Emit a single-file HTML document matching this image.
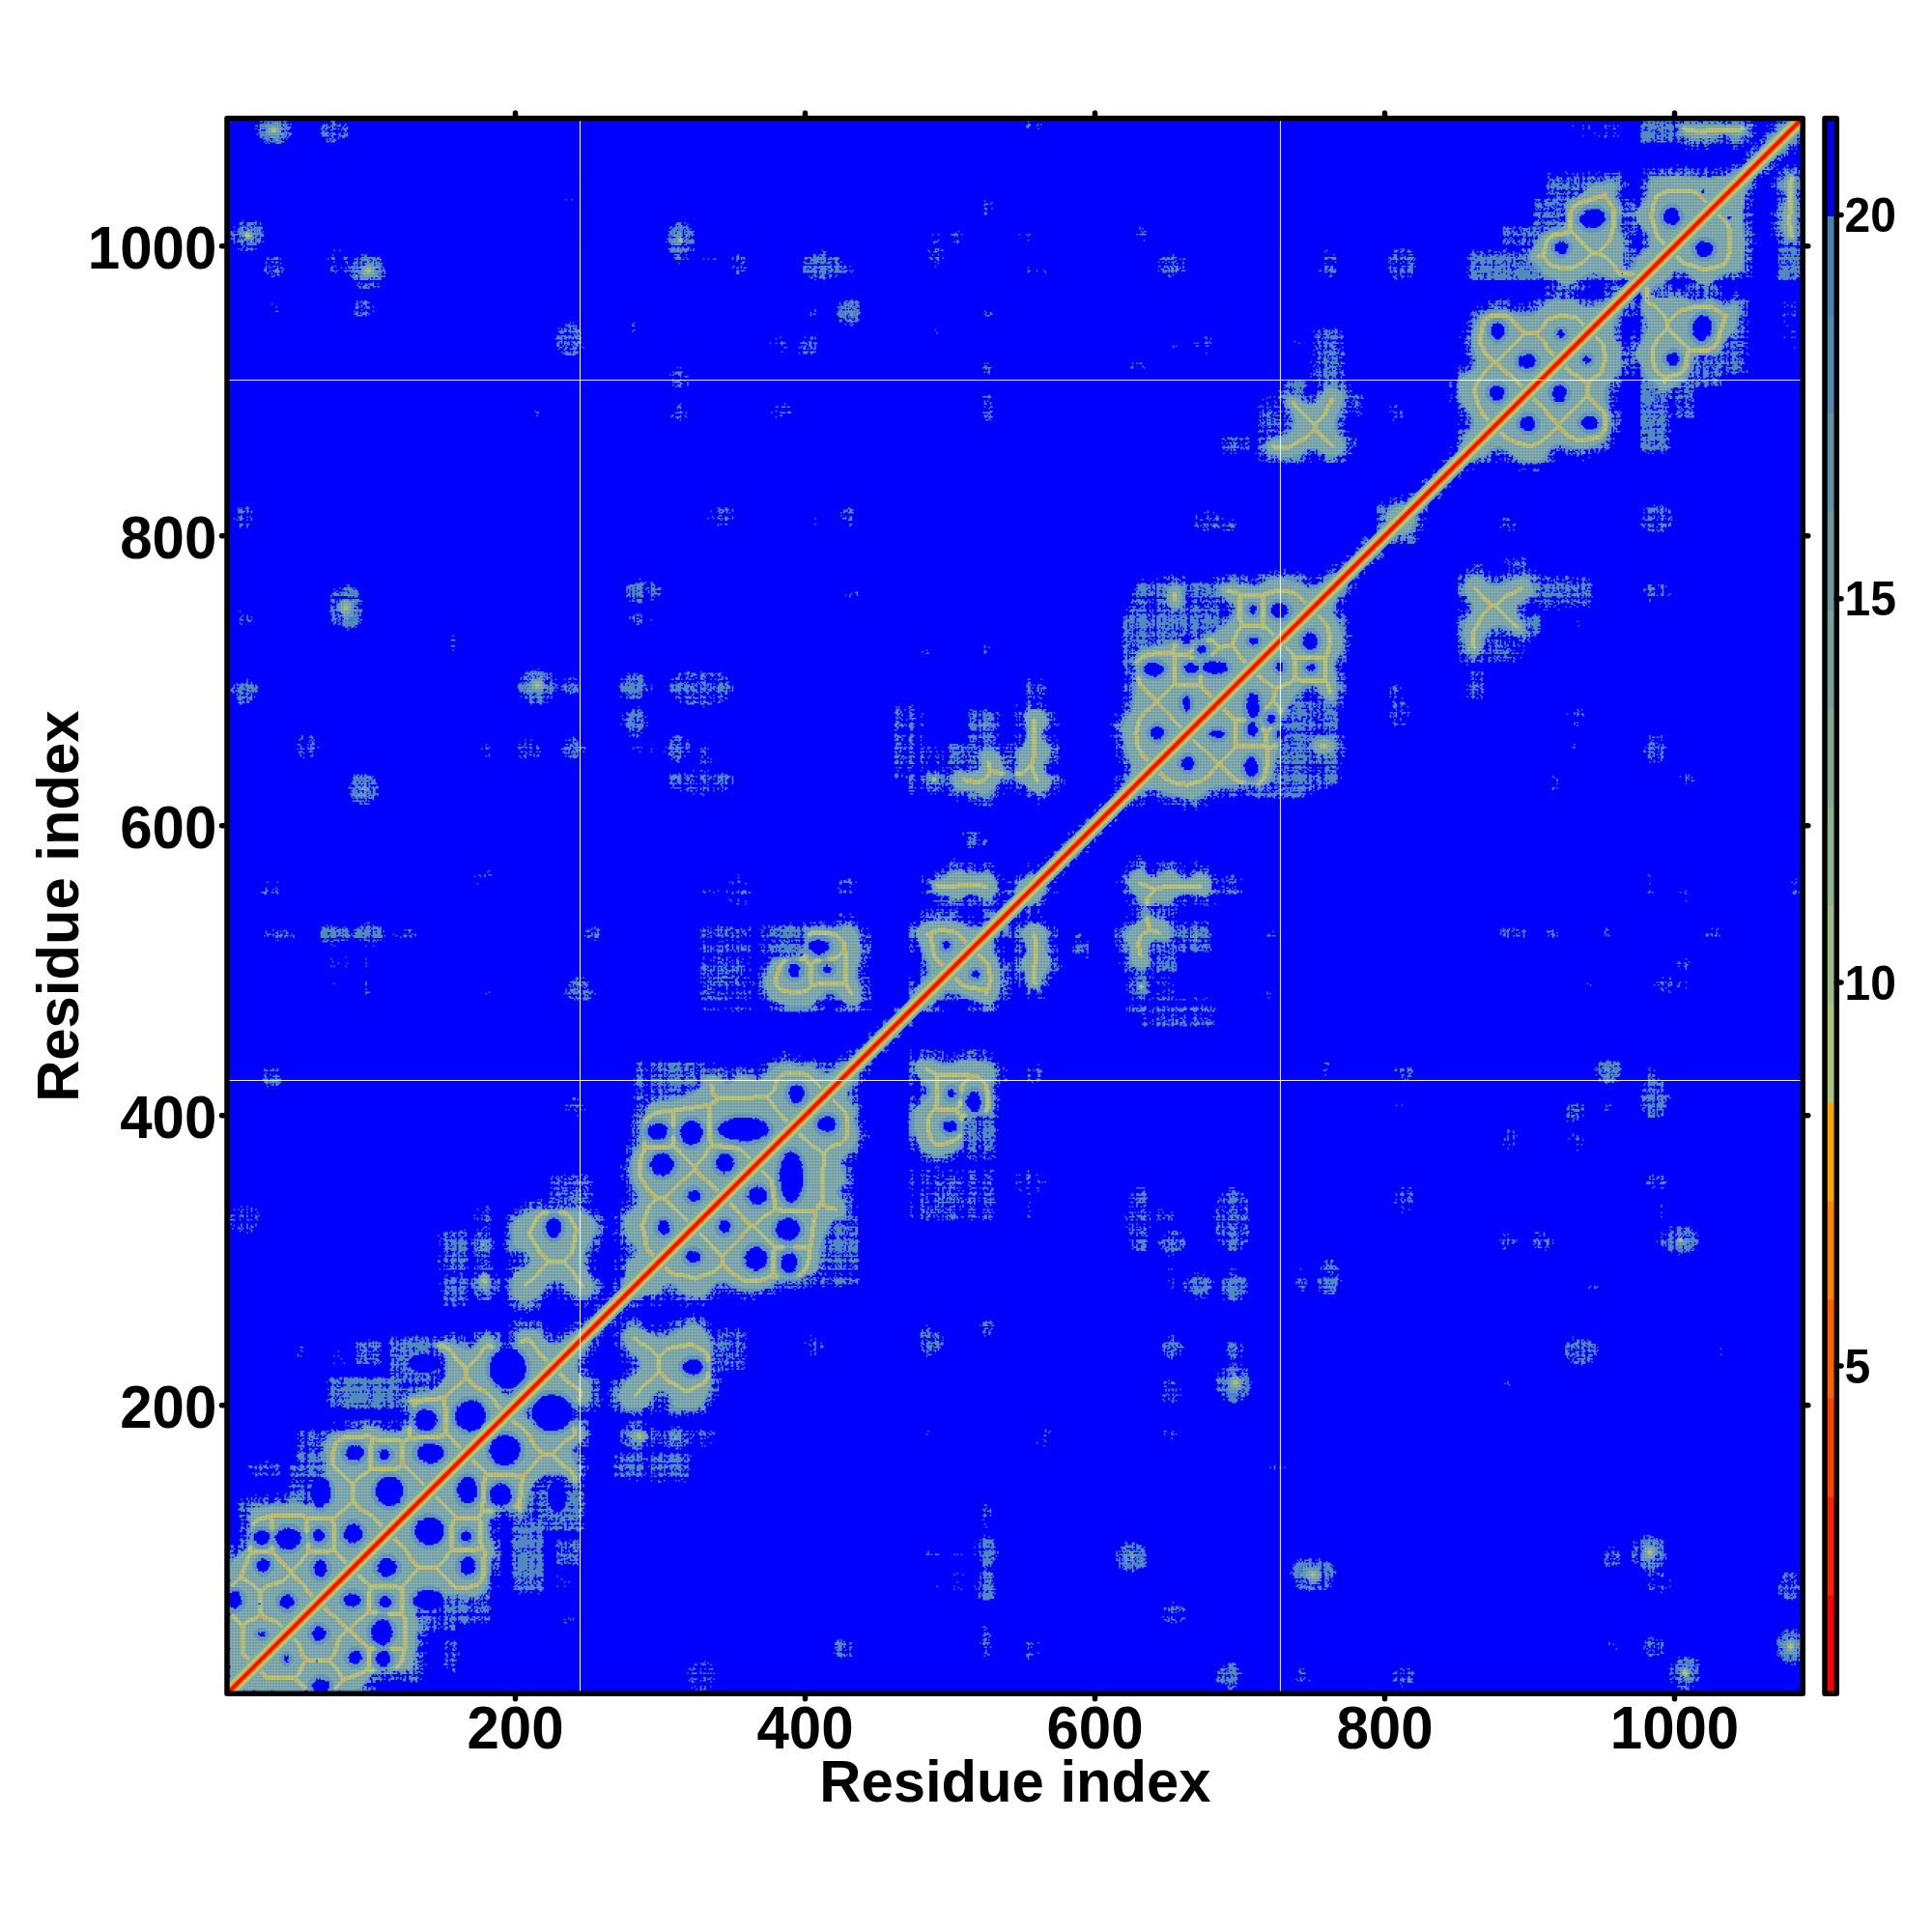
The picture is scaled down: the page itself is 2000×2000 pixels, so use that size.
<!DOCTYPE html>
<html><head><meta charset="utf-8"><title>Residue distance map</title>
<style>
html,body{margin:0;padding:0;background:#fff;}
body{width:2000px;height:2000px;overflow:hidden;}
svg{display:block;}
text{font-family:"Liberation Sans",sans-serif;font-weight:bold;fill:#000;}
</style></head><body>
<svg width="2000" height="2000" viewBox="0 0 2000 2000">
<defs>
<clipPath id="cp"><rect x="237" y="124.5" width="1627" height="1626.5"/></clipPath>
<pattern id="pd" patternUnits="userSpaceOnUse" x="0" y="0.5" width="2" height="2">
<rect width="2" height="2" fill="rgb(92,144,194)"/><rect x="0" y="0" width="1" height="1" fill="rgb(128,170,172)"/><rect x="1" y="1" width="1" height="1" fill="rgb(84,138,192)"/>
</pattern>
<pattern id="p1" patternUnits="userSpaceOnUse" x="0" y="0.5" width="2" height="2">
<rect width="2" height="2" fill="rgb(120,164,176)"/><rect x="0" y="0" width="1" height="1" fill="rgb(160,190,142)"/><rect x="1" y="1" width="1" height="1" fill="rgb(98,148,188)"/>
</pattern>
<pattern id="p2" patternUnits="userSpaceOnUse" x="0" y="0.5" width="2" height="2">
<rect width="2" height="2" fill="rgb(175,198,128)"/><rect x="0" y="0" width="1" height="1" fill="rgb(215,200,90)"/><rect x="1" y="1" width="1" height="1" fill="rgb(140,178,158)"/>
</pattern>
</defs>
<rect width="2000" height="2000" fill="#fff"/>
<rect x="235" y="122.5" width="1631.25" height="1630.75" fill="rgb(0,0,255)"/>
<g clip-path="url(#cp)" fill="none">
<g transform="translate(232.75 1754.75) scale(1.5 -1.5)" stroke-width="1.05">
<path stroke="rgb(84,137,190)" d="M49 0h1m1 0h1m22 0h1m8 0h1m5 0h1M97 1h1m1 0h1M97 3h3m228 0h1M99 4h2m1 0h2m221 0h1m2 0h1m1 0h2m361 0h2m310 0h1m2 0h3M100 5h1m1 0h2m218 0h1m5 0h1m2 0h1m360 0h4m309 0h1m1 0h3M101 6h1m222 0h1m3 0h1m2 0h1m3 0h1m356 0h1m2 0h3m114 0h1m189 0h7m1 0h1m2 0h1M693 7h1m314 0h1M688 8h1m1 0h2m1 0h1m1 0h1m1 0h2m112 0h1m191 0h1m4 0h1m1 0h1M102 9h2m24 0h1m3 0h1m189 0h2m11 0h1m349 0h1m1 0h3m2 0h4m1 0h1m115 0h1m2 0h4m178 0h1m4 0h3m3 0h1m1 0h2M103 10h1m3 0h1m5 0h1m9 0h2m3 0h2m1 0h2m187 0h1m1 0h1m5 0h1m1 0h2m352 0h14m42 0h1m1 0h2m4 0h1m57 0h3m2 0h3m2 0h3m185 0h1m2 0h1m3 0h1m1 0h1m1 0h2M106 11h3m1 0h1m2 0h4m1 0h1m2 0h1m1 0h2m2 0h6m2 0h1m185 0h1m1 0h3m5 0h1m1 0h2m2 0h1m346 0h2m1 0h3m1 0h8m40 0h1m2 0h1m1 0h1m62 0h2m2 0h4m1 0h4m177 0h2m2 0h1m13 0h2M104 12h1m1 0h1m8 0h2m1 0h2m1 0h1m2 0h1m2 0h7m188 0h1m7 0h2m3 0h1m349 0h2m1 0h2m1 0h2m1 0h5m43 0h1m2 0h1m62 0h1m3 0h1m3 0h2m181 0h1m1 0h2m11 0h1m1 0h2M106 13h1m3 0h1m13 0h1m2 0h2m3 0h1m552 0h1m2 0h2m4 0h2m1 0h1m119 0h1m182 0h1m12 0h1M110 14h1m3 0h1m6 0h1m7 0h1m559 0h1m1 0h1m2 0h1m1 0h3m120 0h1m177 0h1m14 0h2M132 15h1m2 0h2m182 0h1m2 0h4m2 0h1m1 0h2m1 0h1m1 0h1m1 0h1m347 0h17m40 0h4m60 0h3m2 0h1m1 0h1m2 0h5m176 0h3m1 0h1m12 0h1m1 0h1M131 16h1m1 0h2m23 0h1m169 0h1m356 0h2m1 0h1m2 0h1m1 0h5m43 0h2m65 0h1m8 0h1m1 0h1m178 0h1m2 0h2m11 0h3M157 17h2m163 0h1m364 0h3m2 0h2m1 0h3m43 0h1m71 0h1m184 0h1m2 0h2m11 0h3M135 18h2m20 0h2m161 0h2m1 0h2m3 0h1m2 0h1m2 0h3m350 0h5m1 0h7m42 0h1m1 0h1m66 0h2m3 0h2m179 0h3m1 0h1m14 0h1M153 19h1m169 0h1m368 0h6m300 0h1m2 0h3m8 0h1m2 0h2M134 20h2m21 0h1m531 0h1m3 0h3m305 0h2m7 0h3m1 0h1m1 0h1M136 21h1m1 0h1m12 0h3m2 0h3m165 0h2m3 0h3m3 0h1m356 0h6m300 0h1m2 0h1m8 0h2m3 0h3m63 0h1m1 0h1M152 22h1m175 0h1m1 0h1m2 0h1m359 0h1m1 0h2m306 0h3m1 0h1m1 0h1m1 0h3m63 0h1m5 0h1M135 23h1m17 0h1m3 0h1m173 0h1m670 0h4m3 0h5m64 0h1m1 0h1M136 24h1m15 0h2m1 0h5m843 0h11m1 0h2m58 0h3m1 0h2m2 0h2m1 0h2M152 25h1m3 0h2m396 0h1m452 0h3m2 0h2m61 0h5m2 0h3m1 0h1M134 26h2m17 0h1m4 0h1m266 0h1m128 0h1m448 0h1m3 0h2m1 0h1m63 0h1m1 0h4m2 0h3M134 27h3m16 0h1m3 0h2m264 0h3m1 0h2m2 0h2m91 0h1m28 0h2m428 0h2m87 0h1m1 0h1m2 0h1m1 0h1m1 0h1m3 0h3m1 0h1M136 28h1m15 0h2m3 0h3m1 0h1m260 0h6m1 0h1m1 0h1m94 0h2m25 0h5m424 0h5m1 0h2m81 0h1m1 0h1m1 0h1m12 0h1M135 29h2m1 0h1m13 0h1m3 0h2m3 0h1m258 0h1m1 0h4m5 0h1m92 0h2m29 0h1m5 0h1m419 0h1m9 0h2m79 0h1M423 30h1m101 0h1m456 0h1m3 0h1m4 0h1m79 0h1m1 0h3m9 0h2M157 31h2m263 0h4m2 0h1m2 0h1m93 0h1m457 0h1m1 0h1m86 0h2m13 0h3M152 32h1m4 0h1m1 0h1m261 0h1m1 0h3m5 0h1m122 0h1m405 0h1m18 0h1m1 0h1m7 0h1m1 0h1m80 0h1m12 0h1m4 0h1M152 33h2m4 0h1m262 0h5m1 0h1m3 0h2m91 0h2m2 0h1m25 0h1m1 0h1m422 0h1m3 0h1m2 0h1m2 0h1m1 0h1m80 0h1m14 0h1M135 34h1m21 0h2m264 0h3m1 0h1m552 0h1m1 0h2m2 0h1m4 0h2m80 0h1m12 0h2M135 35h2m15 0h1m2 0h2m1 0h2m261 0h8m2 0h1m91 0h2m1 0h1m27 0h2m1 0h1m397 0h1m2 0h1m23 0h3m3 0h2m1 0h2m78 0h2m14 0h2M136 36h1m2 0h1m12 0h2m2 0h4m261 0h5m1 0h1m3 0h2m88 0h1m1 0h5m25 0h2m1 0h1m4 0h1m393 0h1m24 0h7m2 0h1m1 0h2m78 0h1m16 0h4M153 37h2m3 0h1m263 0h2m1 0h1m1 0h1m96 0h1m455 0h1m1 0h2m87 0h2m1 0h1m10 0h2M135 38h1m287 0h1m1 0h1m97 0h3m1 0h1m457 0h1m2 0h1m2 0h1m79 0h3m1 0h1m9 0h2m1 0h1M524 39h2m456 0h2m1 0h1m86 0h1m2 0h2m7 0h1m2 0h1M527 40h1m456 0h1m87 0h1m1 0h3m9 0h2M136 41h3m384 0h2m3 0h1m546 0h3m1 0h2m1 0h5M139 42h1m384 0h4m546 0h1m1 0h4m2 0h1m1 0h1m1 0h1M136 43h1m387 0h1m1 0h1m548 0h1m2 0h1m1 0h3m1 0h1M137 44h1m6 0h1m931 0h3m2 0h2M137 45h4m3 0h1m7 0h1m3 0h3m365 0h1m552 0h2m3 0h1m1 0h1M138 46h3m3 0h2m1 0h1m3 0h3m2 0h3m366 0h1M137 47h5m1 0h3m3 0h1m2 0h2m1 0h4m364 0h2M138 48h2m4 0h2m5 0h1m3 0h4M0 49h1m136 0h2m1 0h1m3 0h1m2 0h2m2 0h3m3 0h1m7 0h1M137 50h5m2 0h2m1 0h1m3 0h3m2 0h2m4 0h1m1 0h3m1 0h1m3 0h1m4 0h1m2 0h1m53 0h2m417 0h1m2 0h1M0 51h1m136 0h3m1 0h1m2 0h2m6 0h1m2 0h2m1 0h1m4 0h5m4 0h1m477 0h2m4 0h1m2 0h1M138 52h5m1 0h1m3 0h1m2 0h3m1 0h5m1 0h7m1 0h4m2 0h2m2 0h4m51 0h1m3 0h1m1 0h1m407 0h2m1 0h1m1 0h3m4 0h1M136 53h6m1 0h3m1 0h1m4 0h2m1 0h5m1 0h8m1 0h1m1 0h3m2 0h1m1 0h4m54 0h1m2 0h1m410 0h1m1 0h1m6 0h3M137 54h6m1 0h1m3 0h1m2 0h3m2 0h3m2 0h7m3 0h2m1 0h2m1 0h1m1 0h1m2 0h1m464 0h1m2 0h1m2 0h1M136 55h1m2 0h1m12 0h1m1 0h1m1 0h1m6 0h1m3 0h1M152 56h1m4 0h2M134 57h1m1 0h5m2 0h3m5 0h2m1 0h2m1 0h3m1 0h2m1 0h3m6 0h3m1 0h1m1 0h1m1 0h1m471 0h2m1 0h1M135 58h6m2 0h3m2 0h1m2 0h17m1 0h2m1 0h3m1 0h6m469 0h1m1 0h1m4 0h1m2 0h1M135 59h1m8 0h2m2 0h1m3 0h7m2 0h7m2 0h1m2 0h2m1 0h1m1 0h5m465 0h1m2 0h6m2 0h1m1 0h2M148 60h1m2 0h9m1 0h9m2 0h1m1 0h6m1 0h1m1 0h1m464 0h2m1 0h1m1 0h2m1 0h3m1 0h2M151 61h4m1 0h14m2 0h3m2 0h6m470 0h2m1 0h2m1 0h1M151 62h4m2 0h2m2 0h6m3 0h1m6 0h1m2 0h1M152 63h1m3 0h3m2 0h2m1 0h1m5 0h1m1 0h2m1 0h1m1 0h2M151 64h3m1 0h4m2 0h7m4 0h1m1 0h1m2 0h1m1 0h2m473 0h1M155 65h5m1 0h3m11 0h1M154 66h1m1 0h1m20 0h1m2 0h2m341 0h5m550 0h1m2 0h1M180 67h3m337 0h1m2 0h8m545 0h8M180 68h3m337 0h2m1 0h8m545 0h4m2 0h3M520 69h1m1 0h8m546 0h3m1 0h2m1 0h1M182 70h1m20 0h1m12 0h1m303 0h2m1 0h7m1 0h1m540 0h3m1 0h4m1 0h4M182 71h1m21 0h1m2 0h1m3 0h1m309 0h1m1 0h2m2 0h4m460 0h1m80 0h1m3 0h1m1 0h1m3 0h1M204 72h1m3 0h1m8 0h2m305 0h2m1 0h2m219 0h1m324 0h2m2 0h1m4 0h1M183 73h1m15 0h7m1 0h7m2 0h4m283 0h1m4 0h1m9 0h1m1 0h1m2 0h9m210 0h1m3 0h1m1 0h5m2 0h2m1 0h2m223 0h3m6 0h1m79 0h1m1 0h1m1 0h1m1 0h1m1 0h1m2 0h1m2 0h1M0 74h1m199 0h1m1 0h18m286 0h1m13 0h1m2 0h7m211 0h11m2 0h3m3 0h1m222 0h1m1 0h2m4 0h2m1 0h1m77 0h2m1 0h4m1 0h7M188 75h1m10 0h6m1 0h8m1 0h4m10 0h1m4 0h1m256 0h1m11 0h1m13 0h1m3 0h1m1 0h8m208 0h2m1 0h6m1 0h1m4 0h3m2 0h3m1 0h1m219 0h1m5 0h1m1 0h2m4 0h1m74 0h3m2 0h2m2 0h1m1 0h4M201 76h1m3 0h1m2 0h1m2 0h2m2 0h3m303 0h1m1 0h5m1 0h1m210 0h4m1 0h1m13 0h3m220 0h1m3 0h1m86 0h1m3 0h1m3 0h1m2 0h1M200 77h1m1 0h2m2 0h3m1 0h2m1 0h2m1 0h3m302 0h1m2 0h1m2 0h2m1 0h1m212 0h1m2 0h1m1 0h1m4 0h3m3 0h2m1 0h1m220 0h1m99 0h1M200 78h2m1 0h2m2 0h5m1 0h1m1 0h3m16 0h1m2 0h1m267 0h1m14 0h2m2 0h5m210 0h1m1 0h2m1 0h3m12 0h2m313 0h2m1 0h1m3 0h1m1 0h1M201 79h6m1 0h1m1 0h2m1 0h1m1 0h2m1 0h2m304 0h6m209 0h2m1 0h3m16 0h1m2 0h1m232 0h1m78 0h3m4 0h2M200 80h1m1 0h3m1 0h1m1 0h1m1 0h3m5 0h2m12 0h1m288 0h1m2 0h1m1 0h1m1 0h1m230 0h3m223 0h1m90 0h1m3 0h1M199 81h1m1 0h3m2 0h2m1 0h4m2 0h1m305 0h1m1 0h7m208 0h4m17 0h3m1 0h1m311 0h2m4 0h2M199 82h3m1 0h6m1 0h4m1 0h5m9 0h1m291 0h1m2 0h2m1 0h2m1 0h1m207 0h3m20 0h1m1 0h2m218 0h1m7 0h2m82 0h4m1 0h2m1 0h1M0 83h1m185 0h1m1 0h2m9 0h6m1 0h8m1 0h5m283 0h1m5 0h1m13 0h7m207 0h5m19 0h4m217 0h2m1 0h1m3 0h1m1 0h2m83 0h2m1 0h3m2 0h1M198 84h22m285 0h1m15 0h1m1 0h7m205 0h1m1 0h4m20 0h1m1 0h2m1 0h1m216 0h1m4 0h2m2 0h1m83 0h3m2 0h2M186 85h1m2 0h1m8 0h7m1 0h3m1 0h9m304 0h3m1 0h1m98 0h1m109 0h1m1 0h5m17 0h1m1 0h5m216 0h1m1 0h2M200 86h1m1 0h5m1 0h12m304 0h1m97 0h1m3 0h2m110 0h4m1 0h1m17 0h4m215 0h1m2 0h1m1 0h1M187 87h2m10 0h14m1 0h6m305 0h1m94 0h3m1 0h1m1 0h1m2 0h1m107 0h6m13 0h1m3 0h5m214 0h1m2 0h2m1 0h2M186 88h1m1 0h1m10 0h10m1 0h4m1 0h4m305 0h1m92 0h1m1 0h1m1 0h6m2 0h3m1 0h1m103 0h5m1 0h1m16 0h4m214 0h3m1 0h5m1 0h1M0 89h1m187 0h2m9 0h2m1 0h18m303 0h2m1 0h1m1 0h1m88 0h1m2 0h6m2 0h8m102 0h6m1 0h1m7 0h1m2 0h1m1 0h5m1 0h1m188 0h1m1 0h1m21 0h5m2 0h2m1 0h3m1 0h1M187 90h2m9 0h3m1 0h7m1 0h4m1 0h5m12 0h1m7 0h1m2 0h1m279 0h4m1 0h1m88 0h1m1 0h2m1 0h2m1 0h1m1 0h8m102 0h1m1 0h5m3 0h1m6 0h1m1 0h1m1 0h6m189 0h2m2 0h2m1 0h1m16 0h2m6 0h2m1 0h2m1 0h1M187 91h1m1 0h1m8 0h16m1 0h5m9 0h4m1 0h2m1 0h2m1 0h4m279 0h7m87 0h4m2 0h1m4 0h1m3 0h4m103 0h9m2 0h1m2 0h4m1 0h5m189 0h4m1 0h6m10 0h1m3 0h2m8 0h6M200 92h1m1 0h7m1 0h3m3 0h3m10 0h2m3 0h1m1 0h1m5 0h1m280 0h7m87 0h1m2 0h1m4 0h1m3 0h5m1 0h1m105 0h1m1 0h1m1 0h1m2 0h2m5 0h2m3 0h1m191 0h1m5 0h1m13 0h1m1 0h2m3 0h1M188 93h1m9 0h3m1 0h12m1 0h5m9 0h4m1 0h1m3 0h6m277 0h1m1 0h6m1 0h1m84 0h3m1 0h2m8 0h3m1 0h2m105 0h1m1 0h1m2 0h5m3 0h1m1 0h1m196 0h1m1 0h1m6 0h1m9 0h2m16 0h1m1 0h1M199 94h2m1 0h12m1 0h4m11 0h1m1 0h5m1 0h1m2 0h3m279 0h9m83 0h1m1 0h1m13 0h5m106 0h1m5 0h2m5 0h1m196 0h2m2 0h1m1 0h2m2 0h1m11 0h1m13 0h5m1 0h1M189 95h1m9 0h2m1 0h7m2 0h8m10 0h1m4 0h1m1 0h3m1 0h3m280 0h1m1 0h2m2 0h2m86 0h1m13 0h1m1 0h1m319 0h2m5 0h2m9 0h2m17 0h3m1 0h1M198 96h22m9 0h1m1 0h5m1 0h7m277 0h8m3 0h1m82 0h2m2 0h1m10 0h1m1 0h1m1 0h2m317 0h2m2 0h1m2 0h3m8 0h3m19 0h1M1 97h1m1 0h1m186 0h1m7 0h3m1 0h7m1 0h10m9 0h12m1 0h2m240 0h2m1 0h1m2 0h3m10 0h1m1 0h1m2 0h1m8 0h1m3 0h1m1 0h8m84 0h1m1 0h3m12 0h4m316 0h4m2 0h5m8 0h4m17 0h3M3 98h1m195 0h2m3 0h8m1 0h1m2 0h2m11 0h2m1 0h1m5 0h1m246 0h1m35 0h1m2 0h8m1 0h1m81 0h1m4 0h1m1 0h1m10 0h2m319 0h1m2 0h2m2 0h1m9 0h1m1 0h1m18 0h1M1 99h1m1 0h2m185 0h1m7 0h2m1 0h4m1 0h1m1 0h6m1 0h4m10 0h1m2 0h1m2 0h1m1 0h1m2 0h4m1 0h1m239 0h1m34 0h2m1 0h9m1 0h1m81 0h1m1 0h1m1 0h2m1 0h1m5 0h1m1 0h5m318 0h1m3 0h2m2 0h1m9 0h2m1 0h1m16 0h2M4 100h2m194 0h1m1 0h3m1 0h3m1 0h1m2 0h5m14 0h2m3 0h1m3 0h3m281 0h1m1 0h2m1 0h1m88 0h1m1 0h4m2 0h1m1 0h1m2 0h3m338 0h2m15 0h1m1 0h1M6 101h1m192 0h4m1 0h1m2 0h1m3 0h1m3 0h3m14 0h1m2 0h1m4 0h2m1 0h1m280 0h1m4 0h1m89 0h3m4 0h1m2 0h5m339 0h2m2 0h1m13 0h2M4 102h2m3 0h1m189 0h20m11 0h1m1 0h4m1 0h2m1 0h5m272 0h1m2 0h2m1 0h9m86 0h10m1 0h3m2 0h1m320 0h1m2 0h1m13 0h4m1 0h1m13 0h2M4 103h2m3 0h2m178 0h1m8 0h11m1 0h4m1 0h5m8 0h3m1 0h1m2 0h1m2 0h4m1 0h1m277 0h1m1 0h5m1 0h2m90 0h6m2 0h4m339 0h1m4 0h1m10 0h1m1 0h3M12 104h1m176 0h1m9 0h15m1 0h4m10 0h1m1 0h2m1 0h2m2 0h7m275 0h1m2 0h3m1 0h1m1 0h2m91 0h1m3 0h2m1 0h1m347 0h1m10 0h1m1 0h2M198 105h16m1 0h5m10 0h3m1 0h2m1 0h1m2 0h2m1 0h1m277 0h1m1 0h8m90 0h2m3 0h2m344 0h1m1 0h1m2 0h1m10 0h2m1 0h2M11 106h3m174 0h2m7 0h23m9 0h1m1 0h1m3 0h1m4 0h4m279 0h7m442 0h1m4 0h2m1 0h2m2 0h1m2 0h1m1 0h1m1 0h2M10 107h2m176 0h2m8 0h3m1 0h18m10 0h1m7 0h1m2 0h1m1 0h1m277 0h1m1 0h8m446 0h3m1 0h1m2 0h5m1 0h2M11 108h1m187 0h2m2 0h6m1 0h2m1 0h1m2 0h3m304 0h2m454 0h1m2 0h2m2 0h1m1 0h1M186 109h1m13 0h13m2 0h5m307 0h1m451 0h1m3 0h3M11 110h1m1 0h2m184 0h6m1 0h3m1 0h4m1 0h4m305 0h1m454 0h1m1 0h3M204 111h1m1 0h1m1 0h1m1 0h2m4 0h1m1 0h1M185 112h1m12 0h1m1 0h1m1 0h10m3 0h4M10 113h2m173 0h1m2 0h1m10 0h2m1 0h12m1 0h4m24 0h1M11 114h1m2 0h1m171 0h1m11 0h22m2 0h1m1 0h2m2 0h2m4 0h5m3 0h4M11 115h2m175 0h2m8 0h23m1 0h1m1 0h9m1 0h2m1 0h11M11 116h2m186 0h4m1 0h2m1 0h2m2 0h10m1 0h1m1 0h1m1 0h7m1 0h2m1 0h4m1 0h2m2 0h1m278 0h1M204 117h1m2 0h1m3 0h3m2 0h2m1 0h1m8 0h1m5 0h2m3 0h2M11 118h2m176 0h1m9 0h5m1 0h9m1 0h4m1 0h3m1 0h7m1 0h4m1 0h9m1 0h1m276 0h1M12 119h1m186 0h2m1 0h2m1 0h1m1 0h1m1 0h6m1 0h7m1 0h1m1 0h7m1 0h2m2 0h2m1 0h4M201 120h4m2 0h2m2 0h1m4 0h3m9 0h1m2 0h4m3 0h1m3 0h1M11 121h2m1 0h1m173 0h1m7 0h1m2 0h1m1 0h1m5 0h1m2 0h3m2 0h4m1 0h1m1 0h2m1 0h2m1 0h2m1 0h13m1 0h1m277 0h1M206 122h1m4 0h1m1 0h1m4 0h1m4 0h3m2 0h2m1 0h4m2 0h4m1 0h2m1 0h1M10 123h2m184 0h2m10 0h2m1 0h1m4 0h5m1 0h1m1 0h7m1 0h14m278 0h1M10 124h4m180 0h1m16 0h1m4 0h17m1 0h14m275 0h3m2 0h1M194 125h1m1 0h1m14 0h1m7 0h4m2 0h2m1 0h2m1 0h2m1 0h2m1 0h2m1 0h1m1 0h2m1 0h1m278 0h1M218 126h1m3 0h4m3 0h1m1 0h2m1 0h1m3 0h1m1 0h5m2 0h1m280 0h1M11 127h3m198 0h1m3 0h4m1 0h2m1 0h3m5 0h15m277 0h1m1 0h3M9 128h5m198 0h2m1 0h11m7 0h14m276 0h2m3 0h1M10 129h3m1 0h1m197 0h1m4 0h1m4 0h3m9 0h5m1 0h4m1 0h3m277 0h1M11 130h2m205 0h1m3 0h1m1 0h1m10 0h2m4 0h3M10 131h3m3 0h1m195 0h1m3 0h7m12 0h9m1 0h3m276 0h2M9 132h5m1 0h1m197 0h1m1 0h5m1 0h3m11 0h4m1 0h9M12 133h1m3 0h1m195 0h1m2 0h1m1 0h4m1 0h1m12 0h9m1 0h1m1 0h1M16 134h1m3 0h1m5 0h2m29 0h1m159 0h1m2 0h3m15 0h8M11 135h1m3 0h1m2 0h1m1 0h1m2 0h1m2 0h2m1 0h1m4 0h2m2 0h1m19 0h2m158 0h2m2 0h1m13 0h9m1 0h1M15 136h1m2 0h1m2 0h1m2 0h1m2 0h3m5 0h2m4 0h1m1 0h1m9 0h1m1 0h1m1 0h2m154 0h1m2 0h7m13 0h12M41 137h1m2 0h2m1 0h1m1 0h3m1 0h2m2 0h2m153 0h1m1 0h1m2 0h2m3 0h1m13 0h1m1 0h4m1 0h3M21 138h1m7 0h1m11 0h1m3 0h10m2 0h2m154 0h1m3 0h2m2 0h2m14 0h7m2 0h2M36 139h1m5 0h1m2 0h4m1 0h6m1 0h2m154 0h1m1 0h8m13 0h12M45 140h3m1 0h2m1 0h3m2 0h2m156 0h2m1 0h5m12 0h4m1 0h3m1 0h3M47 141h1m2 0h5m162 0h4m16 0h1m2 0h4M52 142h1m1 0h1m167 0h1m19 0h1M47 143h1m5 0h1m3 0h2m164 0h1m17 0h1m3 0h1M44 144h11m2 0h3m157 0h4m1 0h2m10 0h5M46 145h3m1 0h2m1 0h1m3 0h3m159 0h1m3 0h2m10 0h1m1 0h1M46 147h1m2 0h2m2 0h1m164 0h1m3 0h4m8 0h1m64 0h2m16 0h1M49 148h1m2 0h1m1 0h1m3 0h3m159 0h1m3 0h1m7 0h1m51 0h1m9 0h1m4 0h1m3 0h1m7 0h1m1 0h1M47 149h1m181 0h2m3 0h1m12 0h1m31 0h1m35 0h1M21 151h1m24 0h1m1 0h3m1 0h1m1 0h1m2 0h2m1 0h3m1 0h1m204 0h1m3 0h3m1 0h1m1 0h1m4 0h2m1 0h1m6 0h1m1 0h2m2 0h2m4 0h1m1 0h1m2 0h1m2 0h2m1 0h3M21 152h2m1 0h2m2 0h2m2 0h2m1 0h2m8 0h3m1 0h16m183 0h1m20 0h3m1 0h3m1 0h11m1 0h1m9 0h6m2 0h13M19 153h1m1 0h1m1 0h2m1 0h3m4 0h1m2 0h2m8 0h2m1 0h2m1 0h3m3 0h5m1 0h1m183 0h1m20 0h2m1 0h3m1 0h4m1 0h2m1 0h4m2 0h1m3 0h1m1 0h1m2 0h3m1 0h1m1 0h10m1 0h1m1 0h2M37 154h1m17 0h1m1 0h6m3 0h1m210 0h2m1 0h3m3 0h1m7 0h1m8 0h1m4 0h2m1 0h1m2 0h1M24 155h1m10 0h1m11 0h2m2 0h3m3 0h4m3 0h2m182 0h1m24 0h2m4 0h1m1 0h1m2 0h3m7 0h1m1 0h1m3 0h1m2 0h1m4 0h1m1 0h1m2 0h2m1 0h1m2 0h1M21 156h1m2 0h2m3 0h1m5 0h2m8 0h4m1 0h6m2 0h4m1 0h4m183 0h1m21 0h3m1 0h1m2 0h4m1 0h5m5 0h3m1 0h4m1 0h1m3 0h2m1 0h6m1 0h1m2 0h1m403 0h1m3 0h1M17 157h2m1 0h2m1 0h3m1 0h3m1 0h2m1 0h1m1 0h1m8 0h6m1 0h3m1 0h10m182 0h1m1 0h1m18 0h6m1 0h7m1 0h5m5 0h12m1 0h3m1 0h4m2 0h3m401 0h1m2 0h1m3 0h1m2 0h1M16 158h3m2 0h1m2 0h1m1 0h3m2 0h1m1 0h5m7 0h4m2 0h4m1 0h10m182 0h1m1 0h1m17 0h3m1 0h4m1 0h6m1 0h5m3 0h1m1 0h1m2 0h1m1 0h3m1 0h12m1 0h4m404 0h1m3 0h1M24 159h1m3 0h1m3 0h1m2 0h2m15 0h2m3 0h2m1 0h2m3 0h1m203 0h1m2 0h2m1 0h8m2 0h3m6 0h3m2 0h3m1 0h2m2 0h9m3 0h1M58 160h1m2 0h1m226 0h1m16 0h1m6 0h1M28 161h2m22 0h3m2 0h9m179 0h3m22 0h1m2 0h2m2 0h1m1 0h3m3 0h1m8 0h1m1 0h2m1 0h16m2 0h3M50 162h1m1 0h3m2 0h9m207 0h15m3 0h1m2 0h3m1 0h4m1 0h1m2 0h10m1 0h1m1 0h2M51 163h5m2 0h5m1 0h2m180 0h3m24 0h3m1 0h3m1 0h2m1 0h2m1 0h5m2 0h8m1 0h1m2 0h11m2 0h2M50 164h5m2 0h8m204 0h2m1 0h3m2 0h6m1 0h4m6 0h1m1 0h2m1 0h3m3 0h1m1 0h3m1 0h4m1 0h1m2 0h1M49 165h6m2 0h6m1 0h1m179 0h4m21 0h2m3 0h1m2 0h1m2 0h3m1 0h4m6 0h2m3 0h3m1 0h11m3 0h1m1 0h1m1 0h1M50 166h5m2 0h6m1 0h1m208 0h1m1 0h1m2 0h1m2 0h1m2 0h2m1 0h1m12 0h2m1 0h1m3 0h3m1 0h4m2 0h3M51 167h5m2 0h4m2 0h1m208 0h1m5 0h1m2 0h1m1 0h1m1 0h2m7 0h1m4 0h2m6 0h1m3 0h1M50 168h1m2 0h1m6 0h2M52 169h1m5 0h1m1 0h2m181 0h1m40 0h1M52 170h2m4 0h2m2 0h2m180 0h1m36 0h7m23 0h2m1 0h1M52 171h1m1 0h1m226 0h1m1 0h2m2 0h1m18 0h1m5 0h1M50 172h5m3 0h1m1 0h2m1 0h2m184 0h2m26 0h4m1 0h2m2 0h1m1 0h1m2 0h1m2 0h2m7 0h1m1 0h1m1 0h1m2 0h1m3 0h2m1 0h1m11 0h1m1 0h1m233 0h1M53 173h1m3 0h3m1 0h1m1 0h1m184 0h1m27 0h4m11 0h1m12 0h1m1 0h2m2 0h1m1 0h1m1 0h1m2 0h1M53 174h2m2 0h5m2 0h1m185 0h1m23 0h3m2 0h1m14 0h1m1 0h1m2 0h3m1 0h2m2 0h1m7 0h1m2 0h2m1 0h1m6 0h2m5 0h1m224 0h1M52 175h1m1 0h1m2 0h1m2 0h1m2 0h1m1 0h1m183 0h2m22 0h1m2 0h1m2 0h1m15 0h1m7 0h1m1 0h2m9 0h4m246 0h1M52 176h1m5 0h3m212 0h1m2 0h2m16 0h1m1 0h1m3 0h1m16 0h3m245 0h1M50 177h1m2 0h2m2 0h2m1 0h5m1 0h1m207 0h1m3 0h1m16 0h2m1 0h1m2 0h1m1 0h2m1 0h1m8 0h2m2 0h1m1 0h1m6 0h2m1 0h1m321 0h1M58 178h4m1 0h1m209 0h2m21 0h1m6 0h1m18 0h1m10 0h1M52 179h3m2 0h5m2 0h1m208 0h2m22 0h1m1 0h2m1 0h3m1 0h1m8 0h1m1 0h1m5 0h1m4 0h1m2 0h1m233 0h2M50 180h1m1 0h2m4 0h2m1 0h2m1 0h1m1 0h3m204 0h2m1 0h1m18 0h1m1 0h2m1 0h1m2 0h1m12 0h4m1 0h1m1 0h1m3 0h5m2 0h2m1 0h1m146 0h1m163 0h1m4 0h2m1 0h1M52 181h2m3 0h5m4 0h3m204 0h5m21 0h1m3 0h1m2 0h1m20 0h2m1 0h2m1 0h1m2 0h2m230 0h1m84 0h1M52 182h3m4 0h1m1 0h1m5 0h2m1 0h2m201 0h2m1 0h3m16 0h3m1 0h1m3 0h1m1 0h3m1 0h1m5 0h1m2 0h2m2 0h1m2 0h1m2 0h3m4 0h1m149 0h1m80 0h1m2 0h1m78 0h2m4 0h1M60 183h1m12 0h1m200 0h2m1 0h2m15 0h1m13 0h1m1 0h1m2 0h1m1 0h1m12 0h1m237 0h1M277 184h1m3 0h1m12 0h2m14 0h1M112 185h2m163 0h1m4 0h1m1 0h1m2 0h1m20 0h1m3 0h2M83 186h1m1 0h1m2 0h1m20 0h1m4 0h1m135 0h1m26 0h1m1 0h4m2 0h2M87 187h1m2 0h2m157 0h2m30 0h1m1 0h1m1 0h1m4 0h1M75 188h1m7 0h1m3 0h4m2 0h1m12 0h2m5 0h1m1 0h1m5 0h1m157 0h4m1 0h4M83 189h1m1 0h1m3 0h1m1 0h1m3 0h1m7 0h2m1 0h2m7 0h1m2 0h1m131 0h1m28 0h1m2 0h1m1 0h4M97 190h1m1 0h1m148 0h1M242 191h2M311 192h1M211 193h1m30 0h2m38 0h1m4 0h1m20 0h1m5 0h1m4 0h1M124 194h2m114 0h1m40 0h2m4 0h1m6 0h1m11 0h1m1 0h1m2 0h4m14 0h1M211 195h1m30 0h1m30 0h1m11 0h1m21 0h1m1 0h1m8 0h1m6 0h2m4 0h1M121 196h1m1 0h1m1 0h1m83 0h1m34 0h1m2 0h1m1 0h2m4 0h1m13 0h1m27 0h1m2 0h1m30 0h1M106 197h1m16 0h1m121 0h1m5 0h1m17 0h2m23 0h1m9 0h2m25 0h1M84 198h2m4 0h2m1 0h1m2 0h2m1 0h1m3 0h1m1 0h3m4 0h1m1 0h2m125 0h1m61 0h1M73 199h1m1 0h1m5 0h5m1 0h5m1 0h7m1 0h8m1 0h1m2 0h4m1 0h2m1 0h1m131 0h1m4 0h1m8 0h2m30 0h2M73 200h3m1 0h2m1 0h1m1 0h17m1 0h11m1 0h5m1 0h2m136 0h3m6 0h1m3 0h2m29 0h1m3 0h1m30 0h1M73 201h1m1 0h2m1 0h2m1 0h5m1 0h2m2 0h1m4 0h1m2 0h1m1 0h6m2 0h2m3 0h3m1 0h1m1 0h2m131 0h1m1 0h2M73 202h3m1 0h1m1 0h3m1 0h15m1 0h9m1 0h2m1 0h5m1 0h3m136 0h1m8 0h1m2 0h1m33 0h1m31 0h1m318 0h1m40 0h3M70 203h1m2 0h3m1 0h21m1 0h2m1 0h9m1 0h4m2 0h3m135 0h3m7 0h1m32 0h3m32 0h1m313 0h1m4 0h2m1 0h1m36 0h6M71 204h5m2 0h3m1 0h36m2 0h1m135 0h1m3 0h1m5 0h1m30 0h1m1 0h1m3 0h1m30 0h2m1 0h1m309 0h1m3 0h1m2 0h1m34 0h1m2 0h7m2 0h2M73 205h2m1 0h1m2 0h1m2 0h1m1 0h1m1 0h13m3 0h8m2 0h5m1 0h2m136 0h2m77 0h1m315 0h1m2 0h1m38 0h5m1 0h1M74 206h2m1 0h1m1 0h22m1 0h14m2 0h1m3 0h1m134 0h1m8 0h1m34 0h1m346 0h1m6 0h1m35 0h6m1 0h1m2 0h3M71 207h1m1 0h3m1 0h2m2 0h5m1 0h12m1 0h11m1 0h10m144 0h1m71 0h1m1 0h1m306 0h3m1 0h1m2 0h1m1 0h2m1 0h1m28 0h2m2 0h1m1 0h3m1 0h2m1 0h3m1 0h1M72 208h9m1 0h19m1 0h15m1 0h1m1 0h1m2 0h1m133 0h1m6 0h1m385 0h1m3 0h1m33 0h2m1 0h2m3 0h1m2 0h1m2 0h2m1 0h2M73 209h3m2 0h1m2 0h1m1 0h2m1 0h2m1 0h1m1 0h1m1 0h2m1 0h1m1 0h2m2 0h1m1 0h4m1 0h1m2 0h4m2 0h2m3 0h1m72 0h1m494 0h2m8 0h1m1 0h3M73 210h3m1 0h18m1 0h5m1 0h14m2 0h2m1 0h1m134 0h1m8 0h2m72 0h2m308 0h1m1 0h1m2 0h1m1 0h1m28 0h7m10 0h1m1 0h3M71 211h1m1 0h27m1 0h25m67 0h1m1 0h1m62 0h1m7 0h1m71 0h3m308 0h1m1 0h1m1 0h2m1 0h1m2 0h1m24 0h7m12 0h1m2 0h1M73 212h4m3 0h18m1 0h1m2 0h6m1 0h2m2 0h7m1 0h1m5 0h3m1 0h1m1 0h1m3 0h1m119 0h1m8 0h1m73 0h1m344 0h2m1 0h1m2 0h1m14 0h2M73 213h3m1 0h3m2 0h5m1 0h4m1 0h8m1 0h7m1 0h1m2 0h7m2 0h1m5 0h1m3 0h1m3 0h1m1 0h2m118 0h1m81 0h1m307 0h2m35 0h1m2 0h1m17 0h1M74 214h1m2 0h1m6 0h4m1 0h1m5 0h3m2 0h1m1 0h1m3 0h2m6 0h3m2 0h1m17 0h1m130 0h1m420 0h2m13 0h1m1 0h2m178 0h1M74 215h3m1 0h2m1 0h11m1 0h5m1 0h9m1 0h2m1 0h5m1 0h1m2 0h1m6 0h1m3 0h2m5 0h2m114 0h1m1 0h1m10 0h3m69 0h1m307 0h1m2 0h1m1 0h3m29 0h2m3 0h1m14 0h2m176 0h1m1 0h1M70 216h1m2 0h7m2 0h40m1 0h2m2 0h2m2 0h2m3 0h1m2 0h2m116 0h2m7 0h2m2 0h1m68 0h2m1 0h1m305 0h2m3 0h2m30 0h4m1 0h1m17 0h1m176 0h1M72 217h7m3 0h29m1 0h10m1 0h2m2 0h3m1 0h4m1 0h4m1 0h1m2 0h1m110 0h1m1 0h1m10 0h3m68 0h2m310 0h1m32 0h5m15 0h1m1 0h1M72 218h4m1 0h1m1 0h2m1 0h16m1 0h1m2 0h15m1 0h7m1 0h3m1 0h4m1 0h7m2 0h1m2 0h1m106 0h4m80 0h2m1 0h2m341 0h4m16 0h1m1 0h1M73 219h2m4 0h2m1 0h3m1 0h2m1 0h3m1 0h1m2 0h2m5 0h1m1 0h3m1 0h1m4 0h4m1 0h1m3 0h3m1 0h2m2 0h3m1 0h2m2 0h3m2 0h2m106 0h1m433 0h1m1 0h2m1 0h1m10 0h1m1 0h3M115 220h2m1 0h2m1 0h1m1 0h3m2 0h1m2 0h1m1 0h2m1 0h1m2 0h3m2 0h1m3 0h1m125 0h1m410 0h1m3 0h1m2 0h1m10 0h3M118 221h2m4 0h2m1 0h2m2 0h2m1 0h1m1 0h1m1 0h3m561 0h1m2 0h1M114 222h3m1 0h2m1 0h1m1 0h18m1 0h1m1 0h1m2 0h1m105 0h1m21 0h1m409 0h1m2 0h2m2 0h2m9 0h3M121 223h2m1 0h1m1 0h1m1 0h2m2 0h1m10 0h3m1 0h1m100 0h1m91 0h1m348 0h1m2 0h1m1 0h2m6 0h1M114 224h3m1 0h2m2 0h3m1 0h5m14 0h1m1 0h2m100 0h2m26 0h1m63 0h1m1 0h1m2 0h1m344 0h2m3 0h1m2 0h1m2 0h1m1 0h2M114 225h2m2 0h1m2 0h8m18 0h1m100 0h2m29 0h2m59 0h2m1 0h1m1 0h3m2 0h1m2 0h2m1 0h2m330 0h2m1 0h4m3 0h4m1 0h1m1 0h1M115 226h2m1 0h2m1 0h1m1 0h3m1 0h1m153 0h1m58 0h1m1 0h2m10 0h1m3 0h1m334 0h4m1 0h1M115 227h2m1 0h2m3 0h2m215 0h1m2 0h1m5 0h2m2 0h2m340 0h1m2 0h1M103 228h1m10 0h12m155 0h1m60 0h1m2 0h2m3 0h1m2 0h1m3 0h1m335 0h1m2 0h2m3 0h1m234 0h1M75 229h1m6 0h1m8 0h3m1 0h5m3 0h2m1 0h1m7 0h3m1 0h2m1 0h6m22 0h1m98 0h1m31 0h1m61 0h1m2 0h3m1 0h2m2 0h2m1 0h1m1 0h1m336 0h1m1 0h1m233 0h3m2 0h3M91 230h4m2 0h2m3 0h2m1 0h1m1 0h1m7 0h2m1 0h2m3 0h2m24 0h1m100 0h1m23 0h1m2 0h1m1 0h1m1 0h1m57 0h1m1 0h2m1 0h4m1 0h2m1 0h6m571 0h1m1 0h4m1 0h3m2 0h1m1 0h1M91 231h1m1 0h1m2 0h2m6 0h3m8 0h2m2 0h4m1 0h3m120 0h1m93 0h1m1 0h1m1 0h2m8 0h1m574 0h1m3 0h1m1 0h2m2 0h2M80 232h1m9 0h2m1 0h2m1 0h10m9 0h2m1 0h10m20 0h1m130 0h1m61 0h1m1 0h1m2 0h2m2 0h2m2 0h1m2 0h2m294 0h1m40 0h1m1 0h1m230 0h1m2 0h1m2 0h6m1 0h4M94 233h1m1 0h2m2 0h1m1 0h1m15 0h1m1 0h4m3 0h2m148 0h1m68 0h1m1 0h3m300 0h1m1 0h1m40 0h1m1 0h2m228 0h1m4 0h1m6 0h1m1 0h2M50 234h1m1 0h1m22 0h1m2 0h1m12 0h7m4 0h1m1 0h2m8 0h16m14 0h1m2 0h1m1 0h1m124 0h1m64 0h5m2 0h3m1 0h1m1 0h3m1 0h1m2 0h1m124 0h1m165 0h2m1 0h2m39 0h4m3 0h1m224 0h1m1 0h2m2 0h3m1 0h3m2 0h3M50 235h1m40 0h1m2 0h1m1 0h2m1 0h1m1 0h6m7 0h6m1 0h1m1 0h3m1 0h7m6 0h1m3 0h2m104 0h1m2 0h1m19 0h2m64 0h5m1 0h2m1 0h3m1 0h3m1 0h1m47 0h1m2 0h1m77 0h3m160 0h1m1 0h1m1 0h3m1 0h1m2 0h1m32 0h7m226 0h3m1 0h3m1 0h2m1 0h3m2 0h3m1 0h2m85 0h1M92 236h1m1 0h2m1 0h1m16 0h1m6 0h1m1 0h2m2 0h7m1 0h3m1 0h2m3 0h1m198 0h1m2 0h1m1 0h1m1 0h1m2 0h1m53 0h1m76 0h1m165 0h1m2 0h2m1 0h1m36 0h1m2 0h1m228 0h3m2 0h1m1 0h2m3 0h1m7 0h1M53 237h1m24 0h1m12 0h1m3 0h3m1 0h2m1 0h1m2 0h1m8 0h3m1 0h1m2 0h5m1 0h3m1 0h3m1 0h2m1 0h4m2 0h2m192 0h2m1 0h2m1 0h1m8 0h2m1 0h2m46 0h1m77 0h1m1 0h2m4 0h1m157 0h1m1 0h5m4 0h1m33 0h3m1 0h1m1 0h1m1 0h1m223 0h2m5 0h3m1 0h3m2 0h2m1 0h3M52 238h1m38 0h1m1 0h6m3 0h3m2 0h1m6 0h3m1 0h12m1 0h10m3 0h1m108 0h1m1 0h1m83 0h1m2 0h3m1 0h2m2 0h1m2 0h2m1 0h1m49 0h2m73 0h2m1 0h1m1 0h2m1 0h2m1 0h1m154 0h2m4 0h4m2 0h1m31 0h3m1 0h3m3 0h2m222 0h3m1 0h1m7 0h2m1 0h6m1 0h1M93 239h1m2 0h2m5 0h2m10 0h5m1 0h4m2 0h2m2 0h1m1 0h7m133 0h1m66 0h5m1 0h2m5 0h1m2 0h1m1 0h1m48 0h1m73 0h1m3 0h3m4 0h1m155 0h1m1 0h2m3 0h2m35 0h1m1 0h1m1 0h3m226 0h1m3 0h1m2 0h1m1 0h1m1 0h2m3 0h1m3 0h1m86 0h1M52 240h2m36 0h2m1 0h1m1 0h3m1 0h1m1 0h6m8 0h4m2 0h9m1 0h11m52 0h1m58 0h1m1 0h1m17 0h1m66 0h2m1 0h4m1 0h1m1 0h1m2 0h2m2 0h3m47 0h1m3 0h2m68 0h1m2 0h4m1 0h5m153 0h3m1 0h2m1 0h2m1 0h5m30 0h4m1 0h2m3 0h1m222 0h3m1 0h3m1 0h2m1 0h2m2 0h2m1 0h3m1 0h1M91 241h1m1 0h4m2 0h9m7 0h1m2 0h2m1 0h1m1 0h2m1 0h16m1 0h1m54 0h1m58 0h1m12 0h1m68 0h5m1 0h1m2 0h1m3 0h3m3 0h1m45 0h1m2 0h1m3 0h2m67 0h1m3 0h5m2 0h2m154 0h5m1 0h2m1 0h2m1 0h2m31 0h6m3 0h1m223 0h6m1 0h3m2 0h3m1 0h3m1 0h1M91 242h7m1 0h2m1 0h1m1 0h1m1 0h1m7 0h3m1 0h19m1 0h5m48 0h1m1 0h1m1 0h1m57 0h1m3 0h1m11 0h1m69 0h12m2 0h3m1 0h2m44 0h1m2 0h2m73 0h2m1 0h2m1 0h1m2 0h6m151 0h2m2 0h7m1 0h1m33 0h5m3 0h1m224 0h2m1 0h5m2 0h3m1 0h6M90 243h2m1 0h2m1 0h2m1 0h9m5 0h4m1 0h2m1 0h19m1 0h1m27 0h1m21 0h1m1 0h1m62 0h2m11 0h2m70 0h8m1 0h1m1 0h5m1 0h1m41 0h1m5 0h2m3 0h1m68 0h2m2 0h9m1 0h2m152 0h11m33 0h4m1 0h1m228 0h2m3 0h4m1 0h7M102 244h1m1 0h1m9 0h2m2 0h2m3 0h2m1 0h3m3 0h1m1 0h4m1 0h2m24 0h1m4 0h1m25 0h1m60 0h1m82 0h1m1 0h2m1 0h1m2 0h2m3 0h2m52 0h1m73 0h1m3 0h2m3 0h3m159 0h1m1 0h1m278 0h2m1 0h1m1 0h1m2 0h2M99 245h1m14 0h2m2 0h1m2 0h5m1 0h3m1 0h4m1 0h2m1 0h2m2 0h1m17 0h1m3 0h1m31 0h1m58 0h2m79 0h1m2 0h1m1 0h1m2 0h2m1 0h1m5 0h1m49 0h1m76 0h1m2 0h1m5 0h1m4 0h1m157 0h2m275 0h1m2 0h2m1 0h2m2 0h1M115 246h2m7 0h1m2 0h3m1 0h2m2 0h2m1 0h3m20 0h1m1 0h1m1 0h1m90 0h1m83 0h2m1 0h1m8 0h3m4 0h1m47 0h1m82 0h1m1 0h1m161 0h1M115 247h1m2 0h1m5 0h1m1 0h1m2 0h1m1 0h3m2 0h1m1 0h2m9 0h1m11 0h1m1 0h1m1 0h1m30 0h1m34 0h1m24 0h1m84 0h3m2 0h1m2 0h1m3 0h2m1 0h1m123 0h2m2 0h3m2 0h1m1 0h2m2 0h1m155 0h1m2 0h1m275 0h1M132 248h1m19 0h2m1 0h1m1 0h2m4 0h1m9 0h1m16 0h1m32 0h1m1 0h1m3 0h1m26 0h1m1 0h1m1 0h1m7 0h1m1 0h1m69 0h2m1 0h1m1 0h4m2 0h1m1 0h6m45 0h1m75 0h7m1 0h1m1 0h3m31 0h1m128 0h2M172 249h1m2 0h1m11 0h1m8 0h1m27 0h2m31 0h2m10 0h1m70 0h1m2 0h4m3 0h2m1 0h2m2 0h1m1 0h1m120 0h2m1 0h1m1 0h2m2 0h3m35 0h1M156 250h3m13 0h1m1 0h2m10 0h2m1 0h1m6 0h1m27 0h1m5 0h1m4 0h1m24 0h1m9 0h2m69 0h1m1 0h1m2 0h1m1 0h3m2 0h3m2 0h1m121 0h4m1 0h3m2 0h1m1 0h1m30 0h2m2 0h2M197 251h1m142 0h1m5 0h1m7 0h1m126 0h1m2 0h2m37 0h2m2 0h1M219 252h1m40 0h2m37 0h1m3 0h1m1 0h1m1 0h1m33 0h1m4 0h1m5 0h1m1 0h1m126 0h1m2 0h2m38 0h1m3 0h1M199 253h1m1 0h1m20 0h1m12 0h1m2 0h1m1 0h1m1 0h1m64 0h1m37 0h2m7 0h1m130 0h2m37 0h3m2 0h1M218 254h1m55 0h1M196 255h1m4 0h1m13 0h1m1 0h2m19 0h1m1 0h1m20 0h1m4 0h1m2 0h1m4 0h1m19 0h2m4 0h1m6 0h1m4 0h1m20 0h1m150 0h1m36 0h1m1 0h4m2 0h2M200 256h2m1 0h3m4 0h1m7 0h1m24 0h1m1 0h4m20 0h1m4 0h1m32 0h2m2 0h1m23 0h1m187 0h3m2 0h1M200 257h1m1 0h2m1 0h2m1 0h1m3 0h1m2 0h4m22 0h5m3 0h1m15 0h3m1 0h1m3 0h1m32 0h1m1 0h1m2 0h4m15 0h1m2 0h1m189 0h7M199 258h2m2 0h1m7 0h1m1 0h1m2 0h1m31 0h2m18 0h2m8 0h1m1 0h1m1 0h1m2 0h2m22 0h1m1 0h5m13 0h1m1 0h1m193 0h1m2 0h1M266 259h1m14 0h2m1 0h1m36 0h1m2 0h1m5 0h1M204 260h1m43 0h1m1 0h1m1 0h1m15 0h2m3 0h1m3 0h1m3 0h1m2 0h1m29 0h1m3 0h1m1 0h1m3 0h1m4 0h2M252 261h1m2 0h1m12 0h1m4 0h1m8 0h1m45 0h1M273 263h1m49 0h1M208 264h1m65 0h1M200 265h1m9 0h1m46 0h1m15 0h2M202 266h3m1 0h2m2 0h3m3 0h1m38 0h1m1 0h1m1 0h1m17 0h1M199 267h1m16 0h1m40 0h1M158 268h1m40 0h1m14 0h2m1 0h1m30 0h1m9 0h1m1 0h2m14 0h1m2 0h1m1 0h2m1 0h1m33 0h1M151 269h3m3 0h3m4 0h2m30 0h2m2 0h1m1 0h1m12 0h1m1 0h1m24 0h2m5 0h1m5 0h4m1 0h1m19 0h2m2 0h2m1 0h1m6 0h1m1 0h1m2 0h2m13 0h1m4 0h1m9 0h2M152 270h2m3 0h2m2 0h1m2 0h2m31 0h1m2 0h1m14 0h3m23 0h1m1 0h1m4 0h1m1 0h1m28 0h1m4 0h1m9 0h1m24 0h1m1 0h1m4 0h1m3 0h1M152 271h1m4 0h1m92 0h1m30 0h1M153 272h1m2 0h4m4 0h1m153 0h1m377 0h1M151 273h3m1 0h5m1 0h4m1 0h2m7 0h2m1 0h5m12 0h1m39 0h1m3 0h2m16 0h1m2 0h2m1 0h1m1 0h1m30 0h1m4 0h1m1 0h1m4 0h1m2 0h4m2 0h1m14 0h2m1 0h1m22 0h1m5 0h2m304 0h1m18 0h1m3 0h6m2 0h1M151 274h3m1 0h4m2 0h5m8 0h1m2 0h7m36 0h1m9 0h1m3 0h2m18 0h3m7 0h2m34 0h1m7 0h1m6 0h1m20 0h1m3 0h1m15 0h1m1 0h2m314 0h1m1 0h1m15 0h7m2 0h1M151 275h2m5 0h2m2 0h2m2 0h1m7 0h1m6 0h1m1 0h1m38 0h1m86 0h1m53 0h1m309 0h1m19 0h4m2 0h1M153 276h1m2 0h2m1 0h1m2 0h1m10 0h4m3 0h3m85 0h1m35 0h1m3 0h1m28 0h1m25 0h1m1 0h1m304 0h1m2 0h1m18 0h7m2 0h1M151 277h4m2 0h3m1 0h5m6 0h2m2 0h1m4 0h6m37 0h1m5 0h1m2 0h1m26 0h1m5 0h1m40 0h3m30 0h1m6 0h1m3 0h1m1 0h1m1 0h1m5 0h1m12 0h4m1 0h1m288 0h4m1 0h2m2 0h2m9 0h2m1 0h1m1 0h9m1 0h1m54 0h2m1 0h5M152 278h3m2 0h3m2 0h3m1 0h1m5 0h2m3 0h1m4 0h2m74 0h1m47 0h1m1 0h1m29 0h1m2 0h1m6 0h1m29 0h1m289 0h7m1 0h2m12 0h1m1 0h5m1 0h2m1 0h3m1 0h1m53 0h2m3 0h2M149 279h1m1 0h3m1 0h5m1 0h4m2 0h1m4 0h4m10 0h1m1 0h2m35 0h1m4 0h1m1 0h1m35 0h1m1 0h1m39 0h1m30 0h1m1 0h1m1 0h2m1 0h2m1 0h1m25 0h1m1 0h1m3 0h1m278 0h1m2 0h13m10 0h2m1 0h14m38 0h2m10 0h1m2 0h9M152 280h1m1 0h1m1 0h4m1 0h2m1 0h2m6 0h1m13 0h1m1 0h1m36 0h1m3 0h1m28 0h1m10 0h1m36 0h1m70 0h1m15 0h1m273 0h1m1 0h10m9 0h2m1 0h8m1 0h2m61 0h1m1 0h2M152 281h8m1 0h6m3 0h2m12 0h1m1 0h3m5 0h1m31 0h1m1 0h1m1 0h1m28 0h2m7 0h2m1 0h1m69 0h1m2 0h1m35 0h2m4 0h1m1 0h4m3 0h2m2 0h1m253 0h1m8 0h2m2 0h6m1 0h8m7 0h3m1 0h8m1 0h3m39 0h2m10 0h2m1 0h9m174 0h1m3 0h2M152 282h3m1 0h4m2 0h4m1 0h1m2 0h1m1 0h1m12 0h2m1 0h2m3 0h2m63 0h2m1 0h1m6 0h1m111 0h1m1 0h1m3 0h2m1 0h1m2 0h3m1 0h2m2 0h2m2 0h1m7 0h2m7 0h1m2 0h2m228 0h1m7 0h2m2 0h1m1 0h6m1 0h6m7 0h11m1 0h6m35 0h5m9 0h1m1 0h10m175 0h1m2 0h1m1 0h1M152 283h1m9 0h1m7 0h3m14 0h1m197 0h1m9 0h1m4 0h1m21 0h1m245 0h1m1 0h1m5 0h2m11 0h1m2 0h3m2 0h1m1 0h1m1 0h1m2 0h1m55 0h1m1 0h1m1 0h1m1 0h2M148 284h1m2 0h3m1 0h4m3 0h6m1 0h3m13 0h1m2 0h2m69 0h2m7 0h3m123 0h1m5 0h3m1 0h1m1 0h2m3 0h3m2 0h1m1 0h1m2 0h5m1 0h2m1 0h3m3 0h1m217 0h1m6 0h3m1 0h1m2 0h3m1 0h6m1 0h1m8 0h3m1 0h7m2 0h3m1 0h1m33 0h1m1 0h1m1 0h1m1 0h2m8 0h2m1 0h10M151 285h3m1 0h5m1 0h6m3 0h1m15 0h4m5 0h1m62 0h1m10 0h1m129 0h1m1 0h1m2 0h1m1 0h1m4 0h3m1 0h1m5 0h8m2 0h1m1 0h1m1 0h2m217 0h1m7 0h1m2 0h6m1 0h9m1 0h1m5 0h2m1 0h13m35 0h3m1 0h1m1 0h1m8 0h3m2 0h3m1 0h5M152 286h8m2 0h1m1 0h2m1 0h1m2 0h1m1 0h1m13 0h1m1 0h2m68 0h1m145 0h1m2 0h2m2 0h3m5 0h9m3 0h6m214 0h1m14 0h5m2 0h1m1 0h4m1 0h1m7 0h2m1 0h1m1 0h12m36 0h2m3 0h1m7 0h3m1 0h10m2 0h1M151 287h3m2 0h4m2 0h6m2 0h2m13 0h1m2 0h2m3 0h2m74 0h1m134 0h3m5 0h5m1 0h1m1 0h13m2 0h3m216 0h1m9 0h1m2 0h7m1 0h5m9 0h16m35 0h3m1 0h2m8 0h3m1 0h11M156 288h3m1 0h1m2 0h1m8 0h1m234 0h1m1 0h1m2 0h2m3 0h1m2 0h1m1 0h1m1 0h2m2 0h1m2 0h1m236 0h3m1 0h3m1 0h1m1 0h1m15 0h1m1 0h2m1 0h3m1 0h1m54 0h2m1 0h1m2 0h1m1 0h2M152 289h1m10 0h1m257 0h1m249 0h1m25 0h2m68 0h1M153 290h1m9 0h1m23 0h1m226 0h1m10 0h1m6 0h1m242 0h1m18 0h2m1 0h1m65 0h1m4 0h1M162 291h2m8 0h2m240 0h1m6 0h1m2 0h1m6 0h1m237 0h1m1 0h1m21 0h2m69 0h1M158 292h1m602 0h2m1 0h1M148 294h1m2 0h1m1 0h7m1 0h5m6 0h1m1 0h1m1 0h1m6 0h2m9 0h1m2 0h1m57 0h1m13 0h2m143 0h1m1 0h13m1 0h3m1 0h3m214 0h1m1 0h1m40 0h2m1 0h1m44 0h1m13 0h1m1 0h11M156 295h2m1 0h1m2 0h2m1 0h1m1 0h1m4 0h1m2 0h1m1 0h1m2 0h1m1 0h1m1 0h1m70 0h1m158 0h1m1 0h2m3 0h2m1 0h2m1 0h1m5 0h1m1 0h2m319 0h1m2 0h2m1 0h3m1 0h2M151 296h1m1 0h1m1 0h3m1 0h1m1 0h4m9 0h1m1 0h3m3 0h1m86 0h1m3 0h1m142 0h1m1 0h1m2 0h1m1 0h3m1 0h2m2 0h1m2 0h3m321 0h1m1 0h7M151 297h1m5 0h2m2 0h1m1 0h2m14 0h2m1 0h1m13 0h1m7 0h1m208 0h1m7 0h1m1 0h1m1 0h1m2 0h1m3 0h1m2 0h1m324 0h2m1 0h1M156 298h2m4 0h2m13 0h1m2 0h1m238 0h1m2 0h1m1 0h2m7 0h1m326 0h1m2 0h1M147 299h2m3 0h2m2 0h4m1 0h5m8 0h1m4 0h1m1 0h2m16 0h1m3 0h2m47 0h1m16 0h1m146 0h3m1 0h6m1 0h2m2 0h6m322 0h2m2 0h2M147 300h1m3 0h3m1 0h5m1 0h7m6 0h1m1 0h1m2 0h2m15 0h1m2 0h2m2 0h1m51 0h1m13 0h1m4 0h1m140 0h14m1 0h8m322 0h1m2 0h2M151 301h3m2 0h4m1 0h7m6 0h1m2 0h1m25 0h1m2 0h1m66 0h1m140 0h5m2 0h5m1 0h2m2 0h2m1 0h3M152 302h1m4 0h1m3 0h1m17 0h1m233 0h1m7 0h1m1 0h1m8 0h1M148 303h1m3 0h8m1 0h3m1 0h2m5 0h1m1 0h2m1 0h6m15 0h1m3 0h1m1 0h1m47 0h1m20 0h1m142 0h1m1 0h8m1 0h10m214 0h1M152 304h1m4 0h3m1 0h1m3 0h1m7 0h2m2 0h1m1 0h1m17 0h1m2 0h1m75 0h1m139 0h2m3 0h1m2 0h1m2 0h1m1 0h1m1 0h2m3 0h1m217 0h1m348 0h1M153 305h1m3 0h2m1 0h2m2 0h2m6 0h1m2 0h1m6 0h1m14 0h1m54 0h1m163 0h1m1 0h1m3 0h2m1 0h1m2 0h1m2 0h1m3 0h1m569 0h1M151 306h1m1 0h1m4 0h1m2 0h3m1 0h1m5 0h1m1 0h1m1 0h1m1 0h1m1 0h1m1 0h2m11 0h1m62 0h1m20 0h1m1 0h1m133 0h1m2 0h2m1 0h2m1 0h5m1 0h3m1 0h4m212 0h2m2 0h2m343 0h1m4 0h3m1 0h2m1 0h1M152 307h2m2 0h4m1 0h6m5 0h3m7 0h1m12 0h1m56 0h2m1 0h2m20 0h1m136 0h1m2 0h3m1 0h5m1 0h2m1 0h7m192 0h2m1 0h4m13 0h3m1 0h5m1 0h1m33 0h2m1 0h2m213 0h1m84 0h3m3 0h5m1 0h3m1 0h2M151 308h9m1 0h7m15 0h1m1 0h1m7 0h2m61 0h2m15 0h2m1 0h3m137 0h13m1 0h7m189 0h1m2 0h6m11 0h1m1 0h2m1 0h9m32 0h7m2 0h1m180 0h2m112 0h4m1 0h2m2 0h1m1 0h5m1 0h1M152 309h3m2 0h3m1 0h6m15 0h1m12 0h1m62 0h1m16 0h1m1 0h1m139 0h2m2 0h5m1 0h2m1 0h7m190 0h3m2 0h4m11 0h1m1 0h3m1 0h2m1 0h1m1 0h1m2 0h1m31 0h5m3 0h1m181 0h1m20 0h1m1 0h3m2 0h1m1 0h1m82 0h4m1 0h2m6 0h4M152 310h2m1 0h2m1 0h2m1 0h3m1 0h1m6 0h2m9 0h2m94 0h1m135 0h1m1 0h12m1 0h3m1 0h3m189 0h1m2 0h1m2 0h4m11 0h2m2 0h1m1 0h1m2 0h1m2 0h1m1 0h1m31 0h2m2 0h1m208 0h1m5 0h1m79 0h1m1 0h1m1 0h4m9 0h5M148 311h1m2 0h4m1 0h4m1 0h6m3 0h1m21 0h1m1 0h1m61 0h3m14 0h1m144 0h9m1 0h2m1 0h3m1 0h2m189 0h1m2 0h1m3 0h3m9 0h1m2 0h1m2 0h5m3 0h4m25 0h2m2 0h6m1 0h1m1 0h2m179 0h1m2 0h1m17 0h1m2 0h2m4 0h2m77 0h2m1 0h1m1 0h3m12 0h5M152 312h2m2 0h12m2 0h2m1 0h1m11 0h1m8 0h1m60 0h1m1 0h2m14 0h1m142 0h3m1 0h17m189 0h1m3 0h5m9 0h5m2 0h6m2 0h1m1 0h2m26 0h1m3 0h6m2 0h2m178 0h2m2 0h1m2 0h2m14 0h1m1 0h2m4 0h2m2 0h1m74 0h4m1 0h1m15 0h2m1 0h2M148 313h1m3 0h2m1 0h5m1 0h6m16 0h1m1 0h1m8 0h1m62 0h2m14 0h1m142 0h13m2 0h7m188 0h1m2 0h8m7 0h1m1 0h3m1 0h2m1 0h2m1 0h1m1 0h5m25 0h2m1 0h8m2 0h5m176 0h1m2 0h1m3 0h2m12 0h2m1 0h2m3 0h3m74 0h1m2 0h4m1 0h1m16 0h4M151 314h9m1 0h4m1 0h1m3 0h1m1 0h2m19 0h2m62 0h2m1 0h1m8 0h1m3 0h1m143 0h2m1 0h6m1 0h7m1 0h2m187 0h1m1 0h1m2 0h7m11 0h8m1 0h2m1 0h3m23 0h2m1 0h1m2 0h1m1 0h7m4 0h2m174 0h1m1 0h2m1 0h2m1 0h2m1 0h1m11 0h4m1 0h1m1 0h4m2 0h1m74 0h2m2 0h4m12 0h6M149 315h1m1 0h2m3 0h1m2 0h1m2 0h2m8 0h1m1 0h1m2 0h1m1 0h1m2 0h2m74 0h1m15 0h1m147 0h3m2 0h2m1 0h2m1 0h1m217 0h1m2 0h1m6 0h1m33 0h1m1 0h2m2 0h1m183 0h1m19 0h1m7 0h1m82 0h2m1 0h1m10 0h5M152 316h2m1 0h1m2 0h1m4 0h2m10 0h1m1 0h1m2 0h1m241 0h2m3 0h1m7 0h1m215 0h1m2 0h1m39 0h2m2 0h1m292 0h1m5 0h3m12 0h2M147 317h1m3 0h2m3 0h3m2 0h2m2 0h2m5 0h2m1 0h2m2 0h2m92 0h1m147 0h3m1 0h1m2 0h1m2 0h3m1 0h1m193 0h1m3 0h1m1 0h2m11 0h1m40 0h1m3 0h5m1 0h1m5 0h1m177 0h1m23 0h1m2 0h1m85 0h3m9 0h4m1 0h1m2 0h1M151 318h3m3 0h2m2 0h1m4 0h1m7 0h3m3 0h1m1 0h1m12 0h1m64 0h1m7 0h1m3 0h1m145 0h1m2 0h7m1 0h1m1 0h6m188 0h1m3 0h1m2 0h1m1 0h1m18 0h5m27 0h2m1 0h2m2 0h7m2 0h2m2 0h1m176 0h1m2 0h1m24 0h1m81 0h1m1 0h1m1 0h3m2 0h1m1 0h1m2 0h1m5 0h3M15 319h1m135 0h3m1 0h1m1 0h3m1 0h6m7 0h4m2 0h1m1 0h1m10 0h1m75 0h2m146 0h2m1 0h8m1 0h1m1 0h6m187 0h3m2 0h1m1 0h5m15 0h1m1 0h2m1 0h2m1 0h1m24 0h3m1 0h2m1 0h7m1 0h1m2 0h5m197 0h3m3 0h1m80 0h1m5 0h3m4 0h2m3 0h5m1 0h1M10 320h1m7 0h1m137 0h1m5 0h2m96 0h1m159 0h1m1 0h4m1 0h1m1 0h1m5 0h2m189 0h1m5 0h2m17 0h1m2 0h3m27 0h1m3 0h2m3 0h1m2 0h2m3 0h1m3 0h2m291 0h2m2 0h3m1 0h6M11 321h1m6 0h1m146 0h1m8 0h1m2 0h1m2 0h1m78 0h1m10 0h1m148 0h1m1 0h5m1 0h2m1 0h3m2 0h2m187 0h1m1 0h2m1 0h3m2 0h2m48 0h2m2 0h2m4 0h3m4 0h1m1 0h1m293 0h1m4 0h3m3 0h3m1 0h1M5 322h1m3 0h2m1 0h1m2 0h1m1 0h1m160 0h1m3 0h1m237 0h6m1 0h4m1 0h1m2 0h2m187 0h1m1 0h1m5 0h1m1 0h2m48 0h2m4 0h1m2 0h6m4 0h3m296 0h4m1 0h4M9 323h1m1 0h1m3 0h1m2 0h2m159 0h2m82 0h1m158 0h15m185 0h1m3 0h1m2 0h1m1 0h1m2 0h1m3 0h1m45 0h3m1 0h2m1 0h6m1 0h1m2 0h1m2 0h2m291 0h2m3 0h3m3 0h1m1 0h1M6 324h1m4 0h1m3 0h1m2 0h1m2 0h1m237 0h2m160 0h3m1 0h3m198 0h1m58 0h2m1 0h1m4 0h2m2 0h1m6 0h2M4 325h1m6 0h1m3 0h1m5 0h1m160 0h1m12 0h1m227 0h1m1 0h1m3 0h1m3 0h1m2 0h1m187 0h1m1 0h1m2 0h1m4 0h1m50 0h1m2 0h1m3 0h3m1 0h3m3 0h1m1 0h1M195 326h1m74 0h1m153 0h1m6 0h1m3 0h1m249 0h1m2 0h1m3 0h1m6 0h1M180 327h2m253 0h1m262 0h1M3 328h4m3 0h1m4 0h2m1 0h1m3 0h1m151 0h1m2 0h1m1 0h5m77 0h1m167 0h2m2 0h4m47 0h2m6 0h1m2 0h1m2 0h1m1 0h1m1 0h1m12 0h1m7 0h1m4 0h1m93 0h1m2 0h2m2 0h1m2 0h4m2 0h1m4 0h1m1 0h1m5 0h1m1 0h1m30 0h3m1 0h3m1 0h6m1 0h1m1 0h4m1 0h1M21 329h1m150 0h1m1 0h1m2 0h1m2 0h1m1 0h1m11 0h1m63 0h1m1 0h1m8 0h1m160 0h3m2 0h1m44 0h2m2 0h1m13 0h1m2 0h3m1 0h1m18 0h2m1 0h1m94 0h1m9 0h3m3 0h1m5 0h1m2 0h2m2 0h1m1 0h1m30 0h1m4 0h1m2 0h1m1 0h2m2 0h2m1 0h5M4 330h1m5 0h1m1 0h1m2 0h1m5 0h2m157 0h3m74 0h1m1 0h2m8 0h2m161 0h2m1 0h2m37 0h1m6 0h1m2 0h3m2 0h1m2 0h1m2 0h1m1 0h2m1 0h6m2 0h2m3 0h1m1 0h4m1 0h1m2 0h3m1 0h3m24 0h2m65 0h1m2 0h4m2 0h6m8 0h1m6 0h2m29 0h1m1 0h3m1 0h2m3 0h3m1 0h3m1 0h1m1 0h3m285 0h1M4 331h3m3 0h3m2 0h1m2 0h1m2 0h1m1 0h1m148 0h1m4 0h1m1 0h3m13 0h3m60 0h1m171 0h1m1 0h1m40 0h2m5 0h2m3 0h2m2 0h1m1 0h1m3 0h1m2 0h7m8 0h5m6 0h2m1 0h2m25 0h1m71 0h1m2 0h4m1 0h2m1 0h1m5 0h3m3 0h3m1 0h2m30 0h2m1 0h2m3 0h8m1 0h2m1 0h1M273 332h1m157 0h1m48 0h1m3 0h1m1 0h1m14 0h1m1 0h1m122 0h1m58 0h1m6 0h1m2 0h1m1 0h1m6 0h1M11 333h1m3 0h1m6 0h1m155 0h1m2 0h1m73 0h1m1 0h1m15 0h1m157 0h1m41 0h1m7 0h2m1 0h2m1 0h4m1 0h2m2 0h3m1 0h1m1 0h2m9 0h2m1 0h2m5 0h1m1 0h1m1 0h2m1 0h1m93 0h3m1 0h1m1 0h1m1 0h1m1 0h2m2 0h1m5 0h1m2 0h1m5 0h1m30 0h2m5 0h2m1 0h1m1 0h3m6 0h1m106 0h1m178 0h1M11 334h1m6 0h1m161 0h1m22 0h2m227 0h1m48 0h2m1 0h1m2 0h1m4 0h1m1 0h2m4 0h1m25 0h1m28 0h1m76 0h2m50 0h1m4 0h1m3 0h2m3 0h1m6 0h1M6 335h1m2 0h1m2 0h1m2 0h1m2 0h1m2 0h1m152 0h1m5 0h1m1 0h1m17 0h1m1 0h1m1 0h2m50 0h1m16 0h1m199 0h1m6 0h3m2 0h1m1 0h2m1 0h4m1 0h1m2 0h4m1 0h1m3 0h1m5 0h5m5 0h2m1 0h2m1 0h1m103 0h2m9 0h1m1 0h1m37 0h2m2 0h1m4 0h6m2 0h1m2 0h2m111 0h1M18 336h1m162 0h1m92 0h1m205 0h1m4 0h1m4 0h1m6 0h1m2 0h1m14 0h1m179 0h1m7 0h3m107 0h1M11 337h1m3 0h1m164 0h2m22 0h1m40 0h1m30 0h1m155 0h1m3 0h1m36 0h2m6 0h2m2 0h1m1 0h1m2 0h3m1 0h2m4 0h4m3 0h1m1 0h1m4 0h1m1 0h1m9 0h1m27 0h1m69 0h1m1 0h1m2 0h1m2 0h1m1 0h1m51 0h1m1 0h1m1 0h1m3 0h3m1 0h1m5 0h1m107 0h1m178 0h1M207 338h1m3 0h1m6 0h1m18 0h1m40 0h1m152 0h2m47 0h2m8 0h1m1 0h1m2 0h1m7 0h1m5 0h1m15 0h1m2 0h1m100 0h1m4 0h2m60 0h1m4 0h1m3 0h1m285 0h1M210 339h2m4 0h3m11 0h1m3 0h2m1 0h2m2 0h2m188 0h1m49 0h1m10 0h1m2 0h1m18 0h1m2 0h1m6 0h1m3 0h1m100 0h1m63 0h1m1 0h1M207 340h1m2 0h4m1 0h3m5 0h1m1 0h3m6 0h2m3 0h4m1 0h3m1 0h2m1 0h1m22 0h1m2 0h1m195 0h1m6 0h2m1 0h3m4 0h1m1 0h12m1 0h2m1 0h2m2 0h4m1 0h1m6 0h8m23 0h1m69 0h2m2 0h7m49 0h1m3 0h1m2 0h6m2 0h2m2 0h2m101 0h2m3 0h2m3 0h1m1 0h1M218 341h1m5 0h2m4 0h3m1 0h2m1 0h1m1 0h5m2 0h3m1 0h1m1 0h1m25 0h2m1 0h1m150 0h1m47 0h2m3 0h1m3 0h4m2 0h1m2 0h1m1 0h1m2 0h1m2 0h1m1 0h2m3 0h2m1 0h2m2 0h1m3 0h2m2 0h1m101 0h2m1 0h2m50 0h2m1 0h2m2 0h7m2 0h1m1 0h3m106 0h1m1 0h1m1 0h4M216 342h1m1 0h1m7 0h1m1 0h3m3 0h2m1 0h3m1 0h5m1 0h1m184 0h2m46 0h2m2 0h1m5 0h1m1 0h4m2 0h1m1 0h4m1 0h2m4 0h1m1 0h2m2 0h1m6 0h1m1 0h5m97 0h2m1 0h5m51 0h1m1 0h3m1 0h7m1 0h1m3 0h1m102 0h1m2 0h1m2 0h1m1 0h1m1 0h1M224 343h4m3 0h2m1 0h3m1 0h7m1 0h5m28 0h1m148 0h1m2 0h2m48 0h1m2 0h1m5 0h1m1 0h2m1 0h2m1 0h4m1 0h1m1 0h1m1 0h2m4 0h5m2 0h1m2 0h3m2 0h1m1 0h1m93 0h1m1 0h2m1 0h8m49 0h1m2 0h1m3 0h6m2 0h3m108 0h1m3 0h3M230 344h1m6 0h4m1 0h2m5 0h1m31 0h1m147 0h1m1 0h1m52 0h1m7 0h1m2 0h2m3 0h1m1 0h1m1 0h1m129 0h1m58 0h1m1 0h2m120 0h1M225 345h1m2 0h4m3 0h1m4 0h6m2 0h2m3 0h1m25 0h1m150 0h1m2 0h1m40 0h1m5 0h3m7 0h3m2 0h2m1 0h2m1 0h3m1 0h1m10 0h2m6 0h5m96 0h2m2 0h7m52 0h1m2 0h3m1 0h1m1 0h2m3 0h1m105 0h1m2 0h3m4 0h2M224 346h2m2 0h9m1 0h3m1 0h2m1 0h1m1 0h7m25 0h1m147 0h1m1 0h3m48 0h2m2 0h2m1 0h6m2 0h2m1 0h4m1 0h3m1 0h3m3 0h6m2 0h1m2 0h7m23 0h2m70 0h1m2 0h2m1 0h4m52 0h1m2 0h9m1 0h2m105 0h1m2 0h3m2 0h4M225 347h1m3 0h2m1 0h1m1 0h1m3 0h2m2 0h2m4 0h1m28 0h1m212 0h1m4 0h1m2 0h1m1 0h1m13 0h2m1 0h2m5 0h1m3 0h1m104 0h2m60 0h3m1 0h1m112 0h1m5 0h1M233 348h4m3 0h6m2 0h1m1 0h1m27 0h2m150 0h1m50 0h1m10 0h1m2 0h1m3 0h2m5 0h1m2 0h1m18 0h2m19 0h1m11 0h1m72 0h1m58 0h1m1 0h2m119 0h1M227 349h1m1 0h2m2 0h1m1 0h1m6 0h1m1 0h1m2 0h1m2 0h1m28 0h1m194 0h1m6 0h1m10 0h1m2 0h1m4 0h1m2 0h1m10 0h1m8 0h1m2 0h1m2 0h2m17 0h1M225 350h1m1 0h4m1 0h5m1 0h1m1 0h1m1 0h2m5 0h2m180 0h2m39 0h1m11 0h2m4 0h1m1 0h1m2 0h3m1 0h5m1 0h1m1 0h1m7 0h4m2 0h1m1 0h4m2 0h1m23 0h2m5 0h2m67 0h6m58 0h4m115 0h2m3 0h2m166 0h1m5 0h2M232 351h1m15 0h2m27 0h1m1 0h1m216 0h1m3 0h2m1 0h1m10 0h1m9 0h1m461 0h1M230 352h1m3 0h2m5 0h1m1 0h1m2 0h1m5 0h1m178 0h1m42 0h1m16 0h4m5 0h1m1 0h1m10 0h1m14 0h1M225 353h1m1 0h4m3 0h11m1 0h5m26 0h1m153 0h1m1 0h1m39 0h2m6 0h1m2 0h2m1 0h1m2 0h6m2 0h6m1 0h4m6 0h3m5 0h2m1 0h3m17 0h1m7 0h1m426 0h3m1 0h1m4 0h4M225 354h3m1 0h2m1 0h1m1 0h2m1 0h2m1 0h14m178 0h1m39 0h1m1 0h2m5 0h2m2 0h1m4 0h3m2 0h2m3 0h8m1 0h1m3 0h5m2 0h1m2 0h2m1 0h3m17 0h1m1 0h2m4 0h2m5 0h2m1 0h1m1 0h1m414 0h3m1 0h1m5 0h4M230 355h2m10 0h2m4 0h1m1 0h1m26 0h1m153 0h1m1 0h1m50 0h1m5 0h1m12 0h1m57 0h1M225 356h1m3 0h2m3 0h2m1 0h3m3 0h1m3 0h2m25 0h1m157 0h2m39 0h2m6 0h1m2 0h2m11 0h7m2 0h1m7 0h5m5 0h1m3 0h2m23 0h2m428 0h1m1 0h2m1 0h1m2 0h2M225 357h1m2 0h1m1 0h1m1 0h1m4 0h1m2 0h1m1 0h1m5 0h2m224 0h1m16 0h2m10 0h1m4 0h1m5 0h3m9 0h2m25 0h3m427 0h1m4 0h2m2 0h1M226 358h1m2 0h1m2 0h1m6 0h5m4 0h1m1 0h1m22 0h2m206 0h1m2 0h3m2 0h2m4 0h1m4 0h2m1 0h1m10 0h2m1 0h1m7 0h1m1 0h2m25 0h2m427 0h1m1 0h1m3 0h1m1 0h2M234 359h1m5 0h1m5 0h1m2 0h1m24 0h1m158 0h1m40 0h1m5 0h1m1 0h1m1 0h1m7 0h1m2 0h1m18 0h4m6 0h3m19 0h1m1 0h1m4 0h3m4 0h1m424 0h1M277 361h1m152 0h1m54 0h1m9 0h1m9 0h1m7 0h5m10 0h1m25 0h1M430 362h1m42 0h2m6 0h1m2 0h3m5 0h1m7 0h2m7 0h1m4 0h1m2 0h1m6 0h1m3 0h3m23 0h1M275 363h2m153 0h3M273 364h1m156 0h1m1 0h1m57 0h1m1 0h1M273 365h1m2 0h1m151 0h1m62 0h1M428 368h1m2 0h1m52 0h1m1 0h1m2 0h1m1 0h1m3 0h1m1 0h2M432 369h1m48 0h1m5 0h1m13 0h1m16 0h1M435 370h1m48 0h1m17 0h2m10 0h1m1 0h1m7 0h1m1 0h1m1 0h1M432 371h1m47 0h1m3 0h1m28 0h2m3 0h1m4 0h2m2 0h1m3 0h1M432 372h1m2 0h1m45 0h1m23 0h1m6 0h1m1 0h1m1 0h2m3 0h1m2 0h1m4 0h2M277 374h1m157 0h2m76 0h1m9 0h3M277 375h1m231 0h1m4 0h1m1 0h3m5 0h1m5 0h2M277 376h1m197 0h1m38 0h5m5 0h5m404 0h1M277 377h1m1 0h2m192 0h2m37 0h6m3 0h1m2 0h3m1 0h3m354 0h1M278 378h1m160 0h1m73 0h5m2 0h1m3 0h5m1 0h1M277 379h1m1 0h1m194 0h1m38 0h1m2 0h2m2 0h2m2 0h6m1 0h1M281 380h2m156 0h1m33 0h2m38 0h6m4 0h2m1 0h1m1 0h2m352 0h1m3 0h1m2 0h1m43 0h1m2 0h1M281 381h1m232 0h1m1 0h3m5 0h2m1 0h3m359 0h1M282 382h1m190 0h1m39 0h5m3 0h1m2 0h2m2 0h3M279 383h1m192 0h1m39 0h1m2 0h4m1 0h2m1 0h9m351 0h1m1 0h1m47 0h1m3 0h1M513 384h2m1 0h5m2 0h2m2 0h2m1 0h1m352 0h1m1 0h1m3 0h1m37 0h1m4 0h3M283 385h1m160 0h1m68 0h2m1 0h4m1 0h1m1 0h6m2 0h1m353 0h1m3 0h1m43 0h1M281 386h2m156 0h1m1 0h2m1 0h1m69 0h5m1 0h2m1 0h9m353 0h1m3 0h1m1 0h1m38 0h1m2 0h1M282 387h1m158 0h1m30 0h1m42 0h4m1 0h1m2 0h8m399 0h1M281 388h1m233 0h3m1 0h2m1 0h4m1 0h4m354 0h1m3 0h1M281 389h2m156 0h1m2 0h1m29 0h1m42 0h4m1 0h2m1 0h9m353 0h2m2 0h1M281 390h1m190 0h1m40 0h6m4 0h9m1 0h1m351 0h1M281 391h1m232 0h5m1 0h2m1 0h9M282 392h1m156 0h1m73 0h2m1 0h3m5 0h2m1 0h4M280 393h1m1 0h1m189 0h1m42 0h4m2 0h1m1 0h8M282 394h1m1 0h1m154 0h1m75 0h2m1 0h1m1 0h2m1 0h2m2 0h2M281 395h1m1 0h1m229 0h1m2 0h3m2 0h1m1 0h8M281 396h2m158 0h1m29 0h1m43 0h2m1 0h1m1 0h2m1 0h8m395 0h1m3 0h1M282 397h1m232 0h1m1 0h1m7 0h1m1 0h1m402 0h1m2 0h1M523 398h1m5 0h1m401 0h1m1 0h1M281 399h1m3 0h1m245 0h1m1 0h1m392 0h2m1 0h2m2 0h2m47 0h5m2 0h1M243 400h1m38 0h3m247 0h1m393 0h2m1 0h3m1 0h1m3 0h1m44 0h5m1 0h2m1 0h2M282 401h1m1 0h2m640 0h2m4 0h2m48 0h2m1 0h2m1 0h1m2 0h2M284 402h1m642 0h1m1 0h1m52 0h3m1 0h1m1 0h1m3 0h1M242 403h1m688 0h4m44 0h1m2 0h2m1 0h2m1 0h1m3 0h1M235 404h1m1 0h1m3 0h1m3 0h1m2 0h1m33 0h1m1 0h4m638 0h2m1 0h6m1 0h2m14 0h3m23 0h1m3 0h2m1 0h2m1 0h5M287 405h1m184 0h1m453 0h2m2 0h1m5 0h2m40 0h2m2 0h3m3 0h1m1 0h2M238 406h1m3 0h2m40 0h2m1 0h1m151 0h1m93 0h1m393 0h1m1 0h1m3 0h1m19 0h1m26 0h1m1 0h5m1 0h7M235 407h2m1 0h7m1 0h1m37 0h1m1 0h1m1 0h1m148 0h2m369 0h1m3 0h1m114 0h1m1 0h5m2 0h2m15 0h1m1 0h2m20 0h1m1 0h8m1 0h7M286 408h1m187 0h1m458 0h1m45 0h1m2 0h2m1 0h2m1 0h5M288 409h1m184 0h1m511 0h1m3 0h5M436 410h1m96 0h1m444 0h2m1 0h3m1 0h2m2 0h1m1 0h2m1 0h1M240 411h2m1 0h1m40 0h3m186 0h2m1 0h1m56 0h2m443 0h3m1 0h5m1 0h5m1 0h1M240 412h2m40 0h1m1 0h5m147 0h1m36 0h2m503 0h9m1 0h2m1 0h4m2 0h1M282 413h1m1 0h5m8 0h1m4 0h1m131 0h3m37 0h2m57 0h1m443 0h10m1 0h9M287 414h1m2 0h2m2 0h2m5 0h1m4 0h2m127 0h2m541 0h1m2 0h6m2 0h4m1 0h1m1 0h1M285 415h1m1 0h1m12 0h2m8 0h1m121 0h1m48 0h1m502 0h1m1 0h1m1 0h1M284 416h1m2 0h1m6 0h3m2 0h3m1 0h3m2 0h1m3 0h2m121 0h1m545 0h1m1 0h1m1 0h2m1 0h2m1 0h1M288 417h1m5 0h2m3 0h3m2 0h1m1 0h5m1 0h3m4 0h1m115 0h2m43 0h1m1 0h1m495 0h3m1 0h2m1 0h2m1 0h2m1 0h2M284 418h1m2 0h1m6 0h1m1 0h1m2 0h3m1 0h1m1 0h10m3 0h2m114 0h3m43 0h1m50 0h1m447 0h2m1 0h6m1 0h1m1 0h2M286 419h1m7 0h1m3 0h1m1 0h1m2 0h1m3 0h2m1 0h2m1 0h1m7 0h1m159 0h1m501 0h2m6 0h1M29 420h1m256 0h3m5 0h1m4 0h2m2 0h1m2 0h1m1 0h1m1 0h5m4 0h2m1 0h1m210 0h1m448 0h1m3 0h1m4 0h2M32 421h2m1 0h2m245 0h1m1 0h4m1 0h1m1 0h1m2 0h4m1 0h6m1 0h9m2 0h3m1 0h2m1 0h1m148 0h1m505 0h1m2 0h5m1 0h5M28 422h2m1 0h1m1 0h1m1 0h3m245 0h6m5 0h2m2 0h4m1 0h1m1 0h1m1 0h18m112 0h1m34 0h3m57 0h1m1 0h1m418 0h1m26 0h1m1 0h11M27 423h12m245 0h4m6 0h1m1 0h2m1 0h5m1 0h21m113 0h1m94 0h1m22 0h1m394 0h4m1 0h2m23 0h7m2 0h2M27 424h3m1 0h6m245 0h1m1 0h5m2 0h1m2 0h3m1 0h4m1 0h2m1 0h10m2 0h6m2 0h1m110 0h1m1 0h1m32 0h1m61 0h1m3 0h2m14 0h1m1 0h1m3 0h2m386 0h2m1 0h6m1 0h1m1 0h2m20 0h2m2 0h1M26 425h4m1 0h8m243 0h1m1 0h5m1 0h1m3 0h8m1 0h1m1 0h10m2 0h9m113 0h1m1 0h1m30 0h1m61 0h1m3 0h2m14 0h2m4 0h3m251 0h1m1 0h1m131 0h2m1 0h2m2 0h5m22 0h2m1 0h2m2 0h1M28 426h1m6 0h1m249 0h3m6 0h1m5 0h1m5 0h1m1 0h1m1 0h4m4 0h2m3 0h2m148 0h1m338 0h1m138 0h5m1 0h2m23 0h1m1 0h1M27 427h2m4 0h5m246 0h4m6 0h3m2 0h3m1 0h2m1 0h5m1 0h5m1 0h7m21 0h1m125 0h1m64 0h1m16 0h2m5 0h2m249 0h1m3 0h3m131 0h2m5 0h1m1 0h3m20 0h2m1 0h2M27 428h1m3 0h1m3 0h1m248 0h2m1 0h2m5 0h1m1 0h2m1 0h3m1 0h1m1 0h1m1 0h9m1 0h1m3 0h3m19 0h1m21 0h1m2 0h1m185 0h2m5 0h2m196 0h1m52 0h2m3 0h1m128 0h1m2 0h4m3 0h3m1 0h3m19 0h2m1 0h2M28 429h1m258 0h1m15 0h2m1 0h1m4 0h2m1 0h1m3 0h3m1 0h2m1 0h1m2 0h1m15 0h1m1 0h1m97 0h1m116 0h1m255 0h2m129 0h2m3 0h2m4 0h2m1 0h1m20 0h1M284 430h1m2 0h1m6 0h1m5 0h1m2 0h1m2 0h5m1 0h1m1 0h2m5 0h3m4 0h2m1 0h1m13 0h2m1 0h1m12 0h4m196 0h3m247 0h1m4 0h1m2 0h1m128 0h2m1 0h1m5 0h5M27 431h3m1 0h3m1 0h2m247 0h5m2 0h1m2 0h1m1 0h1m2 0h3m1 0h13m1 0h3m1 0h1m1 0h1m2 0h1m2 0h1m2 0h2m4 0h2m3 0h2m1 0h1m3 0h1m1 0h2m1 0h1m7 0h1m4 0h1m72 0h2m1 0h2m26 0h1m66 0h1m14 0h2m2 0h1m1 0h4m194 0h2m47 0h2m2 0h3m2 0h4m126 0h1m1 0h1m1 0h1m8 0h1m1 0h2m20 0h1m2 0h1M27 432h1m5 0h1m2 0h1m247 0h1m1 0h2m2 0h1m3 0h1m2 0h1m1 0h6m2 0h8m2 0h3m1 0h3m5 0h3m2 0h1m2 0h2m2 0h3m6 0h1m3 0h1m1 0h1m6 0h2m4 0h1m1 0h2m42 0h1m28 0h1m92 0h1m16 0h1m5 0h2m198 0h1m47 0h1m2 0h3m2 0h3m126 0h1m1 0h2m11 0h4m18 0h1M285 433h2m8 0h1m2 0h3m2 0h1m2 0h4m1 0h5m1 0h3m3 0h1m1 0h1m2 0h1m1 0h1m11 0h1m2 0h1m7 0h1m1 0h2m2 0h1m173 0h1m3 0h1m278 0h1m1 0h1m127 0h1m1 0h1m1 0h2m5 0h6m20 0h1M286 434h1m7 0h1m1 0h1m2 0h3m1 0h1m2 0h5m1 0h2m4 0h2m3 0h1m4 0h1m84 0h1m4 0h1m114 0h1m414 0h1m2 0h1m1 0h2m1 0h3m2 0h1M285 435h3m6 0h4m1 0h3m1 0h1m1 0h10m1 0h8m2 0h5m39 0h1m1 0h1m1 0h1m38 0h2m1 0h3m24 0h1m28 0h1m88 0h1m199 0h1m186 0h4m2 0h4m1 0h4M284 436h4m6 0h3m2 0h3m1 0h2m1 0h9m3 0h6m1 0h1m2 0h1m1 0h1m6 0h1m36 0h1m35 0h1m1 0h3m2 0h2m27 0h1m86 0h1m225 0h3m186 0h5m3 0h1m1 0h5M287 437h1m12 0h1m12 0h1m93 0h1m14 0h1m1 0h1m524 0h1m3 0h4m1 0h2m1 0h1M407 438h1m92 0h1m453 0h1M378 439h1m1 0h1m5 0h1m2 0h1m2 0h1m1 0h1m11 0h1m16 0h3m19 0h1m27 0h1m21 0h1m2 0h1m2 0h2m24 0h1M449 440h1m23 0h1m19 0h1m1 0h1m28 0h1m4 0h1M386 441h2m8 0h1m28 0h1m5 0h1m17 0h1m23 0h1m21 0h1m2 0h1m6 0h1m14 0h2M386 442h1m2 0h1m41 0h1m57 0h2m4 0h1m10 0h1m2 0h2m2 0h1m4 0h1m4 0h1M435 443h1m37 0h1m6 0h1m8 0h1m5 0h1m7 0h1m5 0h1m2 0h2m1 0h4m4 0h2m4 0h1M385 444h2m42 0h1m1 0h2m21 0h1m1 0h1m24 0h1m2 0h5m3 0h2m1 0h1m16 0h5m6 0h1m1 0h1M431 445h1m7 0h1m11 0h2m2 0h1m1 0h1m15 0h1m6 0h3m1 0h2m4 0h1m18 0h1m4 0h1m1 0h3m1 0h1m2 0h2M436 446h1M455 448h1m1 0h1M440 449h2m15 0h1M461 450h1M445 451h1m13 0h1M445 452h1M444 454h1m18 0h3M445 455h1m2 0h1m16 0h1M444 456h1m18 0h1m2 0h1M445 457h1m2 0h2M466 458h1M451 459h1m13 0h1M450 461h1m17 0h1M472 462h3m159 0h2m7 0h2m2 0h2m2 0h1m1 0h2m4 0h1m1 0h3m2 0h1m2 0h2m7 0h1M454 463h1m1 0h1m15 0h2m159 0h4m3 0h1m2 0h3m1 0h5m1 0h5m1 0h2m1 0h2m2 0h1m1 0h5m1 0h2m1 0h4m1 0h1M454 464h1m17 0h1m1 0h1m159 0h2m2 0h1m4 0h3m1 0h2m4 0h2m1 0h2m1 0h4m4 0h2m1 0h3m1 0h1m1 0h6M454 465h2m3 0h1m180 0h1m7 0h2m1 0h1m2 0h1m1 0h2m3 0h2m6 0h1m1 0h1m3 0h1m1 0h1m2 0h1m1 0h1M456 466h1m1 0h1m14 0h1m166 0h1m2 0h2m1 0h1m4 0h4m1 0h2m3 0h1m7 0h2m3 0h1m3 0h2M634 467h2m7 0h2m2 0h2m5 0h1m4 0h2m1 0h1m5 0h3m2 0h1m2 0h2M461 468h1m184 0h1m1 0h1m4 0h1m8 0h1m6 0h1M647 469h1m5 0h2m1 0h1m5 0h1m7 0h1m9 0h1M633 470h2m9 0h1m2 0h1m6 0h1m14 0h1m3 0h1M396 471h1m243 0h1M350 472h1m3 0h1m28 0h1m3 0h1m1 0h2m2 0h1m11 0h1m16 0h1m1 0h2m1 0h1m3 0h1m3 0h1m26 0h3m21 0h2m2 0h1m1 0h1m2 0h1m20 0h1m6 0h1m1 0h2m3 0h1m93 0h1m1 0h2m1 0h6m3 0h1m1 0h1m2 0h3m1 0h2m2 0h1m1 0h2m1 0h1m1 0h4m6 0h3m3 0h1m1 0h1m1 0h2m1 0h2M331 473h1m1 0h1m1 0h1m1 0h1m2 0h1m12 0h1m2 0h1m5 0h1m14 0h1m2 0h1m1 0h1m26 0h1m1 0h2m8 0h2m3 0h1m12 0h3m1 0h1m1 0h1m16 0h2m2 0h1m23 0h1m1 0h1m20 0h2m2 0h2m13 0h1m89 0h1m1 0h1m1 0h2m1 0h1m1 0h5m4 0h1m2 0h6m1 0h2m1 0h3m1 0h7m2 0h6m2 0h5m1 0h1m1 0h1M330 474h2m5 0h1m7 0h1m3 0h1m2 0h3m1 0h2m1 0h1m2 0h1m14 0h1m1 0h2m27 0h1m2 0h3m8 0h1m39 0h1m1 0h1m48 0h1m2 0h2m2 0h2m8 0h2m90 0h1m1 0h1m1 0h5m1 0h4m5 0h1m1 0h2m3 0h1m2 0h1m1 0h2m1 0h2m1 0h1m1 0h3m2 0h6m1 0h2m1 0h2m2 0h1m2 0h1M354 475h1m21 0h1m36 0h1m78 0h1m21 0h1m18 0h1m90 0h1m7 0h1m1 0h2m7 0h1m3 0h2m1 0h1m5 0h1m5 0h1m5 0h1m1 0h1m3 0h1m2 0h1m2 0h1M411 476h1m121 0h1m92 0h1m4 0h1m42 0h1M517 477h1M241 480h1m1 0h1m3 0h4m78 0h1m1 0h2m2 0h2m1 0h1m1 0h3m2 0h2m12 0h1m11 0h1m45 0h2m24 0h1m1 0h1m52 0h1m1 0h1m1 0h1m34 0h1m1 0h1m86 0h1m5 0h1m1 0h1m3 0h1m5 0h5m1 0h2m1 0h1m2 0h1m2 0h1m1 0h2m7 0h1m4 0h1M238 481h3m1 0h4m1 0h6m76 0h3m1 0h3m1 0h7m1 0h2m1 0h2m3 0h2m1 0h1m1 0h1m3 0h1m6 0h1m2 0h1m42 0h1m3 0h1m24 0h2m94 0h2m12 0h1m6 0h3m1 0h1m60 0h1m2 0h1m1 0h4m5 0h1m2 0h2m2 0h3m1 0h1m1 0h1m15 0h2m6 0h1m42 0h1M237 482h2m3 0h1m5 0h1m1 0h1m82 0h3m1 0h1m7 0h1m8 0h1m4 0h1m57 0h1m27 0h1m57 0h1m34 0h1m91 0h3m1 0h1m12 0h1m3 0h1m2 0h1M248 483h3m89 0h1m159 0h1m36 0h1m94 0h1m1 0h1M97 484h1m82 0h1m53 0h1m1 0h3m1 0h4m1 0h1m1 0h2m2 0h2m2 0h1m72 0h3m1 0h3m5 0h1m1 0h3m1 0h1m3 0h1m2 0h1m1 0h2m1 0h2m2 0h1m5 0h1m1 0h2m72 0h2m92 0h3m1 0h1m10 0h1m1 0h1m6 0h1m63 0h3m2 0h1m4 0h1m6 0h2m6 0h1m67 0h1m1 0h1M97 485h3m82 0h1m52 0h1m1 0h1m1 0h6m2 0h7m74 0h1m1 0h2m1 0h1m1 0h3m2 0h2m4 0h1m3 0h1m2 0h2m1 0h1m1 0h1m2 0h2m81 0h2m92 0h2m84 0h2m2 0h1m8 0h2m8 0h1m5 0h2m64 0h1m277 0h1M235 486h1m2 0h4m1 0h2m2 0h4m2 0h1m76 0h3m25 0h1m3 0h1m5 0h1m75 0h1m27 0h1m151 0h1m1 0h1m10 0h1m10 0h1m2 0h1m2 0h1m337 0h1m3 0h1M97 487h1m137 0h1m2 0h6m6 0h1m82 0h3m1 0h1m8 0h1m6 0h1m15 0h1m74 0h1m27 0h1m65 0h1m3 0h1m79 0h1m3 0h2m8 0h1m14 0h1m339 0h2M241 488h1m1 0h1m4 0h1m84 0h1m1 0h1m10 0h1m97 0h1m93 0h1m2 0h1m82 0h1m1 0h1m364 0h1m2 0h1m13 0h1M238 489h1m1 0h1m2 0h1m3 0h1m1 0h1m80 0h2m1 0h1m7 0h1m4 0h1m11 0h1m9 0h1m73 0h2m104 0h1m75 0h2m370 0h1m5 0h2M97 490h1m139 0h2m1 0h1m1 0h5m1 0h3m82 0h1m1 0h4m1 0h4m1 0h3m2 0h1m2 0h3m2 0h1m5 0h1m77 0h1m2 0h1m26 0h2m65 0h1m8 0h1m19 0h1m53 0h1m1 0h5m9 0h1m9 0h1m5 0h1m287 0h1m43 0h1m2 0h1m2 0h1m3 0h3m4 0h1M75 491h1m21 0h1m142 0h5m2 0h3m81 0h1m3 0h1m1 0h1m3 0h1m3 0h2m5 0h3m2 0h1m7 0h1m2 0h1m173 0h1m5 0h1m18 0h1m57 0h2m9 0h1m7 0h1m2 0h1m3 0h1m288 0h1m50 0h2m3 0h1m1 0h1m4 0h1M97 492h1m140 0h7m1 0h3m1 0h1m77 0h1m1 0h1m2 0h3m1 0h10m1 0h3m1 0h3m2 0h1m1 0h1m2 0h1m1 0h1m79 0h1m27 0h2m1 0h1m64 0h1m1 0h1m2 0h1m2 0h1m18 0h1m56 0h1m1 0h2m15 0h2m2 0h1m1 0h1m338 0h1m1 0h3m1 0h1m2 0h2m5 0h1m3 0h1M240 493h1m1 0h1m90 0h1m1 0h1m4 0h1m1 0h2m8 0h2m86 0h1m3 0h1m94 0h2m85 0h1m1 0h1m6 0h1M242 494h2m90 0h1m2 0h1m2 0h1m1 0h1m9 0h2m186 0h1m1 0h1m3 0h1m1 0h1m19 0h1m56 0h1m3 0h2m1 0h1m1 0h2m361 0h1M242 495h2m1 0h1m1 0h1m80 0h1m1 0h2m2 0h2m1 0h14m2 0h2m3 0h2m1 0h1m6 0h1m70 0h6m27 0h1m66 0h1m1 0h2m2 0h2m22 0h2m53 0h1m2 0h2m1 0h1m7 0h1m1 0h1m5 0h1m1 0h1m2 0h1m340 0h1m4 0h1M333 496h1m6 0h1m2 0h4m3 0h2m2 0h1m191 0h1m1 0h1m19 0h1m61 0h1m1 0h2m1 0h1m2 0h1M330 497h1m2 0h1m2 0h1m3 0h1m9 0h1m5 0h1m11 0h1m171 0h1m4 0h1m2 0h1m79 0h2M328 498h4m1 0h1m1 0h1m4 0h4m1 0h3m5 0h1m2 0h1m11 0h1m70 0h1m1 0h1m38 0h1m64 0h1m26 0h1m67 0h1M331 499h1m3 0h1m4 0h1m2 0h1m1 0h2m1 0h1m1 0h1m2 0h1m2 0h1m264 0h1m21 0h2m9 0h1M328 500h1m1 0h2m1 0h5m2 0h5m1 0h9m1 0h1m1 0h1m3 0h1m75 0h1m41 0h1m2 0h1m55 0h4m2 0h1m25 0h4m46 0h2m2 0h1m14 0h1m2 0h3m1 0h2m2 0h6M329 501h4m2 0h1m1 0h1m2 0h1m1 0h2m1 0h2m3 0h2m1 0h2m1 0h1m1 0h1m3 0h1m6 0h1m69 0h1m99 0h2m1 0h1m2 0h1m27 0h3m45 0h2m1 0h1m14 0h1m3 0h7m1 0h1m1 0h4m351 0h1M328 502h4m1 0h1m3 0h1m2 0h1m1 0h1m1 0h2m4 0h1m1 0h3m1 0h1m13 0h1m68 0h1m40 0h1m57 0h3m31 0h1m1 0h1m48 0h2m18 0h2m2 0h8m1 0h1m351 0h1M73 503h1m1 0h1m7 0h1m13 0h1m231 0h5m1 0h1m1 0h2m1 0h4m1 0h2m2 0h3m1 0h6m11 0h1m72 0h1m38 0h1m57 0h1m1 0h1m2 0h1m27 0h1m1 0h1m1 0h1m43 0h2m17 0h1m2 0h9m1 0h4m346 0h1m3 0h2M330 504h2m12 0h1m1 0h1m7 0h1m185 0h2m30 0h2m67 0h1m3 0h1m1 0h1m1 0h3m1 0h2m1 0h1m351 0h2M78 505h1m5 0h1m12 0h1m231 0h2m9 0h1m1 0h2m1 0h2m3 0h1m2 0h2m6 0h1m10 0h1m68 0h1m96 0h1m1 0h2m1 0h1m30 0h1m42 0h1m2 0h2m19 0h1m1 0h9m1 0h4m345 0h3m2 0h2M74 506h1m265 0h3m5 0h1m4 0h2m1 0h1m85 0h1m200 0h2m1 0h2m1 0h3m1 0h3m347 0h1m6 0h1M335 507h1m1 0h1m5 0h1m2 0h1m3 0h1m2 0h2m182 0h1m36 0h1m69 0h2m1 0h1m2 0h2m3 0h1M73 508h1m23 0h1m232 0h1m9 0h2m1 0h1m2 0h1m6 0h1m3 0h1m179 0h1m34 0h2m69 0h3m2 0h1m2 0h5m352 0h1M83 509h1m246 0h1m6 0h2m1 0h2m4 0h1m1 0h1m5 0h1m7 0h1m12 0h1m66 0h2m1 0h1m100 0h1m47 0h2m47 0h3m1 0h8m1 0h1M442 510h1m201 0h1m4 0h1m1 0h1m2 0h1M342 511h1m302 0h1m1 0h2m4 0h2M340 512h1m31 0h1m4 0h1m5 0h1m59 0h2m126 0h1m15 0h1m1 0h1m5 0h1m45 0h1m3 0h1m5 0h2m1 0h2M330 513h2m1 0h1m1 0h1m4 0h4m2 0h1m5 0h1m1 0h1m6 0h1m9 0h1m2 0h1m2 0h4m1 0h1m1 0h2m4 0h1m1 0h1m2 0h1m46 0h3m28 0h2m62 0h1m7 0h2m2 0h1m21 0h1m2 0h1m10 0h1m1 0h3m1 0h2m2 0h1m21 0h1m1 0h2m19 0h1m2 0h3m2 0h4m1 0h2m1 0h1m4 0h2m6 0h2m5 0h1m1 0h1M331 514h1m1 0h1m1 0h1m1 0h1m1 0h5m2 0h2m1 0h1m1 0h1m2 0h1m1 0h4m1 0h2m7 0h3m2 0h4m1 0h3m1 0h3m3 0h3m51 0h2m27 0h1m1 0h1m58 0h1m10 0h3m1 0h1m20 0h1m1 0h1m1 0h1m10 0h8m2 0h1m22 0h2m24 0h5m2 0h1m2 0h1m1 0h1m1 0h5m4 0h9m1 0h1m2 0h1M328 515h1m1 0h2m3 0h2m3 0h1m2 0h1m2 0h2m2 0h1m2 0h2m1 0h4m1 0h1m14 0h3m1 0h1m1 0h2m2 0h6m1 0h2m1 0h2m45 0h2m100 0h1m2 0h1m22 0h1m2 0h1m13 0h2m1 0h1m2 0h2m21 0h1m22 0h2m2 0h2m2 0h1m3 0h3m1 0h1m1 0h1m2 0h2m3 0h6m2 0h1m2 0h1m2 0h1M330 516h2m1 0h1m1 0h1m1 0h1m3 0h1m1 0h1m1 0h2m3 0h1m2 0h2m1 0h2m1 0h1m1 0h1m8 0h1m1 0h1m2 0h22m46 0h3m26 0h1m1 0h1m58 0h1m3 0h1m8 0h1m2 0h1m35 0h1m1 0h5m1 0h1m1 0h1m24 0h1m22 0h1m1 0h1m5 0h1m2 0h3m1 0h6m2 0h7m1 0h6M75 517h1m21 0h1m4 0h1m227 0h2m1 0h1m1 0h1m3 0h5m1 0h3m2 0h1m2 0h2m1 0h1m1 0h2m1 0h2m9 0h1m2 0h19m1 0h1m1 0h1m45 0h1m1 0h1m27 0h2m2 0h1m68 0h2m2 0h1m19 0h1m1 0h2m13 0h9m19 0h1m1 0h1m28 0h1m7 0h3m1 0h1m1 0h3m3 0h5m1 0h6m1 0h1M73 518h1m256 0h1m15 0h2m2 0h1m5 0h1m12 0h1m1 0h1m3 0h2m3 0h2m1 0h5m1 0h8m45 0h2m1 0h1m27 0h1m72 0h1m1 0h1m39 0h1m1 0h1m1 0h1m1 0h2m19 0h1m38 0h1m4 0h4m3 0h4m3 0h1m1 0h5M384 519h2m2 0h1m265 0h1m14 0h1M67 520h4m2 0h2m3 0h1m20 0h1m2 0h1m1 0h1m225 0h1m10 0h1m1 0h1m10 0h1m23 0h2m3 0h2m1 0h4m1 0h1m2 0h1m1 0h1m44 0h1m3 0h1m28 0h1m58 0h1m11 0h1m41 0h1m2 0h1m4 0h1m18 0h1m2 0h1m37 0h1m2 0h1m2 0h2m3 0h1m1 0h1m2 0h3m2 0h2M36 521h1m31 0h1m1 0h2m3 0h4m1 0h3m1 0h1m8 0h1m2 0h4m2 0h2m1 0h1m1 0h1m147 0h1m90 0h1m3 0h1m21 0h1m4 0h1m1 0h1m2 0h2m1 0h2m2 0h1m1 0h1m1 0h4m44 0h1m32 0h1m140 0h1m1 0h1m37 0h1m5 0h3m1 0h1m1 0h1m3 0h3m2 0h2m1 0h1M69 522h1m26 0h1m291 0h1m272 0h1M35 523h2m1 0h1m2 0h1m5 0h1m18 0h6m1 0h4m4 0h1m1 0h3m3 0h9m1 0h1m2 0h7m12 0h1m2 0h1m3 0h1m121 0h2m3 0h3m70 0h1m1 0h1m2 0h1m1 0h1m7 0h1m5 0h2m2 0h2m16 0h1m2 0h1m5 0h1m2 0h9m1 0h4m1 0h1m43 0h4m26 0h1m68 0h2m30 0h1m13 0h3m24 0h2m42 0h1m1 0h5m8 0h7m205 0h1m10 0h1m19 0h1M27 524h1m1 0h1m3 0h1m1 0h5m1 0h3m1 0h1m1 0h1m18 0h21m1 0h7m1 0h4m1 0h8m1 0h1m7 0h1m4 0h3m1 0h2m2 0h1m116 0h1m1 0h4m1 0h3m71 0h3m3 0h1m3 0h5m1 0h3m2 0h2m1 0h2m1 0h1m2 0h1m2 0h1m7 0h3m1 0h23m43 0h1m2 0h1m1 0h1m92 0h5m29 0h3m12 0h4m23 0h2m41 0h6m1 0h1m11 0h3m1 0h1m38 0h3m1 0h2m157 0h2m1 0h1m3 0h1m1 0h3m2 0h1m16 0h1m2 0h2m1 0h1m33 0h1m1 0h1m66 0h2m2 0h1m1 0h2m1 0h1M29 525h3m1 0h1m2 0h1m1 0h2m2 0h1m3 0h1m19 0h5m1 0h5m1 0h2m1 0h5m1 0h1m2 0h11m1 0h6m8 0h1m7 0h1m4 0h1m1 0h1m121 0h1m1 0h4m70 0h3m1 0h1m4 0h1m1 0h2m1 0h1m1 0h2m3 0h1m7 0h2m14 0h1m1 0h4m1 0h3m1 0h9m1 0h3m46 0h1m27 0h1m65 0h3m1 0h1m29 0h1m1 0h1m14 0h2m23 0h3m38 0h1m2 0h2m1 0h2m9 0h6m1 0h2m39 0h1m159 0h1m1 0h2m1 0h1m5 0h1m4 0h1m18 0h3m34 0h1m1 0h1m67 0h2m1 0h2m2 0h1M28 526h1m6 0h2m5 0h2m22 0h5m2 0h4m1 0h4m1 0h2m4 0h11m2 0h2m1 0h3m19 0h1m125 0h1m1 0h1m1 0h1m76 0h2m1 0h1m2 0h1m1 0h1m2 0h2m2 0h2m2 0h2m2 0h1m1 0h1m10 0h1m5 0h5m2 0h1m1 0h3m1 0h3m1 0h1m1 0h2m75 0h1m65 0h5m74 0h1m39 0h8m7 0h3m1 0h3m201 0h1m2 0h1m1 0h1m7 0h1m2 0h1m16 0h1m2 0h1m2 0h1m32 0h1m76 0h1M28 527h1m7 0h1m1 0h1m1 0h1m1 0h1m23 0h14m1 0h5m5 0h4m1 0h5m1 0h6m1 0h1m17 0h1m121 0h3m5 0h1m71 0h3m1 0h1m1 0h1m4 0h1m1 0h1m2 0h2m6 0h2m2 0h2m12 0h1m4 0h1m1 0h2m1 0h1m1 0h15m41 0h1m102 0h1m29 0h1m1 0h1m39 0h2m43 0h5m3 0h1m5 0h6m44 0h1m157 0h2m1 0h2m2 0h1m6 0h3m14 0h5m35 0h1M33 528h1m7 0h1m25 0h9m1 0h8m4 0h6m1 0h5m1 0h1m2 0h3m16 0h1m1 0h3m121 0h1m1 0h1m3 0h3m69 0h1m1 0h2m1 0h1m4 0h6m1 0h4m3 0h3m1 0h1m1 0h1m2 0h2m7 0h1m5 0h21m144 0h1m32 0h1m39 0h1m2 0h1m1 0h1m37 0h3m1 0h4m1 0h1m1 0h2m2 0h7m201 0h1m1 0h2m1 0h2m2 0h1m1 0h2m3 0h1m19 0h1m36 0h2m74 0h1M67 529h5m1 0h4m2 0h1m1 0h1m1 0h2m6 0h2m1 0h2m1 0h3m1 0h7m145 0h1m1 0h1m1 0h1m72 0h1m4 0h1m4 0h1m1 0h1m3 0h1m1 0h3m5 0h1m5 0h1m9 0h1m4 0h1m1 0h5m2 0h8m1 0h2m1 0h1m41 0h1m2 0h1m98 0h1m2 0h1m26 0h1m42 0h1m2 0h2m38 0h1m2 0h2m1 0h1m1 0h1m6 0h5m204 0h1m3 0h1m2 0h1m63 0h1m72 0h1m3 0h1M67 530h2m2 0h1m1 0h1m1 0h1m1 0h1m4 0h1m10 0h3m1 0h4m1 0h4m1 0h1m147 0h1m77 0h1m6 0h1m1 0h2m2 0h1m2 0h1m12 0h1m9 0h1m2 0h1m1 0h2m3 0h3m1 0h8m1 0h2m75 0h1m1 0h1m72 0h1m24 0h1m83 0h2m1 0h1m1 0h2m3 0h3m1 0h2m1 0h3m1 0h1M70 531h1m2 0h1m20 0h1m3 0h2m2 0h1m237 0h1m30 0h1m3 0h1m3 0h1m3 0h1m1 0h2m2 0h3m7 0h1m18 0h1m55 0h1m67 0h1m4 0h1m73 0h2m34 0h1m1 0h3m6 0h3M96 532h1m303 0h1m21 0h1m50 0h1m74 0h1m71 0h1m46 0h1m2 0h1m7 0h1M98 533h2m290 0h1m8 0h1m6 0h1m3 0h2m1 0h1m6 0h1m12 0h2m1 0h1m38 0h2m39 0h1m3 0h1m25 0h1m2 0h1m71 0h1m40 0h2m5 0h3m2 0h1m2 0h2M411 534h1m10 0h4m88 0h1m26 0h1m10 0h1m13 0h1m86 0h2m1 0h1m12 0h1m6 0h1M427 537h1m4 0h2m46 0h1m2 0h1m23 0h2m4 0h1m2 0h1m28 0h1m2 0h1m14 0h1m58 0h1m31 0h1M424 538h2m56 0h1m1 0h2m1 0h2m13 0h1m2 0h1m18 0h3m21 0h1m6 0h1m74 0h1m20 0h1M424 539h2m5 0h1m48 0h1m3 0h2m4 0h1m2 0h1m1 0h1m4 0h3m21 0h3m21 0h1m6 0h1m70 0h1m3 0h1m12 0h1m9 0h2M481 540h1m2 0h1m7 0h3m2 0h1m2 0h6m18 0h3m26 0h1m7 0h1m89 0h1m2 0h1m1 0h1M481 541h1m6 0h1m6 0h1m4 0h1m3 0h2m17 0h2m1 0h1m1 0h1m5 0h1m14 0h1m3 0h1m7 0h1m85 0h2m2 0h1M484 542h1m2 0h1m3 0h2m1 0h2m4 0h2m1 0h1m19 0h5m1 0h1m1 0h1m94 0h1m2 0h3m12 0h1m4 0h1m1 0h1m1 0h2m1 0h1M505 543h1m123 0h1m15 0h1m1 0h1m3 0h1m4 0h1M492 545h1m2 0h1m1 0h2m1 0h2m1 0h1m9 0h3m4 0h1m8 0h1m7 0h1m86 0h1m31 0h2m4 0h1m13 0h1m1 0h1M353 546h2m4 0h1m134 0h3m12 0h1m3 0h2m1 0h3m14 0h1m92 0h3m26 0h1m5 0h1m7 0h2m2 0h1m1 0h1m1 0h1m5 0h1M514 547h1m2 0h1m12 0h2m94 0h2M349 548h1m4 0h1m4 0h1m129 0h4m1 0h1m1 0h2m17 0h1m2 0h1m13 0h1m4 0h3m25 0h1m56 0h1m3 0h1m30 0h1m3 0h3m9 0h1m334 0h1M348 549h1m5 0h1m158 0h2m1 0h1m16 0h1m7 0h1m24 0h1m59 0h1m51 0h1M517 550h1M534 552h1M27 553h2m7 0h1m313 0h1m5 0h2m1 0h1m124 0h1m55 0h2m79 0h1m62 0h1m6 0h1m1 0h1m2 0h2m310 0h1m73 0h2M25 554h4m3 0h2m1 0h2m293 0h2m5 0h1m8 0h1m3 0h1m2 0h2m1 0h4m1 0h2m61 0h2m1 0h2m2 0h2m48 0h1m90 0h1m1 0h1m45 0h2m63 0h2m1 0h2m2 0h8m1 0h1m280 0h2m1 0h1m18 0h1m2 0h1m74 0h3m1 0h1M28 555h2m5 0h1m294 0h1m3 0h1m5 0h1m5 0h1m7 0h1m2 0h3m65 0h1m1 0h2m2 0h1m52 0h1m53 0h2m144 0h3m2 0h1m1 0h6m1 0h2m1 0h1m281 0h1m24 0h1m74 0h2M28 556h1m4 0h1m2 0h1m387 0h1m196 0h1m67 0h1m3 0h1m3 0h1M28 557h1m6 0h1m387 0h1m267 0h2m2 0h1M431 558h1m256 0h2m7 0h1M174 560h1m175 0h1m8 0h1m64 0h2m5 0h2m251 0h1m8 0h1m1 0h1m287 0h1m99 0h1M29 561h1m6 0h1m311 0h1m1 0h1m3 0h2m68 0h2m1 0h6m2 0h1m45 0h1m58 0h2m30 0h2m41 0h1m2 0h1m70 0h1m3 0h5m383 0h1m2 0h1M354 562h1m70 0h1m1 0h2m1 0h2m49 0h1m2 0h1m134 0h1m65 0h1m2 0h1m2 0h2m4 0h1M430 563h2m49 0h1m55 0h1m146 0h1m3 0h1m4 0h3m1 0h1m3 0h1m382 0h1M354 564h1m219 0h1m45 0h1m70 0h1m3 0h1M172 565h1m3 0h1m2 0h1m301 0h1m66 0h1m142 0h1m2 0h3m286 0h1M175 566h1m3 0h1m2 0h2m170 0h1m179 0h1m14 0h1m28 0h1m41 0h1m62 0h1m11 0h1m286 0h1M491 567h2m82 0h1m84 0h1m1 0h1M181 568h1m308 0h1m3 0h1m1 0h1m82 0h1M182 569h1m312 0h1m80 0h2m44 0h1m17 0h1m3 0h1m16 0h1M495 570h1m18 0h1m2 0h1m127 0h1m31 0h2M500 571h1m11 0h2m1 0h1m62 0h1m78 0h1M498 572h1m1 0h1m1 0h1m1 0h1m3 0h1m5 0h1m2 0h1m6 0h2m1 0h1m1 0h2m23 0h1m6 0h1m17 0h1m1 0h2m39 0h1m2 0h2m8 0h1m9 0h1m2 0h1m6 0h1m6 0h1m7 0h1m2 0h2m3 0h1M500 573h2m1 0h2m3 0h1m8 0h1m5 0h2m36 0h1m20 0h1m44 0h1m17 0h1m1 0h2m3 0h1m17 0h1M500 574h3m2 0h1m1 0h1m5 0h3m8 0h2m1 0h2m25 0h1m9 0h1m61 0h1m2 0h1m1 0h1m11 0h2m1 0h1m3 0h3m2 0h2m2 0h1m9 0h1M501 575h1m1 0h1m63 0h1m56 0h1m2 0h1m6 0h1m12 0h1m5 0h2m15 0h1M569 576h1M503 577h1m65 0h1m17 0h1m42 0h3M566 578h1m4 0h1m13 0h3M568 579h1m3 0h1m13 0h1m1 0h1m40 0h1m1 0h1M589 580h1M572 581h1M572 582h2m17 0h1m2 0h2M591 584h1M513 585h2m1 0h1m61 0h1m13 0h1m2 0h2M514 586h1m63 0h2M512 587h3m1 0h2m2 0h1m2 0h2m52 0h2m16 0h1M513 588h6m4 0h2m54 0h1M512 589h6m5 0h3m54 0h1m19 0h1M514 590h1m1 0h3m1 0h1m3 0h2m74 0h1M513 591h5m64 0h1m1 0h1m15 0h1M513 592h2m2 0h2m66 0h1M516 593h2m84 0h1M509 594h1m5 0h1m1 0h2m63 0h1m20 0h2M509 595h1m2 0h7m1 0h1m61 0h1m2 0h1m1 0h1m15 0h1m1 0h1M585 596h1m17 0h2M589 600h3m18 0h2M593 602h1M594 603h3m17 0h1M594 604h1m1 0h1m13 0h1m3 0h2M595 605h1m16 0h1M615 607h1M615 609h2M600 610h1m3 0h1M600 611h1m16 0h1m3 0h1m40 0h1m7 0h1M605 612h1M622 613h1m39 0h1m6 0h2M520 614h1m2 0h3m1 0h2m74 0h2m19 0h1m1 0h1m2 0h1m2 0h1m28 0h1m15 0h1M93 615h2m1 0h4m417 0h2m2 0h1m1 0h3m1 0h1m1 0h1m31 0h1m42 0h1m2 0h1m1 0h1m21 0h1m1 0h2m13 0h2m1 0h1m1 0h3m1 0h2m3 0h2m4 0h1m7 0h1M93 616h1m2 0h1m428 0h1m83 0h1m14 0h1m31 0h1m14 0h1M88 617h8m1 0h1m1 0h1m405 0h1m7 0h1m1 0h1m1 0h1m2 0h2m4 0h1m1 0h1m82 0h1m20 0h1m1 0h1m9 0h1m2 0h1m6 0h2m3 0h1m13 0h1M91 618h1m5 0h1m4 0h1m411 0h1m14 0h1m31 0h1m89 0h1m24 0h1M88 619h1m1 0h2m1 0h1m2 0h2m1 0h4m410 0h2m13 0h2m32 0h1m83 0h1m2 0h1m26 0h2m4 0h1m30 0h1m10 0h1m2 0h1m2 0h1m6 0h1M87 620h1m1 0h5m4 0h2m1 0h2m402 0h1m7 0h1m2 0h1m15 0h1m21 0h1m9 0h1m1 0h1m66 0h1m13 0h1m32 0h1m4 0h1m2 0h1m4 0h1m2 0h1m14 0h4m2 0h1m1 0h3m1 0h2m3 0h1m2 0h3m2 0h6m1 0h2M87 621h3m10 0h4m1 0h1m224 0h1m168 0h3m1 0h1m1 0h1m25 0h1m1 0h1m19 0h2m1 0h1m54 0h1m26 0h2m1 0h1m38 0h1m1 0h3m4 0h1m3 0h6m2 0h1m3 0h2m2 0h9m1 0h7m2 0h2m1 0h12m1 0h1M86 622h5m7 0h3m1 0h4m217 0h1m4 0h2m143 0h2m12 0h1m2 0h1m9 0h2m1 0h1m27 0h1m5 0h1m10 0h1m20 0h1m2 0h1m40 0h1m69 0h1m9 0h5m6 0h42m3 0h1M88 623h4m8 0h1m1 0h2m398 0h1m180 0h2m21 0h1m1 0h1m4 0h2m6 0h1m2 0h2m1 0h1m3 0h1m1 0h3m5 0h2M87 624h3m10 0h1m1 0h2m210 0h1m4 0h1m1 0h2m2 0h1m4 0h1m2 0h1m3 0h1m5 0h1m128 0h4m9 0h2m1 0h3m1 0h1m2 0h1m5 0h2m42 0h1m29 0h1m38 0h1m1 0h1m74 0h1m3 0h1m1 0h1m1 0h1m1 0h1m4 0h2m1 0h1m2 0h1m6 0h2m2 0h1m1 0h3m1 0h1m2 0h2m1 0h11m2 0h1m2 0h1M88 625h3m1 0h1m9 0h2m214 0h2m8 0h1m1 0h1m2 0h1m6 0h1m4 0h1m139 0h1m3 0h3m2 0h1m5 0h1m71 0h1m130 0h1m17 0h1m5 0h5m1 0h1m1 0h1m1 0h2m1 0h6m2 0h2m4 0h1m161 0h1M85 626h4m12 0h5m202 0h1m1 0h5m4 0h7m2 0h1m1 0h4m3 0h1m2 0h1m2 0h1m1 0h2m125 0h3m1 0h1m3 0h2m2 0h1m1 0h3m1 0h4m45 0h1m2 0h1m3 0h4m22 0h1m1 0h1m39 0h1m107 0h1m1 0h3m1 0h1m1 0h20m1 0h1m2 0h3m2 0h2m155 0h2m1 0h1M86 627h1m3 0h1m9 0h1m1 0h1m1 0h2m203 0h1m11 0h1m8 0h1m12 0h1m128 0h3m9 0h1m2 0h1m2 0h1m1 0h1m2 0h1m50 0h2m25 0h1m1 0h1m148 0h2m1 0h2m3 0h1m3 0h1m1 0h1m1 0h6m2 0h4m3 0h1m4 0h1M89 628h3m7 0h1m209 0h1m23 0h1m8 0h1m131 0h1m9 0h2m4 0h1m2 0h1m1 0h1m1 0h1m48 0h1m179 0h1m1 0h1m2 0h1m5 0h1m1 0h1m4 0h1m4 0h1m1 0h1m2 0h2m4 0h1m2 0h1M87 629h4m1 0h2m6 0h5m202 0h5m1 0h2m2 0h3m1 0h1m1 0h1m1 0h1m2 0h1m2 0h1m5 0h4m1 0h2m1 0h2m3 0h1m121 0h3m6 0h1m12 0h1m2 0h1m44 0h2m30 0h1m4 0h1m34 0h1m109 0h2m1 0h8m1 0h8m1 0h5m3 0h1m1 0h2m1 0h5m1 0h1m1 0h1m152 0h1m88 0h1M88 630h3m1 0h2m2 0h1m2 0h1m1 0h3m203 0h2m3 0h3m6 0h1m8 0h2m1 0h1m6 0h2m1 0h1m1 0h2m3 0h1m121 0h1m1 0h1m7 0h1m11 0h3m41 0h2m2 0h1m34 0h1m145 0h9m1 0h1m3 0h1m1 0h1m1 0h3m1 0h2m1 0h2m4 0h3m1 0h1m1 0h8M88 631h3m1 0h4m3 0h1m1 0h3m204 0h1m3 0h3m4 0h1m1 0h1m1 0h1m6 0h2m8 0h4m1 0h1m4 0h1m121 0h2m2 0h1m4 0h2m1 0h1m57 0h1m31 0h1m2 0h1m1 0h1m35 0h1m110 0h3m2 0h5m1 0h10m1 0h3m2 0h4m2 0h2m1 0h5m152 0h1m88 0h1m3 0h2M89 632h4m1 0h1m1 0h2m1 0h3m1 0h1m203 0h4m1 0h3m3 0h3m1 0h1m5 0h4m1 0h2m2 0h1m2 0h1m1 0h2m1 0h2m3 0h1m121 0h4m4 0h4m10 0h1m1 0h1m80 0h1m36 0h1m2 0h1m107 0h1m1 0h2m2 0h15m2 0h2m1 0h1m1 0h3m2 0h10m151 0h1m88 0h1m1 0h1M88 633h8m1 0h5m205 0h8m2 0h1m1 0h2m7 0h3m3 0h2m4 0h4m1 0h3m2 0h1m112 0h1m6 0h1m1 0h3m6 0h1m14 0h1m118 0h1m4 0h1m104 0h1m1 0h8m1 0h11m1 0h2m1 0h1m2 0h3m2 0h9m2 0h1m146 0h1m90 0h2m2 0h1M89 634h3m1 0h2m1 0h5m1 0h1m204 0h8m3 0h2m1 0h3m1 0h1m2 0h4m1 0h1m1 0h1m1 0h2m1 0h9m1 0h1m111 0h3m2 0h1m2 0h1m1 0h4m4 0h4m10 0h1m80 0h1m39 0h1m1 0h1m108 0h21m1 0h8m3 0h9m148 0h1m87 0h1m3 0h1m1 0h1M89 635h1m1 0h2m1 0h1m1 0h2m209 0h1m1 0h3m1 0h2m2 0h1m1 0h1m1 0h2m5 0h1m1 0h2m1 0h1m4 0h1m1 0h1m1 0h2m1 0h2m115 0h3m2 0h1m5 0h3m17 0h2m1 0h1m75 0h1m153 0h3m1 0h4m1 0h12m1 0h2m3 0h2m3 0h10m240 0h1m1 0h1M313 636h1m3 0h1m25 0h1m119 0h1m20 0h1m2 0h1m3 0h1m235 0h2m2 0h1m1 0h1m3 0h2m1 0h3m1 0h1m9 0h2m4 0h1m2 0h2m1 0h1M331 637h1m153 0h2m239 0h1m3 0h3m5 0h4m3 0h2m9 0h1m2 0h2m1 0h1m1 0h3M323 638h1m4 0h2m3 0h1m130 0h1m7 0h1m7 0h1m4 0h1m4 0h1m4 0h2m124 0h1m104 0h1m2 0h1m1 0h1m1 0h8m2 0h1m1 0h1m2 0h2m1 0h1m2 0h2m3 0h8M501 639h1m119 0h1m104 0h1m2 0h1m1 0h1m1 0h1m3 0h1m1 0h1m1 0h2m4 0h1m11 0h3m5 0h1M463 640h1m1 0h2m4 0h3m7 0h1m13 0h1m2 0h1m1 0h1m2 0h1m9 0h1m1 0h1m53 0h1m158 0h1m2 0h4m1 0h11m1 0h2m4 0h1m1 0h1m2 0h4m1 0h3m1 0h1M474 641h1m29 0h2m6 0h1m2 0h1m105 0h1m104 0h2m1 0h1m1 0h3m4 0h5m1 0h2m14 0h2m1 0h4M328 643h1m2 0h1m130 0h3m1 0h2m4 0h4m5 0h1m2 0h1m7 0h1m6 0h5m1 0h2m1 0h2m3 0h1m2 0h1m22 0h1m34 0h1m156 0h4m1 0h10m2 0h2m1 0h1m1 0h1m1 0h2m1 0h10m2 0h1M312 644h2m15 0h3m1 0h1m1 0h1m126 0h3m1 0h2m2 0h1m1 0h3m5 0h2m2 0h1m6 0h2m6 0h5m1 0h6m2 0h3m26 0h1m26 0h1m4 0h1m42 0h1m111 0h17m2 0h9m1 0h10m215 0h1m2 0h1m2 0h1M311 645h2m15 0h1m2 0h1m131 0h2m7 0h2m6 0h1m19 0h2m1 0h3m1 0h3m1 0h6m26 0h1m26 0h1m1 0h2m156 0h2m1 0h3m1 0h10m1 0h3m2 0h4m4 0h1m1 0h5m218 0h1m4 0h1M308 646h1m3 0h2m21 0h1m130 0h1m1 0h1m4 0h1m6 0h1m14 0h1m5 0h1m1 0h1m1 0h2m7 0h1m2 0h1m56 0h1m44 0h1m109 0h1m1 0h3m2 0h2m1 0h2m3 0h3m1 0h1m5 0h1m1 0h1m2 0h2m4 0h2m217 0h1m6 0h1M54 647h1m149 0h1m2 0h1m30 0h1m1 0h3m66 0h2m1 0h3m14 0h1m3 0h1m128 0h3m2 0h1m1 0h2m1 0h2m1 0h1m4 0h3m2 0h1m5 0h2m7 0h8m1 0h1m1 0h1m2 0h1m26 0h1m1 0h1m29 0h1m1 0h1m41 0h1m2 0h1m108 0h18m1 0h2m1 0h1m4 0h1m8 0h1m1 0h1m214 0h3m4 0h1m1 0h2M52 648h1m6 0h2m119 0h1m1 0h1m20 0h1m2 0h2m5 0h1m1 0h2m18 0h1m1 0h7m64 0h1m1 0h5m2 0h1m11 0h1m132 0h4m1 0h2m3 0h4m4 0h2m4 0h1m3 0h1m4 0h1m4 0h4m1 0h1m2 0h2m1 0h1m1 0h3m25 0h1m30 0h2m41 0h1m113 0h6m1 0h13m2 0h2m10 0h1m7 0h2m209 0h2m1 0h2m4 0h2M52 649h1m7 0h1m121 0h1m24 0h1m2 0h2m1 0h1m2 0h1m23 0h2m1 0h1m62 0h4m4 0h1m16 0h1m131 0h1m1 0h1m15 0h1m10 0h1m8 0h6m2 0h2m2 0h1m28 0h1m72 0h1m3 0h1m111 0h1m1 0h4m2 0h7m2 0h2m21 0h1m210 0h2m2 0h1m1 0h1m1 0h2M51 650h1m2 0h1m153 0h1m25 0h4m1 0h1m1 0h1m1 0h1m62 0h2m1 0h1m3 0h2m16 0h1m131 0h1m9 0h1m1 0h1m4 0h1m21 0h6m1 0h1m3 0h1m60 0h1m155 0h2m1 0h1m1 0h3m1 0h2m1 0h1m1 0h1m21 0h1m3 0h1m212 0h1m1 0h2m4 0h2M51 651h3m4 0h3m143 0h2m1 0h1m2 0h2m3 0h1m1 0h1m15 0h2m2 0h1m1 0h5m3 0h1m38 0h1m7 0h1m8 0h1m3 0h10m2 0h2m7 0h4m130 0h2m1 0h2m5 0h3m5 0h3m1 0h1m1 0h2m3 0h1m3 0h1m4 0h11m1 0h3m1 0h1m21 0h1m1 0h4m30 0h1m40 0h1m2 0h1m111 0h1m1 0h2m1 0h13m22 0h3m206 0h2m1 0h4m3 0h1m1 0h2M59 652h1m175 0h1m1 0h1m2 0h1m1 0h3m63 0h1m2 0h2m1 0h1m15 0h1m135 0h1m33 0h1m1 0h1m5 0h2m2 0h1m2 0h1m57 0h2m156 0h2m3 0h1m1 0h2m1 0h3m1 0h1m233 0h1m3 0h1m2 0h1m4 0h1M50 653h1m1 0h3m2 0h5m115 0h1m2 0h2m21 0h1m7 0h1m3 0h2m15 0h7m2 0h3m1 0h1m2 0h1m32 0h1m12 0h1m11 0h9m3 0h2m8 0h2m1 0h1m1 0h1m128 0h3m1 0h1m1 0h2m2 0h3m5 0h2m3 0h1m14 0h7m1 0h2m1 0h1m1 0h1m1 0h1m18 0h1m4 0h1m2 0h1m32 0h1m39 0h1m114 0h2m1 0h2m1 0h10m25 0h1m1 0h1m208 0h5m2 0h1m1 0h2M52 654h1m4 0h1m1 0h3m2 0h1m115 0h1m1 0h1m19 0h4m1 0h2m1 0h2m3 0h2m17 0h5m1 0h9m33 0h1m1 0h2m1 0h1m16 0h1m1 0h4m1 0h6m1 0h3m10 0h1m130 0h6m1 0h2m1 0h3m7 0h1m2 0h2m3 0h1m8 0h8m1 0h12m14 0h1m2 0h1m1 0h2m1 0h1m32 0h1m39 0h1m1 0h1m112 0h1m1 0h14m23 0h1m1 0h2m157 0h2m48 0h1m1 0h4m1 0h3m1 0h4M52 655h1m6 0h1m146 0h1m8 0h1m22 0h3m1 0h2m63 0h2m2 0h2m5 0h1m1 0h1m142 0h1m9 0h1m26 0h2m1 0h1m1 0h4m3 0h1m3 0h2m2 0h2m3 0h1m20 0h1m25 0h1m1 0h1m40 0h1m1 0h1m114 0h3m5 0h3m1 0h3m23 0h1m212 0h1m2 0h1m2 0h1m2 0h1M50 656h2m5 0h1m1 0h3m118 0h1m22 0h1m3 0h1m2 0h2m23 0h2m1 0h2m1 0h3m63 0h4m1 0h3m3 0h3m142 0h4m2 0h1m2 0h1m1 0h2m4 0h1m19 0h6m3 0h1m3 0h5m12 0h1m3 0h1m5 0h1m1 0h2m1 0h1m28 0h1m41 0h1m115 0h2m1 0h10m25 0h1m160 0h1m50 0h5m3 0h1m1 0h1M60 657h2m145 0h1m32 0h4m63 0h2m5 0h1m3 0h2m143 0h4m6 0h2m49 0h1m1 0h1m1 0h1m1 0h2m13 0h1m2 0h1m22 0h1m43 0h1m116 0h2m2 0h8m1 0h1m2 0h1m21 0h1m212 0h4m1 0h1M58 658h1m1 0h1m179 0h1m2 0h1m64 0h2m3 0h1m158 0h2m40 0h4m2 0h1m2 0h4m1 0h2m85 0h1m120 0h1m3 0h1m1 0h2m1 0h1m1 0h1m22 0h1m213 0h1M51 659h1m7 0h1m1 0h1m145 0h1m3 0h1m23 0h1m1 0h2m1 0h3m64 0h2m1 0h5m4 0h1m142 0h3m2 0h1m4 0h3m5 0h1m33 0h1m1 0h1m1 0h1m5 0h5m1 0h2m42 0h1m42 0h1m117 0h1m1 0h12m20 0h1m215 0h1m5 0h1M52 660h2m6 0h1m179 0h2m69 0h1m1 0h2m148 0h2m2 0h1m4 0h2m40 0h1m1 0h3m4 0h2m1 0h2m3 0h1m35 0h1m163 0h1m4 0h1m1 0h8m1 0h2m18 0h1m215 0h1M53 661h1m4 0h3m179 0h1m43 0h1m24 0h7m146 0h1m1 0h3m5 0h3m5 0h1m32 0h6m1 0h12m14 0h1m1 0h1m20 0h1m44 0h1m118 0h3m1 0h6m1 0h3m1 0h1m19 0h1m2 0h2m210 0h1m1 0h2m1 0h2m1 0h1M53 662h1m5 0h1m219 0h1m1 0h2m1 0h2m25 0h3m148 0h4m1 0h3m3 0h3m4 0h1m32 0h6m1 0h2m1 0h8m2 0h1m11 0h1m2 0h1m18 0h1m4 0h1m38 0h1m1 0h1m1 0h1m117 0h20m15 0h1m2 0h1m211 0h1m7 0h1M281 663h2m1 0h1m177 0h2m9 0h2m41 0h1m4 0h1m1 0h1m2 0h3m4 0h1m14 0h1m66 0h1m117 0h1m1 0h11m3 0h1m5 0h1m7 0h2m1 0h1M287 664h1m235 0h2m1 0h1m1 0h2m205 0h1m3 0h1m3 0h1m2 0h1m2 0h2m9 0h1m1 0h1m3 0h1M279 665h1m4 0h2m235 0h1m210 0h1m5 0h1m19 0h1m3 0h1M279 666h1m1 0h2m2 0h2m175 0h2m9 0h2m40 0h4m1 0h1m7 0h3m202 0h2m1 0h2m1 0h7m1 0h3m1 0h1m7 0h1m2 0h5M279 667h3m3 0h3m176 0h1m8 0h2m39 0h5m2 0h1m5 0h1m2 0h1m1 0h1m197 0h2m1 0h2m1 0h3m1 0h6m2 0h2m1 0h2m2 0h1m2 0h3m1 0h1m1 0h1m1 0h2M277 668h3m1 0h8m174 0h2m2 0h1m4 0h4m38 0h5m1 0h1m7 0h1m1 0h2m83 0h1m116 0h13m3 0h3m3 0h2m2 0h1m1 0h1m1 0h2m1 0h3M277 669h6m1 0h5m2 0h1m170 0h2m1 0h4m1 0h1m1 0h3m6 0h1m31 0h7m8 0h1m2 0h1m1 0h2m11 0h1m27 0h1m38 0h1m118 0h11m1 0h9m1 0h3m1 0h10m39 0h1m125 0h1M273 670h1m2 0h13m173 0h3m1 0h2m1 0h1m2 0h4m4 0h2m31 0h5m12 0h4m12 0h1m25 0h2m1 0h1m35 0h1m1 0h1m119 0h14m1 0h5m1 0h3m1 0h10m39 0h3m2 0h3m116 0h1M277 671h6m4 0h1m1 0h1m1 0h1m171 0h3m7 0h2m39 0h3m3 0h2m8 0h1m2 0h1m82 0h1m116 0h1m2 0h10m2 0h4m6 0h10m38 0h2m123 0h1m1 0h1M278 672h3m1 0h1m1 0h2m1 0h2m174 0h2m49 0h1m1 0h2m2 0h2m3 0h2m1 0h1m208 0h1m1 0h1m4 0h2m1 0h3m1 0h1m6 0h1m4 0h2m1 0h2M275 673h8m1 0h5m178 0h1m2 0h1m3 0h1m39 0h1m2 0h2m1 0h2m1 0h1m1 0h6m15 0h1m1 0h1m23 0h1m44 0h1m116 0h1m1 0h2m3 0h2m1 0h2m2 0h2m5 0h4m1 0h2m1 0h1m1 0h4m38 0h1m3 0h1M274 674h1m2 0h5m2 0h2m2 0h1m174 0h2m1 0h1m5 0h5m37 0h4m5 0h1m1 0h6m2 0h1m38 0h1m159 0h1m3 0h3m1 0h3m1 0h3m2 0h2m3 0h1m3 0h10m43 0h1M279 675h4m1 0h4m2 0h1m172 0h1m1 0h1m7 0h1m6 0h1m33 0h1m1 0h3m4 0h1m1 0h1m1 0h4m15 0h1m188 0h8m3 0h1m2 0h1m4 0h2m3 0h2m1 0h2m1 0h2m37 0h1m1 0h1m1 0h1M274 676h1m3 0h11m175 0h1m2 0h1m4 0h3m38 0h1m2 0h3m1 0h2m1 0h7m4 0h1m10 0h1m69 0h1m2 0h2m114 0h1m1 0h2m2 0h7m1 0h2m1 0h2m2 0h1m2 0h3m1 0h1m1 0h4m36 0h1m2 0h2m7 0h1m116 0h1m3 0h1M277 677h11m175 0h3m1 0h1m5 0h3m5 0h1m32 0h5m1 0h2m1 0h8m2 0h1m12 0h1m23 0h1m43 0h1m4 0h1m116 0h14m1 0h1m3 0h2m1 0h10m38 0h1m1 0h1m3 0h1m113 0h1m4 0h1m1 0h2m1 0h2M277 678h1m2 0h3m2 0h4m173 0h3m1 0h1m5 0h2m39 0h1m2 0h1m1 0h1m4 0h2m1 0h3m3 0h2m11 0h1m3 0h1m20 0h1m1 0h1m163 0h11m2 0h1m1 0h3m1 0h1m3 0h9m36 0h2m1 0h2m3 0h3m1 0h2m113 0h1m1 0h1M281 679h2m1 0h2m1 0h1m175 0h2m1 0h1m5 0h1m43 0h3m2 0h1m1 0h1m1 0h1m211 0h1m1 0h7m3 0h1m1 0h1m2 0h2m2 0h1m1 0h7m44 0h1m122 0h1M281 680h2m2 0h2m176 0h3m3 0h1m3 0h3m38 0h2m8 0h2m94 0h2m115 0h10m1 0h3m2 0h2m2 0h8m1 0h1m41 0h1m3 0h1m120 0h1m2 0h1M464 681h1m7 0h1m264 0h2m1 0h3m5 0h3m4 0h1m2 0h2m1 0h1m1 0h1m3 0h1m39 0h1M285 682h1m44 0h1m132 0h1m1 0h1m6 0h2m145 0h1m1 0h1m116 0h8m1 0h3m1 0h2m1 0h2m2 0h5m2 0h2m4 0h1m34 0h3m2 0h1m4 0h1M474 683h1m71 0h1m19 0h1m54 0h3m114 0h8m2 0h2m1 0h1m1 0h1m1 0h1m3 0h2m1 0h1m5 0h1m37 0h3m3 0h1M10 684h2m199 0h1m5 0h2m100 0h5m4 0h3m2 0h3m217 0h1m1 0h1m4 0h1m2 0h1m57 0h1m1 0h1m115 0h6m1 0h7m1 0h1m1 0h1m14 0h1m35 0h2m2 0h4M9 685h5m1 0h2m193 0h4m1 0h4m1 0h1m1 0h1m91 0h1m3 0h2m1 0h6m1 0h1m1 0h4m1 0h1m4 0h2m212 0h2m6 0h1m57 0h1m121 0h8m1 0h1m4 0h1m11 0h4m34 0h2m3 0h3M10 686h1m1 0h1m2 0h2m193 0h3m2 0h5m94 0h1m3 0h2m3 0h2m3 0h1m1 0h2m5 0h1m3 0h1m1 0h1m210 0h2m184 0h1m2 0h1m5 0h1m5 0h1m14 0h1m35 0h1M9 687h3m3 0h1m1 0h2m191 0h2m4 0h3m123 0h1m399 0h1M8 688h6m1 0h4m188 0h2m1 0h4m2 0h2m1 0h1m2 0h1m2 0h1m51 0h1m1 0h4m1 0h3m24 0h1m1 0h2m3 0h4m1 0h4m1 0h1m1 0h2m3 0h1m1 0h1m3 0h1m3 0h2m207 0h1m3 0h1m3 0h2m56 0h1m121 0h2m10 0h1m14 0h2m36 0h1m4 0h1m48 0h1m2 0h1m2 0h1M9 689h7m1 0h2m1 0h1m183 0h1m2 0h2m1 0h2m2 0h1m4 0h2m1 0h2m1 0h1m47 0h1m3 0h1m1 0h9m23 0h3m3 0h5m1 0h1m4 0h4m2 0h1m5 0h4m210 0h3m1 0h1m2 0h1m59 0h1m121 0h2m4 0h1m54 0h1m2 0h2m48 0h1m2 0h3m4 0h1M8 690h1m1 0h1m4 0h1m2 0h1m191 0h2m2 0h3m61 0h1m2 0h2m1 0h1m2 0h1m34 0h1m5 0h1m8 0h1m4 0h1m518 0h1m4 0h1M8 691h1m1 0h3m1 0h3m1 0h1m187 0h1m1 0h3m1 0h1m6 0h1m4 0h2m12 0h1m38 0h1m1 0h2m1 0h1m2 0h3m25 0h2m4 0h1m3 0h1m9 0h1m8 0h1m2 0h2m206 0h1m1 0h1m1 0h1m4 0h1m1 0h2m58 0h1m119 0h1m7 0h1m20 0h1m30 0h1m2 0h1m51 0h1m1 0h1m2 0h1M5 692h2m2 0h4m2 0h1m1 0h1m1 0h1m1 0h1m182 0h1m1 0h4m10 0h1m1 0h4m9 0h1m2 0h4m1 0h1m30 0h1m1 0h1m1 0h8m1 0h1m20 0h1m2 0h1m1 0h1m4 0h2m3 0h1m1 0h2m1 0h2m2 0h2m6 0h2m3 0h2m207 0h2m1 0h1m4 0h1m208 0h1m32 0h1m2 0h1m52 0h3m4 0h2M4 693h2m1 0h5m3 0h8m180 0h4m15 0h1m2 0h2m1 0h1m6 0h4m1 0h4m29 0h15m3 0h1m15 0h8m2 0h4m1 0h4m2 0h1m1 0h2m2 0h2m3 0h8m1 0h1m1 0h1m202 0h4m3 0h2m1 0h1m56 0h3m149 0h2m30 0h1m2 0h3m51 0h1m2 0h1m2 0h1M4 694h2m3 0h8m1 0h4m181 0h5m15 0h1m1 0h2m5 0h4m1 0h1m1 0h5m29 0h16m1 0h2m2 0h1m12 0h8m1 0h4m1 0h5m2 0h4m1 0h3m1 0h1m2 0h4m2 0h1m3 0h1m203 0h2m5 0h1m1 0h1m1 0h1m55 0h2m149 0h1m33 0h3m48 0h1m1 0h6m2 0h2M5 695h2m1 0h6m1 0h8m179 0h6m15 0h1m2 0h2m1 0h1m4 0h2m1 0h2m1 0h4m29 0h10m1 0h4m2 0h1m3 0h1m13 0h2m1 0h9m1 0h3m4 0h5m2 0h3m1 0h10m1 0h1m203 0h2m1 0h1m2 0h2m1 0h4m54 0h2m1 0h1m148 0h1m30 0h1m1 0h3m2 0h1m49 0h2m3 0h2M6 696h1m3 0h3m1 0h6m1 0h2m179 0h7m15 0h1m1 0h1m1 0h1m3 0h5m1 0h2m1 0h2m29 0h11m1 0h5m18 0h3m1 0h4m2 0h7m1 0h1m2 0h1m2 0h1m1 0h1m1 0h1m1 0h2m1 0h5m1 0h3m1 0h1m202 0h3m5 0h1m3 0h1m54 0h3m148 0h3m32 0h2m51 0h7m1 0h1M6 697h1m1 0h12m1 0h1m180 0h4m22 0h2m3 0h3m1 0h7m29 0h2m1 0h2m1 0h12m3 0h1m12 0h9m1 0h4m1 0h1m1 0h2m2 0h1m1 0h4m1 0h1m4 0h4m1 0h3m205 0h2m1 0h1m1 0h1m2 0h3m57 0h2m1 0h1m147 0h2m34 0h1m48 0h1m1 0h1m1 0h4m1 0h2M8 698h1m2 0h2m1 0h2m2 0h1m184 0h2m1 0h2m17 0h3m7 0h1m3 0h2m32 0h2m1 0h7m1 0h4m1 0h1m18 0h1m3 0h5m1 0h1m3 0h2m1 0h1m1 0h1m1 0h3m1 0h3m1 0h1m3 0h3m1 0h2m207 0h2m65 0h1m149 0h1m89 0h1m2 0h1m2 0h2M15 699h1m2 0h1m186 0h1m1 0h2m15 0h2m11 0h1m37 0h1m1 0h3m1 0h1m1 0h1m1 0h4m22 0h1m2 0h1m2 0h1m1 0h1m6 0h1m1 0h4m10 0h1m3 0h2m206 0h2m68 0h1m146 0h1m89 0h2M15 700h1m209 0h1m51 0h1m1 0h2m1 0h1m2 0h4m42 0h1m8 0h1m526 0h1M15 701h1m188 0h1m1 0h2m1 0h1m15 0h1m2 0h1m5 0h1m2 0h2m2 0h2m30 0h2m1 0h13m19 0h2m1 0h3m1 0h1m2 0h1m1 0h2m1 0h1m4 0h3m4 0h1m2 0h1m1 0h4m2 0h1m207 0h2m7 0h1m57 0h1m2 0h1m235 0h2m1 0h1m2 0h2M204 702h1m1 0h3m1 0h1m8 0h1m1 0h1m1 0h2m13 0h1m1 0h1m37 0h2m1 0h2m1 0h4m23 0h3m4 0h2m5 0h1m2 0h2m1 0h1m11 0h1m1 0h2m423 0h2m1 0h1m87 0h1m5 0h1M206 703h4m1 0h1m8 0h1m1 0h1m2 0h1m51 0h3m1 0h2m1 0h5m24 0h1m5 0h1m1 0h2m5 0h4m4 0h1m4 0h1m1 0h1m281 0h1m144 0h1m1 0h1m87 0h1M209 704h2m3 0h1m2 0h4m1 0h1m1 0h1m54 0h1m2 0h2m2 0h2m25 0h2m4 0h1m2 0h4m2 0h3m1 0h1m2 0h3m2 0h2m280 0h1m238 0h1m1 0h2m2 0h1M207 705h4m4 0h1m3 0h4m1 0h2m52 0h1m3 0h1m1 0h1m28 0h2m2 0h4m1 0h3m4 0h3m1 0h4m1 0h1m1 0h3m278 0h2m149 0h1m87 0h2m2 0h1m2 0h2M208 706h1m1 0h6m1 0h3m99 0h2m7 0h1m292 0h4m235 0h3m2 0h1m1 0h1M212 707h1m1 0h1m407 0h1m1 0h1M216 708h1m405 0h2m145 0h1M621 709h2m1 0h1m145 0h1M621 710h2M620 711h3m147 0h1m86 0h1M620 712h3m1 0h1m145 0h1M619 713h5m146 0h1m2 0h1m79 0h1m3 0h1m4 0h1m3 0h2m4 0h1m3 0h1m12 0h1M620 714h4m148 0h2m78 0h1m2 0h3m7 0h2m5 0h2m3 0h1m1 0h2m1 0h2m1 0h1m3 0h1M621 715h2m148 0h1m1 0h1m83 0h1m9 0h2m3 0h1m3 0h1m1 0h1m11 0h1M621 716h2m229 0h1m19 0h2m1 0h1m1 0h2m1 0h1m1 0h6m1 0h1m4 0h1M620 717h3m253 0h1m1 0h2m3 0h2M622 718h1m229 0h1m30 0h1M484 719h2m38 0h1m95 0h3m1 0h1m148 0h1m78 0h1m17 0h4m2 0h10m2 0h2m1 0h2m2 0h1M481 720h1m42 0h2m94 0h3m1 0h1m226 0h1m17 0h1m3 0h1m1 0h1m1 0h2m1 0h1m1 0h5M157 721h1m326 0h1m39 0h1m95 0h4m1 0h1m225 0h1m20 0h2m1 0h8m1 0h2m1 0h1m1 0h1m6 0h1M621 722h2m3 0h1m245 0h2m3 0h1m7 0h2M524 723h1m2 0h1m92 0h3m1 0h1m5 0h1m220 0h1m21 0h1m3 0h1m1 0h1m1 0h1m1 0h1M156 724h3m365 0h1m94 0h5m2 0h2m1 0h2m143 0h2m75 0h1m20 0h2m2 0h6m2 0h2m3 0h2m2 0h1m2 0h1M621 725h4m1 0h2m1 0h2m1 0h2m142 0h1m95 0h1m4 0h2m1 0h1m2 0h1m1 0h1m3 0h1m2 0h1M622 726h1m1 0h1m1 0h1m1 0h1m1 0h2m2 0h2m1 0h3m1 0h1m210 0h1m20 0h1m2 0h2m2 0h1m2 0h1m5 0h1M619 727h1m2 0h4m1 0h1m1 0h8m4 0h1m133 0h1m75 0h1m19 0h1m3 0h1m1 0h2m1 0h1m2 0h1m2 0h1m2 0h1m5 0h1m4 0h1M156 728h3m461 0h3m2 0h12m3 0h1m233 0h1m1 0h3m1 0h1m12 0h2m4 0h1M621 729h2m1 0h2m3 0h2m2 0h2m3 0h2m1 0h1m2 0h1m1 0h3m237 0h1m12 0h1M619 730h1m2 0h1m2 0h2m2 0h2m2 0h3m1 0h1m6 0h2m1 0h2m1 0h2m1 0h2m12 0h1m183 0h1m48 0h1M157 731h1m462 0h4m1 0h2m1 0h14m1 0h8m1 0h2m6 0h1m6 0h1m107 0h3m98 0h2m2 0h1m1 0h2m18 0h1m1 0h1M620 732h3m1 0h1m1 0h2m1 0h1m1 0h5m1 0h1m2 0h2m1 0h2m1 0h3m2 0h2m1 0h4m7 0h1m2 0h2m4 0h1m175 0h2m25 0h2m6 0h1m17 0h2M620 733h7m2 0h8m1 0h4m1 0h9m1 0h5m3 0h3m2 0h6m205 0h4m20 0h1m1 0h4M621 734h3m2 0h1m2 0h1m1 0h4m3 0h1m1 0h1m2 0h3m1 0h3m3 0h3m5 0h2m3 0h5m2 0h1m2 0h1m96 0h1m77 0h1m24 0h3m21 0h1m1 0h6M84 735h1m536 0h6m4 0h2m1 0h2m2 0h1m5 0h2m1 0h1m1 0h3m2 0h1m1 0h1m2 0h1m1 0h4m3 0h3m4 0h1m228 0h2M85 736h1m534 0h3m1 0h1m1 0h2m1 0h1m2 0h4m2 0h1m1 0h1m2 0h2m1 0h9m1 0h3m1 0h1m1 0h2m2 0h6m1 0h6m172 0h1m50 0h6M83 737h2m2 0h2m1 0h1m528 0h4m1 0h3m1 0h9m1 0h3m2 0h6m1 0h2m1 0h2m1 0h2m1 0h1m1 0h3m2 0h16m219 0h1m1 0h3M81 738h9m530 0h3m1 0h4m1 0h1m1 0h8m1 0h2m1 0h3m1 0h2m2 0h4m1 0h2m1 0h5m1 0h1m1 0h5m2 0h2m1 0h2m1 0h4m89 0h1m125 0h1m2 0h6m26 0h1M11 739h1m63 0h1m2 0h2m1 0h11m192 0h2m334 0h3m1 0h1m1 0h1m1 0h8m1 0h5m1 0h12m1 0h2m1 0h6m1 0h1m1 0h5m2 0h1m1 0h4m1 0h3m216 0h7M10 740h1m64 0h2m2 0h1m1 0h11m1 0h1m191 0h1m1 0h1m332 0h3m1 0h4m1 0h1m1 0h8m1 0h2m1 0h9m1 0h11m2 0h6m2 0h11m1 0h1m88 0h1m74 0h1m50 0h6M16 741h2m56 0h1m1 0h1m1 0h1m2 0h1m1 0h1m1 0h8m189 0h1m1 0h4m332 0h8m1 0h9m1 0h3m1 0h3m1 0h3m1 0h7m1 0h5m2 0h6m1 0h12m87 0h2m124 0h10m25 0h1M10 742h3m2 0h2m1 0h1m54 0h4m1 0h2m5 0h1m1 0h1m1 0h3m1 0h2m187 0h1m3 0h2m6 0h1m326 0h7m1 0h8m2 0h3m1 0h3m1 0h17m2 0h6m1 0h13m1 0h2m84 0h2m76 0h1m49 0h1m1 0h5M10 743h1m4 0h1m58 0h4m1 0h1m6 0h1m1 0h5m186 0h1m1 0h2m1 0h2m334 0h1m1 0h1m1 0h4m1 0h7m2 0h1m1 0h1m2 0h3m1 0h3m1 0h4m1 0h5m1 0h3m1 0h3m1 0h2m4 0h5m1 0h5m1 0h2m82 0h1m79 0h1m45 0h9M11 744h1m3 0h1m2 0h1m55 0h2m2 0h2m11 0h1m187 0h1m1 0h2m4 0h1m332 0h3m1 0h5m2 0h6m3 0h2m1 0h9m1 0h4m2 0h5m2 0h9m1 0h5m1 0h4m3 0h1m1 0h1m79 0h3m77 0h2m1 0h1m42 0h1m1 0h1m2 0h6M12 745h1m2 0h1m58 0h3m1 0h1m10 0h1m1 0h3m188 0h1m1 0h2m1 0h1m334 0h1m1 0h4m1 0h7m1 0h2m1 0h2m1 0h7m1 0h5m1 0h7m2 0h2m1 0h6m1 0h5m1 0h2m1 0h1m84 0h3m80 0h1m42 0h1m6 0h2m1 0h1M73 746h3m1 0h2m12 0h1m1 0h1m190 0h1m1 0h1m339 0h1m2 0h3m1 0h3m1 0h1m2 0h1m4 0h4m2 0h1m3 0h1m3 0h1m1 0h2m1 0h1m4 0h2m3 0h5m1 0h1m3 0h2m84 0h2m132 0h1M74 747h2m14 0h2m1 0h1m532 0h1m2 0h1m9 0h1m8 0h1m2 0h1m6 0h3m1 0h1m3 0h1m2 0h1m2 0h1m4 0h1m4 0h1m1 0h2M10 748h1m61 0h3m2 0h1m14 0h3m529 0h4m1 0h7m2 0h1m1 0h1m2 0h7m7 0h1m1 0h4m3 0h8m2 0h2m2 0h6m84 0h1m82 0h1m2 0h1M73 749h3m16 0h3m527 0h1m2 0h11m2 0h1m1 0h1m2 0h3m1 0h1m1 0h1m12 0h3m1 0h21m2 0h1m81 0h1m79 0h1m42 0h1m2 0h1m12 0h1m1 0h1m7 0h1M73 750h2m16 0h1m535 0h1m3 0h1m2 0h1m9 0h2m16 0h1m1 0h1m3 0h4m2 0h1m5 0h2m2 0h1m211 0h1M73 751h2m549 0h1m1 0h3m3 0h3m3 0h1m4 0h2m2 0h2m13 0h1m3 0h2m1 0h4m3 0h4m2 0h4m211 0h1m9 0h1m3 0h2m1 0h1m2 0h1m7 0h1m2 0h1m4 0h1m7 0h1M73 752h1m560 0h1m9 0h1m3 0h1m13 0h1m4 0h1m1 0h2m5 0h1m1 0h1m3 0h1m1 0h1m6 0h1m220 0h1m5 0h1m12 0h1m5 0h2M77 753h1m11 0h1m1 0h1m1 0h1m535 0h1m1 0h2m1 0h2m7 0h3m32 0h1m1 0h1m2 0h1m87 0h1m135 0h1m3 0h1m1 0h3m4 0h1m8 0h2m6 0h1m1 0h1M74 754h2m1 0h1m12 0h2m193 0h3m337 0h2m1 0h1m1 0h7m1 0h1m1 0h1m3 0h3m21 0h3m3 0h2m3 0h2m1 0h1m1 0h1m3 0h1m219 0h1m1 0h2m1 0h1m3 0h1m2 0h1m1 0h2m2 0h2m1 0h1m3 0h7m1 0h1M73 755h3m1 0h1m13 0h4m184 0h1m1 0h2m1 0h4m338 0h9m1 0h1m1 0h1m4 0h3m17 0h1m3 0h4m2 0h1m1 0h5m1 0h3m2 0h1m86 0h1m81 0h1m48 0h6m1 0h6m2 0h2m1 0h6m2 0h5m2 0h2m1 0h3m40 0h1M73 756h3m11 0h1m1 0h4m188 0h1m2 0h4m6 0h2m330 0h1m2 0h3m1 0h1m3 0h1m2 0h1m2 0h5m21 0h2m2 0h1m3 0h1m6 0h2m218 0h1m5 0h2m1 0h1m9 0h1m2 0h1m2 0h1m1 0h1m2 0h1m4 0h1m43 0h1M282 757h1m390 0h1m6 0h1m239 0h1m4 0h1m10 0h1M73 758h1m15 0h3m185 0h1m1 0h1m1 0h2m1 0h1m1 0h3m5 0h1m1 0h1m134 0h1m197 0h2m1 0h1m2 0h1m7 0h2m20 0h1m1 0h8m1 0h2m1 0h4m89 0h1m79 0h1m54 0h1m2 0h6m3 0h5m2 0h3m2 0h1m1 0h2m2 0h1m1 0h1m1 0h1m1 0h1M73 759h1m1 0h4m1 0h2m7 0h3m185 0h3m1 0h2m1 0h5m5 0h2m3 0h1m128 0h1m2 0h1m4 0h1m189 0h1m2 0h1m1 0h5m1 0h4m2 0h2m1 0h1m19 0h2m1 0h3m2 0h5m1 0h4m168 0h1m54 0h1m1 0h19m1 0h6m1 0h2m1 0h4m39 0h5m1 0h1m2 0h2m3 0h1M74 760h5m1 0h2m3 0h1m1 0h6m185 0h2m1 0h7m6 0h7m131 0h1m3 0h1m189 0h16m1 0h2m1 0h1m17 0h1m2 0h5m1 0h8m1 0h2m92 0h1m132 0h14m3 0h3m1 0h6m1 0h6m39 0h1m1 0h3m4 0h2m4 0h1M75 761h2m2 0h6m1 0h6m185 0h1m1 0h1m1 0h2m1 0h5m3 0h1m1 0h1m1 0h2m137 0h2m192 0h2m1 0h4m2 0h4m1 0h3m23 0h3m1 0h2m2 0h6m92 0h1m132 0h4m1 0h1m1 0h2m3 0h2m1 0h3m1 0h1m5 0h1m2 0h4m1 0h1m41 0h1m2 0h1m5 0h1M77 762h1m5 0h1m1 0h7m185 0h1m1 0h1m1 0h4m1 0h2m4 0h1m1 0h3m332 0h7m1 0h2m1 0h1m2 0h2m19 0h8m2 0h7m1 0h2m92 0h1m130 0h1m3 0h4m1 0h3m1 0h1m1 0h1m2 0h4m2 0h3m3 0h1m1 0h4m36 0h1m3 0h2m7 0h1M75 763h1m5 0h8m1 0h1m186 0h1m1 0h4m1 0h4m2 0h1m3 0h7m327 0h1m1 0h7m1 0h1m2 0h1m1 0h3m2 0h1m14 0h1m2 0h1m1 0h8m1 0h5m93 0h1m132 0h1m2 0h3m2 0h2m1 0h2m2 0h1m1 0h4m1 0h4m2 0h3m1 0h1m38 0h2m1 0h5m5 0h1M79 764h1m2 0h6m1 0h1m187 0h3m1 0h8m2 0h2m1 0h3m2 0h2m328 0h10m1 0h2m1 0h3m17 0h1m2 0h2m1 0h4m1 0h1m1 0h5m94 0h1m1 0h1m2 0h1m127 0h20m1 0h6m1 0h3m1 0h3m39 0h5m4 0h2M85 765h1m191 0h6m1 0h4m6 0h1m1 0h1m333 0h6m1 0h2m1 0h2m1 0h5m18 0h1m1 0h4m1 0h7m2 0h1m93 0h1m133 0h5m1 0h2m1 0h2m1 0h2m1 0h7m1 0h2m1 0h3m2 0h1m40 0h2m7 0h2m1 0h1M84 766h2m193 0h10m5 0h3m332 0h10m1 0h2m1 0h4m3 0h1m12 0h2m1 0h15m1 0h1m94 0h1m2 0h1m126 0h1m1 0h9m1 0h5m1 0h3m1 0h1m1 0h1m1 0h2m1 0h8m38 0h3m4 0h1m1 0h2M283 767h7m4 0h2m334 0h1m1 0h4m3 0h1m3 0h3m1 0h1m12 0h1m6 0h8m1 0h3m2 0h1m98 0h1m71 0h1m54 0h2m3 0h2m1 0h1m1 0h1m1 0h6m1 0h1m2 0h1m3 0h1m2 0h3m1 0h3M287 768h1m2 0h1m3 0h1m345 0h1m20 0h2m10 0h1m9 0h1m1 0h1m220 0h2m10 0h2m6 0h3m4 0h1m3 0h1M654 769h1m4 0h1m25 0h1m2 0h1m19 0h1m204 0h1m1 0h1m1 0h1m5 0h1m5 0h1m7 0h1m1 0h1M286 770h1m346 0h1m9 0h1m6 0h2m3 0h4m26 0h2m1 0h1m13 0h2m5 0h1m1 0h3m31 0h2m1 0h1m30 0h1m71 0h1m25 0h2m28 0h1m1 0h2m1 0h2m3 0h1m1 0h2m2 0h1m1 0h2m6 0h1m2 0h3m2 0h1M648 771h2m1 0h1m1 0h2m6 0h2m19 0h1m1 0h2m6 0h1m3 0h1m1 0h2m2 0h1m12 0h1m28 0h3m2 0h1m3 0h1m27 0h2m68 0h2m27 0h1m26 0h1m3 0h4m4 0h1m5 0h3m2 0h1m2 0h1m3 0h2M648 772h1m2 0h1m2 0h1m6 0h1m31 0h2m1 0h2m5 0h1m1 0h1m8 0h1m26 0h1m1 0h3m12 0h1m21 0h2m70 0h2m19 0h1m3 0h1m2 0h4m22 0h1m4 0h1m7 0h1m5 0h2M653 773h1m37 0h1m1 0h1m1 0h3m4 0h1m10 0h3m3 0h1m14 0h1m3 0h1m2 0h2m1 0h1m10 0h1m25 0h2m69 0h1m19 0h1m9 0h1m2 0h3m14 0h1m1 0h1m2 0h1M724 774h1m17 0h1m43 0h1m71 0h1m9 0h1m16 0h2M724 775h1m2 0h1m3 0h1m8 0h1m20 0h1m1 0h2m17 0h1m3 0h1m72 0h1m8 0h1m3 0h1m20 0h1m1 0h1M725 776h1m5 0h1m28 0h1m1 0h1m2 0h1m95 0h1m24 0h1m2 0h1m6 0h1m3 0h1m3 0h1M731 777h1m32 0h1m1 0h1m19 0h1m70 0h1m3 0h1m2 0h1m2 0h1m21 0h1m2 0h1m3 0h1m3 0h1M862 778h1m23 0h1m4 0h1m1 0h1m2 0h1M770 779h1m92 0h3m23 0h1m4 0h3M764 780h1m1 0h2m4 0h1m16 0h1m72 0h1m1 0h1m1 0h2m18 0h1m2 0h5m2 0h2M771 781h3m15 0h1m1 0h2m92 0h1m2 0h1m1 0h4m1 0h3M771 782h1m1 0h1m1 0h1m15 0h1m91 0h1m2 0h1m3 0h1m1 0h1m2 0h2M791 783h1m93 0h1m5 0h1M791 784h1m3 0h2m87 0h1m4 0h1m5 0h3M794 785h3m1 0h1m96 0h1M774 786h2m1 0h1m18 0h2m1 0h1M797 787h3M798 788h1M780 789h2m14 0h2M781 791h4M781 792h1M785 794h1M784 795h2m17 0h1m1 0h3m3 0h2m3 0h5M784 796h3m2 0h1m16 0h1m2 0h1m6 0h6M786 797h2m1 0h1m23 0h1m3 0h3m1 0h1M785 798h1m1 0h2m31 0h2m1 0h1M786 799h2M819 800h1m1 0h1M795 803h1m189 0h1m3 0h1m2 0h1M675 804h2m1 0h1m10 0h1m1 0h3m1 0h1m128 0h1m1 0h1m59 0h1m2 0h1m92 0h5m1 0h1m1 0h3M678 805h1m116 0h1m186 0h1m8 0h1M10 806h1m4 0h1m655 0h1m3 0h1m1 0h1m4 0h2m1 0h2m7 0h3m98 0h2m28 0h1m54 0h1m5 0h1m92 0h1m3 0h1m1 0h1m2 0h1m2 0h2m1 0h1M10 807h2m3 0h1m324 0h1m90 0h1m237 0h3m1 0h1m2 0h1m1 0h1m2 0h5m2 0h2m1 0h6m98 0h1m30 0h1m55 0h1m2 0h1m3 0h1m88 0h2m2 0h4m5 0h4m1 0h2M10 808h3m2 0h2m323 0h1m1 0h1m2 0h2m60 0h1m23 0h2m237 0h1m4 0h4m1 0h1m1 0h3m4 0h1m3 0h3m1 0h1m126 0h1m1 0h1m55 0h2m1 0h1m3 0h2m86 0h2m1 0h1m1 0h2m1 0h1m3 0h6m1 0h2M670 809h1m22 0h1m102 0h1m194 0h1m5 0h1M8 811h1m1 0h2m3 0h1m2 0h1m323 0h1m2 0h2m83 0h3m240 0h2m4 0h1m2 0h1m1 0h2m9 0h1m99 0h1m30 0h1m55 0h1m1 0h3m93 0h5m3 0h1m2 0h2m3 0h1m1 0h1M6 812h1m3 0h3m5 0h1m314 0h1m3 0h1m2 0h2m1 0h1m1 0h3m2 0h1m56 0h1m18 0h3m2 0h2m237 0h1m6 0h2m1 0h1m2 0h3m2 0h1m106 0h1m32 0h1m53 0h2m1 0h1m92 0h2m2 0h5m4 0h2m1 0h1m1 0h2M9 813h3m3 0h1m1 0h1m318 0h1m3 0h1m4 0h2m3 0h1m77 0h1m2 0h2m237 0h1m7 0h1m5 0h2m111 0h1m181 0h1m2 0h3m1 0h1m2 0h1m2 0h1m4 0h2M11 814h1m329 0h2m82 0h1m244 0h1m7 0h1m5 0h1m297 0h1m3 0h1m4 0h3M991 815h1M9 816h4m2 0h1m2 0h1m322 0h3m2 0h1m1 0h1m76 0h1m1 0h1m2 0h4m242 0h1m1 0h1m3 0h1m112 0h2m27 0h2m153 0h1m2 0h3m1 0h1m1 0h1m1 0h3m3 0h2M9 817h5m1 0h2m1 0h1m316 0h1m4 0h2m1 0h2m1 0h1m3 0h1m76 0h3m1 0h2m245 0h1m116 0h3m31 0h1m152 0h5m1 0h2m1 0h2m1 0h1m1 0h2M9 818h3m3 0h1m325 0h3m1 0h3m2 0h1m76 0h1m1 0h1m1 0h3m361 0h3m30 0h2m149 0h1m2 0h7m1 0h3m1 0h1m1 0h1M9 819h1m1 0h1m2 0h3m323 0h2m3 0h2m83 0h2m363 0h3m2 0h1m27 0h2m151 0h8m2 0h2m1 0h1M15 820h1m779 0h2m1 0h1m30 0h1m158 0h1m1 0h1m1 0h1M796 821h3m1 0h1m28 0h1m156 0h1m4 0h1M830 822h1M798 823h1M804 824h1m3 0h1m7 0h1M806 825h1m9 0h1M804 826h1m2 0h2m2 0h1m21 0h1m3 0h2M838 827h1M812 828h1m5 0h2m19 0h1M817 829h5m16 0h2M822 830h1M826 833h1m15 0h1M842 834h2m1 0h1M826 837h1M826 838h2m1 0h1m14 0h1m1 0h1M828 839h2M852 840h1M851 841h1M833 842h2m17 0h1M834 843h1m17 0h1M838 844h1m13 0h1M834 845h1m17 0h3m2 0h1m35 0h1m9 0h4M838 846h1m15 0h1m6 0h1m33 0h1m1 0h1m5 0h1m2 0h1M732 850h1m7 0h1M720 851h2m1 0h2m2 0h1m2 0h1m1 0h1m1 0h1m1 0h1m5 0h1m1 0h1m4 0h1m20 0h2m69 0h1m30 0h1m4 0h1m7 0h1m2 0h2m23 0h1m2 0h1M714 852h1m1 0h1m1 0h2m6 0h1m16 0h2m13 0h2m7 0h1m3 0h3m66 0h1m1 0h4m26 0h1m10 0h1m30 0h2m1 0h1m19 0h1M713 853h1m31 0h1m2 0h1m23 0h1m72 0h1m34 0h1m2 0h1m1 0h2M744 854h1m100 0h2m36 0h1m32 0h1m24 0h1M714 855h1m40 0h1m177 0h1M714 856h1m33 0h1m129 0h2m3 0h1m42 0h1m2 0h1m6 0h1M689 857h1m4 0h1m2 0h1m13 0h1m1 0h3m61 0h1m67 0h1m31 0h2m2 0h1m43 0h2m3 0h1m11 0h1m4 0h1m34 0h1m2 0h1m6 0h1M774 858h1m142 0h1m30 0h1m31 0h1m10 0h1M691 859h1m2 0h1m1 0h2m77 0h1m143 0h2m2 0h1m21 0h1m6 0h1m25 0h2m3 0h2m1 0h1m4 0h2m1 0h1M689 860h1m2 0h1m1 0h1m1 0h1m4 0h1m1 0h1m1 0h2m212 0h1m29 0h1m3 0h2m23 0h15m1 0h2M688 861h12m1 0h2m1 0h3m69 0h2m68 0h1m107 0h2m21 0h13m1 0h7M689 862h1m2 0h1m1 0h4m1 0h1m6 0h1m6 0h1m64 0h1m1 0h1m170 0h3m23 0h7m1 0h11M694 863h1m1 0h2m3 0h1m2 0h1m74 0h1m174 0h2m21 0h7m2 0h1m1 0h4m1 0h2M688 864h1m2 0h1m1 0h2m1 0h3m5 0h2m71 0h1m1 0h2m177 0h1m18 0h4m1 0h5m2 0h5m2 0h1M696 865h1m9 0h1m7 0h1m64 0h1m199 0h2m1 0h2m2 0h1m3 0h4M690 866h1m4 0h1m1 0h1m3 0h1m11 0h2m65 0h1m196 0h10m1 0h7m1 0h1M688 867h2m2 0h7m1 0h3m1 0h3m6 0h1m1 0h1m61 0h1m2 0h1m196 0h4m1 0h15M692 868h1m1 0h1m3 0h1m6 0h1m9 0h1m58 0h2m202 0h15m2 0h1M720 869h1m256 0h1m4 0h5m1 0h7M719 870h1m257 0h1m1 0h1m2 0h5m2 0h1m1 0h2M719 871h1m7 0h1m249 0h17M713 872h4m2 0h1m1 0h2m1 0h2m47 0h1m1 0h1m75 0h2m107 0h3m14 0h10m1 0h5m1 0h1m1 0h2M714 873h1m1 0h1m2 0h6m1 0h1m45 0h1m185 0h1m1 0h1m16 0h10m1 0h7m2 0h1M728 874h1m230 0h2m17 0h2m1 0h1m1 0h11M716 875h1m3 0h2m5 0h1m231 0h1m18 0h4m1 0h2m6 0h3M713 876h1m1 0h1m1 0h1m1 0h1m1 0h1m2 0h1m1 0h1m1 0h1m2 0h1m2 0h1m242 0h10m1 0h2m1 0h4m1 0h1M714 877h1m1 0h1m2 0h10m2 0h4m35 0h1m1 0h1m78 0h1m5 0h1m101 0h4m14 0h18m1 0h1M715 878h3m1 0h3m2 0h2m1 0h2m3 0h3m35 0h1m85 0h2m103 0h2m14 0h10m1 0h5m1 0h1M714 879h1m2 0h1m1 0h1m1 0h1m1 0h2m8 0h1m122 0h1m103 0h1m1 0h1m14 0h4m1 0h5m1 0h6m2 0h1M314 880h1m210 0h2m1 0h1m185 0h1m1 0h1m2 0h3m2 0h5m2 0h1m1 0h1m37 0h2m33 0h1m46 0h1m107 0h3m13 0h19M312 881h1m214 0h1m191 0h1m1 0h1m1 0h2m47 0h1m84 0h1m119 0h5m1 0h1m1 0h3m1 0h5M308 882h1m2 0h4m3 0h1m61 0h1m143 0h2m1 0h3m184 0h1m1 0h1m2 0h3m9 0h1m40 0h2m33 0h2m2 0h2m148 0h2m14 0h12m1 0h5m1 0h2m4 0h3m3 0h6M215 883h1m92 0h2m4 0h1m2 0h1m65 0h2m139 0h3m1 0h1m185 0h1m1 0h5m2 0h1m1 0h3m3 0h1m40 0h1m9 0h1m25 0h1m3 0h1m39 0h3m1 0h1m103 0h1m1 0h1m14 0h13m1 0h4m1 0h2m5 0h3m1 0h4m1 0h2M527 884h1m188 0h2m1 0h3m2 0h1m59 0h1m26 0h1m149 0h2m15 0h3m1 0h2m2 0h1m3 0h3m1 0h1m3 0h1m2 0h2m2 0h1m2 0h1m1 0h3M215 885h2m94 0h5m2 0h1m58 0h1m5 0h4m1 0h3m132 0h6m185 0h1m1 0h1m2 0h4m1 0h2m6 0h1m40 0h2m6 0h1m1 0h1m23 0h2m2 0h2m38 0h1m1 0h1m107 0h1m1 0h1m13 0h17m1 0h1m6 0h3m2 0h7M214 886h1m99 0h1m65 0h1m8 0h1m138 0h2m186 0h1m3 0h1m1 0h1m4 0h1m1 0h1m43 0h2m1 0h1m1 0h1m1 0h1m1 0h1m21 0h1m1 0h1m4 0h1m41 0h1m105 0h2m1 0h1m14 0h19m6 0h2m1 0h1m2 0h3m1 0h1M716 887h1m4 0h1m51 0h1m203 0h3m1 0h4m4 0h4m1 0h1m9 0h1m1 0h1m2 0h1m2 0h1M312 888h1m1 0h1m212 0h1m191 0h1m61 0h1m69 0h1m126 0h1m2 0h2m3 0h2m4 0h1m1 0h1m8 0h1m1 0h1m4 0h2M312 889h3m65 0h2m2 0h3m1 0h2m134 0h1m3 0h2m183 0h2m1 0h1m2 0h1m1 0h1m2 0h4m48 0h2m1 0h2m3 0h1m19 0h1m2 0h2m42 0h1m125 0h4m1 0h2m2 0h11m5 0h3m2 0h4m1 0h2M313 890h1m401 0h1m8 0h1m55 0h3m25 0h1m148 0h2m18 0h7m1 0h8m9 0h1m5 0h2m3 0h1M314 891h1m71 0h1m137 0h2m2 0h1m190 0h1m58 0h1m1 0h2m1 0h1m193 0h1m2 0h5m1 0h1m1 0h1m2 0h1m1 0h1m1 0h1m5 0h1m6 0h3M524 892h1m3 0h1m190 0h1m5 0h1m51 0h1m2 0h3m195 0h7m1 0h3m2 0h2m10 0h1m3 0h2M524 893h1m1 0h1m197 0h1m3 0h1m46 0h1m2 0h1m1 0h2m63 0h1m111 0h2m1 0h1m16 0h10m1 0h2m1 0h5m5 0h1m1 0h2m3 0h1m3 0h2M716 894h1m11 0h1m20 0h1m29 0h1m197 0h11m1 0h1m1 0h4m7 0h1m5 0h1m1 0h2m1 0h1M527 895h1m191 0h1m7 0h1m47 0h1m3 0h1m1 0h2m1 0h2m60 0h1m109 0h1m3 0h1m16 0h10m1 0h2m3 0h1m3 0h2m2 0h5m2 0h2m2 0h1M523 896h6m192 0h1m2 0h1m20 0h1m4 0h1m25 0h7m1 0h1m172 0h2m18 0h9m1 0h2m1 0h1m2 0h1m3 0h2m2 0h12M527 897h1m216 0h1m4 0h1m1 0h1m28 0h2m2 0h1m61 0h1m130 0h7m1 0h1m2 0h1m1 0h1m2 0h1m2 0h1m6 0h3m1 0h3m1 0h2M741 898h1m1 0h1m234 0h10m1 0h2m19 0h3M728 899h2m8 0h1m2 0h1m1 0h2m213 0h1m18 0h7m1 0h2m14 0h3m3 0h4m1 0h1M727 900h1m2 0h1m3 0h1m6 0h1m1 0h1m32 0h2m180 0h4m15 0h9m1 0h1m16 0h2m1 0h7M733 901h1m3 0h1m1 0h5m213 0h2m19 0h3m2 0h3m21 0h3M731 902h1m2 0h1m1 0h1m1 0h4m1 0h2m28 0h1m183 0h1m19 0h9m18 0h1m3 0h3m1 0h2M311 903h1m1 0h2m417 0h3m1 0h10m99 0h2m112 0h1m1 0h2m14 0h5m24 0h8m1 0h2m4 0h2M309 904h1m2 0h3m4 0h1m411 0h16m8 0h2m16 0h1m2 0h1m68 0h1m115 0h2m14 0h5m2 0h1m22 0h1m2 0h4m1 0h3m3 0h3m2 0h1m1 0h3m1 0h1M314 905h2m3 0h1m413 0h12m10 0h1m89 0h1m132 0h1m1 0h2m28 0h1m1 0h1m1 0h4m3 0h3m1 0h1m1 0h3m2 0h1M309 906h6m4 0h1m413 0h2m1 0h1m1 0h8m9 0h1m12 0h1m3 0h1m72 0h2m115 0h2m13 0h1m34 0h2m1 0h4m1 0h4m2 0h4m1 0h2M309 907h1m1 0h3m3 0h1m416 0h1m1 0h1m1 0h2m1 0h2m1 0h1m6 0h1m1 0h1m1 0h1m2 0h2m2 0h1m3 0h3m1 0h2m1 0h1m189 0h1m47 0h1m1 0h1m1 0h2m2 0h5m1 0h1m1 0h4m1 0h1M309 908h1m4 0h1m439 0h2m5 0h1m1 0h2m2 0h1m194 0h1m50 0h1m3 0h1m5 0h1m2 0h4M755 909h1m3 0h3m2 0h1m1 0h1m3 0h1m243 0h1m1 0h1m1 0h1m1 0h2m5 0h1M314 910h1m2 0h3m429 0h1m4 0h1m1 0h1m1 0h4m2 0h3m3 0h1m245 0h2m2 0h4m1 0h2m2 0h1m1 0h1M307 911h1m1 0h1m3 0h2m436 0h1m1 0h4m1 0h9m4 0h2m198 0h1m43 0h2m3 0h4m2 0h1m1 0h5M310 912h5m212 0h1m221 0h1m1 0h2m2 0h1m2 0h3m1 0h6m2 0h2m195 0h2m3 0h1m43 0h2m2 0h5m1 0h1m1 0h5m3 0h1m3 0h3M309 913h1m1 0h5m208 0h1m1 0h2m225 0h4m1 0h10m1 0h3m79 0h1m115 0h2m2 0h2m41 0h4m2 0h4m1 0h6m1 0h2m3 0h1m1 0h6m2 0h2m1 0h1M527 914h1m223 0h1m1 0h1m1 0h1m2 0h3m1 0h1m1 0h3m4 0h1m80 0h1m114 0h1m47 0h3m2 0h4m4 0h3m1 0h1m3 0h2m3 0h1m3 0h2m3 0h1M525 915h1m1 0h1m225 0h1m1 0h1m2 0h4m2 0h1m1 0h2m1 0h1m82 0h1m162 0h3m2 0h2m1 0h1m3 0h4m5 0h1m1 0h1m1 0h4m2 0h1M312 916h1m1 0h1m208 0h6m96 0h2m7 0h1m120 0h1m3 0h8m84 0h1m2 0h1m115 0h4m41 0h2m1 0h1m1 0h4m2 0h2m1 0h4m3 0h11M524 917h2m100 0h1m6 0h1m117 0h1m2 0h1m4 0h2m1 0h6m1 0h2m81 0h1m5 0h1m110 0h1m45 0h4m1 0h1m1 0h3m1 0h1m1 0h6m2 0h1m3 0h6M752 918h1m6 0h2m1 0h1m1 0h1m3 0h1m198 0h2m48 0h1m2 0h2m3 0h1m1 0h1m2 0h3m4 0h1m3 0h3m2 0h1M524 919h1m1 0h1m99 0h1m2 0h1m1 0h2m122 0h1m2 0h3m2 0h6m1 0h3m86 0h2m109 0h2m43 0h1m4 0h7m1 0h10m1 0h5m1 0h4M749 920h1m3 0h3m1 0h11m2 0h1m88 0h1m157 0h1m1 0h2m1 0h2m1 0h2m2 0h2m1 0h3m1 0h2m1 0h9M758 921h4m2 0h1m1 0h2m199 0h2m49 0h1m2 0h2m1 0h1m1 0h1m1 0h2m2 0h3m1 0h1m3 0h2m1 0h1m1 0h1m1 0h1M754 922h2m2 0h3m1 0h1m1 0h4m203 0h1m54 0h1m1 0h2m1 0h2m3 0h1m2 0h3m1 0h2m1 0h2M754 923h3m1 0h2m1 0h1m1 0h5m1 0h2m88 0h1m172 0h3m1 0h1m3 0h4m1 0h1M755 924h1m3 0h1m1 0h1m2 0h1m2 0h1m199 0h1m69 0h1m2 0h3M235 925h7m509 0h1m3 0h1m1 0h1m1 0h1m1 0h6m3 0h3m84 0h1m178 0h1m2 0h5m1 0h1m5 0h1M233 926h6m1 0h4m152 0h1m2 0h3m2 0h2m271 0h1m76 0h3m1 0h3m1 0h7m1 0h3m83 0h2m109 0h1m66 0h2m1 0h1m1 0h6m1 0h2m2 0h1M232 927h1m2 0h2m1 0h1m1 0h4m140 0h1m14 0h4m1 0h4m346 0h2m2 0h9m1 0h1m2 0h1m262 0h1m1 0h3m1 0h8M234 928h1m6 0h1m509 0h1m6 0h1m1 0h1m1 0h2m1 0h1m2 0h1m200 0h1m67 0h1m2 0h1m6 0h1M230 929h1m3 0h2m2 0h5m156 0h2m1 0h1m1 0h1m1 0h2m345 0h2m1 0h1m2 0h1m4 0h4m1 0h1m86 0h1m182 0h1m1 0h1m1 0h1m1 0h2M231 930h2m2 0h2m3 0h3m2 0h1m1 0h1m138 0h2m8 0h2m1 0h2m3 0h2m1 0h1m246 0h1m98 0h1m1 0h1m3 0h2m2 0h3m5 0h1m85 0h1m178 0h1m2 0h4m7 0h1m32 0h1M229 931h2m2 0h1m1 0h1m4 0h1m1 0h2m154 0h1m1 0h1m2 0h2m2 0h1m246 0h1m1 0h1m13 0h2m5 0h2m73 0h1m2 0h2m1 0h3m1 0h5m270 0h1m1 0h3m1 0h6M229 932h2m3 0h1m1 0h2m1 0h1m1 0h3m140 0h1m16 0h1m1 0h2m2 0h1m347 0h1m3 0h2m1 0h3m274 0h2m2 0h5M229 933h2m1 0h1m1 0h4m2 0h6m130 0h1m3 0h1m2 0h4m10 0h5m1 0h2m1 0h3m260 0h1m1 0h1m4 0h3m1 0h1m60 0h1m9 0h1m2 0h2m2 0h11m1 0h2m83 0h1m110 0h1m5 0h1m66 0h5m3 0h4M230 934h3m1 0h2m1 0h1m1 0h3m1 0h3m138 0h1m14 0h1m3 0h2m272 0h1m1 0h1m58 0h1m15 0h3m1 0h3m3 0h3m204 0h1m67 0h9M232 935h1m521 0h1m5 0h1M228 936h5m1 0h2m1 0h1m1 0h2m1 0h4m134 0h1m23 0h2m1 0h1m269 0h1m2 0h1m73 0h1m2 0h1m1 0h1m1 0h1m1 0h5m2 0h1m85 0h1m113 0h2m70 0h2M229 937h4m1 0h10m1 0h1m137 0h1m16 0h1m3 0h2m1 0h1m268 0h2m74 0h4m2 0h14m80 0h1m117 0h3m70 0h6m1 0h1m25 0h1m4 0h1m1 0h1M229 938h2m1 0h4m1 0h2m2 0h4m507 0h1m1 0h2m4 0h2m1 0h5m2 0h2m191 0h1m8 0h1m70 0h2m1 0h2M241 939h1m1 0h1m509 0h2m1 0h1m1 0h5m3 0h1m2 0h1m191 0h1M231 940h3m4 0h1m1 0h1m1 0h2m1 0h1m245 0h1m263 0h1m3 0h2m1 0h3m1 0h2m276 0h1m1 0h2M230 941h6m1 0h8m36 0h1m469 0h1m2 0h2m2 0h5m1 0h4m2 0h1m83 0h1m108 0h1m8 0h1m4 0h1m68 0h3m1 0h2m29 0h3M232 942h1m1 0h2m1 0h2m2 0h4m37 0h1m207 0h1m264 0h1m3 0h2m1 0h1m1 0h1m1 0h2m89 0h1m104 0h1m83 0h2M230 943h1m1 0h1m1 0h2m2 0h1m1 0h3m515 0h1m7 0h1m211 0h1m68 0h2M237 944h2m1 0h1m1 0h1m719 0h1m14 0h1m68 0h3M235 945h8m38 0h2m149 0h1m426 0h1m186 0h2m30 0h1M235 946h1m1 0h1m43 0h1m146 0h1m2 0h1m1 0h1m616 0h1M238 947h1m1 0h1m41 0h1m149 0h1m424 0h1m188 0h2M424 948h2m3 0h8m421 0h1m118 0h1m69 0h1m3 0h1m24 0h1M424 949h2m2 0h3m4 0h3m422 0h1m102 0h1m84 0h1M427 950h2m2 0h1m1 0h1m1 0h2M424 951h5m1 0h1m2 0h4m425 0h1m183 0h1M91 952h4m2 0h1m306 0h1m18 0h4m1 0h1m7 0h1m88 0h3m331 0h1m2 0h1m103 0h1m1 0h2m1 0h1m75 0h4m24 0h2m5 0h2M89 953h3m2 0h4m1 0h1m304 0h1m1 0h2m14 0h3m1 0h1m2 0h1m4 0h1m2 0h1m86 0h1m3 0h2m330 0h1m1 0h1m104 0h2m2 0h1m1 0h2m72 0h2m1 0h1m25 0h1m1 0h1m2 0h1m1 0h1M90 954h2m1 0h1m1 0h4m305 0h1m18 0h2m1 0h1m2 0h1m4 0h2m1 0h2m86 0h1m2 0h1m331 0h2m1 0h1m102 0h2m4 0h1m74 0h2m1 0h1M35 955h2m52 0h1m1 0h1m5 0h1m4 0h1m304 0h1m15 0h4m8 0h1m1 0h1m86 0h1m336 0h1m1 0h1m110 0h1m75 0h1m32 0h1M94 956h1m312 0h1m16 0h2m2 0h1m5 0h4m457 0h1m75 0h1M90 957h2m4 0h1m1 0h2m323 0h1m1 0h4m1 0h1m2 0h3m454 0h1m2 0h1m2 0h1m4 0h2m67 0h2m75 0h1m2 0h1M35 958h1m54 0h3m1 0h1m2 0h3m2 0h1m320 0h4m1 0h1m1 0h1m2 0h2m1 0h2m426 0h1m8 0h1m16 0h1m2 0h1m2 0h1m2 0h3m145 0h2m1 0h1m25 0h1m4 0h1m1 0h1M91 959h1m2 0h1m2 0h1m327 0h1m1 0h1m1 0h3m1 0h1m1 0h3m436 0h2m1 0h1m8 0h1m13 0h1m2 0h1m67 0h1m2 0h1m72 0h1m2 0h1m27 0h1m2 0h1M32 960h1m57 0h2m3 0h3m326 0h1m2 0h4m1 0h2m1 0h2m435 0h3m2 0h1m1 0h1m3 0h1m2 0h1m6 0h1m1 0h1m4 0h1m72 0h1m74 0h1m1 0h1M91 961h1m1 0h1m1 0h5m324 0h1m2 0h2m1 0h8m434 0h1m4 0h2m1 0h1m1 0h1m1 0h2m14 0h1m2 0h2m34 0h1m105 0h1m2 0h1m1 0h1m25 0h1m6 0h1M91 962h1m2 0h1m1 0h2m330 0h2m1 0h3m1 0h2m435 0h1m4 0h4m1 0h3m1 0h1m16 0h2m1 0h1m1 0h1m33 0h1m1 0h1m27 0h1m61 0h1m13 0h4M432 963h1m447 0h1m4 0h1m20 0h2m30 0h1m2 0h1m7 0h1m85 0h1m3 0h1m5 0h1m1 0h2M1032 964h1m8 0h2M1015 965h1m27 0h1M933 966h1m18 0h1m1 0h1m60 0h1m12 0h2m2 0h1m8 0h4M912 967h3m3 0h1m2 0h1m2 0h1m1 0h1m26 0h2m58 0h1m2 0h1m13 0h1m1 0h1M912 968h2m4 0h1m2 0h1m30 0h2m35 0h1m5 0h1m3 0h1m6 0h2m1 0h1m1 0h2m2 0h1m1 0h1m2 0h1m5 0h1m1 0h3m1 0h1m9 0h2M917 969h1m10 0h1m23 0h1m36 0h1m1 0h2m1 0h1m15 0h1m5 0h1m10 0h1m1 0h1M916 970h1m2 0h1m16 0h2m19 0h1m36 0h1m1 0h2m4 0h1m1 0h1m3 0h1m1 0h1m1 0h1m2 0h2m8 0h1m2 0h3M93 971h1m1 0h5m811 0h1m1 0h1m2 0h1m2 0h1m2 0h1m11 0h1m1 0h2m14 0h2m2 0h2m1 0h1m37 0h2m10 0h2m16 0h2M92 972h2m1 0h3m1 0h1m2 0h2m1 0h2m805 0h2m2 0h1m16 0h1m3 0h2m2 0h1m12 0h1m7 0h1m34 0h1m10 0h1m1 0h2m2 0h1m13 0h1m3 0h1M91 973h1m4 0h3m1 0h3m813 0h1m36 0h1m6 0h1m35 0h1m1 0h1m9 0h1m1 0h1M92 974h1m1 0h1m2 0h1m1 0h4m2 0h1m847 0h1m1 0h1m3 0h1m51 0h1M92 975h1m9 0h1M89 977h3m9 0h7m299 0h1m5 0h1m394 0h1m52 0h4m1 0h2m1 0h5m2 0h8m1 0h3m1 0h3m1 0h5m1 0h2m1 0h3m1 0h1m34 0h1m2 0h1m3 0h1m91 0h2m30 0h2m1 0h4m1 0h1m1 0h2M88 978h4m14 0h2m296 0h2m4 0h5m2 0h1m389 0h2m3 0h1m46 0h6m1 0h3m2 0h20m1 0h14m37 0h1m58 0h1m37 0h2m4 0h1m25 0h13M32 979h2m53 0h3m2 0h1m14 0h4m292 0h1m1 0h1m1 0h2m1 0h4m3 0h2m2 0h1m229 0h2m109 0h2m42 0h2m4 0h2m2 0h1m1 0h1m40 0h10m1 0h18m1 0h2m1 0h13m99 0h1m40 0h1m4 0h2m1 0h1m17 0h9m1 0h6M34 980h1m1 0h2m48 0h1m1 0h2m16 0h1m299 0h2m3 0h3m3 0h2m3 0h1m228 0h1m2 0h1m108 0h1m44 0h1m2 0h1m46 0h1m1 0h9m2 0h3m1 0h12m2 0h17m167 0h7m3 0h3M29 981h1m2 0h1m3 0h1m52 0h1m16 0h2m2 0h1m242 0h2m52 0h1m2 0h1m1 0h3m1 0h1m394 0h1m7 0h1m40 0h4m2 0h1m1 0h1m2 0h8m1 0h4m1 0h4m1 0h11m1 0h4m144 0h1m21 0h8m1 0h1m1 0h2m1 0h2M28 982h1m1 0h1m3 0h4m1 0h1m36 0h1m6 0h1m3 0h2m19 0h1m1 0h1m242 0h2m44 0h10m1 0h5m2 0h2m1 0h9m3 0h1m121 0h1m11 0h1m80 0h3m1 0h1m1 0h2m1 0h1m102 0h2m2 0h4m37 0h2m1 0h2m2 0h4m1 0h4m37 0h1m2 0h14m2 0h5m1 0h19m1 0h1m145 0h2m3 0h1m18 0h16M27 983h2m2 0h1m1 0h5m1 0h1m33 0h3m1 0h1m4 0h7m19 0h3m242 0h2m1 0h3m40 0h10m1 0h5m1 0h4m1 0h5m1 0h3m1 0h1m1 0h1m120 0h2m4 0h1m4 0h1m78 0h1m2 0h11m2 0h3m92 0h2m2 0h1m1 0h6m37 0h1m1 0h3m2 0h3m2 0h4m39 0h29m1 0h14m169 0h15m1 0h1M27 984h2m6 0h2m3 0h1m32 0h1m14 0h2m16 0h2m1 0h1m289 0h2m1 0h1m2 0h3m3 0h5m2 0h2m1 0h3m2 0h1m219 0h2m3 0h1m1 0h2m1 0h3m100 0h2m1 0h3m1 0h1m37 0h1m2 0h1m3 0h3m2 0h4m39 0h3m2 0h1m1 0h15m1 0h2m1 0h3m3 0h6m1 0h1m1 0h3m1 0h1m168 0h1m1 0h4m1 0h5m1 0h1M28 985h1m2 0h1m4 0h1m1 0h2m33 0h2m5 0h1m2 0h1m1 0h6m16 0h1m1 0h1m240 0h1m2 0h2m1 0h1m1 0h2m39 0h3m1 0h2m1 0h9m1 0h3m2 0h3m1 0h1m1 0h2m125 0h1m93 0h1m1 0h2m1 0h2m1 0h2m1 0h1m1 0h1m97 0h2m2 0h2m38 0h2m1 0h3m3 0h1m4 0h3m37 0h1m2 0h3m1 0h1m1 0h9m1 0h8m1 0h2m3 0h1m2 0h10m150 0h1m20 0h6m1 0h6M28 986h1m1 0h1m2 0h2m1 0h1m37 0h1m1 0h1m8 0h1m1 0h2m1 0h1m16 0h2m242 0h1m4 0h1m42 0h6m1 0h3m1 0h9m1 0h6m1 0h2m2 0h1m58 0h1m153 0h2m2 0h3m1 0h2m1 0h3m3 0h1m97 0h3m1 0h2m39 0h1m7 0h3m1 0h4m1 0h1m37 0h16m1 0h11m1 0h8m2 0h2m153 0h1m18 0h17M89 987h1m1 0h1m14 0h2m310 0h1m3 0h2m230 0h1m163 0h2m40 0h3m4 0h2m2 0h1m2 0h1m2 0h1m2 0h4m1 0h2m1 0h3m1 0h1m1 0h1m1 0h1m1 0h1m1 0h1m172 0h1m4 0h1m2 0h3m1 0h1M28 988h1m6 0h1m2 0h1m45 0h1m3 0h4m2 0h1m8 0h3m1 0h2m204 0h1m42 0h2m42 0h9m2 0h3m1 0h3m3 0h3m68 0h1m156 0h1m4 0h1m2 0h1m3 0h1m97 0h1m44 0h1m1 0h1m4 0h1m4 0h5m39 0h4m2 0h4m1 0h4m1 0h5m1 0h2m1 0h2m2 0h5m1 0h3m174 0h1m1 0h4m2 0h1m1 0h5M28 989h1m3 0h2m1 0h2m38 0h1m7 0h2m4 0h3m1 0h2m10 0h2m250 0h2m40 0h2m3 0h1m1 0h9m1 0h3m2 0h2m2 0h1m64 0h1m153 0h1m2 0h1m3 0h1m1 0h3m5 0h1m104 0h1m36 0h1m4 0h1m4 0h1m3 0h1m42 0h5m1 0h9m1 0h6m1 0h1m1 0h3m1 0h2m2 0h3m2 0h1m69 0h2m83 0h1m18 0h1m1 0h3m1 0h1m1 0h4m1 0h2M91 990h1m2 0h2m4 0h1m2 0h2m2 0h1m245 0h1m50 0h6m1 0h1m1 0h2m6 0h2m69 0h1m156 0h1m6 0h1m147 0h1m3 0h1m7 0h1m1 0h1m1 0h1m39 0h1m1 0h8m1 0h4m2 0h6m1 0h4m1 0h2m5 0h3m153 0h1m19 0h1m1 0h1m1 0h1m2 0h3m1 0h3M29 991h2m1 0h5m1 0h1m32 0h1m2 0h2m6 0h2m5 0h3m1 0h3m3 0h1m1 0h7m203 0h4m1 0h1m2 0h1m10 0h1m2 0h1m3 0h2m11 0h1m2 0h2m1 0h1m1 0h1m41 0h2m2 0h11m1 0h8m63 0h2m2 0h2m152 0h10m4 0h1m1 0h2m96 0h2m3 0h3m37 0h6m1 0h2m1 0h6m1 0h1m36 0h30m1 0h6m74 0h1m83 0h1m18 0h17M29 992h1m4 0h3m36 0h3m6 0h3m6 0h1m2 0h2m1 0h7m1 0h2m203 0h5m3 0h1m31 0h1m2 0h2m1 0h3m41 0h5m1 0h9m2 0h2m1 0h4m62 0h2m2 0h3m2 0h1m151 0h2m1 0h2m1 0h4m102 0h8m36 0h2m1 0h3m2 0h4m1 0h5m36 0h1m1 0h4m1 0h27m1 0h3m74 0h1m83 0h1m18 0h16M96 993h2m214 0h2m39 0h2m51 0h2m1 0h1m2 0h2m240 0h1m152 0h2m5 0h1m46 0h7m1 0h1m1 0h1m1 0h5m1 0h5m1 0h2m2 0h1m1 0h1m1 0h5m174 0h1m3 0h2m1 0h1m1 0h2m2 0h1M74 994h1m19 0h2m1 0h1m212 0h4m4 0h1m35 0h1m51 0h2m2 0h5m73 0h1m3 0h1m161 0h1m110 0h1m40 0h3m3 0h1m4 0h3m39 0h5m2 0h2m1 0h1m2 0h2m2 0h3m1 0h1m1 0h3m1 0h4m3 0h2m74 0h2m82 0h1m18 0h1m1 0h13M314 995h1m98 0h1m446 0h3m4 0h2m11 0h1m4 0h2m2 0h1m1 0h1m1 0h1m74 0h1m106 0h1m2 0h1m2 0h4m1 0h1M307 996h9m1 0h2m94 0h2m71 0h1m2 0h3m267 0h1m47 0h2m2 0h2m3 0h3m42 0h1m2 0h1m1 0h2m4 0h1m3 0h2m1 0h1m2 0h2m5 0h1m7 0h1m72 0h1m2 0h1m79 0h1m19 0h6m1 0h5m1 0h1M11 997h1m2 0h2m2 0h1m56 0h1m3 0h1m227 0h5m2 0h6m1 0h1m1 0h1m88 0h1m72 0h1m4 0h1m1 0h1m1 0h2m264 0h1m46 0h3m2 0h2m2 0h2m43 0h1m10 0h2m8 0h2m11 0h2m73 0h3m99 0h16M9 998h1m1 0h1m3 0h5m1 0h1m284 0h6m2 0h1m1 0h5m2 0h1m166 0h3m318 0h1m1 0h1m70 0h1m10 0h2m74 0h1m1 0h1m80 0h1m17 0h13m1 0h1M12 999h1m2 0h1m2 0h1m289 0h3m4 0h2m2 0h2m647 0h1m105 0h1m1 0h3m1 0h4M13 1000h1M11 1001h2m2 0h7m286 0h2m8 0h1m565 0h1m6 0h1m1 0h1m1 0h2m2 0h1m176 0h2m9 0h1M6 1002h1m5 0h1m3 0h2m1 0h2m2 0h1m283 0h3m10 0h4m165 0h1m15 0h1m376 0h1m1 0h3m2 0h2m3 0h3m2 0h1m70 0h1m7 0h1m74 0h1m2 0h1m15 0h1m3 0h1m9 0h2m1 0h1M6 1003h1m1 0h2m9 0h1m2 0h3m1 0h1m277 0h1m1 0h2m10 0h1m1 0h4m165 0h3m11 0h1m1 0h2m375 0h2m1 0h2m1 0h2m2 0h2m1 0h3m1 0h1m172 0h3m12 0h3m1 0h1M6 1004h1m2 0h2m11 0h3m281 0h2m11 0h5m168 0h1m12 0h1m48 0h1m79 0h1m247 0h2m1 0h1m1 0h1m1 0h1m3 0h1m1 0h3m2 0h1m1 0h1m67 0h1m8 0h1m94 0h1M4 1005h3m2 0h1m12 0h3m280 0h4m10 0h1m2 0h1m560 0h2m1 0h1m1 0h1m6 0h3m2 0h1m152 0h1m17 0h1M6 1006h1m17 0h1m282 0h1m10 0h1m1 0h1m566 0h1m8 0h1m6 0h1m64 0h1m119 0h1M5 1007h2m3 0h1m11 0h1m1 0h3m279 0h1m1 0h1m11 0h1m1 0h1m180 0h1m1 0h1m48 0h1m328 0h1m1 0h1m3 0h1m2 0h1m3 0h2m1 0h3m1 0h2m63 0h1m83 0h2m34 0h1M4 1008h5m15 0h3m279 0h3m8 0h1m2 0h4m164 0h1m3 0h1m8 0h5m2 0h1m39 0h1m4 0h1m1 0h1m73 0h1m1 0h5m246 0h5m2 0h9m1 0h5m66 0h1m1 0h2m78 0h4m11 0h1m2 0h1m17 0h1M4 1009h2m3 0h1m12 0h4m281 0h4m6 0h1m1 0h4m181 0h1m128 0h1m248 0h2m1 0h3m1 0h3m3 0h3m1 0h5m64 0h1m2 0h1m81 0h1m34 0h1M4 1010h1m1 0h1m1 0h1m11 0h2m1 0h2m1 0h1m279 0h5m4 0h1m1 0h1m1 0h5m182 0h1m125 0h1m1 0h2m246 0h5m1 0h2m1 0h1m2 0h1m1 0h1m1 0h3m1 0h4m63 0h5m79 0h1m16 0h2m17 0h1M9 1011h2m9 0h5m283 0h4m2 0h2m1 0h1m1 0h2m561 0h1m1 0h2m2 0h1m5 0h1m1 0h3m1 0h1m2 0h2m2 0h1m60 0h1m3 0h1m1 0h1m76 0h1m19 0h1M9 1012h1m4 0h1m4 0h2m1 0h4m281 0h1m1 0h4m1 0h3m1 0h2m1 0h1m309 0h1m1 0h1m248 0h6m1 0h1m3 0h1m1 0h6m1 0h5m61 0h1m1 0h1m82 0h1m13 0h1m1 0h2m19 0h1M6 1013h1m3 0h1m2 0h2m7 0h4m281 0h2m1 0h10m311 0h1m250 0h2m1 0h1m3 0h2m2 0h2m5 0h1m1 0h3m1 0h3m58 0h1m85 0h1m15 0h1m20 0h1M12 1014h1m2 0h3m2 0h1m290 0h1m1 0h3m2 0h1m586 0h1m3 0h1m3 0h1m58 0h1M10 1015h2m4 0h2m1 0h1m1 0h1m2 0h1m286 0h4m4 0h1m583 0h5m3 0h1m1 0h5m1 0h1m45 0h2m1 0h1m1 0h1m98 0h1m17 0h4M10 1016h3m2 0h7m2 0h1m287 0h3m2 0h1m585 0h5m1 0h9m49 0h1m1 0h2m82 0h1m13 0h1m22 0h1M12 1017h1m8 0h1m882 0h3m1 0h1m1 0h1m1 0h4m1 0h2m1 0h1m47 0h1m84 0h1m36 0h1M906 1018h1m2 0h1m6 0h2m3 0h1M907 1019h1m12 0h1m167 0h1M906 1020h2m1 0h12m47 0h1M903 1021h5m1 0h8m1 0h2m1 0h1m129 0h3m15 0h2m19 0h1m1 0h1M524 1022h2m377 0h5m2 0h5m1 0h2m1 0h3m129 0h4m12 0h1m1 0h1m20 0h1M524 1023h2m378 0h5m1 0h8m1 0h2m130 0h1m15 0h1m2 0h2m17 0h1M912 1024h1m4 0h1m1 0h1m1 0h1m149 0h1M525 1025h1m379 0h1m1 0h1m2 0h1m2 0h1m4 0h3m49 0h1M524 1026h2m3 0h1m374 0h1m1 0h1m1 0h1m1 0h4m2 0h2m1 0h4m45 0h1m82 0h1m36 0h1M905 1027h5m3 0h1m1 0h2m1 0h1m50 0h1m1 0h1m79 0h1M524 1028h1m379 0h5m2 0h5m1 0h1m1 0h1m1 0h2m43 0h1m1 0h1m1 0h3m80 0h1m17 0h1m18 0h1M524 1029h3m1 0h1m375 0h5m1 0h8m1 0h4m43 0h1m1 0h3m82 0h1m36 0h1M529 1030h1m374 0h1m2 0h1m3 0h10m46 0h2m1 0h1m101 0h1m16 0h1M524 1031h1m381 0h1m3 0h3m3 0h4m2 0h1m130 0h1m19 0h1M235 1032h1m3 0h1m664 0h4m3 0h4m1 0h8m40 0h1m1 0h3m3 0h1m79 0h1m1 0h1m16 0h2m15 0h1m3 0h1M913 1033h1m3 0h1m1 0h3m1 0h1m148 0h2M919 1034h3m1 0h1m2 0h2m34 0h1M919 1035h1m6 0h1m36 0h1M912 1036h1m1 0h4m1 0h5m1 0h1m1 0h1m2 0h1m123 0h1m16 0h1m16 0h2M913 1037h2m1 0h1m1 0h3m3 0h1m1 0h3m2 0h1m121 0h1m17 0h1m15 0h2m1 0h1M915 1038h2m10 0h1m145 0h1M913 1039h1m2 0h1m2 0h2m1 0h1m2 0h2m2 0h6m28 0h1m107 0h1m16 0h1M912 1040h2m1 0h3m1 0h10m1 0h5m42 0h2m75 0h1m1 0h1m31 0h1m1 0h1M912 1041h16m1 0h3m1 0h2m29 0h1m1 0h1m10 0h2m77 0h1m10 0h3m18 0h3M912 1042h2m1 0h6m2 0h5m2 0h1m2 0h2m1 0h1m27 0h1m1 0h1m1 0h1m85 0h2m13 0h1m1 0h1m18 0h1M913 1043h1m1 0h9m1 0h3m1 0h1m1 0h4m1 0h3m26 0h2m1 0h1m86 0h2m10 0h1m1 0h1m20 0h1M913 1044h1m2 0h2m2 0h1m1 0h1m3 0h2m3 0h2m1 0h1m2 0h2m1 0h1m25 0h1m104 0h1m16 0h1M914 1045h1m1 0h2m1 0h3m1 0h1m1 0h1m1 0h1m1 0h1m1 0h2m1 0h1m2 0h1m23 0h1m1 0h1m15 0h1m91 0h1m17 0h1M914 1046h3m1 0h3m1 0h1m3 0h2m1 0h1m1 0h2m1 0h1m2 0h2m1 0h3m1 0h2m1 0h1m3 0h1m26 0h1M913 1047h1m5 0h4m3 0h3m2 0h4m2 0h2m1 0h6m1 0h2m3 0h3m2 0h3m3 0h1m105 0h1m1 0h2m15 0h1M913 1048h1m5 0h1m11 0h1m1 0h1m3 0h1m3 0h1m1 0h2m4 0h1m2 0h3m3 0h1m1 0h4m18 0h1m77 0h1m12 0h1m15 0h1M933 1049h1m18 0h1m9 0h1m19 0h1m91 0h1M913 1050h2m11 0h1m3 0h1m2 0h1m3 0h1m3 0h1m4 0h1m5 0h4m1 0h6m16 0h1m1 0h1m82 0h2m6 0h2m15 0h1M925 1051h1m15 0h1m6 0h1m13 0h1m16 0h1m31 0h1m9 0h3m2 0h2m35 0h1m8 0h2m12 0h2M990 1052h1m16 0h2m12 0h2m9 0h1m32 0h1m10 0h2m8 0h1M979 1053h1m2 0h1m2 0h2m2 0h1m1 0h2m1 0h1m1 0h1m5 0h1m2 0h1m1 0h4m1 0h2m2 0h2m3 0h2m5 0h2m1 0h1m5 0h1m28 0h2m3 0h1m3 0h3m1 0h1m2 0h1m6 0h2M998 1054h1m9 0h1m13 0h1m9 0h1m3 0h1m3 0h1m1 0h1m24 0h2m7 0h1M1008 1055h1m33 0h2m23 0h1m1 0h1m8 0h1M1002 1056h1m37 0h2m1 0h1m24 0h1m2 0h1m6 0h1m4 0h1M1069 1057h1M1073 1059h1M1048 1060h1M1074 1061h1M1074 1062h1m1 0h1M1051 1063h1m26 0h1M1050 1064h1m26 0h1m5 0h1M1050 1065h1m1 0h1m24 0h1M1053 1066h1M1008 1067h1m3 0h1m3 0h1m5 0h2m17 0h1m1 0h1m9 0h3m25 0h1m2 0h1M1041 1068h1m12 0h1m1 0h1M1012 1069h2m1 0h1m5 0h2m18 0h3m3 0h1m7 0h1m1 0h1m25 0h1M1008 1070h1m1 0h1m1 0h1m8 0h1m1 0h1m60 0h1M28 1071h1m1 0h1m4 0h4m940 0h1m25 0h1m4 0h2m11 0h2m3 0h1m3 0h1m3 0h2m1 0h1m2 0h1m1 0h2m1 0h1m5 0h1m2 0h1m29 0h1M27 1072h1m1 0h1m1 0h3m1 0h1m1 0h4m29 0h2m1 0h3m901 0h3m1 0h3m2 0h1m1 0h7m2 0h2m3 0h2m26 0h1m1 0h2m13 0h1m2 0h2m33 0h1m1 0h1M28 1073h1m1 0h2m2 0h1m3 0h1m31 0h1m1 0h1m1 0h3m900 0h8m1 0h2m3 0h2m3 0h3m4 0h1m27 0h1m1 0h1m4 0h1m9 0h1m1 0h2m7 0h1m26 0h1M26 1074h2m2 0h1m6 0h1m2 0h1m1 0h1m27 0h1m1 0h2m1 0h1m2 0h1m899 0h6m1 0h2m1 0h5m1 0h1m1 0h4m3 0h2m44 0h1m11 0h2m25 0h1m1 0h1M24 1075h2m2 0h1m1 0h1m7 0h4m1 0h1m30 0h1m3 0h1m2 0h2m869 0h1m24 0h10m1 0h2m1 0h2m1 0h5m54 0h1m35 0h2M24 1076h3m12 0h4m1 0h1m22 0h5m1 0h2m4 0h6m852 0h1m10 0h1m3 0h2m4 0h1m2 0h1m15 0h10m1 0h7m1 0h4m1 0h2m49 0h3m7 0h1m24 0h1m1 0h2M22 1077h1m1 0h4m13 0h2m1 0h2m21 0h4m1 0h1m1 0h3m1 0h2m2 0h3m892 0h10m1 0h1m2 0h4m1 0h4m1 0h1m50 0h2m10 0h2m23 0h1M23 1078h1m1 0h2m15 0h4m20 0h6m1 0h3m3 0h1m2 0h1m1 0h1m860 0h1m7 0h1m5 0h1m17 0h11m1 0h1m1 0h2m1 0h6m55 0h2m6 0h1m23 0h1M24 1079h4m13 0h2m24 0h2m1 0h1m12 0h1m894 0h6m1 0h2m3 0h5m2 0h2m54 0h1M23 1080h2m16 0h1m1 0h1m23 0h1m1 0h1m3 0h2m5 0h1m1 0h2m893 0h2m3 0h3m1 0h1m1 0h5m1 0h1m1 0h4m90 0h1M21 1081h1m5 0h1m15 0h2m21 0h2m1 0h2m3 0h3m1 0h1m2 0h4m476 0h1m375 0h1m3 0h1m11 0h1m4 0h2m18 0h2m1 0h7m1 0h11m67 0h1M25 1082h2m14 0h5m21 0h2m1 0h3m1 0h1m6 0h1m2 0h1m468 0h2m386 0h1m10 0h1m24 0h3m2 0h8m1 0h9m53 0h1M21 1083h2m1 0h3m14 0h1m25 0h4m2 0h3m1 0h3m2 0h1m470 0h3m4 0h1m369 0h1m6 0h1m3 0h1m10 0h2m1 0h1m2 0h1m2 0h1m15 0h16m1 0h6m56 0h1m7 0h1m4 0h1m21 0h3M24 1084h3m12 0h1m1 0h3m1 0h1m22 0h1m1 0h1m3 0h3m2 0h1m3 0h1m470 0h2m5 0h1m1 0h1m414 0h9m1 0h1m1 0h3m1 0h5m68 0h1m2 0h1m26 0h1M27 1085h1m2 0h1m1 0h1m4 0h2m2 0h1m32 0h2m903 0h2m1 0h2m1 0h10m2 0h1m74 0h1M24 1086h2m1 0h1m2 0h1m3 0h1m2 0h2m1 0h3m30 0h3m478 0h1m424 0h1m1 0h6m1 0h2m1 0h2m1 0h5m3 0h1m48 0h2m18 0h1m1 0h1m22 0h1M24 1087h1m2 0h1m3 0h1m1 0h3m3 0h2m940 0h2m3 0h1m4 0h2m4 0h1m3 0h3m11 0h1m21 0h1m13 0h1m20 0h1m3 0h1m1 0h1m16 0h1m1 0h1M28 1088h1m2 0h1m3 0h2m1 0h1m944 0h1m2 0h1m4 0h1m11 0h1m2 0h4m5 0h1m3 0h1m6 0h1m5 0h1m3 0h2m1 0h3m2 0h1m2 0h1m26 0h1m22 0h1M27 1089h1m3 0h1m4 0h1m965 0h2m6 0h1m4 0h1m7 0h1m6 0h1m5 0h1m4 0h1m3 0h1m2 0h1m1 0h1m2 0h1m21 0h3m20 0h1M32 1090h1m3 0h1m975 0h2m1 0h3m3 0h2m5 0h2m7 0h1m2 0h4m9 0h1m20 0h3m3 0h1M36 1091h1m966 0h1m79 0h1m14 0h2M1021 1092h1m10 0h1m50 0h1M1083 1093h1M1087 1095h1M1086 1096h1M1084 1097h1m2 0h2M1089 1098h1m1 0h1M1091 1099h1"/>
<path stroke="url(#pd)" d="M0 0h6m15 0h1m7 0h1m38 0h1m22 0h1M0 1h7m2 0h3m3 0h2m1 0h1m2 0h1m2 0h1m2 0h3m1 0h1m1 0h1m1 0h2m2 0h3m2 0h1m1 0h3m4 0h2m2 0h5m2 0h1m2 0h2m1 0h1m3 0h3m1 0h1m4 0h1m2 0h6m1 0h2m1 0h1M0 2h13m2 0h8m1 0h5m1 0h2m2 0h4m1 0h5m1 0h3m1 0h2m1 0h3m1 0h6m8 0h3m1 0h5m4 0h12m1 0h2M0 3h13m1 0h5m2 0h11m1 0h22m2 0h5m9 0h8m1 0h15m1 0h1M0 4h61m10 0h27M0 5h61m11 0h23m1 0h2m1 0h1M1 6h59m12 0h26M2 7h58m12 0h24M2 8h59m11 0h26M1 9h61m10 0h29m907 0h1m1 0h1M1 10h62m6 0h32m1 0h1m900 0h1m2 0h1m1 0h3m1 0h1M1 11h62m1 0h1m1 0h34m2 0h4m896 0h4m1 0h7M2 12h98m1 0h3m1 0h1m1 0h1m895 0h2m1 0h8M4 13h97m14 0h1m888 0h2m1 0h4M3 14h99m1 0h1m1 0h1m1 0h1m896 0h7M1 15h118m2 0h5m1 0h3m1 0h1m870 0h12m1 0h1M1 16h107m2 0h6m2 0h1m1 0h5m2 0h3m2 0h1m871 0h9M2 17h109m1 0h13m1 0h4m1 0h1m871 0h9m1 0h1M1 18h133m868 0h12m1 0h1M2 19h1m1 0h126m1 0h3m870 0h6m1 0h1M2 20h1m1 0h103m5 0h18m1 0h2m873 0h1m1 0h2m3 0h1M0 21h107m5 0h22m868 0h8m2 0h2M2 22h86m4 0h13m8 0h20m875 0h1m1 0h1M3 23h39m2 0h19m1 0h22m7 0h12m9 0h16m1 0h4m873 0h1M1 24h40m2 0h20m1 0h22m7 0h11m10 0h19m945 0h1m2 0h2M2 25h39m3 0h42m9 0h9m10 0h19m948 0h1M2 26h39m3 0h41m10 0h9m10 0h18m949 0h1M1 27h40m1 0h1m1 0h42m8 0h11m9 0h20m941 0h2m1 0h1m3 0h3M1 28h85m8 0h11m8 0h21m940 0h1m1 0h9m1 0h1M0 29h2m1 0h84m6 0h13m7 0h21m939 0h14M2 30h87m4 0h15m4 0h20m944 0h9M1 31h132m942 0h10m1 0h1M4 32h129m942 0h10m1 0h2M1 33h1m1 0h130m940 0h14M2 34h107m1 0h24m938 0h1m1 0h12M1 35h106m4 0h23m939 0h14M1 36h104m7 0h23m937 0h16M2 37h102m10 0h22m937 0h1m1 0h10m2 0h1M3 38h59m4 0h36m12 0h20m940 0h1m2 0h8m2 0h1M1 39h61m6 0h34m12 0h19m944 0h2m1 0h3M1 40h60m8 0h32m14 0h18m944 0h2m2 0h1m1 0h2M1 41h23m4 0h33m8 0h33m14 0h17m2 0h1m942 0h1m2 0h1M2 42h21m4 0h33m10 0h31m14 0h19m1 0h1m945 0h1m1 0h1M2 43h21m1 0h1m3 0h32m10 0h31m15 0h17m1 0h2M1 44h1m1 0h58m9 0h31m15 0h20M2 45h60m6 0h33m14 0h22M1 46h61m6 0h33m14 0h22M1 47h62m3 0h36m13 0h22M1 48h1m1 0h99m12 0h23M2 49h102m10 0h23M2 50h102m9 0h21m1 0h2M3 51h102m8 0h24M2 52h106m2 0h24m1 0h2M1 53h135M1 54h132m2 0h2M4 55h128M2 56h1m1 0h128M1 57h132m2 0h1M1 58h133M1 59h132m3 0h1M1 60h5m2 0h34m2 0h91M1 61h3m5 0h31m5 0h43m1 0h20m4 0h20M10 62h28m9 0h37m7 0h16m7 0h17M12 63h11m2 0h13m10 0h35m10 0h14m8 0h15M1 64h1m9 0h27m10 0h35m10 0h13m9 0h15M12 65h26m10 0h34m12 0h13m8 0h15m22 0h1m12 0h3m4 0h1M11 66h28m8 0h35m12 0h13m7 0h16m21 0h2m4 0h2m3 0h7m1 0h1m1 0h3m1 0h1M1 67h1m9 0h28m8 0h35m11 0h15m5 0h17m21 0h3m1 0h5m1 0h8m1 0h1m1 0h4m1 0h1m1 0h1M0 68h2m9 0h29m5 0h38m10 0h16m3 0h20m18 0h4m1 0h21m1 0h1M10 69h32m3 0h40m6 0h42m17 0h10m1 0h16m1 0h1m1 0h2M1 70h2m7 0h76m1 0h46m16 0h31M2 71h3m5 0h123m15 0h33M2 72h134m8 0h37M3 73h179M1 74h183M1 75h182m565 0h1m2 0h1M1 76h181m567 0h1M2 77h182m565 0h4M1 78h182m565 0h6M4 79h179m562 0h1m2 0h9m2 0h1M3 80h180m562 0h1m1 0h9M3 81h180m559 0h1m1 0h13M3 82h62m3 0h41m4 0h70m558 0h16m2 0h2M1 83h62m6 0h39m7 0h51m1 0h17m558 0h15m2 0h2M2 84h60m7 0h39m9 0h48m5 0h14m557 0h16m2 0h2M2 85h24m1 0h35m8 0h36m12 0h45m9 0h12m559 0h14m1 0h2M1 86h22m6 0h33m9 0h34m13 0h45m9 0h12m558 0h1m1 0h12m3 0h2M1 87h22m7 0h32m8 0h36m12 0h45m10 0h11m1 0h1m557 0h13m2 0h2M1 88h21m8 0h31m9 0h36m13 0h44m10 0h11m1 0h1m556 0h1m1 0h13m2 0h1M1 89h21m9 0h31m8 0h35m14 0h44m9 0h12m1 0h1m440 0h1m117 0h1m1 0h1m1 0h2m1 0h2m1 0h2m226 0h2m2 0h1M1 90h21m9 0h31m8 0h36m12 0h45m10 0h12m1 0h1m434 0h1m2 0h1m1 0h1m117 0h3m1 0h2m1 0h1m1 0h1m1 0h1m223 0h2m1 0h2M0 91h22m9 0h32m6 0h38m10 0h46m9 0h12m2 0h1m1 0h1m432 0h2m1 0h1m1 0h2m1 0h1m1 0h1m116 0h2m1 0h1m227 0h2m1 0h5M2 92h21m8 0h32m6 0h38m11 0h44m11 0h11m437 0h2m3 0h2m353 0h3m1 0h1M1 93h24m4 0h36m2 0h41m7 0h49m8 0h13m2 0h1m1 0h1m431 0h7m4 0h1m344 0h7m1 0h2m1 0h1M1 94h24m2 0h82m5 0h51m6 0h13m1 0h1m2 0h2m429 0h5m1 0h2m1 0h2m347 0h11M4 95h1m1 0h160m4 0h17m1 0h1m431 0h3m2 0h3m1 0h2m1 0h1m344 0h10M1 96h6m1 0h182m430 0h10m1 0h1m1 0h1m343 0h10m1 0h1m1 0h3M2 97h1m1 0h3m1 0h182m430 0h12m345 0h12m1 0h2M9 98h178m2 0h1m434 0h3m4 0h1m345 0h15M5 99h1m3 0h181m431 0h1m1 0h5m1 0h1m348 0h13M9 100h2m2 0h173m791 0h12M12 101h1m1 0h26m1 0h1m5 0h141m791 0h11M10 102h3m2 0h23m11 0h141m788 0h13M11 103h2m1 0h24m11 0h137m2 0h1m789 0h9M11 104h1m3 0h9m3 0h10m14 0h87m6 0h42m793 0h5m1 0h3m1 0h1M11 105h2m1 0h8m7 0h7m16 0h34m1 0h2m1 0h47m10 0h40m2 0h1m788 0h6m1 0h3M15 106h7m8 0h6m16 0h12m1 0h20m6 0h43m14 0h20m1 0h18m792 0h1m2 0h2m1 0h2m1 0h1M12 107h1m1 0h6m10 0h5m17 0h10m5 0h18m8 0h41m15 0h15m4 0h17m795 0h1m1 0h2M15 108h1m1 0h3m11 0h4m18 0h9m6 0h15m11 0h39m17 0h13m7 0h15M15 109h1m1 0h3m11 0h3m19 0h8m8 0h13m13 0h37m18 0h13m7 0h13M15 110h5m11 0h4m17 0h9m8 0h13m13 0h37m19 0h12m7 0h14M15 111h2m1 0h2m11 0h5m16 0h9m8 0h13m13 0h36m20 0h12m7 0h14M15 112h7m8 0h7m15 0h9m7 0h14m13 0h36m20 0h13m5 0h14M15 113h8m5 0h9m13 0h12m5 0h16m12 0h36m20 0h15m1 0h16M15 114h25m8 0h15m3 0h17m11 0h37m20 0h33M13 115h1m1 0h26m1 0h1m2 0h39m9 0h39m19 0h33M15 116h1m1 0h67m9 0h38m20 0h33M15 117h1m1 0h68m6 0h1m1 0h39m19 0h31M15 118h73m2 0h43m17 0h34M17 119h116m16 0h34M16 120h117m16 0h34M15 121h122m10 0h36m3 0h1m13 0h1m2 0h2M15 122h123m7 0h41m13 0h1m2 0h4m1 0h1M15 123h172m1 0h2m9 0h2m1 0h4m1 0h1M15 124h176m5 0h13M15 125h1m2 0h169m1 0h1m11 0h5m1 0h1m2 0h1M17 126h170m1 0h2m6 0h5m1 0h5m1 0h1m1 0h2M15 127h179m1 0h14m1 0h2M15 128h197M15 129h177m1 0h16m1 0h2M18 130h1m2 0h2m1 0h39m5 0h122m1 0h18M15 131h1m1 0h45m6 0h43m4 0h1m1 0h70m1 0h2m2 0h17m1 0h2M16 132h1m1 0h8m1 0h3m1 0h24m2 0h5m7 0h40m9 0h68m9 0h18M18 133h2m1 0h1m1 0h1m3 0h3m4 0h5m3 0h1m1 0h10m4 0h1m1 0h1m11 0h36m13 0h44m5 0h14m12 0h14m1 0h1M23 134h1m12 0h2m5 0h7m1 0h1m1 0h1m6 0h1m11 0h34m15 0h42m9 0h12m13 0h16M37 135h1m3 0h14m2 0h1m14 0h34m15 0h42m9 0h11m14 0h16M45 136h8m1 0h1m4 0h1m13 0h33m15 0h42m9 0h12m14 0h15M73 137h32m17 0h39m13 0h9m15 0h12m1 0h1M73 138h31m19 0h39m12 0h9m15 0h15M73 139h31m19 0h38m13 0h9m14 0h16M73 140h31m19 0h37m14 0h9m14 0h17m29 0h1M73 141h31m19 0h37m14 0h9m14 0h15M73 142h31m19 0h37m14 0h10m13 0h14M73 143h31m19 0h37m14 0h10m12 0h16m28 0h1m1 0h2M72 144h33m18 0h38m13 0h12m9 0h19m1 0h2m23 0h6m1 0h1M72 145h33m17 0h39m12 0h14m2 0h1m4 0h20m25 0h5m1 0h1m1 0h1M72 146h33m17 0h39m12 0h16m2 0h22m27 0h4M72 147h34m15 0h42m10 0h41m1 0h2m18 0h1m1 0h9M71 148h36m14 0h42m9 0h44m19 0h10M70 149h38m11 0h45m8 0h44m1 0h1m19 0h8M68 150h42m8 0h47m5 0h49m17 0h9M66 151h154m2 0h1m2 0h2m1 0h1m2 0h1m1 0h13m1 0h1M65 152h183M67 153h180M69 154h175m1 0h1M67 155h179M67 156h180M66 157h182M66 158h182M67 159h123m6 0h50M68 160h1m1 0h70m4 0h43m13 0h43M67 161h70m1 0h1m8 0h39m13 0h45M66 162h26m1 0h44m10 0h39m14 0h45M66 163h19m8 0h15m4 0h22m15 0h36m17 0h43M66 164h19m9 0h13m6 0h21m16 0h34m18 0h42M65 165h19m11 0h12m6 0h20m18 0h33m19 0h41M65 166h18m13 0h11m7 0h19m18 0h33m19 0h41M65 167h19m12 0h11m6 0h20m18 0h32m20 0h41M66 168h18m12 0h10m1 0h1m5 0h20m18 0h31m22 0h37m2 0h1M68 169h16m12 0h12m4 0h21m18 0h31m22 0h36M66 170h19m10 0h39m16 0h33m21 0h38m1 0h1M68 171h17m9 0h40m16 0h33m21 0h38m1 0h1m38 0h1M65 172h22m2 0h1m1 0h1m1 0h44m11 0h35m20 0h41m2 0h3m32 0h1m2 0h2m1 0h1m20 0h2m1 0h3M66 173h71m8 0h39m20 0h40m1 0h1m35 0h2m1 0h4m20 0h1M66 174h118m19 0h43m1 0h2m28 0h1m2 0h3m1 0h4m20 0h2m1 0h4M67 175h117m18 0h46m32 0h11m16 0h1m1 0h1m4 0h1M66 176h1m2 0h116m17 0h45m3 0h1m28 0h11m17 0h8M67 177h2m1 0h117m13 0h49m1 0h1m28 0h1m1 0h11m2 0h1m12 0h8M69 178h119m11 0h50m28 0h1m1 0h14m1 0h1m12 0h2m1 0h5M67 179h1m2 0h119m1 0h1m5 0h55m26 0h15m2 0h1m12 0h8M69 180h1m1 0h182m24 0h15m2 0h1m11 0h9M69 181h1m3 0h178m27 0h13m3 0h1m12 0h4m1 0h3M74 182h2m1 0h40m1 0h50m2 0h82m27 0h12m3 0h1m13 0h1m1 0h5M74 183h1m2 0h1m5 0h26m1 0h2m2 0h3m1 0h1m3 0h13m1 0h1m5 0h25m6 0h47m10 0h19m1 0h1m30 0h7m21 0h1m1 0h1m2 0h1M90 184h1m2 0h1m1 0h14m13 0h11m11 0h20m12 0h43m15 0h15m33 0h1m4 0h1M87 185h3m4 0h13m15 0h11m11 0h19m14 0h40m17 0h15m31 0h2M90 186h2m3 0h5m1 0h2m2 0h2m14 0h1m1 0h9m13 0h16m16 0h39m20 0h10m1 0h1m36 0h1M93 187h1m2 0h2m1 0h1m1 0h2m21 0h1m2 0h4m15 0h14m18 0h35m1 0h1m22 0h10M91 188h1m2 0h4m1 0h1m2 0h2m19 0h9m14 0h14m19 0h36m22 0h14M93 189h2m1 0h4m2 0h1m2 0h1m17 0h2m1 0h6m13 0h1m1 0h13m20 0h34m24 0h12M124 190h1m2 0h3m17 0h12m20 0h34m28 0h3M127 191h4m15 0h13m21 0h29m1 0h2m28 0h1M127 192h2m1 0h2m14 0h13m21 0h29m1 0h2M127 193h5m14 0h13m21 0h29M128 194h4m13 0h14m21 0h29m1 0h2m74 0h1m30 0h1m5 0h1M127 195h6m11 0h15m21 0h28m2 0h1m66 0h1m1 0h3m1 0h1m2 0h1m21 0h1m2 0h4m2 0h1m1 0h1m3 0h1M124 196h1m1 0h8m9 0h17m19 0h30m1 0h2m28 0h1m2 0h1m2 0h1m26 0h7m1 0h8m5 0h1m11 0h9m1 0h1m1 0h8m2 0h1M124 197h1m1 0h10m3 0h21m19 0h30m1 0h2m30 0h2m4 0h1m1 0h1m22 0h2m1 0h12m18 0h21m1 0h3M124 198h1m1 0h34m19 0h31m1 0h1m28 0h1m1 0h2m3 0h1m3 0h1m17 0h1m3 0h16m3 0h1m1 0h2m11 0h20m1 0h4M122 199h3m1 0h34m1 0h1m16 0h35m26 0h5m2 0h1m1 0h3m18 0h2m2 0h19m3 0h1m10 0h26M121 200h1m1 0h40m14 0h36m26 0h13m1 0h1m14 0h1m2 0h1m1 0h23m9 0h26m2 0h1M124 201h2m1 0h36m14 0h37m25 0h13m20 0h21m1 0h2m11 0h24m2 0h1M122 202h43m10 0h40m22 0h14m1 0h1m2 0h1m12 0h1m1 0h1m2 0h20m1 0h2m10 0h26M121 203h47m4 0h1m1 0h42m20 0h18m1 0h1m11 0h30m6 0h1m1 0h29M121 204h96m18 0h19m3 0h1m10 0h28m4 0h1m5 0h26m1 0h1M122 205h3m1 0h92m16 0h19m2 0h1m12 0h1m1 0h26m1 0h1m8 0h27M124 206h95m13 0h22m14 0h28m3 0h2m2 0h33m361 0h1M122 207h3m2 0h96m5 0h26m1 0h3m9 0h38m1 0h30m357 0h1m3 0h1M124 208h1m1 0h69m1 0h58m1 0h2m10 0h31m1 0h38m356 0h3m1 0h2m2 0h1M125 209h1m2 0h1m3 0h59m7 0h55m15 0h3m1 0h27m1 0h1m2 0h31m1 0h1m357 0h6m1 0h1M126 210h4m1 0h2m1 0h3m1 0h55m1 0h4m1 0h57m1 0h1m9 0h72m353 0h8m1 0h1M126 211h4m1 0h11m1 0h50m1 0h1m1 0h58m1 0h3m10 0h70m353 0h11m2 0h2M132 212h1m1 0h3m1 0h3m3 0h47m8 0h55m14 0h4m1 0h64m352 0h1m2 0h14M140 213h1m3 0h2m1 0h40m1 0h2m11 0h53m2 0h1m12 0h2m1 0h64m353 0h1m2 0h12m1 0h1M148 214h41m13 0h51m19 0h1m1 0h62m356 0h10m3 0h1M144 215h1m2 0h40m16 0h51m2 0h1m15 0h66m350 0h2m1 0h14M144 216h1m2 0h1m2 0h36m18 0h50m1 0h2m12 0h1m3 0h65m351 0h1m1 0h12m1 0h3M149 217h36m20 0h49m19 0h65m351 0h15m1 0h1M150 218h35m21 0h48m19 0h3m1 0h61m350 0h2m1 0h13m1 0h1M151 219h33m23 0h45m25 0h59m356 0h8m1 0h1m1 0h1M152 220h31m24 0h40m1 0h1m30 0h57m1 0h1m357 0h4m1 0h2M152 221h31m24 0h39m1 0h1m2 0h1m28 0h1m1 0h42m1 0h13m1 0h1m353 0h2m1 0h3m5 0h1M151 222h32m24 0h42m1 0h1m26 0h2m1 0h3m1 0h36m7 0h9m358 0h4m3 0h2M152 223h31m25 0h36m37 0h2m1 0h34m10 0h8m1 0h1m358 0h1M152 224h31m25 0h36m1 0h1m2 0h1m32 0h36m12 0h7m1 0h2m1 0h1m352 0h3m1 0h2M151 225h32m25 0h36m1 0h3m33 0h2m1 0h32m13 0h9m357 0h3M151 226h32m25 0h36m1 0h1m38 0h32m14 0h6m1 0h1M152 227h31m25 0h36m42 0h30m14 0h6M151 228h32m24 0h39m38 0h32m13 0h8M152 229h31m24 0h38m2 0h1m33 0h36m12 0h10m1 0h1M152 230h32m23 0h37m1 0h3m34 0h1m1 0h35m9 0h8m2 0h1m1 0h1M151 231h33m23 0h37m41 0h35m7 0h11M152 232h32m22 0h43m32 0h2m1 0h55m1 0h1M151 233h33m22 0h40m35 0h2m1 0h52m1 0h1M151 234h35m19 0h46m26 0h60M147 235h2m2 0h35m18 0h45m28 0h1m1 0h59M148 236h1m1 0h37m16 0h46m1 0h1m26 0h1m1 0h59M147 237h42m13 0h47m1 0h1m26 0h1m1 0h58M147 238h43m12 0h50m23 0h64M145 239h1m1 0h43m9 0h53m22 0h1m2 0h60M143 240h26m1 0h20m1 0h1m4 0h1m1 0h53m24 0h63M144 241h24m2 0h21m8 0h53m1 0h1m19 0h2m1 0h61M143 242h25m4 0h19m6 0h56m20 0h66M140 243h1m2 0h17m1 0h8m1 0h21m5 0h58m19 0h66m1 0h1M144 244h1m2 0h7m1 0h5m2 0h2m10 0h16m10 0h23m5 0h2m2 0h21m20 0h1m1 0h63M144 245h2m1 0h1m3 0h9m13 0h17m10 0h23m1 0h3m1 0h1m1 0h1m1 0h21m20 0h62M152 246h2m2 0h3m13 0h1m2 0h11m1 0h3m6 0h1m2 0h22m1 0h1m2 0h1m4 0h1m1 0h1m1 0h19m20 0h65M144 247h2m5 0h2m4 0h2m13 0h1m1 0h2m1 0h10m1 0h2m8 0h1m1 0h20m1 0h2m2 0h1m3 0h2m1 0h1m1 0h20m19 0h64M172 248h1m1 0h1m2 0h9m2 0h2m7 0h1m1 0h22m1 0h1m1 0h1m7 0h1m1 0h20m1 0h1m1 0h1m15 0h25m1 0h37M179 249h4m5 0h2m9 0h21m14 0h1m3 0h15m2 0h1m17 0h24m1 0h6m2 0h28m1 0h1M176 250h2m1 0h5m4 0h1m8 0h1m1 0h21m1 0h2m11 0h1m1 0h18m1 0h5m13 0h20m1 0h3m1 0h4m1 0h2m1 0h29M180 251h1m1 0h1m15 0h1m1 0h2m1 0h17m18 0h2m1 0h13m1 0h3m17 0h16m3 0h2m7 0h2m2 0h25m1 0h2M180 252h1m21 0h17m23 0h17m14 0h19m8 0h1m5 0h1m1 0h1m1 0h22m1 0h1m1 0h1M200 253h1m2 0h2m1 0h3m1 0h4m1 0h4m22 0h1m1 0h1m3 0h2m1 0h8m1 0h2m16 0h11m1 0h1m19 0h23M210 254h1m41 0h2m1 0h3m19 0h9m1 0h2m25 0h1m1 0h14M202 255h2m1 0h1m1 0h2m1 0h2m4 0h1m31 0h11m1 0h1m2 0h1m13 0h2m1 0h7m24 0h1m1 0h2m1 0h13m1 0h2M207 256h2m2 0h1m1 0h1m1 0h2m33 0h12m13 0h1m1 0h6m1 0h4m24 0h3m3 0h9m1 0h4M204 257h1m2 0h1m2 0h2m36 0h1m1 0h12m1 0h2m12 0h6m1 0h1m1 0h2m29 0h9m2 0h2m1 0h1M250 258h1m1 0h1m2 0h10m1 0h1m12 0h1m1 0h1m2 0h1m33 0h4m1 0h2m2 0h2m1 0h1M250 259h1m2 0h1m2 0h9m52 0h1m1 0h2m1 0h2m4 0h1M253 260h1m1 0h7m1 0h5m51 0h1m1 0h3m4 0h1M256 261h8m1 0h2m56 0h1M258 262h2m1 0h1m1 0h2M255 263h1m1 0h14M257 264h4m1 0h8M260 265h2m1 0h4m1 0h2M258 266h1m1 0h2m1 0h8m1 0h3M203 267h1m3 0h2m1 0h1m49 0h1m2 0h2m1 0h6m1 0h1M200 268h1m1 0h11m50 0h8m1 0h3M198 269h2m3 0h2m1 0h8m2 0h1m46 0h8m1 0h4m1 0h1m1 0h1m2 0h1M199 270h1m2 0h12m49 0h1m2 0h10m1 0h1m4 0h1M200 271h1m2 0h6m1 0h3m54 0h1m2 0h4M201 272h1m1 0h9m1 0h3m50 0h1m1 0h7m1 0h2M196 273h18m1 0h4m22 0h10m1 0h1m13 0h23m5 0h1m5 0h1m17 0h9m1 0h4M196 274h23m20 0h1m1 0h3m1 0h6m1 0h1m13 0h1m1 0h3m1 0h16m6 0h3m4 0h1m10 0h3m1 0h5m1 0h5m1 0h4m3 0h1M196 275h1m1 0h21m19 0h1m1 0h1m1 0h11m3 0h1m12 0h2m2 0h16m5 0h3m21 0h4m1 0h10m2 0h1M196 276h22m20 0h1m1 0h13m19 0h21m1 0h1m1 0h2m2 0h1m12 0h2m2 0h15m1 0h1M174 277h1m3 0h3m14 0h25m2 0h1m11 0h24m11 0h2m1 0h30m1 0h1m7 0h25m1 0h1m16 0h1m2 0h1m1 0h1m2 0h1m1 0h1m1 0h1m1 0h3M179 278h3m14 0h24m2 0h1m11 0h1m3 0h20m15 0h30m8 0h24m2 0h1m20 0h2m1 0h4m4 0h2M176 279h7m12 0h27m12 0h21m1 0h3m10 0h1m3 0h29m1 0h1m1 0h5m1 0h26m1 0h1m11 0h1m2 0h17m1 0h1m3 0h1M174 280h3m1 0h5m2 0h1m9 0h1m1 0h24m1 0h1m11 0h24m15 0h29m1 0h1m3 0h1m1 0h1m2 0h24m1 0h1m15 0h20M172 281h12m1 0h1m9 0h31m3 0h1m2 0h27m14 0h33m1 0h31m1 0h2m1 0h2m1 0h3m1 0h30m4 0h1M171 282h1m1 0h12m11 0h30m3 0h2m1 0h26m11 0h2m2 0h29m1 0h36m1 0h4m1 0h2m1 0h32m3 0h1m4 0h1m2 0h1M175 283h9m11 0h27m2 0h1m4 0h1m4 0h22m17 0h34m1 0h31m2 0h2m2 0h1m1 0h32M172 284h12m2 0h1m9 0h31m1 0h3m1 0h27m14 0h71m1 0h40m1 0h1m1 0h4m1 0h1m1 0h3m1 0h1M172 285h12m12 0h31m1 0h29m16 0h108m1 0h5m1 0h1m2 0h3m1 0h2m3 0h1M173 286h11m10 0h60m1 0h3m15 0h128m2 0h1M172 287h13m11 0h59m1 0h2m15 0h125m1 0h4m4 0h1M175 288h8m13 0h1m1 0h55m1 0h1m18 0h1m1 0h125m1 0h1m1 0h1m2 0h1M175 289h8m16 0h55m22 0h125m3 0h1M175 290h1m1 0h6m16 0h54m23 0h131m4 0h1M177 291h4m18 0h52m1 0h1m23 0h130m1 0h1m2 0h2M178 292h1m19 0h1m1 0h51m25 0h111m5 0h16m1 0h1M200 293h1m2 0h47m27 0h88m3 0h18m8 0h15M177 294h6m13 0h1m1 0h1m1 0h52m21 0h92m4 0h16m8 0h17m1 0h3M198 295h54m22 0h2m1 0h85m9 0h13m10 0h19M203 296h1m3 0h44m23 0h86m13 0h11m10 0h17m1 0h2M205 297h1m1 0h42m27 0h84m13 0h11m11 0h15m1 0h1M207 298h1m1 0h39m1 0h2m26 0h82m15 0h10m11 0h17M206 299h3m1 0h41m26 0h44m4 0h35m14 0h10m11 0h19M204 300h1m1 0h45m1 0h1m20 0h1m2 0h44m8 0h32m14 0h10m11 0h20M207 301h2m1 0h41m23 0h1m2 0h42m9 0h31m15 0h11m10 0h19M207 302h2m1 0h40m28 0h1m2 0h1m1 0h35m10 0h30m17 0h9m10 0h17M203 303h1m2 0h46m25 0h1m1 0h39m10 0h31m15 0h11m9 0h21M206 304h43m1 0h2m29 0h38m9 0h32m14 0h13m6 0h22M200 305h1m2 0h1m2 0h1m1 0h41m30 0h1m1 0h38m8 0h33m14 0h17m1 0h20m1 0h1M180 306h1m15 0h2m1 0h2m1 0h49m1 0h1m26 0h1m2 0h38m3 0h1m1 0h35m13 0h41M175 307h7m14 0h56m27 0h4m1 0h78m9 0h43M172 308h3m1 0h7m12 0h58m26 0h1m1 0h82m7 0h45m588 0h2M172 309h1m1 0h4m1 0h3m1 0h1m12 0h56m1 0h1m25 0h86m4 0h46m588 0h3m1 0h2M176 310h7m13 0h58m27 0h134m586 0h5m1 0h2M172 311h1m1 0h1m1 0h5m1 0h2m11 0h59m1 0h1m21 0h3m1 0h133m587 0h8m1 0h1M172 312h1m1 0h1m1 0h7m12 0h59m2 0h1m17 0h1m2 0h138m582 0h3m1 0h10M172 313h1m1 0h1m1 0h7m12 0h59m1 0h2m17 0h1m1 0h139m582 0h3m1 0h12M174 314h10m11 0h62m17 0h1m1 0h111m1 0h1m2 0h24m586 0h10M197 315h57m23 0h108m8 0h21m2 0h1m581 0h1m3 0h4m1 0h3M196 316h29m4 0h27m18 0h1m2 0h105m12 0h21m588 0h1m1 0h1M194 317h2m1 0h27m6 0h26m1 0h1m1 0h1m14 0h1m1 0h106m13 0h20m1 0h1m584 0h1m1 0h2m1 0h1M196 318h27m7 0h29m14 0h29m2 0h77m15 0h21m585 0h1m1 0h2m1 0h2m1 0h1M195 319h28m8 0h30m12 0h28m5 0h38m1 0h36m15 0h21m585 0h2m3 0h2M196 320h26m10 0h28m13 0h27m7 0h36m5 0h32m17 0h21M196 321h26m10 0h27m1 0h1m12 0h1m1 0h24m8 0h35m6 0h32m17 0h20m1 0h1M196 322h26m10 0h26m1 0h2m12 0h2m1 0h23m8 0h34m7 0h32m17 0h21M194 323h27m11 0h30m11 0h26m7 0h35m8 0h32m16 0h22m1 0h2M196 324h26m10 0h27m14 0h26m8 0h34m8 0h32m15 0h22M196 325h26m10 0h26m15 0h27m6 0h36m7 0h32m15 0h24m2 0h1m1 0h1M197 326h25m10 0h25m16 0h27m6 0h36m6 0h34m13 0h24m2 0h1M199 327h24m8 0h25m2 0h1m16 0h25m5 0h37m5 0h35m13 0h25m1 0h1m2 0h1M196 328h28m6 0h31m12 0h112m7 0h37m2 0h1M197 329h29m2 0h27m1 0h2m15 0h114m4 0h38M197 330h57m1 0h2m1 0h1m14 0h159M198 331h2m2 0h52m1 0h3m15 0h156m2 0h1M203 332h1m1 0h46m24 0h1m1 0h152M200 333h2m1 0h2m1 0h47m23 0h153m1 0h1m1 0h1M206 334h3m1 0h39m1 0h2m25 0h152m1 0h1M206 335h39m1 0h4m2 0h1m21 0h2m1 0h1m1 0h151m1 0h1M208 336h1m1 0h3m2 0h4m2 0h1m3 0h1m2 0h2m1 0h2m1 0h11m1 0h2m31 0h1m1 0h148m1 0h1m1 0h1M210 337h2m3 0h4m1 0h1m2 0h4m2 0h1m1 0h3m1 0h2m1 0h1m1 0h1m1 0h3m1 0h1m30 0h2m1 0h150m1 0h1M210 338h1m10 0h1m2 0h1m4 0h2m1 0h1m5 0h1m3 0h2m35 0h1m2 0h147m1 0h1M281 339h1m2 0h80m1 0h1m4 0h58M224 340h1m4 0h2m1 0h1m10 0h1m37 0h2m1 0h80m7 0h19m2 0h41M282 341h40m3 0h38m10 0h15m5 0h37m1 0h1M281 342h40m7 0h34m12 0h13m8 0h34M281 343h2m1 0h36m8 0h34m12 0h13m8 0h31m1 0h1m1 0h1M285 344h34m9 0h32m14 0h12m10 0h30m1 0h1M281 345h39m8 0h34m12 0h11m12 0h29m1 0h2M281 346h2m1 0h36m8 0h34m12 0h11m11 0h31m1 0h1M281 347h1m1 0h37m7 0h35m12 0h11m12 0h29M282 348h41m3 0h36m11 0h11m14 0h27M281 349h82m9 0h12m14 0h28M279 350h1m1 0h84m3 0h1m2 0h13m14 0h28m1 0h3M281 351h86m1 0h16m15 0h27m1 0h2M281 352h103m15 0h29M279 353h105m15 0h32m1 0h1M277 354h1m1 0h105m15 0h33M279 355h103m17 0h31M279 356h104m16 0h32M277 357h1m1 0h104m16 0h30m2 0h1M278 358h24m1 0h80m16 0h30m2 0h2M277 359h21m1 0h2m3 0h79m16 0h33M279 360h17m11 0h37m1 0h37m17 0h30M278 361h18m11 0h37m1 0h38m16 0h30m2 0h1M277 362h18m13 0h34m7 0h34m16 0h30m2 0h1M278 363h17m14 0h32m9 0h33m16 0h30M277 364h18m14 0h30m11 0h34m14 0h31m2 0h1M279 365h14m17 0h30m11 0h33m14 0h30M277 366h1m1 0h14m17 0h29m12 0h33m15 0h29M279 367h14m17 0h29m13 0h32m14 0h27M277 368h1m1 0h15m16 0h29m11 0h34m14 0h29M277 369h18m14 0h30m12 0h34m12 0h29m1 0h2m55 0h1m4 0h5m1 0h1M277 370h2m1 0h15m13 0h32m11 0h35m10 0h33m60 0h1m2 0h1m3 0h1m1 0h1M279 371h17m11 0h34m9 0h36m11 0h33m1 0h1m53 0h2m1 0h11m2 0h1M280 372h16m11 0h34m8 0h38m9 0h34m1 0h1m50 0h20M281 373h17m8 0h36m6 0h38m9 0h35m55 0h1m1 0h10m1 0h1m2 0h1M281 374h21m1 0h85m5 0h40m47 0h2m1 0h21m1 0h1M279 375h1m1 0h109m1 0h46m43 0h24m1 0h1M281 376h156m42 0h28m2 0h1M281 377h156m38 0h1m4 0h29M281 378h156m41 0h32M282 379h1m1 0h154m41 0h31M284 380h36m3 0h115m37 0h1m1 0h1m1 0h31M284 381h1m1 0h32m8 0h111m37 0h1m3 0h32M284 382h32m12 0h27m1 0h4m1 0h76m40 0h33M281 383h2m1 0h32m12 0h27m9 0h74m2 0h1m32 0h3m1 0h35m1 0h2M284 384h11m6 0h1m1 0h13m12 0h20m21 0h71m32 0h2m1 0h1m1 0h33m1 0h1M285 385h9m10 0h11m14 0h16m25 0h68m1 0h1m34 0h1m2 0h34m1 0h1M284 386h9m11 0h11m14 0h15m28 0h1m1 0h64m2 0h1m31 0h38m3 0h1M286 387h6m13 0h9m16 0h12m32 0h65m34 0h39m1 0h2M282 388h1m1 0h8m13 0h10m15 0h11m34 0h63m34 0h39m1 0h3M284 389h1m1 0h6m13 0h9m16 0h11m34 0h40m2 0h22m34 0h26m3 0h13M284 390h1m1 0h6m13 0h9m16 0h10m36 0h36m8 0h18m35 0h24m8 0h5M282 391h1m1 0h8m14 0h9m14 0h11m35 0h35m11 0h17m34 0h24m9 0h9M285 392h8m12 0h10m13 0h13m34 0h34m12 0h17m34 0h24m9 0h7M284 393h9m1 0h1m9 0h12m12 0h14m32 0h35m12 0h16m1 0h1m34 0h23m9 0h6m2 0h2M286 394h11m5 0h15m11 0h14m32 0h35m13 0h15m35 0h24m9 0h9M284 395h34m8 0h18m29 0h36m12 0h16m35 0h24m8 0h9m1 0h2M284 396h36m4 0h21m1 0h1m23 0h1m1 0h38m11 0h17m34 0h29m2 0h12m2 0h1M284 397h1m1 0h62m21 0h41m11 0h16m36 0h37m2 0h3m1 0h1M286 398h1m1 0h63m13 0h2m1 0h45m8 0h15m1 0h1m35 0h39m1 0h4m1 0h1m10 0h1M284 399h1m1 0h128m4 0h19m35 0h47m2 0h1m1 0h3m1 0h4M285 400h3m1 0h149m34 0h60M287 401h2m1 0h147m35 0h59M287 402h1m2 0h148m34 0h59M286 403h1m1 0h1m1 0h147m37 0h41m5 0h10M289 404h149m34 0h43m5 0h11m2 0h1M290 405h148m35 0h2m1 0h38m7 0h11M288 406h1m1 0h1m1 0h145m36 0h3m1 0h36m8 0h10M287 407h1m3 0h146m35 0h5m1 0h34m9 0h11m1 0h1M293 408h140m1 0h3m36 0h1m1 0h1m4 0h32m10 0h10M292 409h1m1 0h98m4 0h37m45 0h1m1 0h31m11 0h9M291 410h1m3 0h2m1 0h93m7 0h36m1 0h1m44 0h31m11 0h9M290 411h2m2 0h2m1 0h5m1 0h88m7 0h35m1 0h1m1 0h1m42 0h33m9 0h11M294 412h3m2 0h3m1 0h2m1 0h84m9 0h35m46 0h33m8 0h12M294 413h1m1 0h1m2 0h3m1 0h87m9 0h35m46 0h20m3 0h9m9 0h11M300 414h1m2 0h2m3 0h3m1 0h3m1 0h74m10 0h30m1 0h2m48 0h18m4 0h11m6 0h12M318 415h71m11 0h30m1 0h1m52 0h15m6 0h9m6 0h10M315 416h1m1 0h72m11 0h30m1 0h2m51 0h15m4 0h12m3 0h1m1 0h12M320 417h1m1 0h68m10 0h33m51 0h15m4 0h28M321 418h1m1 0h1m1 0h65m9 0h34m48 0h2m1 0h17m1 0h29M325 419h1m1 0h63m9 0h35m50 0h46M323 420h1m4 0h63m7 0h35m1 0h1m46 0h1m1 0h48M323 421h1m2 0h68m1 0h42m43 0h51M325 422h1m2 0h109m43 0h52M328 423h109m43 0h52M325 424h1m1 0h110m37 0h1m5 0h51m1 0h2M328 425h20m1 0h18m1 0h70m35 0h2m1 0h1m3 0h53m420 0h2M328 426h15m3 0h1m5 0h15m1 0h1m1 0h68m41 0h53M328 427h18m4 0h17m2 0h69m1 0h1m33 0h1m1 0h1m2 0h55m419 0h4m2 0h1M328 428h11m1 0h3m2 0h2m3 0h2m1 0h12m4 0h69m1 0h1m33 0h2m3 0h57m418 0h3m3 0h1M330 429h1m4 0h1m1 0h1m2 0h2m1 0h1m6 0h1m2 0h4m2 0h1m11 0h67m36 0h58m1 0h1m421 0h1m1 0h1M330 430h1m2 0h2m1 0h1m1 0h1m1 0h1m12 0h2m1 0h1m2 0h1m14 0h40m3 0h21m1 0h1m32 0h62m418 0h1m1 0h3M328 431h1m1 0h2m3 0h1m1 0h1m2 0h2m12 0h1m2 0h3m1 0h2m1 0h1m6 0h2m1 0h67m32 0h2m1 0h59m414 0h1m2 0h4m1 0h2m1 0h1M333 432h1m2 0h1m3 0h1m12 0h1m4 0h1m15 0h41m1 0h24m1 0h1m30 0h61m1 0h1m414 0h1m1 0h6m1 0h2M375 433h33m2 0h1m1 0h2m5 0h1m1 0h19m1 0h1m31 0h2m1 0h55m421 0h4M375 434h34m2 0h1m8 0h21m33 0h1m1 0h55m421 0h1m2 0h1M375 435h23m1 0h10m1 0h1m10 0h21m2 0h2m27 0h59m420 0h2m4 0h1M375 436h34m2 0h1m9 0h25m26 0h60m421 0h3M379 437h2m2 0h10m3 0h1m3 0h1m1 0h1m1 0h2m19 0h17m3 0h1m27 0h3m1 0h18m1 0h1m1 0h1m1 0h1m2 0h26M384 438h1m2 0h1m1 0h1m3 0h1m37 0h10m34 0h1m2 0h14m2 0h1m8 0h2m1 0h13m2 0h1m1 0h3M384 439h2m41 0h2m1 0h12m1 0h2m34 0h4m1 0h6m2 0h1m1 0h1m11 0h1m1 0h2m2 0h7m2 0h2m1 0h2m2 0h1M383 440h1m2 0h1m44 0h1m2 0h12m33 0h1m1 0h1m2 0h2m2 0h2m2 0h1m12 0h1m5 0h1m1 0h2m10 0h1M432 441h2m1 0h3m1 0h6m1 0h1m33 0h2m1 0h1m1 0h1m1 0h1m2 0h1m12 0h1m3 0h3m2 0h3m1 0h2m6 0h1M436 442h1m3 0h6m2 0h1m31 0h2m3 0h1m31 0h1M436 443h1m2 0h8m2 0h1m64 0h1M435 444h2m2 0h12M435 445h3m2 0h1m1 0h9m2 0h2M441 446h1m1 0h8m3 0h1M444 447h4m1 0h3M442 448h1m1 0h3m1 0h3m2 0h2M443 449h10m1 0h3M444 450h7m1 0h4m1 0h2M447 451h1m1 0h1m1 0h6M449 452h10M445 453h1m2 0h1m1 0h9M445 454h2m1 0h12m2 0h1M449 455h16M449 456h1m1 0h9m1 0h1m2 0h1M450 457h1m1 0h8m1 0h4M450 458h1m1 0h14M454 459h11M455 460h1m2 0h7m1 0h2M455 461h10m2 0h1M454 462h2m1 0h10M455 463h1m1 0h12M455 464h15m3 0h1M458 465h1m3 0h4m1 0h1m1 0h1m3 0h1M460 466h1m1 0h3m1 0h2m1 0h1m2 0h1M460 467h2m1 0h11M463 468h2m2 0h4m1 0h1M464 469h7m1 0h2M467 470h3m2 0h1M467 471h1m3 0h3m1 0h1M384 472h1m1 0h1m1 0h1m2 0h2m1 0h3m1 0h5m1 0h1m2 0h1m22 0h1m1 0h1m3 0h1m29 0h10m4 0h1m1 0h1m1 0h2m2 0h1m35 0h1m3 0h1M383 473h2m1 0h17m1 0h5m16 0h1m1 0h2m1 0h4m1 0h3m26 0h2m1 0h1m1 0h1m1 0h7m1 0h9m3 0h1m29 0h1m1 0h8M381 474h1m1 0h1m1 0h23m16 0h2m2 0h10m34 0h7m1 0h7m1 0h1m1 0h3m30 0h7M377 475h1m2 0h1m2 0h2m1 0h19m1 0h3m18 0h1m1 0h2m1 0h1m2 0h4m32 0h14m1 0h2m35 0h6m1 0h1M386 476h20m1 0h1m17 0h1m3 0h8m36 0h16m35 0h1m2 0h2m1 0h1M380 477h1m1 0h25m22 0h9m35 0h16m32 0h1m1 0h8M378 478h1m2 0h27m1 0h1m17 0h12m35 0h17m26 0h1m2 0h10M376 479h1m1 0h30m3 0h1m14 0h15m32 0h1m1 0h16m26 0h15M374 480h40m7 0h19m1 0h2m29 0h24m1 0h1m7 0h1m7 0h22M374 481h41m3 0h1m1 0h23m30 0h24m1 0h4m1 0h1m1 0h30m2 0h1M372 482h1m2 0h40m3 0h1m2 0h19m32 0h25m1 0h2m4 0h2m2 0h26m1 0h1M372 483h1m1 0h41m5 0h19m2 0h1m31 0h24m7 0h1m2 0h27M369 484h1m2 0h1m1 0h67m31 0h27m1 0h36m1 0h1m16 0h1m5 0h1m68 0h2m1 0h4M371 485h72m29 0h3m1 0h59m2 0h1m16 0h2m5 0h1m1 0h1m62 0h1m2 0h8M371 486h2m1 0h66m33 0h62m1 0h2m16 0h2m4 0h4m63 0h1m1 0h1m1 0h6M372 487h68m1 0h1m31 0h1m1 0h60m2 0h1m1 0h1m14 0h2m2 0h1m1 0h3m66 0h7M371 488h70m31 0h1m1 0h1m1 0h59m2 0h1m2 0h1m13 0h9m66 0h7M369 489h72m37 0h60m15 0h10m66 0h7m1 0h1M369 490h1m1 0h68m2 0h1m32 0h1m3 0h57m1 0h3m14 0h11m1 0h2m62 0h9M369 491h1m1 0h68m34 0h2m5 0h57m2 0h2m11 0h1m1 0h12m63 0h7M369 492h69m1 0h2m33 0h1m5 0h60m12 0h15m62 0h9M369 493h1m1 0h67m42 0h59m9 0h1m3 0h12m1 0h2m62 0h1m3 0h2M371 494h69m40 0h55m1 0h2m11 0h2m1 0h14m65 0h1m1 0h1M369 495h1m1 0h66m43 0h39m1 0h16m1 0h1m2 0h1m7 0h1m2 0h16m1 0h1m60 0h1m1 0h5M370 496h21m5 0h42m43 0h35m4 0h15m1 0h2m14 0h15m64 0h1m2 0h1M371 497h2m1 0h16m6 0h41m43 0h1m3 0h31m6 0h17m14 0h15m65 0h1M370 498h20m6 0h42m43 0h2m1 0h32m5 0h17m2 0h1m5 0h1m1 0h1m3 0h17m59 0h3m1 0h3m1 0h1M372 499h1m1 0h15m7 0h18m4 0h19m44 0h2m2 0h31m4 0h15m1 0h2m9 0h2m1 0h1m1 0h17m57 0h1m2 0h1m2 0h1m1 0h1M372 500h1m1 0h15m7 0h17m5 0h20m43 0h1m2 0h34m1 0h20m7 0h25m53 0h1m1 0h1m2 0h7M371 501h18m8 0h16m6 0h18m44 0h1m2 0h55m7 0h25m56 0h1m1 0h7m1 0h1M374 502h16m7 0h16m5 0h19m47 0h51m2 0h1m8 0h1m1 0h22m55 0h1m2 0h8m2 0h1M374 503h16m6 0h19m1 0h23m2 0h1m39 0h1m2 0h51m2 0h3m6 0h24m2 0h1m51 0h15M376 504h14m5 0h20m1 0h23m43 0h53m2 0h1m8 0h1m1 0h1m1 0h21m51 0h1m1 0h15M374 505h64m2 0h1m39 0h3m1 0h52m9 0h2m1 0h22m1 0h3m48 0h17m1 0h1M376 506h64m41 0h1m2 0h50m3 0h1m8 0h1m1 0h23m50 0h1m1 0h16m1 0h1M377 507h62m2 0h1m39 0h1m1 0h51m11 0h2m1 0h1m1 0h21m1 0h1m51 0h16M377 508h63m1 0h1m39 0h54m11 0h1m1 0h23m3 0h1m47 0h18M376 509h1m1 0h62m1 0h1m39 0h54m10 0h1m2 0h1m2 0h19m4 0h1m46 0h18M383 510h1m1 0h1m1 0h3m1 0h6m1 0h41m42 0h52m18 0h19m54 0h14M383 511h2m2 0h1m1 0h1m1 0h2m1 0h3m2 0h10m2 0h28m1 0h1m40 0h52m19 0h16m56 0h15M385 512h1m2 0h2m1 0h1m2 0h13m5 0h1m1 0h26m1 0h1m39 0h50m1 0h1m15 0h1m3 0h16m1 0h1m51 0h1m1 0h14m1 0h1M383 513h1m2 0h4m1 0h1m1 0h2m1 0h10m8 0h28m38 0h52m1 0h2m13 0h1m4 0h18m50 0h2m1 0h15M383 514h1m3 0h3m3 0h1m1 0h10m11 0h26m1 0h1m36 0h51m2 0h1m14 0h1m4 0h17m50 0h22M395 515h1m2 0h5m14 0h23m40 0h17m1 0h33m22 0h17m50 0h18m5 0h1M397 516h1m1 0h4m14 0h23m1 0h1m38 0h16m4 0h32m16 0h1m3 0h17m50 0h1m1 0h2m1 0h15m1 0h1m3 0h1m2 0h2M396 517h1m1 0h5m14 0h23m1 0h2m35 0h18m4 0h32m16 0h1m3 0h18m49 0h20m1 0h2m1 0h3m1 0h2m1 0h2m1 0h1M399 518h4m13 0h24m39 0h17m5 0h31m20 0h17m49 0h21m1 0h2m1 0h2m3 0h1m1 0h2m1 0h1m16 0h1M400 519h3m14 0h21m41 0h16m5 0h31m21 0h16m53 0h1m1 0h16m8 0h2m1 0h1M400 520h5m9 0h24m40 0h19m2 0h32m17 0h21m49 0h1m1 0h33m1 0h1m14 0h2M399 521h9m3 0h29m33 0h1m3 0h54m2 0h1m12 0h1m1 0h21m1 0h1m49 0h22m1 0h11m12 0h1m1 0h3M400 522h38m1 0h1m38 0h53m1 0h1m18 0h17m52 0h32m17 0h2M399 523h40m34 0h3m1 0h57m3 0h1m7 0h24m48 0h1m1 0h36m11 0h6M399 524h41m1 0h1m30 0h63m1 0h2m7 0h25m1 0h1m45 0h40m6 0h1m2 0h10M399 525h42m32 0h3m1 0h58m2 0h1m7 0h2m1 0h22m49 0h36m1 0h1m9 0h1m1 0h4M400 526h38m35 0h3m1 0h58m2 0h1m7 0h1m2 0h23m48 0h36m1 0h1m9 0h2m1 0h3M399 527h39m35 0h62m2 0h4m4 0h25m48 0h39m9 0h1m1 0h4M398 528h40m1 0h1m32 0h63m1 0h5m5 0h22m53 0h35m14 0h2M399 529h38m36 0h2m2 0h64m5 0h1m1 0h19m1 0h1m51 0h1m1 0h33m13 0h3M399 530h4m1 0h11m1 0h3m1 0h17m36 0h1m1 0h3m1 0h63m4 0h1m1 0h1m3 0h15m1 0h1m51 0h35m14 0h1M400 531h1m4 0h1m1 0h2m2 0h4m1 0h1m5 0h2m1 0h8m2 0h2m42 0h33m1 0h1m2 0h3m4 0h15m1 0h2m7 0h1m2 0h14m59 0h29m1 0h1M412 532h1m11 0h2m1 0h2m1 0h3m47 0h33m9 0h16m16 0h9m63 0h1m1 0h24m1 0h2M404 533h1m2 0h1m16 0h1m3 0h4m48 0h30m3 0h2m6 0h1m1 0h19m12 0h4m2 0h2m1 0h1m1 0h1m57 0h1m1 0h1m1 0h1m1 0h23m1 0h2M428 534h1m2 0h2m47 0h2m2 0h22m2 0h2m3 0h1m10 0h17m12 0h1m2 0h1m69 0h1m2 0h23M482 535h1m1 0h1m4 0h1m1 0h3m1 0h1m1 0h2m1 0h2m3 0h1m23 0h9m1 0h1m90 0h1m1 0h17M486 536h1m2 0h6m1 0h6m22 0h1m3 0h13m13 0h1m76 0h1m1 0h12m1 0h2M481 537h1m2 0h7m1 0h13m1 0h1m16 0h21m2 0h1m7 0h1m74 0h13m1 0h7M490 538h1m1 0h2m6 0h2m1 0h1m23 0h4m2 0h2m1 0h8m2 0h1m85 0h9m2 0h2m2 0h1M487 539h1m3 0h2m10 0h1m23 0h5m1 0h11m1 0h2m82 0h1m2 0h7m1 0h2m2 0h1m2 0h2m2 0h1M488 540h1m2 0h1m3 0h1m2 0h1m28 0h5m1 0h2m1 0h11m1 0h1m5 0h2m74 0h9m1 0h2m1 0h3m2 0h1M530 541h1m2 0h1m3 0h12m5 0h2m76 0h7m1 0h1m3 0h2M537 542h13m2 0h1m1 0h2m5 0h1m71 0h5m1 0h2m2 0h1m1 0h1m1 0h2M537 543h13m5 0h1m76 0h5m1 0h1M540 544h10m4 0h2m76 0h1m1 0h2m11 0h1M505 545h1m1 0h1m1 0h1m13 0h5m11 0h19m2 0h3m68 0h14m2 0h5m1 0h2M498 546h1m1 0h9m12 0h1m1 0h3m1 0h4m6 0h22m1 0h4m1 0h1m63 0h13m1 0h12M499 547h3m1 0h1m19 0h2m2 0h2m12 0h21m68 0h24M493 548h1m1 0h1m2 0h12m2 0h3m1 0h2m2 0h2m1 0h9m8 0h25m64 0h26m4 0h1m9 0h2m4 0h1m1 0h2M494 549h1m5 0h4m1 0h2m1 0h1m11 0h2m1 0h7m12 0h21m64 0h1m1 0h26m7 0h1m7 0h1m6 0h1M494 550h1m4 0h10m11 0h2m1 0h7m15 0h19m64 0h27m1 0h1m13 0h1M495 551h1m4 0h11m9 0h10m1 0h1m13 0h19m65 0h29m9 0h1m2 0h1m1 0h1m2 0h3M491 552h22m3 0h16m10 0h1m2 0h21m62 0h33m1 0h1m3 0h1m1 0h3m1 0h8M489 553h2m1 0h40m2 0h1m10 0h22m57 0h1m1 0h53m1 0h2M484 554h50m2 0h2m2 0h3m1 0h24m54 0h1m1 0h60M485 555h49m6 0h27m1 0h1m51 0h64M488 556h47m10 0h24m55 0h57m2 0h1M488 557h46m11 0h23m1 0h1m52 0h1m1 0h57M487 558h46m13 0h21m55 0h1m1 0h57M488 559h45m14 0h20m56 0h58M484 560h1m1 0h48m11 0h24m52 0h60M485 561h49m8 0h1m2 0h24m50 0h1m1 0h61m2 0h1M486 562h47m12 0h2m1 0h21m52 0h60M485 563h2m3 0h42m1 0h1m12 0h1m1 0h1m1 0h19m1 0h2m49 0h60m1 0h2M491 564h2m1 0h38m16 0h1m3 0h18m1 0h1m49 0h2m1 0h36m1 0h2m1 0h16M490 565h41m2 0h1m12 0h1m5 0h19m1 0h1m46 0h4m1 0h15m1 0h2m1 0h21m3 0h14M490 566h1m1 0h2m1 0h36m22 0h18m1 0h1m48 0h1m1 0h19m1 0h17m1 0h2m3 0h13m1 0h1M498 567h31m25 0h1m1 0h2m2 0h13m51 0h13m6 0h15m8 0h1m2 0h6m1 0h2M495 568h1m2 0h13m2 0h6m1 0h2m1 0h5m1 0h2m24 0h2m3 0h11m1 0h1m1 0h1m46 0h1m2 0h12m7 0h14m2 0h1m7 0h2m1 0h5m1 0h3M500 569h11m1 0h4m1 0h1m6 0h4m29 0h1m6 0h9m1 0h2m50 0h10m11 0h10m2 0h1m8 0h2m3 0h1m4 0h1M500 570h2m2 0h1m1 0h3m4 0h1m7 0h1m4 0h1m36 0h1m1 0h10m54 0h6m9 0h1m2 0h1m3 0h1m1 0h2m1 0h1m16 0h1m1 0h2M505 571h1m18 0h1m38 0h2m2 0h1m1 0h4m1 0h1m57 0h3m14 0h3m1 0h1M503 572h1m1 0h1m1 0h1m57 0h14m50 0h6m12 0h1m3 0h1m1 0h1M505 573h1m64 0h1m1 0h8m1 0h1m47 0h1m1 0h1m2 0h1m15 0h1m2 0h1M508 574h2m58 0h15m49 0h4m12 0h1m4 0h2M569 575h1m2 0h11m46 0h1m1 0h3M572 576h7m2 0h2M572 577h8m1 0h3M572 578h13M573 579h3m1 0h9m1 0h1M574 580h2m2 0h8M573 581h15m1 0h1M574 582h17M577 583h14M578 584h11M579 585h13M581 586h10M579 587h1m1 0h14M582 588h11m1 0h3M581 589h3m1 0h8m1 0h3M582 590h2m1 0h11M585 591h1m1 0h10M587 592h7m1 0h1M587 593h1m2 0h8M587 594h5m1 0h5m2 0h1M588 595h9m2 0h2m1 0h1m1 0h1M588 596h2m1 0h1m1 0h5m1 0h4M593 597h2m1 0h1M599 598h1m2 0h1M595 599h2m1 0h1m1 0h6M594 600h3m2 0h7m1 0h1M596 601h1m2 0h7M595 602h2m1 0h7m2 0h2M599 603h8m3 0h2M595 604h1m3 0h7m1 0h3m1 0h1M599 605h3m1 0h3m1 0h5M603 606h1m3 0h3M600 607h1m1 0h1m1 0h8M602 608h1m1 0h8m2 0h2M604 609h9M603 610h1m1 0h1m1 0h9M603 611h3m1 0h10M609 612h9M610 613h8m1 0h1M608 614h1m1 0h13m39 0h1m5 0h3M608 615h1m1 0h13m1 0h1m1 0h1m32 0h1m1 0h1m4 0h2m1 0h2m1 0h1M611 616h11m40 0h1m4 0h4M523 617h2m87 0h12m2 0h1m29 0h1m5 0h2m1 0h3m1 0h2M518 618h1m1 0h1m3 0h1m2 0h1m86 0h10m1 0h2m1 0h2m24 0h1m4 0h1m1 0h2m2 0h8M94 619h1m421 0h3m4 0h5m33 0h1m3 0h1m47 0h17m2 0h1m20 0h3m3 0h17M94 620h4m416 0h2m1 0h2m1 0h8m1 0h2m24 0h1m9 0h1m48 0h16m2 0h1m1 0h2m7 0h3m2 0h1m1 0h26m1 0h1M90 621h8m1 0h1m406 0h1m2 0h1m2 0h17m1 0h1m24 0h1m4 0h7m1 0h1m45 0h23m6 0h2m2 0h33M91 622h7m406 0h2m2 0h2m3 0h6m1 0h11m23 0h2m1 0h2m1 0h6m48 0h2m1 0h19m4 0h2m1 0h37m4 0h2m2 0h1M93 623h2m1 0h2m1 0h1m405 0h2m1 0h2m2 0h1m1 0h2m1 0h14m2 0h1m21 0h1m3 0h5m2 0h1m50 0h18m3 0h1m5 0h1m1 0h35M90 624h2m1 0h1m2 0h4m400 0h1m2 0h29m21 0h16m46 0h1m3 0h18m1 0h2m3 0h36m1 0h1m1 0h2m1 0h2m1 0h2m3 0h2m1 0h1m8 0h1m7 0h3m1 0h1M93 625h7m402 0h30m1 0h1m20 0h15m49 0h69m2 0h1m2 0h1m1 0h1m1 0h3m3 0h1m2 0h1m5 0h1m1 0h4m2 0h1M89 626h11m385 0h1m13 0h2m2 0h30m1 0h1m18 0h17m45 0h1m1 0h90m1 0h1m2 0h7m1 0h3M91 627h3m1 0h3m1 0h1m386 0h1m14 0h1m1 0h29m1 0h1m15 0h1m3 0h17m49 0h81m1 0h2m1 0h2m2 0h2m1 0h4m1 0h1m2 0h1m1 0h1M94 628h1m1 0h2m400 0h1m3 0h31m17 0h1m1 0h18m48 0h82m1 0h6m1 0h10m1 0h2M91 629h1m2 0h4m1 0h1m384 0h10m1 0h1m2 0h37m2 0h1m1 0h1m6 0h1m1 0h23m1 0h2m1 0h1m42 0h103M95 630h1m1 0h1m386 0h2m1 0h6m5 0h1m1 0h36m1 0h1m2 0h1m5 0h25m1 0h1m48 0h101M91 631h1m4 0h3m386 0h8m1 0h3m3 0h35m1 0h2m2 0h1m4 0h26m1 0h2m1 0h1m45 0h104M93 632h1m1 0h1m388 0h9m2 0h1m1 0h39m1 0h5m1 0h30m1 0h2m43 0h106m1 0h1M96 633h1m387 0h12m2 0h1m1 0h44m1 0h28m1 0h2m45 0h104m1 0h1M484 634h10m1 0h2m1 0h77m45 0h87m1 0h1m1 0h15M484 635h9m2 0h1m4 0h70m4 0h1m45 0h3m1 0h82m5 0h15M485 636h2m3 0h1m1 0h1m5 0h1m4 0h41m1 0h23m53 0h1m2 0h81m7 0h14M489 637h2m1 0h1m8 0h1m1 0h9m1 0h30m2 0h22m58 0h80m8 0h11M502 638h8m1 0h4m1 0h26m1 0h1m1 0h22m56 0h81m9 0h13m1 0h1M507 639h2m5 0h1m5 0h19m3 0h1m2 0h20m1 0h1m57 0h38m5 0h37m9 0h12M505 640h2m7 0h1m1 0h3m1 0h23m2 0h22m55 0h1m2 0h37m6 0h36m9 0h13M514 641h1m2 0h2m1 0h18m1 0h2m4 0h22m55 0h1m2 0h35m8 0h35m10 0h13M520 642h1m1 0h15m8 0h1m1 0h18m60 0h35m9 0h34m10 0h13M515 643h1m1 0h2m1 0h19m1 0h1m1 0h1m2 0h24m51 0h3m1 0h36m9 0h35m8 0h13m1 0h3M516 644h3m1 0h22m3 0h24m1 0h1m49 0h41m8 0h36m7 0h17M517 645h1m2 0h16m1 0h1m2 0h3m3 0h23m51 0h1m1 0h1m1 0h36m8 0h37m6 0h18m30 0h2M520 646h18m8 0h23m53 0h40m6 0h38m5 0h15m2 0h1m26 0h1m7 0h1M516 647h2m1 0h21m2 0h1m1 0h27m1 0h1m48 0h42m4 0h40m3 0h19m24 0h3m2 0h7m1 0h1M516 648h20m1 0h1m1 0h2m1 0h1m2 0h25m4 0h1m45 0h109m20 0h1m3 0h3m2 0h5m1 0h4M520 649h15m2 0h1m7 0h25m1 0h1m49 0h108m25 0h3m1 0h3m1 0h5M517 650h18m10 0h25m1 0h1m1 0h1m46 0h109m20 0h1m2 0h14M517 651h2m1 0h15m4 0h1m5 0h28m47 0h109m2 0h1m16 0h2m1 0h17M520 652h2m1 0h9m14 0h24m50 0h110m18 0h1m2 0h15m1 0h1M517 653h2m2 0h1m1 0h8m1 0h2m11 0h30m44 0h111m2 0h1m13 0h23M520 654h1m2 0h11m11 0h2m1 0h23m3 0h1m43 0h111m2 0h1m15 0h22m1 0h1M524 655h1m2 0h2m22 0h19m49 0h110m2 0h1m16 0h20M524 656h4m22 0h21m46 0h1m2 0h112m13 0h1m2 0h22m1 0h1M551 657h17m52 0h109m20 0h20M552 658h15m53 0h110m1 0h1m18 0h17M548 659h1m3 0h15m1 0h2m45 0h1m2 0h112m1 0h3m15 0h19M552 660h12m1 0h1m53 0h22m3 0h1m1 0h82m4 0h1m16 0h17M553 661h14m48 0h1m2 0h23m5 0h38m4 0h38m1 0h1m3 0h2m16 0h2m1 0h16M549 662h1m2 0h15m47 0h1m1 0h23m8 0h34m8 0h20m2 0h15m6 0h1m20 0h15M524 663h1m28 0h11m1 0h1m51 0h1m1 0h20m9 0h31m11 0h17m4 0h15m28 0h1m5 0h1m1 0h1m2 0h1M553 664h12m54 0h20m9 0h32m10 0h16m6 0h14M553 665h12m52 0h22m9 0h33m7 0h18m7 0h13M521 666h1m1 0h5m24 0h13m1 0h2m47 0h1m1 0h22m9 0h58m7 0h16M523 667h2m1 0h1m24 0h1m1 0h14m1 0h1m46 0h25m7 0h59m7 0h16M521 668h1m1 0h3m1 0h1m1 0h1m22 0h15m1 0h2m44 0h1m1 0h1m1 0h24m3 0h61m6 0h17m2 0h1M520 669h8m1 0h2m17 0h1m3 0h16m1 0h1m44 0h92m5 0h19m1 0h1M518 670h1m1 0h10m18 0h21m45 0h93m4 0h22M523 671h6m24 0h16m49 0h90m3 0h10m2 0h7M524 672h1m26 0h18m46 0h1m2 0h102m5 0h4M524 673h1m27 0h19m48 0h100m5 0h9M524 674h1m27 0h17m50 0h101m5 0h5m1 0h1M524 675h1m23 0h1m2 0h16m3 0h1m48 0h89m3 0h9m5 0h9M551 676h18m1 0h1m50 0h86m6 0h7m4 0h9M548 677h2m1 0h18m51 0h87m6 0h23M548 678h1m3 0h15m1 0h2m51 0h85m7 0h22M552 679h1m1 0h12m55 0h3m1 0h38m1 0h42m8 0h22M553 680h11m1 0h2m56 0h40m2 0h41m8 0h22M553 681h3m5 0h1m63 0h37m4 0h39m9 0h20m2 0h1M554 682h2m7 0h1m60 0h38m4 0h39m9 0h20m3 0h1m25 0h2M554 683h3m6 0h1m60 0h38m4 0h39m9 0h22m22 0h1m2 0h1m2 0h3M561 684h1m60 0h1m2 0h36m5 0h39m8 0h26m16 0h1m2 0h10M622 685h1m1 0h37m5 0h40m7 0h29m13 0h1m2 0h10M624 686h37m5 0h40m8 0h25m2 0h1m12 0h1m3 0h9M626 687h35m5 0h39m8 0h26m20 0h9M215 688h1m2 0h1m403 0h1m1 0h1m1 0h36m3 0h41m7 0h29m13 0h14m2 0h1M212 689h2m1 0h4m405 0h39m2 0h42m6 0h30m11 0h3m1 0h11m1 0h2M217 690h1m408 0h81m6 0h27m1 0h2m13 0h12M211 691h1m3 0h4m407 0h81m3 0h34m11 0h14M210 692h10m1 0h1m403 0h118m1 0h1m4 0h1m1 0h1m2 0h14m2 0h1M207 693h13m1 0h1m2 0h1m399 0h1m1 0h121m1 0h2m2 0h17m1 0h2M208 694h12m2 0h1m1 0h1m399 0h122m2 0h1m2 0h21M208 695h15m1 0h2m400 0h124m1 0h1m2 0h18M209 696h15m1 0h1m398 0h126m1 0h20M206 697h17m1 0h2m399 0h147M208 698h13m3 0h1m400 0h144m1 0h1M210 699h10m406 0h145M209 700h1m1 0h8m1 0h1m405 0h1m2 0h138M208 701h1m1 0h11m1 0h1m403 0h143m1 0h3M212 702h2m1 0h4m3 0h1m402 0h144M212 703h2m1 0h1m1 0h3m1 0h1m404 0h1m1 0h13m2 0h125M211 704h2m2 0h2m409 0h12m6 0h124m1 0h3M211 705h4m1 0h3m405 0h12m10 0h35m4 0h2m1 0h80m1 0h3M216 706h1m409 0h1m1 0h7m12 0h17m6 0h8m11 0h80M629 707h5m14 0h15m8 0h5m16 0h35m3 0h18m1 0h1m1 0h16M626 708h9m13 0h15m9 0h3m17 0h34m4 0h17m5 0h16M627 709h7m14 0h14m10 0h3m17 0h33m5 0h16m7 0h14M628 710h7m12 0h15m10 0h3m16 0h35m4 0h17m5 0h14M625 711h11m9 0h19m5 0h7m15 0h35m4 0h19m3 0h15m2 0h1M626 712h11m6 0h22m3 0h8m15 0h35m4 0h38M624 713h55m5 0h2m1 0h80m1 0h1m2 0h1m88 0h2M624 714h145m2 0h1m88 0h3m1 0h1m2 0h1M624 715h3m1 0h140m91 0h1m1 0h2M625 716h149m82 0h1m1 0h6m3 0h1M624 717h1m1 0h1m1 0h141m2 0h3m83 0h1m1 0h5m3 0h1M629 718h143m85 0h2m1 0h6M625 719h48m1 0h99m80 0h1m1 0h14M626 720h1m1 0h44m5 0h95m1 0h1m79 0h13m1 0h2M626 721h2m2 0h41m6 0h97m1 0h1m77 0h17M631 722h40m6 0h70m4 0h22m81 0h1m1 0h12M631 723h41m5 0h69m7 0h20m81 0h15M631 724h6m1 0h34m1 0h1m2 0h69m8 0h21m78 0h17M635 725h2m1 0h1m1 0h3m1 0h65m1 0h34m10 0h19m81 0h1m1 0h14M632 726h2m9 0h3m1 0h14m5 0h42m5 0h31m10 0h18m1 0h1m80 0h16M638 727h1m4 0h3m1 0h15m4 0h41m6 0h31m10 0h20m79 0h17m2 0h1m23 0h1M643 728h17m6 0h41m6 0h32m9 0h20m77 0h19m1 0h2m22 0h2M652 729h2m2 0h1m1 0h2m9 0h3m1 0h34m6 0h31m10 0h19m79 0h18m1 0h1m24 0h2M656 730h1m13 0h1m2 0h1m1 0h69m9 0h19m2 0h1m78 0h18m1 0h1m19 0h2m1 0h3M651 731h1m2 0h3m1 0h2m1 0h1m6 0h3m2 0h73m7 0h20m1 0h1m77 0h22m12 0h1m2 0h5m1 0h6M653 732h1m5 0h4m7 0h1m2 0h1m1 0h71m6 0h22m78 0h19m1 0h2m10 0h1m1 0h12m1 0h2M659 733h1m15 0h1m1 0h70m1 0h1m1 0h24m77 0h25m8 0h3m1 0h13M677 734h4m2 0h90m79 0h22m7 0h2m2 0h2m1 0h12M677 735h1m1 0h2m2 0h90m78 0h2m1 0h20m2 0h3m1 0h1m1 0h17M681 736h1m2 0h90m79 0h26m1 0h18m1 0h1M682 737h1m1 0h90m77 0h47m1 0h2M684 738h88m79 0h48m1 0h1M685 739h1m2 0h85m79 0h49M685 740h1m2 0h2m1 0h78m1 0h3m78 0h47m1 0h2M82 741h1m1 0h1m600 0h2m1 0h84m80 0h46M81 742h4m1 0h1m1 0h1m600 0h84m79 0h1m1 0h44m1 0h2M82 743h4m1 0h1m603 0h1m1 0h76m1 0h2m84 0h38m2 0h1M81 744h10m601 0h33m3 0h1m2 0h37m85 0h1m1 0h1m1 0h37m1 0h2M79 745h10m1 0h1m565 0h1m36 0h31m7 0h36m87 0h1m1 0h40M81 746h10m562 0h1m39 0h1m1 0h14m1 0h13m10 0h34m89 0h39m1 0h1M80 747h9m564 0h2m40 0h13m3 0h11m12 0h31m2 0h1m89 0h1m2 0h32m1 0h1M75 748h1m2 0h14m559 0h6m36 0h14m4 0h11m11 0h35m90 0h1m1 0h33m3 0h1M76 749h16m556 0h1m1 0h2m1 0h5m1 0h3m30 0h2m1 0h13m4 0h10m12 0h33m1 0h1m88 0h1m1 0h35m1 0h2M77 750h12m564 0h9m35 0h10m5 0h10m11 0h34m92 0h33M75 751h1m1 0h15m559 0h10m31 0h1m1 0h14m4 0h11m10 0h34m92 0h34m1 0h1M77 752h13m560 0h12m31 0h2m1 0h13m1 0h13m9 0h35m90 0h35m1 0h2M78 753h11m1 0h1m556 0h2m1 0h13m30 0h2m1 0h29m5 0h37m93 0h38M79 754h11m557 0h17m22 0h1m2 0h1m2 0h76m3 0h1m84 0h45m2 0h1M79 755h12m555 0h17m21 0h2m2 0h2m1 0h78m2 0h1m81 0h1m2 0h44M79 756h1m1 0h5m2 0h1m560 0h14m25 0h81m1 0h2m84 0h42m1 0h2M650 757h13m25 0h1m1 0h78m89 0h43M85 758h1m1 0h1m559 0h16m20 0h4m1 0h84m85 0h49M79 759h1m2 0h7m556 0h1m1 0h16m21 0h89m80 0h54M82 760h3m1 0h1m558 0h1m1 0h17m20 0h90m77 0h57M647 761h2m1 0h13m20 0h91m77 0h54m1 0h1M647 762h17m20 0h91m76 0h1m1 0h52M646 763h2m1 0h14m19 0h1m1 0h90m77 0h57M647 764h16m19 0h93m1 0h1m74 0h57M648 765h16m19 0h64m1 0h27m2 0h1m73 0h2m1 0h54M647 766h3m1 0h1m1 0h7m1 0h2m20 0h27m1 0h36m1 0h27m77 0h55M648 767h1m2 0h7m1 0h1m1 0h2m21 0h2m1 0h13m1 0h6m1 0h1m3 0h1m1 0h31m2 0h2m5 0h21m76 0h1m1 0h1m1 0h52M653 768h2m1 0h2m30 0h2m1 0h1m1 0h7m1 0h2m3 0h1m6 0h2m1 0h28m5 0h1m5 0h2m1 0h16m82 0h18m1 0h1m1 0h1m2 0h22m1 0h1M656 769h1m37 0h4m1 0h1m4 0h2m5 0h1m4 0h1m1 0h22m1 0h2m15 0h18m79 0h15m1 0h3m2 0h3m3 0h19m2 0h2M654 770h1m34 0h1m2 0h8m1 0h1m2 0h2m10 0h1m1 0h26m12 0h1m1 0h20m74 0h1m2 0h16m1 0h2m2 0h1m5 0h5m1 0h18M656 771h1m31 0h2m3 0h3m1 0h1m3 0h1m2 0h2m7 0h2m1 0h28m10 0h3m1 0h22m73 0h1m2 0h18m2 0h1m1 0h1m3 0h2m1 0h22M701 772h1m14 0h2m1 0h1m1 0h5m1 0h3m1 0h7m1 0h2m1 0h1m16 0h17m1 0h1m78 0h2m1 0h10m3 0h1m12 0h1m1 0h1m1 0h13m1 0h2M716 773h2m2 0h2m2 0h1m1 0h3m3 0h2m2 0h2m22 0h19m1 0h1m75 0h13m20 0h4m2 0h6m2 0h1M730 774h2m30 0h1m1 0h4m1 0h9m1 0h2m80 0h1m2 0h1m28 0h1m1 0h3m2 0h1M721 775h1m47 0h10m1 0h2m75 0h1m5 0h2m1 0h2m21 0h1m6 0h1m2 0h1M764 776h1m5 0h2m1 0h9m1 0h1m73 0h1m2 0h1m5 0h2m29 0h1M765 777h1m4 0h13m1 0h2M771 778h1m1 0h1m1 0h7m1 0h1M771 779h1m2 0h1m1 0h11M773 780h14m1 0h1M775 781h13M777 782h1m1 0h9m1 0h1M776 783h1m1 0h11M777 784h1m1 0h10m3 0h1M777 785h1m1 0h10m2 0h2M779 786h14m2 0h1M781 787h9m1 0h2m1 0h2M780 788h1m2 0h7m1 0h1m3 0h3M782 789h1m3 0h3m2 0h2m2 0h1M786 790h1m3 0h3m2 0h1M785 791h14M784 792h4m1 0h11M791 793h2m1 0h1m1 0h2M787 794h1m3 0h9M786 795h7m1 0h6m4 0h1M788 796h1m2 0h10m1 0h3m2 0h2m3 0h1M788 797h1m2 0h10m1 0h7m2 0h2m1 0h1m1 0h1M791 798h2m1 0h7m2 0h7m1 0h4m1 0h4M792 799h1m1 0h7m1 0h8m1 0h10M796 800h14m2 0h3m1 0h3M800 801h17m2 0h1M796 802h2m1 0h21M796 803h26M795 804h27m1 0h1M797 805h25M797 806h25M796 807h28M796 808h28M798 809h25M801 810h22M797 811h3m1 0h24M796 812h29M798 813h26M797 814h25m1 0h1M799 815h1m1 0h21M797 816h27m2 0h1M798 817h3m1 0h25M798 818h3m1 0h22m1 0h2M798 819h2m1 0h24m1 0h2M799 820h1m3 0h25M803 821h26M807 822h7m2 0h9m1 0h1m1 0h1M804 823h1m2 0h2m2 0h4m1 0h13M811 824h2m4 0h1m1 0h12M817 825h2m1 0h2m1 0h6M816 826h15m3 0h1M819 827h3m1 0h9m1 0h2M821 828h15m1 0h1M824 829h1m1 0h6m1 0h2m2 0h1M824 830h1m1 0h9m2 0h1M827 831h5m2 0h1m3 0h1M828 832h1m1 0h1m2 0h1m3 0h1M827 833h4m1 0h6m1 0h1M826 834h6m1 0h9M828 835h1m4 0h10M833 836h9M828 837h3m1 0h12m1 0h1M831 838h1m2 0h10m1 0h1M833 839h13M834 840h13M834 841h12M835 842h1m1 0h10M837 843h7m1 0h3M839 844h4m1 0h3m4 0h1M837 845h11m1 0h1M840 846h1m1 0h6m2 0h4m50 0h1M843 847h1m1 0h3m1 0h2M845 849h1m1 0h1m1 0h2m1 0h1m2 0h1m1 0h1m38 0h1M846 850h2m1 0h8m5 0h1m1 0h1m28 0h1m1 0h3m1 0h2m1 0h4m1 0h1M728 851h1m4 0h1m1 0h1m1 0h2m1 0h1m19 0h6m1 0h1m76 0h1m1 0h1m3 0h13m1 0h1m2 0h2m2 0h1m20 0h19m1 0h1M724 852h1m3 0h2m1 0h5m1 0h6m17 0h2m1 0h4m3 0h1m75 0h1m2 0h15m1 0h5m1 0h1m1 0h1m14 0h3m1 0h22M719 853h3m2 0h1m2 0h8m1 0h6m2 0h1m10 0h1m3 0h6m1 0h2m3 0h1m74 0h1m3 0h15m2 0h2m2 0h3m15 0h24m1 0h1M720 854h23m2 0h1m13 0h8m83 0h21m1 0h1m16 0h25M719 855h3m1 0h2m1 0h17m1 0h1m14 0h9m1 0h2m78 0h22m1 0h2m12 0h2m1 0h24M716 856h1m2 0h25m1 0h2m7 0h3m2 0h15m76 0h24m3 0h1m8 0h31m16 0h2M717 857h31m1 0h1m2 0h1m1 0h20m1 0h2m72 0h1m1 0h24m4 0h2m1 0h32m2 0h2m10 0h1m2 0h1m1 0h2m1 0h3m2 0h1M716 858h1m1 0h29m1 0h1m3 0h1m1 0h18m1 0h1m77 0h23m3 0h1m3 0h1m1 0h1m1 0h30m10 0h2m5 0h2m1 0h4m2 0h1m3 0h1M715 859h3m1 0h28m2 0h4m1 0h20m77 0h27m1 0h2m1 0h33m10 0h2m1 0h2m1 0h1m2 0h1m1 0h2m3 0h1m6 0h1M713 860h2m1 0h58m2 0h1m74 0h67m3 0h1m1 0h1m1 0h18m1 0h2m2 0h1M713 861h62m76 0h70m1 0h29m1 0h2M714 862h60m76 0h71m1 0h29m3 0h1M716 863h58m1 0h1m76 0h98m2 0h2M714 864h1m3 0h58m74 0h2m1 0h101M718 865h56m78 0h1m1 0h99m2 0h1M719 866h1m1 0h53m1 0h2m75 0h1m1 0h102M714 867h1m1 0h2m1 0h55m1 0h2m74 0h106m1 0h1M719 868h3m1 0h51m77 0h103m1 0h1M721 869h1m3 0h47m80 0h1m1 0h102M730 870h39m1 0h2m82 0h102M728 871h2m1 0h1m1 0h37m1 0h1m79 0h3m2 0h101M727 872h2m1 0h43m80 0h104m1 0h1M731 873h41m80 0h2m1 0h42m5 0h55M733 874h1m2 0h32m89 0h1m1 0h37m7 0h36m6 0h12m1 0h1M733 875h1m2 0h33m90 0h35m10 0h34m9 0h10m1 0h1M735 876h33m1 0h3m87 0h35m10 0h33m10 0h12m1 0h1M735 877h35m86 0h1m1 0h36m10 0h32m11 0h12M735 878h33m1 0h1m1 0h1m88 0h34m10 0h32m12 0h11m1 0h1M737 879h31m89 0h1m1 0h35m10 0h32m11 0h10m1 0h1M735 880h34m88 0h1m1 0h36m8 0h34m10 0h12m1 0h1M734 881h1m1 0h33m89 0h1m1 0h35m8 0h35m8 0h11M734 882h38m85 0h1m1 0h39m4 0h37m6 0h14m1 0h1M735 883h37m85 0h102m2 0h1M732 884h2m1 0h36m86 0h1m1 0h99M733 885h40m84 0h100m2 0h2M731 886h41m83 0h102M732 887h1m2 0h35m1 0h2m82 0h100M732 888h40m80 0h1m3 0h101M731 889h43m1 0h1m76 0h104M731 890h43m78 0h104M731 891h43m79 0h102M730 892h17m1 0h2m1 0h1m1 0h21m77 0h105M730 893h18m1 0h1m2 0h21m1 0h1m75 0h68m6 0h33M732 894h11m2 0h2m4 0h22m78 0h24m5 0h37m8 0h30M728 895h1m1 0h13m1 0h2m3 0h1m3 0h22m75 0h25m7 0h36m6 0h32m35 0h2M727 896h18m1 0h1m1 0h2m3 0h23m73 0h25m8 0h35m8 0h31m30 0h1m4 0h2m1 0h1m1 0h1M729 897h14m10 0h22m1 0h1m73 0h23m9 0h34m9 0h30m31 0h1m4 0h2m1 0h1m2 0h1M731 898h1m1 0h3m2 0h2m14 0h2m1 0h17m77 0h22m10 0h33m10 0h30m32 0h1m3 0h1m1 0h2M731 899h4m1 0h2m1 0h2m1 0h1m11 0h20m1 0h1m74 0h23m10 0h33m10 0h30m31 0h8m1 0h3M731 900h3m3 0h4m1 0h1m11 0h1m1 0h1m1 0h17m75 0h23m10 0h34m9 0h31m29 0h1m1 0h11m2 0h1m1 0h1M758 901h11m1 0h3m78 0h22m10 0h34m9 0h29m31 0h1m2 0h9M758 902h10m2 0h2m78 0h24m8 0h35m8 0h32m29 0h14m3 0h1M754 903h1m3 0h16m76 0h25m5 0h38m6 0h32m2 0h1m23 0h24M758 904h10m1 0h4m73 0h1m3 0h71m1 0h37m23 0h2m1 0h20m3 0h1M758 905h3m2 0h5m2 0h2m78 0h106m2 0h1m1 0h2m17 0h1m2 0h23m3 0h2M759 906h3m1 0h5m3 0h1m79 0h108m1 0h2m16 0h33M760 907h1m2 0h3m84 0h113m15 0h2m2 0h27m1 0h1m1 0h1M851 908h110m17 0h32M851 909h108m2 0h1m17 0h31M851 910h111m15 0h37M852 911h112m2 0h1m10 0h34m1 0h2M851 912h113m13 0h34m1 0h2m1 0h1M852 913h1m1 0h1m1 0h108m2 0h1m10 0h37M853 914h1m2 0h1m1 0h106m13 0h36M856 915h1m3 0h104m2 0h1m10 0h37M856 916h2m2 0h37m3 0h64m2 0h1m7 0h1m1 0h38M857 917h1m2 0h34m1 0h1m7 0h64m5 0h1m4 0h37M861 918h32m11 0h61m12 0h20m5 0h12m2 0h1M861 919h32m11 0h35m1 0h29m3 0h1m3 0h21m5 0h13m1 0h2M861 920h32m11 0h35m3 0h26m2 0h26m7 0h14m4 0h1M860 921h1m2 0h30m12 0h32m6 0h22m1 0h1m3 0h3m2 0h20m9 0h13m6 0h1m1 0h1M861 922h32m11 0h33m6 0h21m2 0h3m1 0h1m1 0h23m8 0h11m1 0h2m4 0h2M860 923h33m11 0h34m3 0h23m7 0h24m9 0h10m1 0h3m3 0h2m2 0h1m3 0h1M861 924h33m1 0h1m7 0h36m1 0h24m7 0h1m1 0h22m8 0h14m5 0h2m2 0h4m2 0h1M858 925h40m4 0h67m1 0h26m6 0h29m1 0h2M858 926h106m1 0h2m1 0h2m1 0h28m3 0h32m2 0h1M860 927h107m1 0h1m1 0h64M857 928h1m1 0h105m10 0h59M859 929h106m3 0h1m1 0h3m1 0h60M860 930h106m1 0h2m2 0h2m1 0h61M857 931h1m1 0h105m6 0h4m1 0h60m1 0h1M858 932h1m1 0h104m8 0h2m1 0h59m1 0h3M856 933h3m1 0h104m6 0h2m1 0h3m1 0h58m1 0h2M856 934h2m1 0h105m8 0h1m3 0h60M858 935h1m1 0h100m17 0h40m4 0h16M857 936h20m3 0h82m1 0h1m11 0h1m1 0h39m6 0h15m4 0h1M857 937h19m5 0h40m2 0h41m9 0h1m3 0h38m7 0h16m1 0h4M857 938h2m1 0h15m7 0h39m3 0h39m14 0h37m9 0h1m1 0h17M860 939h14m9 0h36m6 0h34m18 0h36m12 0h14m1 0h1m1 0h2M860 940h14m9 0h37m4 0h37m1 0h1m16 0h34m13 0h18M857 941h17m9 0h37m3 0h40m15 0h36m11 0h21M860 942h14m9 0h38m2 0h37m1 0h1m15 0h36m13 0h19M861 943h13m9 0h77m1 0h1m17 0h34m13 0h18m1 0h1M860 944h14m9 0h76m1 0h1m17 0h3m1 0h31m13 0h18M858 945h1m1 0h15m7 0h81m15 0h35m13 0h19M861 946h14m6 0h83m14 0h2m1 0h32m13 0h20M861 947h17m1 0h83m16 0h36m12 0h19M859 948h105m14 0h36m12 0h21M431 949h2m428 0h102m14 0h38m10 0h20M861 950h2m1 0h98m1 0h1m15 0h37m8 0h21m2 0h1M432 951h1m431 0h99m16 0h38m7 0h22M427 952h1m2 0h6m425 0h1m1 0h102m12 0h41m2 0h26M425 953h1m1 0h2m2 0h3m1 0h2m424 0h1m1 0h2m1 0h99m1 0h1m10 0h70M425 954h1m1 0h2m1 0h4m2 0h1m425 0h1m3 0h2m1 0h96m12 0h70M427 955h8m1 0h1m428 0h22m1 0h3m1 0h2m1 0h2m1 0h3m1 0h63m2 0h2m8 0h72M430 956h1m1 0h1m434 0h1m3 0h16m1 0h1m4 0h1m6 0h1m1 0h1m1 0h1m1 0h58m1 0h1m11 0h70M429 957h1m1 0h1m444 0h3m1 0h1m1 0h3m19 0h1m1 0h59m1 0h2m4 0h1m4 0h70M427 958h1m3 0h2m2 0h1m431 0h1m4 0h1m1 0h7m1 0h2m19 0h66m1 0h3m2 0h72M428 959h1m3 0h1m452 0h1m21 0h2m1 0h29m1 0h4m1 0h24m1 0h1m1 0h1m4 0h68m1 0h1M431 960h1m444 0h1m1 0h1m1 0h1m1 0h1m2 0h1m19 0h4m1 0h25m1 0h3m1 0h2m2 0h25m1 0h3m3 0h58m1 0h13M883 961h1m21 0h3m1 0h26m1 0h3m2 0h3m1 0h28m4 0h58m1 0h2m1 0h6m1 0h2M907 962h1m3 0h24m2 0h2m1 0h2m3 0h2m1 0h2m1 0h19m1 0h1m5 0h56m3 0h1m1 0h10M911 963h24m1 0h2m8 0h1m1 0h1m1 0h1m1 0h20m1 0h1m3 0h37m1 0h16m9 0h2M917 964h5m3 0h1m1 0h1m1 0h2m21 0h4m1 0h12m9 0h3m1 0h28m2 0h1m2 0h1m4 0h1m1 0h2m1 0h3M917 965h1m1 0h2m4 0h3m2 0h1m25 0h1m1 0h13m7 0h9m1 0h1m3 0h1m3 0h6m1 0h4m1 0h1m3 0h1m8 0h3m1 0h1M911 966h1m1 0h1m1 0h3m1 0h4m2 0h3m25 0h1m3 0h17m3 0h10m1 0h12m1 0h4m1 0h5m2 0h1m2 0h2m2 0h3m3 0h1M919 967h2m1 0h1m2 0h1m4 0h1m24 0h1m1 0h18m2 0h7m2 0h1m2 0h1m1 0h2m1 0h1m1 0h4m1 0h4m3 0h2m11 0h3m1 0h2m2 0h1M919 968h1m2 0h1m2 0h3m1 0h2m24 0h1m2 0h18m1 0h10m1 0h1m1 0h5m1 0h3m2 0h4m11 0h1m4 0h3m1 0h1M926 969h1m34 0h3m1 0h9m1 0h11m1 0h1m8 0h1m6 0h1m17 0h3M920 970h3m2 0h1m1 0h1m1 0h1m1 0h1m1 0h1m24 0h4m1 0h1m1 0h25m1 0h2m5 0h1m4 0h1m17 0h3m2 0h1M920 971h2m1 0h5m1 0h3m1 0h1m24 0h1m1 0h4m2 0h23m1 0h4m2 0h1m16 0h1m1 0h3m2 0h4m1 0h2m2 0h1M917 972h1m1 0h5m1 0h3m1 0h4m1 0h1m22 0h5m4 0h27m1 0h1m1 0h1m15 0h2m1 0h3m1 0h5m1 0h3m1 0h1M920 973h1m1 0h6m3 0h3m3 0h1m25 0h1m2 0h27m1 0h1m2 0h1m15 0h1m1 0h2m4 0h4m1 0h1m1 0h1M916 974h1m3 0h1m1 0h9m2 0h1m33 0h2m1 0h24m19 0h1m1 0h10m1 0h1M920 975h14m2 0h1m21 0h1m9 0h27m21 0h11M916 976h1m2 0h14m1 0h1m23 0h1m1 0h1m8 0h25m1 0h1m19 0h13M93 977h6m1 0h1m809 0h30m2 0h1m6 0h1m2 0h12m2 0h32m14 0h19m1 0h2M93 978h8m1 0h2m1 0h1m800 0h3m1 0h30m1 0h2m1 0h6m2 0h47m4 0h1m4 0h1m1 0h24m2 0h1M90 979h2m1 0h14m798 0h95m1 0h3m1 0h1m1 0h27m1 0h3m1 0h6M90 980h2m1 0h13m1 0h1m798 0h1m1 0h38m1 0h52m3 0h2m6 0h25m1 0h2m2 0h1m2 0h2m1 0h1M92 981h14m800 0h1m1 0h36m1 0h19m1 0h35m1 0h1m2 0h2m2 0h31m1 0h4M89 982h19m795 0h97m1 0h45m1 0h1M89 983h19m795 0h146m1 0h2M91 984h1m2 0h10m799 0h1m1 0h62m1 0h81m1 0h2M91 985h16m796 0h64m1 0h81m1 0h1M89 986h1m1 0h1m1 0h14m789 0h2m2 0h69m1 0h79m1 0h2M94 987h1m2 0h6m1 0h2m793 0h1m2 0h63m4 0h80m1 0h1M93 988h1m2 0h7m3 0h1m791 0h3m1 0h65m1 0h1m1 0h79M98 989h2m1 0h2m1 0h1m794 0h66m1 0h2m2 0h1m1 0h77m1 0h1M96 990h4m2 0h1m796 0h66m1 0h1m1 0h1m2 0h80M96 991h3m796 0h3m1 0h66m1 0h3m1 0h79m1 0h3M96 992h1m798 0h74m1 0h79m1 0h3M899 993h66m1 0h1m1 0h1m2 0h1m2 0h44m5 0h26m1 0h1M896 994h69m1 0h3m3 0h2m1 0h1m1 0h40m8 0h27M898 995h1m1 0h21m4 0h40m1 0h1m9 0h40m10 0h23M896 996h1m2 0h21m6 0h44m1 0h2m4 0h39m10 0h23m1 0h3M312 997h2m583 0h1m1 0h19m8 0h43m4 0h1m3 0h39m11 0h27M312 998h2m1 0h1m583 0h2m1 0h16m8 0h43m1 0h1m7 0h37m12 0h22m1 0h2m1 0h1M312 999h2m588 0h16m9 0h41m11 0h1m1 0h34m12 0h22m1 0h1M903 1000h15m9 0h39m17 0h32m12 0h22m1 0h1M310 1001h5m2 0h1m582 0h1m2 0h15m9 0h42m10 0h1m1 0h35m10 0h26m26 0h1m3 0h3m1 0h1M11 1002h1m3 0h1m2 0h1m2 0h1m288 0h6m2 0h2m583 0h17m5 0h40m1 0h3m10 0h2m1 0h35m8 0h27m22 0h2m1 0h3m2 0h3M10 1003h3m2 0h1m1 0h2m2 0h1m286 0h10m1 0h1m580 0h1m1 0h19m1 0h1m1 0h47m7 0h3m1 0h36m3 0h30m1 0h2m21 0h12M11 1004h9m1 0h1m286 0h8m1 0h2m584 0h66m12 0h68m1 0h2m1 0h1m18 0h1m3 0h9m2 0h1M11 1005h1m1 0h7m1 0h1m287 0h8m1 0h1m584 0h1m2 0h60m13 0h1m1 0h68m1 0h2m23 0h11m1 0h1M10 1006h1m1 0h1m1 0h8m289 0h4m2 0h1m588 0h61m15 0h67m27 0h9M11 1007h9m1 0h1m287 0h7m2 0h2m586 0h59m1 0h1m12 0h1m2 0h69m20 0h2m1 0h13M9 1008h15m285 0h7m2 0h2m584 0h64m10 0h2m1 0h71m19 0h17m1 0h1M10 1009h12m290 0h4m589 0h2m1 0h57m1 0h2m11 0h1m1 0h68m1 0h2m20 0h1m2 0h13M9 1010h10m3 0h1m288 0h4m3 0h1m587 0h2m2 0h54m2 0h1m11 0h75m19 0h16M11 1011h2m2 0h5m293 0h1m596 0h1m2 0h51m14 0h71m1 0h1m22 0h12m1 0h2M10 1012h3m2 0h2m1 0h1m2 0h1m291 0h1m593 0h1m2 0h56m6 0h1m4 0h73m1 0h2m18 0h18M11 1013h2m2 0h1m1 0h2m1 0h2m888 0h4m1 0h24m2 0h1m5 0h17m2 0h1m4 0h4m2 0h72m1 0h2m19 0h17M919 1014h3m2 0h14m11 0h14m14 0h72m1 0h1m22 0h14M15 1015h1m2 0h1m893 0h1m7 0h17m13 0h15m6 0h4m1 0h22m3 0h50m20 0h14m1 0h1M918 1016h18m15 0h13m2 0h1m1 0h1m2 0h24m7 0h47m1 0h3m16 0h20M919 1017h1m3 0h1m1 0h10m17 0h12m2 0h1m4 0h2m1 0h20m9 0h45m2 0h1m20 0h15m2 0h1M925 1018h10m18 0h11m10 0h19m11 0h44m25 0h1m1 0h11M925 1019h10m18 0h11m8 0h1m1 0h19m11 0h33m2 0h10m23 0h13m2 0h1M925 1020h10m17 0h13m1 0h1m4 0h2m1 0h19m11 0h33m3 0h9m1 0h1m20 0h2m1 0h14M920 1021h1m1 0h2m1 0h11m16 0h12m1 0h28m10 0h46m1 0h1m20 0h19M922 1022h16m14 0h41m10 0h48m20 0h19M921 1023h1m2 0h15m13 0h14m1 0h27m9 0h45m24 0h16M925 1024h13m12 0h14m9 0h21m9 0h45m25 0h1m1 0h10m1 0h1M921 1025h1m1 0h1m1 0h15m1 0h1m7 0h17m1 0h2m2 0h2m2 0h20m7 0h46m23 0h17M924 1026h41m1 0h2m2 0h27m4 0h48m1 0h1m21 0h16M924 1027h41m7 0h1m3 0h73m23 0h15M924 1028h40m9 0h1m3 0h72m23 0h1m1 0h11m1 0h1M923 1029h41m3 0h1m3 0h2m4 0h72m1 0h2m20 0h18M925 1030h39m13 0h72m24 0h1m1 0h12M926 1031h37m15 0h71m26 0h1m1 0h9M924 1032h39m14 0h72m1 0h1m22 0h1m1 0h13M925 1033h3m1 0h33m15 0h75m23 0h10m1 0h2M930 1034h2m1 0h27m1 0h1m18 0h69m29 0h7M932 1035h1m1 0h27m18 0h1m1 0h68m2 0h1m25 0h7m1 0h1M926 1036h1m4 0h3m1 0h28m15 0h75m19 0h1m1 0h13M932 1037h2m3 0h25m17 0h40m2 0h30m23 0h1m1 0h9m1 0h1M938 1038h23m1 0h1m18 0h38m2 0h30m24 0h10M937 1039h2m1 0h23m16 0h1m2 0h38m1 0h31m1 0h1m19 0h12m1 0h2M937 1040h27m15 0h75m17 0h17M936 1041h3m1 0h24m15 0h1m1 0h73m17 0h17M937 1042h1m1 0h24m16 0h1m1 0h73m18 0h16M939 1043h24m16 0h75m17 0h17m1 0h1M941 1044h2m2 0h18m16 0h2m1 0h72m18 0h16M941 1045h1m1 0h1m2 0h1m1 0h1m2 0h8m1 0h1m1 0h1m19 0h73m1 0h1m16 0h12m1 0h3M948 1046h1m4 0h10m17 0h1m2 0h72m16 0h3m1 0h12M950 1047h1m4 0h1m4 0h3m19 0h75m16 0h2m1 0h11M955 1048h1m27 0h34m2 0h4m3 0h29m1 0h1m18 0h11M990 1049h1m3 0h1m2 0h1m3 0h3m3 0h2m1 0h1m1 0h1m2 0h1m6 0h1m10 0h1m2 0h20m1 0h1m19 0h6M983 1050h5m1 0h6m1 0h10m1 0h5m1 0h5m2 0h3m3 0h1m2 0h1m2 0h2m2 0h21m2 0h2m2 0h1m12 0h9m1 0h1m1 0h1M983 1051h2m1 0h1m4 0h2m1 0h1m1 0h3m2 0h2m1 0h2m2 0h3m1 0h2m2 0h1m12 0h1m3 0h1m1 0h2m2 0h19m1 0h2m1 0h1m12 0h5m1 0h4M991 1052h2m3 0h2m5 0h1m6 0h1m1 0h1m3 0h1m19 0h1m3 0h21m17 0h1m1 0h2m1 0h2M997 1053h2m4 0h2m34 0h27m12 0h1m2 0h1m1 0h2M1045 1054h18m1 0h2m17 0h2M1047 1055h1m1 0h13m1 0h2M1045 1056h1m1 0h2m1 0h16M1049 1057h1m1 0h15m1 0h1M1052 1058h13M1050 1059h19M1050 1060h20m1 0h3M1053 1061h18m1 0h1M1051 1062h1m1 0h2m1 0h15M1050 1063h1m2 0h1m1 0h19m2 0h1M1053 1064h24m1 0h1M1053 1065h2m1 0h2m1 0h18m1 0h1M1059 1066h19M1057 1067h1m1 0h21M1059 1068h20M1016 1069h1m43 0h20m1 0h1M1016 1070h1m44 0h18m1 0h2m1 0h1M1007 1071h2m3 0h2m1 0h3m2 0h3m2 0h1m14 0h2m1 0h1m2 0h1m13 0h1m2 0h22M34 1072h1m1 0h1m967 0h1m2 0h4m1 0h2m1 0h3m1 0h5m1 0h5m6 0h1m3 0h5m1 0h1m13 0h2m1 0h22M29 1073h1m3 0h1m1 0h3m970 0h1m1 0h10m1 0h7m1 0h2m1 0h1m6 0h9m12 0h1m2 0h22M28 1074h2m3 0h4m1 0h1m963 0h1m4 0h2m1 0h8m1 0h5m1 0h5m6 0h2m1 0h7m1 0h1m16 0h21M27 1075h1m1 0h1m1 0h7m964 0h2m1 0h1m1 0h27m2 0h1m1 0h9m1 0h1m2 0h1m12 0h23M27 1076h11m965 0h28m1 0h2m2 0h13m1 0h2m11 0h22m1 0h1M28 1077h13m961 0h32m1 0h17m14 0h19m1 0h1m1 0h1M24 1078h1m2 0h15m959 0h53m10 0h2m1 0h20m1 0h2M28 1079h11m963 0h50m15 0h1m1 0h1m1 0h14M28 1080h12m963 0h48m1 0h1m17 0h15m1 0h1M24 1081h3m1 0h15m960 0h51m15 0h19m1 0h2M24 1082h1m2 0h13m961 0h51m19 0h20M27 1083h12m1 0h1m1 0h1m958 0h48m1 0h5m15 0h21M27 1084h12m1 0h1m960 0h34m1 0h13m1 0h5m16 0h20m1 0h1M29 1085h1m3 0h4m966 0h1m1 0h1m1 0h4m1 0h3m1 0h3m1 0h4m1 0h3m1 0h4m2 0h2m3 0h5m1 0h3m26 0h1m2 0h1m2 0h7m1 0h2m1 0h1M28 1086h2m1 0h3m1 0h2m964 0h1m1 0h1m3 0h10m3 0h11m1 0h2m2 0h2m1 0h9m2 0h1m24 0h4m1 0h14M32 1087h1m3 0h3m965 0h2m2 0h6m2 0h1m2 0h5m1 0h2m2 0h1m2 0h2m5 0h7m35 0h13M1012 1088h1m3 0h2m3 0h2m6 0h1m15 0h1m4 0h1m26 0h2m3 0h3m1 0h9M1008 1089h1m12 0h2m6 0h1m13 0h1m34 0h1m2 0h17M1081 1090h19M1086 1091h12M1084 1092h11m1 0h4M1086 1093h14M1088 1094h12M1089 1095h3m1 0h7M1089 1096h11M1089 1097h11M1090 1098h1m1 0h8M1090 1099h1m1 0h8"/>
<path stroke="url(#p1)" d="M0 0h6M0 1h7M0 2h8M0 3h9M0 4h57m18 0h15M0 5h57m18 0h18M1 6h56m18 0h19M2 7h55m18 0h20M3 8h54m18 0h21M4 9h53m18 0h21M4 10h54m16 0h23M4 11h55m14 0h25M4 12h56m12 0h27M4 13h57m10 0h29m907 0h2M4 14h59m6 0h32m905 0h4M4 15h98m904 0h4M4 16h100m902 0h4M4 17h102m900 0h4M4 18h101m8 0h15m879 0h2M4 19h83m6 0h11m10 0h15M4 20h37m3 0h42m8 0h9m12 0h15M4 21h36m5 0h40m10 0h7m14 0h14M4 22h35m7 0h38m12 0h5m16 0h13M4 23h34m9 0h16m1 0h19m14 0h4m16 0h13M4 24h34m9 0h16m1 0h18m16 0h3m16 0h13M4 25h34m9 0h35m16 0h3m16 0h13M4 26h34m9 0h35m16 0h3m16 0h13M4 27h34m9 0h35m16 0h3m16 0h13M4 28h35m7 0h36m16 0h3m16 0h13M4 29h36m5 0h38m14 0h5m14 0h14M4 30h37m3 0h40m12 0h7m12 0h16m948 0h3M4 31h81m10 0h9m10 0h17m947 0h5M4 32h82m8 0h11m8 0h18m947 0h5M4 33h83m6 0h11m9 0h18m947 0h5M4 34h99m11 0h17m947 0h5M4 35h58m6 0h34m13 0h16m947 0h5M4 36h57m8 0h32m15 0h15m947 0h5M4 37h56m10 0h30m17 0h14m948 0h3M4 38h19m5 0h31m12 0h28m19 0h13M4 39h18m7 0h29m14 0h27m19 0h13M4 40h17m9 0h27m16 0h25m21 0h12M4 41h16m11 0h26m16 0h25m21 0h12M4 42h16m11 0h26m16 0h25m21 0h13M4 43h16m11 0h26m16 0h25m21 0h13M4 44h17m9 0h27m16 0h25m21 0h13M4 45h18m7 0h28m16 0h25m21 0h14M4 46h19m5 0h30m14 0h26m21 0h14M4 47h55m12 0h27m21 0h14M4 48h56m10 0h29m19 0h15M4 49h57m8 0h30m19 0h15M4 50h58m6 0h32m17 0h16M4 51h97m15 0h17M4 52h98m13 0h17M4 53h99m11 0h18M4 54h100m9 0h19M4 55h101m7 0h19M4 56h127M10 57h30m6 0h85M11 58h28m8 0h38m6 0h17m5 0h18M12 59h26m10 0h35m10 0h13m9 0h16M13 60h24m12 0h33m12 0h11m11 0h14M14 61h22m14 0h31m14 0h9m13 0h12M14 62h21m16 0h29m16 0h8m13 0h11M15 63h8m2 0h10m16 0h28m18 0h6m15 0h9M15 64h20m16 0h28m18 0h6m15 0h9M15 65h20m16 0h28m18 0h6m15 0h9M15 66h20m16 0h28m18 0h6m15 0h9M15 67h20m16 0h28m18 0h7m13 0h10M15 68h21m14 0h29m18 0h7m13 0h10M14 69h23m12 0h31m16 0h9m11 0h12m40 0h6M14 70h24m10 0h33m14 0h11m9 0h14m23 0h24M13 71h26m8 0h35m12 0h14m5 0h17m21 0h26M12 72h28m6 0h37m10 0h38m19 0h28M11 73h74m6 0h41m17 0h30M10 74h123m15 0h31M4 75h132m9 0h35M4 76h176M4 77h177M4 78h177M4 79h59m6 0h39m8 0h65M4 80h58m8 0h37m10 0h48m5 0h11m567 0h6M4 81h57m10 0h35m12 0h45m9 0h9m566 0h8M4 82h20m5 0h31m12 0h33m14 0h43m11 0h8m565 0h10M4 83h19m7 0h29m14 0h31m16 0h41m13 0h7m565 0h10M4 84h18m9 0h28m14 0h30m18 0h39m15 0h7m564 0h10M4 85h17m11 0h26m16 0h28m20 0h38m15 0h7m565 0h8M4 86h16m13 0h25m16 0h28m20 0h37m17 0h6m566 0h6M4 87h15m15 0h24m16 0h28m20 0h37m17 0h6M4 88h15m15 0h24m16 0h28m20 0h37m17 0h6M4 89h15m15 0h24m16 0h28m20 0h37m17 0h6M5 90h14m15 0h24m16 0h28m20 0h37m17 0h6M5 91h14m15 0h25m14 0h29m20 0h37m17 0h7M5 92h14m15 0h25m14 0h30m18 0h38m17 0h7M6 93h14m13 0h27m12 0h32m16 0h40m15 0h8M7 94h14m11 0h29m10 0h34m14 0h41m15 0h9M8 95h14m9 0h31m8 0h36m12 0h43m13 0h10m441 0h2m354 0h5M10 96h13m7 0h33m6 0h38m10 0h45m11 0h12m440 0h2m353 0h7M11 97h13m5 0h79m8 0h47m9 0h13m795 0h7M12 98h28m8 0h117m5 0h16m794 0h7M13 99h25m12 0h136m794 0h7M14 100h23m14 0h135m794 0h7M15 101h7m7 0h7m16 0h85m8 0h40m795 0h7M16 102h5m9 0h5m18 0h32m7 0h43m12 0h38m796 0h5M16 103h4m11 0h3m20 0h9m4 0h17m9 0h40m16 0h15m5 0h15M17 104h2m13 0h1m22 0h6m8 0h14m11 0h38m18 0h13m7 0h14M17 105h1m38 0h4m10 0h12m13 0h36m20 0h11m9 0h13M56 106h3m12 0h10m15 0h34m22 0h9m11 0h11M56 107h3m12 0h9m17 0h33m22 0h8m13 0h10M56 108h2m14 0h7m19 0h31m24 0h7m13 0h9M56 109h2m14 0h7m19 0h31m24 0h7m13 0h9M56 110h2m14 0h7m19 0h30m26 0h6m13 0h9M56 111h2m14 0h7m19 0h30m26 0h6m13 0h8M55 112h3m14 0h7m19 0h30m26 0h6m13 0h8M18 113h1m13 0h2m20 0h5m12 0h8m19 0h30m26 0h7m11 0h9M18 114h2m11 0h4m18 0h6m12 0h8m19 0h30m26 0h8m9 0h10M18 115h3m9 0h6m16 0h8m10 0h9m19 0h30m26 0h9m7 0h11M18 116h4m7 0h8m14 0h10m8 0h11m17 0h31m26 0h10m5 0h12M18 117h20m12 0h13m4 0h14m15 0h33m24 0h28M18 118h22m8 0h34m13 0h34m24 0h28M18 119h65m11 0h36m22 0h29M18 120h66m9 0h37m22 0h30M18 121h67m7 0h39m20 0h31M18 122h114m18 0h33M18 123h115m16 0h35M18 124h117m12 0h37M18 125h119m8 0h40M18 126h168m16 0h4M18 127h45m6 0h119m13 0h5M19 128h43m8 0h40m7 0h70m13 0h6M20 129h41m10 0h37m11 0h46m5 0h15m14 0h8M30 130h30m12 0h34m15 0h42m9 0h12m13 0h10M42 131h13m18 0h32m17 0h40m11 0h10m15 0h9M45 132h7m22 0h30m19 0h38m13 0h8m17 0h9M75 133h28m21 0h36m15 0h6m19 0h8M75 134h28m21 0h36m15 0h6m19 0h8M75 135h27m23 0h34m17 0h4m21 0h7M76 136h26m23 0h34m17 0h4m21 0h7M76 137h25m25 0h32m19 0h3m21 0h8M76 138h25m25 0h32m19 0h3m21 0h8M76 139h25m25 0h32m19 0h3m21 0h8M76 140h25m25 0h32m19 0h3m21 0h8M76 141h25m25 0h32m19 0h3m21 0h9M76 142h25m25 0h32m19 0h4m19 0h10M76 143h25m25 0h32m19 0h4m19 0h11M76 144h25m25 0h32m19 0h5m17 0h12M75 145h27m23 0h33m19 0h6m15 0h14M75 146h27m23 0h34m17 0h8m13 0h16m27 0h3M75 147h28m21 0h35m17 0h9m11 0h18m25 0h5M74 148h29m21 0h36m15 0h12m7 0h21m23 0h6M73 149h31m19 0h37m15 0h41m21 0h7M72 150h33m17 0h39m13 0h43m19 0h8M71 151h35m15 0h41m11 0h45m17 0h9M70 152h38m11 0h44m9 0h48m14 0h10M70 153h40m7 0h48m5 0h52m10 0h12M70 154h174M70 155h173M70 156h119m9 0h45M70 157h117m13 0h43M70 158h67m9 0h40m15 0h41M70 159h16m7 0h42m13 0h37m17 0h40M70 160h14m11 0h12m6 0h20m17 0h34m19 0h38M70 161h13m13 0h10m8 0h18m19 0h32m21 0h37M70 162h12m15 0h8m10 0h16m21 0h30m23 0h35M70 163h11m17 0h6m12 0h14m23 0h28m25 0h34M70 164h11m17 0h5m14 0h13m23 0h28m25 0h33M70 165h10m19 0h4m14 0h12m25 0h26m27 0h32M70 166h10m19 0h4m14 0h12m25 0h26m27 0h32M70 167h10m19 0h4m14 0h12m25 0h26m27 0h32M69 168h11m19 0h4m14 0h12m25 0h26m27 0h32M69 169h11m19 0h5m12 0h13m25 0h26m27 0h32M69 170h12m17 0h7m10 0h15m23 0h27m27 0h32M69 171h12m17 0h8m8 0h16m23 0h27m27 0h33M69 172h13m15 0h10m6 0h18m21 0h28m27 0h34M69 173h14m13 0h36m19 0h29m27 0h35M70 174h14m11 0h38m17 0h31m25 0h37M70 175h16m7 0h42m13 0h33m25 0h38m41 0h2M71 176h66m9 0h36m23 0h41m36 0h8M72 177h111m21 0h43m34 0h10m19 0h2M73 178h111m19 0h44m33 0h12m18 0h2M75 179h110m17 0h46m32 0h12M77 180h58m7 0h23m9 0h12m15 0h20m10 0h17m33 0h10M84 181h27m9 0h13m11 0h19m13 0h11m13 0h18m16 0h14m34 0h8M91 182h17m14 0h10m13 0h17m15 0h12m9 0h19m18 0h13m37 0h2M94 183h12m17 0h8m15 0h15m17 0h37m22 0h10M96 184h7m22 0h5m17 0h13m19 0h35m24 0h9M98 185h3m25 0h3m19 0h11m21 0h33m26 0h6M127 186h2m19 0h10m23 0h31m28 0h3M127 187h1m21 0h8m25 0h30m28 0h1M149 188h8m25 0h29M149 189h7m27 0h27M149 190h7m27 0h26M149 191h7m27 0h25M149 192h7m27 0h24M149 193h7m27 0h24M148 194h8m27 0h23M148 195h8m27 0h23M147 196h9m27 0h23M130 197h1m15 0h10m27 0h23M130 198h2m13 0h12m25 0h25M129 199h4m11 0h13m25 0h26m69 0h14m20 0h15M128 200h7m7 0h16m23 0h28m66 0h17m18 0h18M127 201h32m21 0h30m64 0h19m16 0h20M126 202h34m19 0h32m30 0h8m25 0h19m16 0h20M126 203h35m17 0h34m28 0h11m22 0h20m16 0h21M126 204h36m15 0h35m28 0h11m22 0h20m16 0h22M126 205h37m13 0h37m26 0h13m20 0h22m14 0h23M129 206h36m9 0h20m4 0h16m24 0h14m20 0h22m14 0h24M132 207h60m7 0h16m22 0h15m20 0h23m12 0h25M137 208h54m9 0h17m18 0h17m20 0h24m10 0h27M141 209h49m11 0h17m16 0h18m21 0h24m8 0h28M143 210h46m13 0h19m10 0h21m21 0h26m4 0h31M145 211h43m15 0h49m21 0h61M146 212h40m19 0h47m22 0h60m361 0h5M147 213h38m21 0h46m23 0h60m359 0h7M148 214h36m23 0h45m23 0h60m359 0h7M149 215h34m25 0h43m25 0h59m359 0h7M150 216h33m25 0h43m26 0h58m359 0h7M151 217h31m27 0h41m28 0h57m359 0h7M152 218h29m29 0h38m31 0h56m359 0h7M152 219h29m29 0h37m34 0h38m8 0h8m360 0h5M153 220h28m29 0h36m36 0h35m12 0h6M153 221h27m31 0h34m38 0h33m14 0h5M154 222h26m31 0h33m40 0h31m16 0h4M154 223h26m31 0h32m42 0h29m18 0h3M154 224h26m31 0h32m43 0h27m20 0h2M154 225h26m31 0h32m44 0h26m20 0h2M154 226h26m31 0h31m45 0h26m20 0h2M154 227h26m31 0h31m45 0h26m20 0h2M154 228h26m31 0h31m45 0h26m20 0h2M154 229h26m31 0h32m44 0h26m20 0h2M154 230h26m31 0h32m44 0h27m18 0h3M154 231h27m29 0h33m44 0h28m16 0h4M153 232h28m29 0h33m43 0h30m14 0h5M153 233h28m29 0h34m41 0h32m12 0h6M152 234h30m27 0h36m39 0h35m8 0h8M151 235h32m25 0h37m38 0h52M150 236h33m25 0h38m36 0h53M149 237h35m23 0h40m33 0h55M148 238h37m21 0h41m32 0h56M147 239h17m7 0h15m19 0h43m30 0h57M146 240h16m10 0h16m15 0h46m29 0h57M146 241h14m13 0h14m15 0h47m28 0h58M146 242h12m16 0h13m15 0h24m3 0h21m27 0h58M147 243h8m20 0h11m16 0h21m10 0h17m27 0h57M176 244h10m16 0h20m12 0h16m26 0h58M176 245h9m17 0h19m15 0h14m26 0h58M177 246h8m17 0h18m17 0h14m25 0h57M179 247h4m19 0h17m20 0h12m25 0h22m7 0h28M202 248h16m22 0h11m25 0h19m13 0h24M203 249h15m24 0h10m24 0h18m16 0h22M203 250h14m29 0h6m25 0h15m20 0h19M205 251h10m34 0h4m24 0h13m23 0h18M251 252h3m24 0h10m27 0h15M252 253h3m24 0h6m32 0h12M253 254h1m1 0h1m63 0h9M254 255h3m64 0h5M255 256h3M256 257h3M257 258h3M258 259h3M259 260h3M260 261h3M261 262h1m1 0h1M262 263h3M263 264h3M264 265h3M265 266h3M266 267h3M267 268h3M268 269h3M269 270h3M270 271h3M205 272h4m62 0h3M203 273h9m60 0h4M201 274h12m60 0h6M200 275h15m58 0h12M200 276h16m28 0h6m24 0h15m32 0h9M199 277h18m24 0h11m22 0h23m21 0h14M199 278h19m21 0h14m21 0h25m17 0h17M199 279h20m19 0h16m21 0h25m15 0h18M178 280h2m19 0h20m18 0h17m21 0h26m13 0h20M177 281h4m18 0h21m17 0h17m21 0h27m11 0h22m22 0h14M176 282h6m17 0h22m15 0h18m21 0h27m10 0h24m18 0h20M176 283h6m17 0h23m13 0h19m21 0h29m7 0h26m15 0h24M176 284h6m17 0h24m11 0h20m21 0h30m4 0h29m12 0h27M175 285h8m16 0h25m9 0h20m23 0h63m9 0h31M175 286h8m16 0h26m7 0h21m23 0h104M176 287h6m17 0h54m23 0h107M176 288h6m17 0h53m24 0h120M176 289h6m17 0h53m25 0h110m5 0h7M177 290h4m18 0h52m26 0h108m9 0h7M178 291h2m20 0h51m26 0h86m7 0h14m11 0h9M201 292h49m27 0h84m11 0h11m13 0h12M205 293h45m27 0h83m13 0h9m15 0h11M207 294h42m28 0h82m15 0h8m15 0h12M208 295h40m29 0h81m17 0h6m17 0h11M209 296h39m29 0h43m6 0h31m19 0h5m17 0h11M210 297h38m30 0h40m10 0h29m19 0h5m17 0h11M210 298h37m31 0h39m12 0h27m21 0h4m17 0h11M211 299h36m32 0h37m14 0h26m21 0h4m17 0h11M211 300h36m33 0h36m14 0h26m21 0h4m17 0h12M211 301h36m34 0h34m16 0h25m21 0h4m17 0h12M211 302h36m36 0h32m16 0h25m21 0h4m17 0h12M210 303h37m36 0h32m16 0h25m21 0h5m15 0h13M210 304h37m37 0h31m16 0h25m21 0h5m15 0h13M209 305h39m37 0h31m14 0h26m21 0h6m13 0h14M208 306h40m37 0h31m14 0h27m19 0h8m11 0h15M207 307h41m37 0h32m12 0h28m19 0h9m9 0h16M205 308h44m36 0h33m10 0h30m17 0h12m5 0h18M201 309h48m35 0h36m6 0h33m15 0h37M177 310h2m21 0h50m34 0h76m13 0h38M177 311h2m20 0h51m33 0h78m11 0h13m7 0h19M199 312h52m31 0h81m7 0h13m11 0h17M199 313h25m6 0h22m29 0h101m13 0h17m591 0h3M199 314h24m8 0h21m28 0h101m15 0h16m590 0h5M199 315h23m10 0h21m26 0h22m4 0h75m17 0h15m591 0h3M199 316h22m12 0h20m25 0h21m8 0h36m4 0h32m19 0h15M199 317h21m14 0h20m24 0h20m10 0h33m8 0h29m21 0h14M199 318h21m14 0h20m23 0h20m12 0h31m10 0h27m23 0h13M199 319h20m16 0h20m22 0h20m12 0h30m12 0h26m23 0h14M199 320h20m16 0h20m22 0h19m14 0h29m12 0h26m23 0h14M199 321h20m16 0h21m20 0h20m14 0h28m14 0h25m23 0h15M199 322h20m16 0h21m20 0h20m14 0h28m14 0h25m23 0h15M199 323h20m16 0h21m20 0h20m14 0h28m14 0h25m23 0h16M199 324h20m16 0h21m20 0h20m14 0h28m14 0h25m23 0h16M199 325h20m16 0h21m20 0h20m14 0h28m14 0h25m23 0h17M200 326h19m16 0h20m21 0h21m12 0h30m12 0h27m21 0h19M200 327h20m14 0h21m21 0h21m12 0h30m12 0h28m19 0h21M201 328h19m14 0h20m22 0h22m10 0h32m10 0h30m17 0h23M203 329h18m12 0h20m23 0h23m8 0h34m8 0h32m15 0h25M204 330h18m10 0h20m25 0h24m4 0h38m4 0h35m13 0h29M206 331h17m8 0h19m27 0h106m11 0h32M208 332h16m6 0h18m30 0h107m7 0h35M210 333h36m34 0h148M213 334h30m38 0h147M282 335h146M283 336h81m7 0h57M284 337h78m11 0h15m6 0h34M285 338h36m5 0h35m13 0h13m8 0h33M286 339h33m9 0h32m15 0h11m10 0h31M286 340h32m11 0h30m17 0h9m12 0h30M286 341h31m13 0h29m17 0h8m14 0h28M286 342h31m13 0h28m19 0h6m16 0h26M286 343h30m15 0h27m19 0h6m16 0h25M286 344h30m15 0h27m19 0h5m18 0h23M286 345h30m15 0h27m19 0h5m18 0h23M286 346h30m15 0h27m19 0h5m18 0h22M286 347h31m13 0h28m19 0h4m20 0h21M285 348h32m13 0h29m17 0h5m20 0h21M285 349h33m11 0h30m17 0h5m20 0h22M284 350h35m9 0h32m15 0h6m20 0h22M284 351h37m5 0h35m13 0h6m22 0h22M283 352h79m11 0h7m22 0h23M283 353h81m7 0h9m22 0h24M282 354h98m22 0h25M282 355h98m22 0h25M282 356h16m8 0h74m22 0h26M281 357h15m12 0h72m22 0h26M281 358h14m14 0h33m6 0h32m22 0h26M281 359h13m16 0h30m10 0h30m22 0h25M281 360h12m18 0h28m12 0h29m22 0h25M281 361h11m20 0h26m14 0h28m22 0h24M281 362h11m20 0h25m16 0h27m22 0h24M281 363h10m22 0h24m16 0h27m22 0h23M281 364h10m22 0h23m18 0h26m22 0h23M281 365h10m22 0h23m18 0h27m20 0h24M281 366h10m22 0h23m18 0h27m20 0h24M281 367h10m22 0h23m18 0h27m20 0h24M281 368h10m22 0h23m18 0h27m20 0h24M281 369h10m22 0h23m18 0h28m18 0h25M281 370h11m20 0h24m18 0h28m18 0h25M282 371h10m20 0h25m16 0h29m18 0h26M282 372h11m18 0h26m16 0h30m16 0h28M282 373h12m16 0h28m14 0h31m16 0h29m61 0h7M283 374h12m14 0h30m12 0h33m14 0h31m57 0h13M283 375h13m12 0h32m10 0h35m12 0h34m53 0h18M284 376h14m8 0h36m6 0h38m10 0h35m51 0h22M285 377h33m8 0h61m8 0h37m49 0h24M285 378h32m10 0h61m6 0h39m47 0h26M286 379h30m12 0h106m46 0h27M287 380h28m14 0h22m14 0h69m45 0h28M287 381h8m8 0h11m16 0h17m22 0h66m44 0h29M287 382h6m12 0h8m18 0h13m28 0h63m44 0h29M288 383h4m14 0h6m20 0h10m32 0h62m42 0h31M288 384h3m16 0h5m20 0h9m34 0h61m42 0h31M288 385h2m18 0h3m22 0h7m36 0h60m42 0h31M288 386h2m18 0h3m22 0h6m38 0h35m7 0h17m41 0h20m7 0h5M288 387h1m20 0h2m22 0h5m40 0h32m11 0h15m41 0h19m9 0h4M288 388h1m20 0h2m22 0h4m42 0h30m13 0h14m41 0h18m11 0h3M288 389h1m20 0h2m22 0h4m42 0h29m15 0h13m41 0h17m13 0h2M288 390h1m20 0h2m22 0h4m42 0h28m17 0h12m40 0h17m15 0h1M288 391h1m20 0h2m22 0h4m42 0h28m17 0h11m41 0h17m15 0h1M288 392h2m18 0h4m20 0h5m42 0h27m19 0h10m41 0h17m15 0h1M288 393h2m18 0h4m20 0h5m42 0h27m19 0h10m41 0h17m15 0h1M288 394h3m16 0h6m18 0h7m40 0h28m19 0h9m42 0h17m15 0h1M288 395h4m14 0h8m16 0h9m38 0h29m19 0h9m42 0h17m15 0h1M289 396h4m12 0h10m14 0h11m36 0h30m19 0h9m42 0h18m13 0h3M289 397h6m8 0h13m12 0h13m34 0h32m17 0h10m42 0h19m11 0h4M289 398h28m10 0h15m32 0h33m17 0h10m42 0h20m9 0h6M290 399h28m8 0h18m28 0h36m15 0h11m42 0h21m7 0h8M290 400h57m22 0h40m13 0h12m42 0h37M291 401h60m14 0h45m11 0h14m41 0h37M291 402h121m7 0h16m41 0h36m10 0h5M291 403h144m41 0h35m12 0h5M292 404h142m43 0h33m14 0h5M292 405h142m43 0h33m14 0h5M292 406h100m5 0h36m45 0h31m16 0h4M292 407h98m9 0h33m47 0h30m16 0h4M294 408h95m11 0h32m49 0h28m16 0h4M300 409h88m13 0h30m51 0h17m5 0h5m16 0h4M309 410h78m15 0h28m53 0h15m7 0h4m16 0h4M313 411h74m15 0h27m55 0h13m9 0h3m16 0h4M316 412h70m17 0h26m56 0h11m11 0h2m16 0h4M319 413h67m17 0h26m57 0h10m11 0h2m16 0h4M321 414h65m17 0h26m57 0h10m11 0h3m14 0h4M323 415h63m17 0h26m58 0h9m11 0h3m14 0h4M325 416h61m17 0h26m58 0h9m11 0h4m12 0h5M326 417h60m17 0h26m58 0h9m11 0h5m10 0h6M327 418h59m17 0h27m57 0h9m11 0h6m8 0h7M328 419h59m15 0h28m57 0h10m9 0h8m6 0h8M329 420h58m15 0h29m55 0h12m7 0h23M330 421h58m13 0h31m54 0h13m5 0h24M330 422h16m3 0h40m11 0h32m53 0h43M330 423h14m7 0h39m9 0h34m51 0h44M331 424h12m9 0h40m5 0h36m50 0h46M331 425h11m11 0h10m8 0h63m48 0h47M332 426h9m13 0h7m11 0h62m47 0h49M333 427h6m17 0h3m14 0h62m44 0h52M374 428h62m42 0h53M375 429h36m7 0h18m42 0h53M375 430h35m10 0h17m41 0h53M377 431h32m12 0h16m40 0h54M378 432h29m16 0h15m39 0h53M379 433h27m19 0h13m39 0h52M381 434h13m7 0h3m23 0h12m38 0h52M383 435h8m37 0h11m38 0h17m9 0h24M430 436h9m39 0h14m13 0h20M432 437h8m38 0h11m18 0h15M434 438h7m39 0h2M437 439h4M438 440h4M440 441h3M441 442h3M442 443h3M443 444h3M444 445h3M445 446h3M446 447h2M448 448h2M448 449h3M449 450h2M451 451h2M451 452h3M452 453h3M453 454h3M454 455h3M455 456h3M456 457h3M457 458h3M458 459h3M459 460h3M460 461h3M461 462h3M462 463h3M463 464h3M464 465h2M466 466h2M466 467h3M467 468h3M468 469h3M469 470h1M471 471h2M471 472h3M472 473h3M473 474h4M474 475h5M390 476h14m70 0h11M386 477h20m25 0h5m39 0h14m36 0h3M383 478h24m21 0h10m37 0h15m33 0h7M380 479h28m19 0h11m38 0h14m31 0h9M378 480h30m19 0h12m37 0h15m28 0h12M377 481h32m17 0h13m37 0h16m25 0h15M376 482h34m15 0h13m38 0h17m21 0h18M376 483h35m13 0h14m38 0h18m18 0h21M375 484h37m11 0h15m38 0h19m14 0h24M375 485h38m9 0h16m39 0h19m11 0h27M374 486h41m5 0h18m39 0h20m8 0h29M374 487h64m39 0h58M374 488h64m39 0h58m23 0h3m70 0h3M373 489h64m41 0h57m21 0h5m70 0h3M373 490h64m43 0h55m20 0h7m69 0h3M373 491h64m44 0h54m20 0h7M373 492h63m46 0h53m19 0h9M373 493h17m6 0h40m47 0h32m6 0h14m19 0h9M373 494h16m8 0h38m49 0h30m8 0h13m18 0h10M373 495h15m10 0h37m50 0h28m10 0h12m18 0h11M374 496h13m12 0h13m7 0h16m51 0h27m10 0h12m18 0h11M374 497h12m14 0h11m9 0h15m52 0h26m10 0h12m18 0h12M374 498h12m14 0h10m11 0h14m52 0h26m10 0h12m17 0h13M375 499h11m14 0h9m13 0h13m52 0h26m10 0h12m17 0h14M375 500h11m14 0h9m13 0h13m52 0h26m10 0h12m17 0h15M375 501h11m14 0h9m13 0h13m52 0h27m8 0h13m16 0h16M376 502h10m14 0h9m13 0h13m52 0h28m6 0h13m17 0h17m64 0h2M376 503h10m14 0h9m13 0h14m51 0h47m16 0h18m61 0h7M377 504h10m12 0h11m11 0h15m51 0h47m16 0h19m58 0h10M378 505h10m10 0h13m9 0h17m49 0h47m17 0h19m58 0h10M379 506h10m8 0h15m7 0h18m49 0h47m16 0h20m57 0h12M381 507h9m6 0h42m47 0h48m17 0h19m57 0h12M383 508h55m47 0h47m18 0h19m56 0h12M396 509h10m8 0h24m46 0h48m19 0h18m56 0h12M398 510h6m12 0h22m46 0h47m21 0h16m57 0h12M399 511h4m14 0h21m46 0h47m22 0h15m57 0h12M400 512h2m16 0h20m45 0h47m24 0h13m58 0h12M419 513h19m45 0h12m6 0h29m24 0h13m58 0h12M420 514h18m44 0h12m8 0h27m25 0h12m59 0h12M420 515h18m44 0h11m10 0h26m25 0h12m59 0h12M420 516h18m44 0h11m10 0h26m25 0h12m59 0h12M420 517h18m43 0h12m10 0h26m25 0h12m59 0h12M420 518h18m43 0h12m10 0h26m25 0h12m58 0h14M420 519h18m42 0h13m10 0h26m24 0h13m57 0h16M419 520h19m42 0h13m10 0h26m23 0h14m57 0h17M418 521h20m41 0h15m8 0h28m22 0h15m55 0h19M402 522h1m14 0h20m42 0h16m6 0h29m21 0h16m55 0h29M402 523h2m12 0h21m41 0h53m20 0h16m55 0h30M402 524h4m8 0h23m41 0h54m18 0h17m55 0h30m17 0h1M402 525h34m41 0h56m17 0h17m56 0h29M402 526h34m41 0h57m16 0h17m56 0h29M403 527h32m42 0h57m17 0h15m58 0h28M404 528h10m10 0h11m43 0h57m16 0h15m59 0h27M426 529h7m45 0h36m7 0h15m16 0h13m61 0h26M427 530h5m48 0h32m11 0h13m17 0h11m62 0h26M481 531h29m14 0h12m19 0h7m65 0h24M483 532h25m17 0h12m20 0h3m69 0h22M485 533h20m21 0h11m93 0h20M487 534h15m26 0h10m93 0h17M529 535h9m95 0h12M532 536h7m95 0h7M534 537h5m96 0h4M536 538h4m96 0h2M538 539h3m95 0h1M539 540h3M540 541h3M541 542h3M542 543h4m90 0h1M543 544h4M543 545h7m85 0h4M544 546h13m77 0h6M545 547h14m74 0h8M545 548h16m71 0h19M506 549h1m38 0h17m69 0h22M503 550h6m15 0h3m19 0h17m68 0h24M501 551h9m12 0h7m17 0h17m67 0h26M498 552h13m9 0h10m16 0h18m65 0h29m15 0h3M494 553h18m7 0h12m15 0h18m64 0h31m11 0h8M492 554h39m15 0h19m62 0h52M490 555h42m14 0h19m62 0h53M489 556h43m14 0h20m60 0h54M489 557h44m14 0h19m59 0h55M488 558h45m14 0h20m57 0h57M488 559h45m15 0h19m57 0h57M488 560h44m16 0h19m56 0h57M490 561h42m17 0h19m55 0h57M492 562h39m19 0h18m56 0h56M495 563h36m21 0h17m55 0h37m4 0h14M497 564h33m24 0h15m56 0h34m9 0h10M499 565h30m27 0h13m56 0h13m7 0h13m11 0h8M500 566h14m7 0h6m31 0h12m56 0h10m10 0h11m13 0h6M502 567h10m49 0h9m57 0h8m13 0h8m17 0h1M504 568h6m53 0h8m57 0h6m15 0h6M566 569h5m58 0h4m18 0h2M568 570h4M570 571h3M571 572h3M572 573h3M573 574h3M574 575h3M575 576h3M576 577h3M577 578h3M578 579h3M579 580h3M580 581h3M581 582h3M582 583h3M583 584h3M584 585h3M585 586h3M586 587h3M587 588h3M588 589h3M589 590h3M590 591h3M591 592h3M592 593h3M593 594h3M594 595h3M595 596h3M596 597h1M599 598h1M598 599h1m1 0h1M599 600h3M600 601h3M601 602h3M602 603h3M603 604h3M604 605h2M607 606h1M606 607h3M607 608h3M608 609h3M609 610h3M610 611h3M611 612h3M612 613h3M613 614h3M614 615h3M615 616h3M616 617h3M617 618h4M618 619h4m43 0h4M618 620h6m37 0h10M619 621h8m30 0h16M521 622h4m95 0h10m24 0h20M519 623h8m33 0h2m58 0h12m19 0h25M518 624h10m30 0h6m57 0h12m15 0h29M95 625h2m411 0h21m28 0h9m55 0h15m8 0h35M95 626h2m409 0h25m25 0h11m54 0h59M504 627h28m22 0h14m54 0h61M504 628h28m21 0h16m53 0h69m21 0h4M503 629h30m19 0h18m52 0h97M503 630h31m17 0h19m53 0h97M488 631h3m12 0h32m14 0h21m53 0h83m5 0h9M488 632h3m11 0h33m13 0h22m54 0h81m7 0h9M488 633h3m11 0h34m11 0h22m56 0h79m9 0h9M503 634h34m9 0h22m57 0h78m11 0h8M503 635h35m7 0h22m58 0h77m13 0h7M504 636h36m3 0h1m1 0h21m60 0h36m5 0h35m13 0h8M506 637h2m10 0h21m6 0h21m60 0h35m7 0h33m15 0h7M519 638h19m7 0h20m61 0h34m9 0h32m15 0h7M520 639h17m9 0h19m61 0h33m11 0h31m15 0h7M521 640h16m10 0h18m61 0h32m13 0h30m15 0h7M522 641h14m12 0h17m61 0h31m15 0h29m15 0h8M522 642h14m12 0h17m61 0h31m15 0h29m15 0h8M522 643h14m12 0h17m61 0h31m15 0h29m15 0h8M522 644h14m12 0h17m60 0h32m15 0h29m15 0h8M522 645h13m13 0h18m59 0h32m15 0h30m13 0h9M522 646h13m13 0h19m58 0h33m13 0h31m13 0h10M522 647h13m13 0h19m58 0h34m11 0h33m11 0h11M522 648h12m14 0h20m56 0h36m9 0h35m9 0h12M522 649h12m14 0h21m55 0h37m7 0h37m7 0h13M522 650h11m15 0h21m55 0h38m5 0h39m5 0h15m31 0h3M523 651h8m18 0h21m53 0h103m28 0h9M549 652h21m53 0h103m26 0h13M550 653h19m54 0h104m24 0h15M550 654h19m53 0h105m24 0h15M551 655h17m54 0h105m24 0h15M552 656h15m55 0h106m23 0h15M552 657h14m55 0h20m5 0h81m24 0h15M553 658h12m56 0h19m7 0h34m8 0h37m26 0h13M554 659h10m57 0h18m9 0h32m10 0h35m29 0h9M554 660h10m57 0h17m11 0h30m12 0h15m6 0h12m33 0h3M554 661h9m57 0h17m13 0h28m14 0h13m8 0h10M554 662h9m57 0h16m15 0h26m16 0h11m10 0h9M554 663h9m57 0h16m15 0h26m16 0h10m12 0h8M554 664h9m57 0h16m15 0h26m16 0h10m12 0h8M554 665h10m55 0h17m15 0h27m14 0h11m12 0h8M554 666h10m55 0h17m15 0h28m12 0h12m12 0h9M554 667h10m55 0h18m13 0h30m10 0h13m12 0h10M554 668h11m54 0h19m11 0h32m8 0h14m12 0h11M524 669h1m29 0h12m54 0h19m9 0h55m12 0h4m6 0h2M553 670h14m53 0h20m7 0h56m12 0h3m8 0h1M553 671h14m54 0h20m5 0h58m10 0h3M553 672h14m54 0h84m8 0h3M552 673h16m54 0h84m7 0h3M552 674h15m56 0h82m9 0h2m12 0h1M552 675h15m56 0h81m11 0h1m12 0h1M553 676h13m58 0h79m25 0h2M553 677h12m60 0h37m3 0h38m13 0h1m10 0h3M554 678h10m61 0h36m5 0h37m13 0h2m8 0h5M555 679h8m63 0h34m7 0h35m15 0h2m6 0h6M558 680h2m67 0h32m9 0h34m15 0h15M627 681h31m11 0h33m15 0h15M627 682h31m11 0h33m15 0h16M628 683h30m11 0h33m15 0h16M628 684h30m11 0h33m15 0h17M628 685h30m11 0h33m15 0h18M628 686h30m11 0h33m15 0h18M628 687h30m11 0h33m15 0h19m26 0h3M628 688h30m11 0h34m13 0h21m22 0h7M628 689h31m9 0h35m13 0h21m21 0h8M628 690h32m7 0h36m13 0h22m20 0h8M629 691h32m5 0h38m11 0h24m18 0h10M629 692h33m3 0h40m9 0h26m16 0h11M629 693h77m7 0h28m15 0h11M213 694h6m410 0h78m5 0h30m13 0h12M212 695h8m409 0h114m11 0h13M212 696h8m409 0h115m9 0h14M212 697h8m409 0h117m6 0h15M212 698h8m409 0h138M212 699h8m409 0h138M213 700h6m410 0h138M629 701h8m8 0h122M629 702h6m12 0h32m9 0h79M629 703h5m14 0h15m8 0h5m15 0h76M629 704h4m16 0h13m10 0h3m17 0h34m4 0h17m5 0h14M629 705h3m18 0h11m12 0h1m19 0h32m6 0h15m7 0h13M629 706h2m20 0h9m34 0h30m8 0h13m9 0h12M629 707h2m20 0h9m35 0h28m10 0h11m11 0h10M629 708h2m20 0h9m35 0h28m10 0h11m11 0h10M629 709h2m20 0h9m35 0h28m10 0h11m11 0h10M629 710h2m20 0h9m35 0h28m10 0h11m11 0h10M629 711h3m18 0h10m35 0h28m10 0h11m11 0h10M628 712h5m16 0h12m33 0h29m10 0h12m9 0h11M628 713h6m14 0h14m10 0h2m19 0h31m8 0h14m7 0h12M628 714h7m12 0h16m8 0h4m17 0h33m6 0h16m5 0h14M628 715h9m8 0h31m15 0h35m4 0h37M629 716h43m5 0h2m9 0h79M629 717h42m7 0h90M629 718h41m9 0h90M630 719h39m11 0h66m6 0h17m90 0h6M632 720h37m11 0h65m8 0h17m88 0h7M633 721h36m11 0h64m10 0h16m87 0h9M636 722h33m11 0h63m12 0h15m87 0h9M641 723h20m5 0h3m11 0h27m6 0h29m14 0h14m87 0h10M646 724h14m7 0h2m11 0h26m8 0h28m14 0h15m86 0h10M650 725h9m9 0h2m9 0h26m10 0h26m16 0h14m85 0h11M653 726h5m11 0h2m7 0h26m12 0h25m16 0h14m85 0h11M656 727h1m20 0h27m12 0h25m16 0h14m85 0h11M674 728h30m12 0h25m16 0h14m85 0h11M676 729h28m12 0h25m16 0h14m85 0h12M678 730h27m10 0h26m16 0h14m84 0h13M680 731h26m8 0h28m14 0h15m84 0h14M682 732h25m6 0h29m14 0h14m85 0h14m24 0h1M684 733h59m12 0h15m85 0h15m21 0h5M685 734h59m10 0h16m85 0h16m18 0h7M687 735h58m8 0h16m86 0h17m16 0h9M688 736h58m6 0h17m86 0h18m13 0h11M690 737h79m87 0h18m11 0h11M691 738h77m88 0h21m5 0h14M692 739h76m88 0h40M693 740h75m89 0h38M694 741h31m6 0h36m90 0h38M695 742h28m10 0h34m90 0h37M696 743h26m12 0h32m92 0h35M697 744h10m5 0h9m14 0h31m93 0h33M697 745h9m7 0h7m16 0h29m95 0h32M82 746h3m613 0h7m9 0h5m18 0h28m95 0h31M81 747h5m612 0h6m11 0h4m18 0h27m97 0h30M80 748h7m611 0h6m11 0h4m18 0h27m97 0h30M80 749h7m611 0h6m11 0h4m18 0h27m97 0h30M80 750h7m611 0h6m11 0h4m18 0h27m97 0h30M80 751h7m566 0h5m40 0h6m11 0h4m18 0h27m97 0h31M80 752h7m565 0h7m38 0h8m9 0h6m16 0h28m97 0h31M80 753h7m565 0h7m37 0h10m7 0h8m14 0h30m96 0h32M81 754h5m565 0h9m35 0h12m5 0h10m12 0h31m95 0h34M82 755h3m566 0h9m34 0h29m10 0h33m94 0h35M651 756h9m32 0h33m6 0h36m92 0h38M650 757h11m30 0h76m91 0h40M650 758h11m28 0h79m90 0h42M650 759h11m27 0h81m88 0h45M651 760h9m28 0h81m88 0h45M651 761h9m28 0h82m86 0h47M651 762h9m27 0h83m86 0h47M652 763h7m28 0h84m85 0h47M652 764h7m28 0h60m6 0h18m85 0h46M653 765h5m30 0h19m7 0h31m10 0h17m84 0h46M691 766h13m11 0h28m13 0h16m84 0h17m9 0h20M717 767h24m17 0h15m83 0h15m13 0h18M718 768h20m21 0h14m84 0h13m16 0h15M720 769h15m26 0h12m85 0h11m19 0h13M724 770h8m31 0h11m84 0h10m23 0h9M765 771h9m86 0h6m28 0h3M767 772h8m87 0h2M770 773h5M772 774h4M774 775h3M775 776h3M776 777h3M777 778h3M778 779h3M779 780h3M780 781h3M781 782h3M782 783h3M783 784h3M784 785h3M785 786h3M786 787h3M787 788h3M788 789h1M790 790h2M790 791h3M791 792h3M792 793h1m1 0h1M793 794h3M794 795h3M795 796h3M796 797h3M797 798h3M798 799h3M799 800h3M800 801h5m6 0h2M801 802h15M801 803h16M801 804h17M802 805h17M802 806h17M802 807h18M802 808h18M802 809h19M802 810h19M801 811h20M801 812h20M802 813h19M802 814h19M802 815h19M803 816h18M804 817h17M805 818h16M807 819h15M809 820h13M819 821h4M821 822h3M822 823h3M823 824h3M824 825h3M825 826h3M826 827h3M827 828h3M828 829h3M829 830h3M830 831h2M833 832h1M832 833h3M833 834h3M834 835h3M835 836h3M836 837h3M837 838h3M838 839h3M839 840h3M840 841h3M841 842h3M842 843h2M844 844h2M844 845h3M845 846h3M846 847h2M849 849h2M849 850h5M850 851h7M850 852h10m37 0h10M850 853h12m31 0h16M851 854h14m27 0h18M730 855h7m114 0h17m22 0h21M725 856h15m21 0h7m83 0h19m19 0h22M721 857h22m16 0h10m83 0h19m17 0h24M720 858h24m13 0h14m81 0h20m15 0h25M719 859h26m11 0h15m81 0h21m13 0h27M719 860h28m7 0h18m81 0h21m10 0h30M719 861h53m81 0h23m6 0h33m16 0h10M719 862h54m81 0h62m12 0h15M719 863h54m81 0h63m8 0h21M719 864h53m82 0h94M721 865h51m83 0h95M723 866h48m84 0h97M729 867h42m84 0h97M731 868h39m86 0h97M733 869h36m87 0h97M734 870h34m89 0h39m7 0h51M735 871h32m91 0h37m9 0h34m8 0h8M736 872h31m92 0h35m11 0h32m10 0h7M737 873h29m94 0h33m13 0h30m12 0h6M738 874h28m95 0h31m15 0h28m14 0h5M738 875h28m95 0h30m17 0h26m16 0h5M738 876h28m96 0h29m17 0h25m18 0h4M739 877h27m96 0h29m17 0h25m18 0h4M739 878h27m96 0h29m17 0h25m18 0h4M739 879h27m96 0h29m17 0h25m18 0h5M739 880h27m96 0h29m17 0h25m18 0h5M739 881h27m96 0h30m15 0h27m16 0h6M738 882h29m94 0h32m13 0h29m14 0h7M738 883h29m94 0h33m11 0h31m12 0h8M738 884h30m92 0h35m9 0h33m10 0h9M737 885h31m92 0h36m7 0h35m8 0h9M736 886h33m90 0h96M736 887h33m89 0h97M735 888h35m87 0h97M734 889h36m86 0h98M734 890h36m85 0h63m6 0h29M733 891h13m5 0h20m84 0h20m6 0h36m8 0h28M733 892h11m9 0h18m83 0h20m8 0h34m10 0h27M732 893h11m11 0h17m82 0h20m10 0h32m12 0h25M733 894h9m13 0h17m81 0h19m12 0h30m14 0h24M733 895h7m16 0h16m81 0h18m14 0h29m14 0h24M735 896h2m19 0h16m81 0h17m16 0h27m16 0h23M757 897h14m81 0h18m16 0h27m16 0h23M758 898h13m81 0h18m16 0h27m16 0h23M758 899h13m81 0h18m16 0h27m16 0h23M759 900h11m82 0h18m16 0h27m16 0h23M759 901h9m84 0h18m16 0h27m16 0h23m38 0h5M761 902h3m88 0h18m16 0h28m14 0h25m37 0h7M852 903h19m14 0h29m14 0h25m36 0h10M852 904h20m12 0h31m12 0h27m35 0h12M852 905h21m10 0h33m10 0h29m33 0h14M852 906h22m8 0h35m8 0h31m31 0h17M853 907h22m6 0h37m6 0h32m30 0h19M853 908h104m28 0h21M854 909h104m25 0h25M855 910h104m22 0h27M857 911h103m21 0h28M859 912h102m19 0h29M860 913h36m6 0h59m19 0h30M861 914h33m10 0h58m17 0h31M862 915h31m12 0h57m17 0h18m5 0h9M863 916h29m14 0h57m16 0h17m7 0h8M864 917h27m16 0h30m6 0h20m15 0h17m9 0h7M864 918h26m18 0h28m8 0h19m15 0h16m11 0h6M864 919h26m18 0h27m10 0h18m14 0h16m13 0h5M864 920h26m18 0h27m10 0h18m14 0h15m15 0h5M864 921h26m18 0h27m10 0h18m13 0h16m15 0h5M864 922h26m18 0h27m10 0h18m12 0h17m15 0h6M864 923h26m18 0h27m10 0h18m12 0h17m15 0h7M864 924h27m16 0h28m10 0h18m12 0h17m15 0h8M863 925h29m14 0h30m8 0h19m11 0h19m13 0h11M863 926h30m12 0h32m6 0h21m10 0h20m11 0h24M863 927h31m10 0h60m10 0h21m9 0h27M862 928h34m6 0h61m12 0h21m7 0h29M862 929h101m12 0h22m5 0h30M862 930h101m13 0h57M861 931h102m13 0h57M861 932h101m15 0h39m5 0h12M861 933h15m5 0h80m16 0h38m8 0h11M861 934h14m7 0h78m18 0h36m10 0h11M861 935h13m9 0h36m6 0h35m19 0h34m12 0h10M861 936h12m11 0h34m8 0h33m20 0h33m14 0h10M861 937h11m13 0h32m10 0h31m22 0h31m16 0h10M861 938h10m15 0h31m10 0h31m22 0h31m17 0h10M861 939h10m15 0h31m10 0h31m23 0h29m18 0h11M861 940h10m15 0h31m10 0h31m23 0h29m19 0h11M862 941h9m15 0h31m10 0h31m24 0h28m19 0h12M862 942h9m15 0h31m10 0h31m24 0h28m19 0h12M863 943h8m15 0h32m8 0h32m24 0h28m19 0h13M863 944h8m15 0h33m6 0h33m24 0h28m19 0h13M863 945h8m15 0h72m24 0h28m19 0h14M864 946h8m13 0h73m24 0h28m19 0h14M864 947h9m11 0h75m23 0h28m19 0h14M865 948h9m9 0h76m23 0h29m18 0h14M865 949h10m7 0h77m23 0h29m17 0h15M866 950h10m5 0h79m22 0h30m16 0h15M866 951h94m21 0h32m14 0h16M868 952h25m9 0h59m20 0h33m12 0h17M870 953h20m14 0h57m19 0h35m10 0h19M875 954h13m17 0h57m18 0h36m8 0h20M879 955h6m21 0h57m16 0h39m5 0h21M908 956h55m16 0h65M909 957h55m14 0h66M910 958h27m10 0h18m13 0h66M911 959h25m14 0h15m13 0h55m7 0h3M912 960h22m18 0h14m13 0h52M914 961h19m21 0h13m12 0h33m7 0h10M916 962h16m23 0h12m12 0h31m11 0h7M926 963h2m29 0h11m11 0h29m14 0h4M958 964h10m11 0h2m1 0h24M960 965h9m10 0h8M961 966h9m9 0h7M963 967h8m7 0h6M965 968h7m5 0h7M966 969h8m1 0h9M967 970h17M968 971h17M969 972h17M969 973h18M925 974h3m42 0h20m30 0h5M922 975h8m39 0h24m24 0h9M921 976h11m37 0h25m21 0h12M919 977h15m34 0h26m21 0h13M917 978h18m22 0h3m7 0h28m19 0h15M914 979h23m18 0h41m17 0h17M96 980h6m810 0h27m14 0h44m15 0h19M95 981h8m807 0h31m10 0h13m1 0h33m13 0h22M95 982h8m807 0h89m11 0h26M95 983h8m806 0h92m7 0h35M95 984h8m806 0h58m4 0h75M95 985h8m805 0h59m5 0h75M96 986h6m805 0h59m7 0h74M906 987h59m9 0h73M905 988h60m9 0h73M903 989h62m9 0h74M901 990h64m10 0h43m6 0h24M901 991h64m10 0h41m10 0h22M901 992h19m5 0h40m10 0h40m12 0h21M901 993h18m7 0h39m11 0h38m14 0h20M901 994h17m9 0h38m13 0h35m16 0h19M902 995h15m11 0h37m14 0h33m18 0h18M902 996h14m13 0h36m15 0h32m18 0h18M903 997h12m15 0h35m16 0h31m18 0h19M903 998h12m15 0h35m17 0h30m18 0h19M904 999h11m15 0h35m18 0h29m18 0h19M904 1000h11m15 0h35m18 0h29m18 0h19M905 1001h10m15 0h35m19 0h28m18 0h19M314 1002h1m591 0h10m13 0h36m19 0h29m16 0h20M313 1003h3m590 0h11m11 0h37m19 0h30m14 0h21M313 1004h3m591 0h11m9 0h38m19 0h31m12 0h22M313 1005h3m592 0h11m7 0h39m19 0h32m10 0h23m30 0h4M14 1006h4m296 0h1m594 0h11m5 0h39m20 0h34m6 0h25m29 0h6M13 1007h6m890 0h55m20 0h64m29 0h7M13 1008h6m892 0h52m20 0h65m29 0h7M14 1009h4m895 0h50m20 0h65m28 0h8M915 1010h24m9 0h14m20 0h66m28 0h8M920 1011h17m13 0h12m19 0h66m29 0h8M922 1012h14m15 0h10m19 0h15m7 0h45m28 0h9M923 1013h12m17 0h9m18 0h15m9 0h44m28 0h9M924 1014h10m19 0h8m17 0h15m11 0h43m28 0h9M925 1015h8m21 0h7m15 0h16m13 0h42m28 0h9M925 1016h7m23 0h6m15 0h15m15 0h41m28 0h9M926 1017h6m23 0h6m14 0h16m15 0h41m28 0h9M926 1018h6m24 0h5m14 0h15m17 0h40m28 0h9M926 1019h6m24 0h6m13 0h15m17 0h30m2 0h8m28 0h9M926 1020h6m24 0h6m12 0h16m17 0h30m3 0h7m28 0h9M926 1021h7m23 0h7m11 0h16m17 0h40m28 0h9M926 1022h7m23 0h8m10 0h16m17 0h40m28 0h9M926 1023h8m21 0h9m10 0h16m17 0h40m28 0h9M926 1024h9m19 0h10m10 0h17m15 0h41m28 0h9M926 1025h10m17 0h11m11 0h16m15 0h41m29 0h8M926 1026h11m15 0h11m13 0h16m13 0h42m29 0h8M926 1027h12m13 0h12m14 0h16m11 0h43m29 0h8M926 1028h14m9 0h13m16 0h16m9 0h44m30 0h7M927 1029h34m18 0h16m7 0h46m29 0h7M927 1030h34m19 0h68m29 0h7M928 1031h32m21 0h67m30 0h6M930 1032h30m21 0h67m30 0h6M933 1033h26m23 0h66m30 0h6M934 1034h25m23 0h66m30 0h6M936 1035h23m23 0h67m29 0h6M937 1036h22m24 0h66m29 0h6M938 1037h21m24 0h36m2 0h28m29 0h6M939 1038h20m24 0h36m2 0h28m29 0h6M940 1039h19m24 0h37m1 0h28m28 0h7M941 1040h19m23 0h66m28 0h7M943 1041h17m23 0h67m26 0h8M945 1042h15m23 0h67m26 0h8M953 1043h6m25 0h66m26 0h8M984 1044h67m25 0h8M984 1045h67m26 0h7M985 1046h67m25 0h7M989 1047h22m18 0h24m25 0h6M997 1048h10m28 0h19m24 0h5M1041 1049h14m25 0h2M1044 1050h12M1046 1051h11M1047 1052h11M1048 1053h11M1049 1054h11M1050 1055h11M1051 1056h11M1052 1057h12M1053 1058h12M1054 1059h12M1055 1060h12M1056 1061h12M1057 1062h12M1057 1063h13M1058 1064h13M1059 1065h14M1060 1066h14M1061 1067h14M1062 1068h14M1063 1069h14M1064 1070h14M1065 1071h14M1065 1072h14M1066 1073h14M1067 1074h14M1012 1075h13m43 0h14M1009 1076h19m13 0h4m24 0h13M1007 1077h24m8 0h8m23 0h13M31 1078h6m969 0h43m22 0h12M30 1079h8m967 0h44m24 0h11M30 1080h8m967 0h45m24 0h10M30 1081h8m967 0h45m25 0h10M31 1082h6m968 0h44m28 0h8M1006 1083h42m31 0h7M1081 1084h5M1083 1085h4M1085 1086h3M1086 1087h3M1087 1088h3M1088 1089h3M1089 1090h3M1090 1091h3M1091 1092h3M1092 1093h3M1093 1094h3M1094 1095h6M1095 1096h5M1095 1097h5M1095 1098h5M1095 1099h5"/>
<path stroke="url(#p2)" d="M54 4h2m20 0h1M53 5h4m18 0h3M52 6h4m20 0h3M51 7h4m22 0h3M50 8h4m24 0h3M49 9h4m26 0h3M48 10h4m28 0h4M28 11h23m29 0h7M27 12h23m29 0h11M26 13h25m28 0h3m2 0h8M25 14h4m20 0h3m26 0h3m6 0h8m912 0h2M24 15h4m22 0h3m25 0h3m9 0h7m909 0h4M23 16h4m23 0h3m24 0h3m12 0h6m1 0h4m903 0h3M23 17h3m25 0h3m22 0h3m16 0h9m903 0h1M24 18h1m26 0h3m22 0h3m18 0h6m15 0h1M51 19h3m21 0h3m19 0h3m17 0h3M52 20h3m19 0h3m21 0h3m17 0h3M52 21h3m18 0h3m22 0h3m18 0h3M53 22h3m16 0h3m23 0h3m19 0h3M16 23h2m36 0h9m1 0h10m24 0h3m19 0h3M15 24h4m36 0h8m1 0h10m24 0h3m20 0h3M14 25h4m36 0h20m24 0h3m20 0h3M13 26h4m36 0h4m15 0h3m23 0h3m20 0h3M12 27h4m36 0h4m17 0h3m22 0h3m20 0h3M11 28h4m37 0h3m19 0h3m21 0h3m21 0h3M11 29h3m38 0h3m19 0h3m21 0h3m21 0h3M11 30h3m37 0h3m21 0h3m20 0h3m21 0h3M11 31h3m37 0h3m21 0h3m20 0h5m12 0h10M11 32h3m37 0h3m21 0h3m20 0h6m10 0h12m954 0h1M11 33h3m36 0h3m23 0h3m18 0h6m12 0h7m1 0h3m953 0h3M11 34h3m36 0h3m23 0h3m17 0h3m24 0h3m953 0h3M11 35h3m36 0h3m23 0h3m15 0h4m25 0h3m954 0h1M11 36h3m35 0h3m24 0h3m14 0h4m26 0h3M11 37h3m34 0h3m26 0h3m12 0h4m27 0h3M11 38h3m33 0h3m27 0h3m11 0h4m28 0h3M11 39h3m32 0h3m28 0h3m10 0h4m29 0h3M11 40h3m33 0h1m30 0h3m8 0h4m30 0h3M11 41h3m65 0h3m6 0h4m31 0h3M11 42h3m66 0h3m4 0h4m32 0h3M11 43h3m67 0h3m2 0h4m33 0h3M11 44h3m68 0h7m34 0h3M11 45h3m69 0h5m35 0h3M11 46h3m25 0h1m42 0h6m35 0h3M11 47h3m24 0h3m40 0h4m1 0h3m34 0h3M10 48h4m23 0h3m40 0h4m3 0h3m33 0h3M9 49h6m21 0h3m40 0h4m5 0h3m32 0h3M8 50h4m1 0h4m16 0h5m40 0h4m7 0h3m31 0h3M7 51h4m3 0h6m10 0h7m40 0h4m9 0h3m30 0h3M6 52h4m5 0h7m5 0h9m41 0h3m11 0h4m28 0h3M5 53h4m8 0h6m3 0h7m43 0h3m13 0h4m27 0h3M4 54h4m12 0h4m1 0h5m44 0h4m15 0h4m25 0h3M4 55h3m15 0h6m44 0h5m18 0h3m15 0h12M5 56h1m17 0h4m44 0h5m20 0h9m7 0h12M23 57h3m44 0h4m23 0h9m7 0h11M23 58h3m43 0h4m25 0h7m16 0h3M23 59h3m42 0h4m26 0h3m20 0h3M23 60h3m41 0h4m27 0h3m20 0h3M23 61h3m41 0h3m28 0h3m20 0h3M23 62h3m42 0h1m29 0h3m20 0h3M25 63h1m72 0h3m20 0h3M23 64h3m72 0h3m20 0h3M23 65h3m72 0h3m20 0h3M23 66h3m72 0h3m20 0h3M23 67h3m34 0h2m36 0h3m20 0h3M23 68h3m33 0h4m35 0h3m20 0h3M23 69h3m32 0h4m36 0h3m20 0h3M23 70h3m31 0h4m37 0h3m20 0h3M23 71h3m30 0h4m38 0h3m20 0h3M22 72h5m28 0h4m40 0h3m19 0h3M21 73h7m27 0h3m41 0h3m17 0h5m35 0h10M20 74h3m3 0h4m24 0h3m42 0h25m34 0h14M5 75h1m13 0h3m5 0h6m21 0h3m42 0h25m32 0h19M4 76h3m10 0h4m7 0h9m16 0h3m42 0h21m3 0h3m30 0h4m10 0h7M5 77h3m8 0h4m10 0h10m11 0h4m41 0h4m23 0h3m28 0h4m14 0h5M6 78h3m5 0h5m14 0h8m9 0h4m41 0h4m25 0h3m27 0h3m18 0h3M7 79h3m2 0h5m20 0h5m7 0h4m41 0h4m27 0h3m25 0h3m19 0h3M8 80h8m24 0h3m5 0h4m41 0h4m29 0h3m23 0h3m21 0h3M9 81h5m27 0h3m3 0h4m41 0h4m30 0h3m22 0h3m22 0h3M10 82h3m29 0h3m1 0h4m41 0h4m32 0h3m20 0h3m24 0h3m570 0h2M10 83h3m30 0h6m41 0h4m34 0h3m18 0h3m25 0h3m569 0h4M11 84h3m30 0h4m42 0h3m36 0h3m16 0h3m26 0h3m570 0h2M11 85h3m30 0h3m44 0h1m38 0h3m14 0h3m27 0h3M11 86h3m29 0h5m83 0h3m12 0h3m28 0h3M12 87h3m27 0h7m83 0h16m29 0h3M12 88h3m26 0h4m2 0h3m82 0h16m29 0h3M12 89h3m25 0h4m4 0h3m80 0h18m28 0h3M13 90h3m23 0h4m6 0h3m31 0h2m45 0h4m13 0h3m27 0h3M13 91h3m22 0h4m8 0h3m29 0h4m43 0h4m15 0h3m26 0h3M14 92h3m20 0h4m10 0h3m27 0h4m43 0h4m17 0h3m25 0h3M14 93h3m19 0h4m12 0h3m25 0h4m43 0h4m19 0h3m24 0h3M14 94h3m18 0h4m13 0h3m24 0h4m44 0h3m21 0h3m23 0h3M15 95h3m17 0h3m15 0h3m22 0h4m44 0h3m22 0h3m23 0h3M15 96h3m16 0h3m17 0h3m20 0h4m45 0h3m23 0h3m23 0h3M16 97h4m13 0h3m19 0h3m19 0h3m45 0h3m24 0h3m23 0h3m802 0h1M17 98h18m21 0h16m4 0h3m46 0h3m25 0h3m22 0h3m801 0h3M16 99h18m22 0h22m46 0h3m27 0h19m5 0h3m801 0h3M16 100h3m1 0h14m22 0h21m46 0h3m29 0h25m803 0h1M16 101h3m12 0h3m22 0h3m13 0h5m46 0h3m29 0h25M16 102h3m12 0h3m22 0h3m15 0h3m44 0h4m30 0h3m15 0h6M17 103h1m14 0h1m23 0h3m15 0h3m43 0h4m31 0h3m18 0h3M56 104h3m15 0h3m42 0h4m32 0h3m18 0h3M57 105h1m16 0h3m41 0h4m33 0h3m17 0h3M74 106h3m40 0h4m34 0h3m17 0h3M74 107h3m39 0h4m35 0h3m17 0h3M74 108h3m38 0h4m36 0h3m17 0h3M74 109h3m38 0h3m37 0h3m17 0h3M74 110h3m39 0h1m38 0h3m17 0h3M74 111h3m78 0h3m17 0h3M56 112h1m17 0h3m78 0h3m17 0h3M55 113h3m16 0h3m78 0h3m17 0h3M32 114h1m22 0h3m16 0h3m78 0h3m17 0h3M31 115h3m21 0h3m16 0h3m31 0h2m45 0h3m17 0h3M31 116h3m21 0h3m16 0h3m30 0h4m44 0h3m17 0h3M19 117h1m11 0h3m21 0h3m16 0h3m29 0h4m45 0h3m17 0h3M18 118h3m10 0h3m21 0h3m16 0h3m28 0h4m47 0h3m16 0h3M19 119h3m9 0h3m21 0h3m15 0h3m28 0h4m48 0h3m16 0h3M20 120h4m7 0h3m21 0h3m15 0h3m27 0h4m49 0h3m16 0h3M21 121h7m3 0h3m21 0h21m26 0h4m51 0h20M22 122h11m21 0h23m25 0h3m53 0h19M24 123h54m22 0h4m53 0h20M28 124h28m20 0h3m20 0h4m54 0h3m15 0h3M32 125h22m23 0h3m17 0h5m54 0h3m16 0h3M78 126h4m13 0h5m55 0h3m18 0h9M79 127h4m10 0h6m55 0h3m19 0h10m17 0h1M80 128h4m8 0h5m56 0h3m20 0h9m17 0h3M82 129h3m6 0h4m57 0h3m21 0h3m21 0h1m1 0h3M83 130h3m4 0h4m57 0h3m22 0h3m20 0h6M84 131h3m2 0h4m57 0h3m23 0h3m21 0h5M85 132h7m57 0h3m24 0h3m22 0h4M86 133h5m57 0h3m26 0h3m22 0h3M87 134h3m57 0h3m27 0h3m22 0h3M87 135h3m56 0h3m28 0h3m22 0h3M87 136h3m55 0h3m29 0h3m22 0h3M87 137h3m54 0h3m30 0h3m23 0h3M87 138h3m55 0h1m31 0h3m23 0h3M87 139h3m87 0h3m23 0h3M87 140h3m87 0h3m23 0h3M87 141h3m87 0h3m23 0h3M87 142h3m87 0h3m23 0h3M87 143h3m87 0h3m23 0h3M87 144h3m47 0h1m39 0h3m23 0h3M87 145h3m46 0h3m38 0h3m23 0h3M86 146h4m45 0h3m39 0h3m23 0h3M85 147h6m43 0h3m40 0h3m24 0h3m34 0h1M84 148h3m2 0h3m41 0h3m42 0h3m23 0h3m33 0h3M83 149h3m4 0h3m39 0h3m43 0h3m23 0h3m33 0h3M82 150h3m6 0h3m37 0h3m44 0h3m19 0h7m33 0h3M81 151h3m8 0h4m34 0h3m45 0h29m33 0h3M80 152h3m10 0h5m31 0h3m47 0h29m31 0h3M79 153h3m12 0h5m29 0h3m48 0h21m6 0h3m29 0h3M77 154h4m15 0h4m27 0h3m48 0h3m26 0h3m28 0h3M76 155h4m18 0h20m8 0h3m48 0h3m28 0h3m26 0h3M75 156h4m20 0h22m4 0h3m48 0h3m30 0h3m23 0h4M75 157h3m21 0h23m1 0h4m47 0h4m32 0h3m20 0h5M74 158h3m22 0h3m16 0h8m47 0h4m34 0h3m18 0h5M73 159h3m23 0h3m19 0h4m47 0h4m36 0h3m16 0h4M73 160h3m23 0h3m19 0h3m47 0h4m37 0h3m15 0h4M73 161h3m23 0h3m19 0h3m46 0h4m39 0h3m13 0h4M73 162h3m23 0h3m19 0h3m45 0h4m41 0h3m11 0h4M73 163h3m23 0h3m19 0h3m45 0h3m43 0h3m9 0h4M73 164h3m23 0h3m19 0h3m46 0h1m45 0h3m7 0h4M73 165h3m23 0h3m19 0h3m93 0h12M73 166h3m23 0h3m19 0h3m94 0h10M73 167h3m23 0h3m19 0h3m93 0h11M73 168h3m23 0h3m19 0h3m92 0h4m6 0h3M74 169h3m22 0h3m19 0h3m38 0h2m51 0h4m8 0h3M74 170h3m22 0h3m19 0h3m37 0h4m49 0h4m10 0h3M74 171h3m22 0h3m19 0h3m36 0h4m49 0h4m12 0h3M75 172h3m21 0h3m19 0h3m35 0h4m49 0h4m14 0h3M75 173h3m22 0h3m18 0h3m34 0h4m50 0h3m16 0h3M75 174h3m22 0h3m18 0h3m33 0h4m50 0h3m18 0h3M76 175h4m20 0h3m2 0h21m31 0h3m50 0h4m19 0h4M77 176h5m18 0h33m23 0h3m51 0h3m21 0h5M78 177h18m4 0h21m3 0h24m7 0h3m52 0h3m22 0h5m46 0h1M80 178h25m21 0h26m2 0h3m52 0h3m25 0h4m44 0h3M82 179h20m24 0h3m4 0h23m52 0h4m27 0h3m42 0h4M96 180h4m26 0h3m19 0h7m53 0h3m29 0h3m42 0h2M126 181h3m22 0h3m53 0h3m30 0h3M126 182h3m22 0h3m52 0h3m31 0h3M126 183h3m22 0h3m51 0h3m32 0h3M126 184h3m22 0h3m50 0h3m32 0h3M127 185h1m23 0h3m48 0h4m34 0h1M151 186h3m46 0h5M151 187h3m45 0h5M151 188h3m44 0h4M151 189h3m43 0h4M151 190h3m42 0h4M151 191h3m43 0h2M151 192h3M151 193h3M151 194h3M151 195h3M151 196h3m36 0h1M151 197h3m35 0h3M151 198h3m34 0h4M130 199h1m20 0h3m33 0h4M129 200h3m18 0h3m33 0h4M130 201h3m17 0h3m33 0h3M128 202h9m13 0h3m32 0h3M127 203h20m3 0h3m32 0h3m56 0h1M128 204h25m31 0h3m56 0h3M137 205h16m30 0h3m57 0h3M147 206h7m28 0h3m59 0h3m36 0h1M152 207h3m26 0h3m60 0h3m35 0h3M153 208h3m23 0h4m61 0h3m36 0h3M154 209h3m21 0h4m62 0h3m37 0h3m30 0h4M155 210h3m17 0h6m62 0h4m38 0h3m27 0h8M156 211h3m15 0h6m62 0h4m39 0h3m26 0h11M157 212h4m11 0h6m63 0h4m41 0h3m23 0h5m4 0h6M158 213h4m9 0h5m63 0h5m43 0h3m20 0h5m8 0h6M159 214h4m7 0h4m64 0h4m46 0h3m18 0h5m11 0h6m366 0h1M161 215h3m5 0h4m63 0h5m48 0h4m13 0h6m15 0h5m364 0h3M162 216h3m3 0h4m63 0h4m51 0h4m11 0h6m18 0h4m363 0h3M163 217h3m1 0h4m63 0h4m53 0h4m9 0h5m21 0h3m364 0h1M164 218h6m63 0h4m56 0h3m7 0h4m24 0h3M165 219h4m63 0h4m58 0h3m5 0h4m26 0h3M165 220h3m63 0h4m60 0h3m3 0h4m27 0h3M165 221h3m62 0h4m62 0h3m1 0h4m28 0h3M165 222h3m61 0h4m64 0h6m29 0h3M165 223h3m61 0h3m66 0h4m31 0h1M165 224h3m62 0h1m67 0h3M165 225h3m130 0h3M164 226h5m129 0h3M163 227h7m128 0h3M162 228h4m2 0h3m127 0h3M161 229h4m4 0h3m50 0h2m74 0h3M160 230h4m6 0h3m48 0h4m73 0h3m32 0h1M159 231h4m8 0h3m46 0h4m74 0h3m31 0h3M158 232h4m10 0h3m44 0h4m75 0h3m31 0h3M157 233h4m12 0h3m42 0h4m76 0h3m31 0h3M157 234h3m14 0h3m40 0h4m76 0h5m30 0h3M156 235h3m16 0h3m38 0h4m76 0h7m28 0h3M156 236h3m16 0h3m37 0h4m76 0h3m3 0h3m27 0h3M155 237h3m18 0h3m36 0h3m76 0h3m5 0h3m24 0h4M153 238h4m19 0h3m35 0h3m76 0h3m7 0h5m19 0h5M152 239h4m21 0h3m4 0h1m28 0h3m75 0h4m9 0h9m12 0h6M148 240h7m23 0h8m27 0h3m74 0h4m11 0h14m4 0h6M147 241h6m26 0h6m27 0h3m72 0h6m15 0h19M148 242h4m28 0h4m27 0h3m72 0h5m22 0h12M204 243h2m4 0h4m71 0h5m29 0h4M203 244h10m71 0h3M204 245h8m70 0h4M206 246h5m70 0h4M282 247h2M246 281h1M207 282h1m37 0h3M206 283h3m36 0h3M179 284h1m27 0h3m34 0h3M178 285h3m27 0h4m31 0h3m112 0h12M177 286h4m28 0h4m29 0h3m79 0h1m31 0h18M178 287h2m30 0h4m27 0h3m77 0h6m27 0h21M212 288h3m26 0h3m73 0h13m23 0h5m12 0h12M213 289h3m25 0h3m66 0h14m1 0h8m18 0h5m18 0h9m13 0h2M214 290h3m23 0h3m65 0h13m6 0h9m13 0h6m20 0h7m13 0h4M215 291h3m21 0h3m64 0h11m13 0h8m10 0h5m24 0h3m16 0h4M215 292h3m21 0h3m63 0h5m23 0h6m8 0h4m26 0h3m18 0h3M216 293h3m19 0h3m63 0h4m28 0h4m6 0h4m27 0h3m18 0h3M217 294h3m17 0h3m63 0h4m31 0h3m4 0h4m28 0h3m19 0h3M218 295h3m15 0h3m63 0h4m33 0h3m2 0h4m29 0h3m20 0h3M219 296h3m13 0h3m64 0h3m35 0h7m30 0h3m20 0h3M220 297h3m11 0h3m66 0h1m37 0h5m31 0h3m21 0h3M221 298h15m106 0h3m32 0h3m21 0h3M222 299h14m106 0h3m32 0h3m21 0h3M221 300h15m106 0h3m32 0h3m21 0h3M220 301h4m10 0h3m105 0h3m32 0h3m22 0h3M219 302h4m12 0h3m57 0h2m45 0h3m32 0h3m22 0h3M218 303h4m14 0h3m55 0h4m43 0h4m32 0h3m22 0h3M217 304h4m16 0h3m53 0h4m43 0h6m31 0h3m22 0h3M216 305h4m18 0h3m51 0h4m43 0h4m1 0h3m30 0h3m22 0h3M215 306h4m19 0h3m50 0h4m43 0h4m3 0h3m29 0h3m22 0h3M215 307h3m20 0h3m50 0h3m43 0h4m5 0h3m29 0h3m21 0h3M215 308h3m21 0h3m48 0h3m43 0h4m7 0h3m28 0h8m7 0h12M214 309h3m22 0h3m48 0h3m42 0h4m9 0h3m27 0h9m5 0h13M213 310h4m22 0h3m47 0h3m43 0h3m11 0h3m25 0h9m7 0h13M213 311h3m23 0h3m47 0h3m42 0h3m13 0h3m23 0h3m24 0h3M212 312h3m24 0h3m47 0h3m41 0h3m15 0h3m21 0h4m24 0h3M212 313h3m25 0h3m46 0h3m40 0h3m17 0h3m19 0h4m25 0h3m598 0h1M211 314h3m26 0h3m46 0h3m39 0h3m19 0h3m17 0h4m26 0h3m597 0h3M210 315h3m27 0h3m46 0h3m38 0h3m21 0h3m15 0h3m28 0h3m598 0h1M210 316h3m27 0h3m46 0h3m37 0h3m23 0h3m13 0h3m30 0h3M209 317h3m28 0h3m45 0h3m37 0h3m24 0h3m12 0h3m31 0h3M209 318h3m28 0h3m45 0h3m36 0h3m26 0h3m10 0h3m32 0h3M209 319h3m29 0h3m44 0h3m35 0h3m28 0h3m8 0h3m33 0h3M209 320h3m29 0h3m44 0h3m36 0h1m30 0h3m6 0h3m34 0h3M210 321h3m28 0h3m43 0h3m69 0h3m4 0h3m35 0h3M210 322h3m28 0h3m43 0h3m70 0h3m2 0h3m36 0h3M211 323h3m26 0h3m44 0h3m71 0h6m37 0h3M211 324h3m26 0h3m43 0h3m72 0h6m38 0h3M212 325h3m24 0h3m45 0h3m70 0h8m37 0h3M212 326h3m24 0h3m45 0h3m29 0h1m39 0h4m3 0h3m36 0h3M213 327h3m22 0h3m47 0h3m27 0h3m37 0h4m5 0h3m35 0h3M213 328h3m22 0h3m47 0h3m26 0h3m37 0h4m7 0h3m34 0h3M214 329h3m20 0h3m48 0h3m25 0h3m37 0h4m9 0h3m33 0h3M214 330h4m19 0h3m49 0h3m23 0h3m38 0h3m11 0h4m32 0h3M215 331h4m16 0h4m50 0h3m22 0h3m38 0h3m13 0h5m30 0h3M216 332h7m8 0h7m51 0h3m21 0h3m38 0h3m15 0h6m28 0h3M218 333h6m6 0h7m53 0h3m19 0h3m38 0h3m18 0h5m5 0h25M219 334h4m8 0h4m55 0h3m18 0h3m38 0h4m20 0h4m1 0h28m12 0h1M290 335h3m16 0h4m38 0h4m23 0h32m5 0h8M291 336h3m14 0h4m38 0h4m24 0h6m24 0h3m3 0h8M291 337h3m13 0h4m38 0h4m25 0h3m27 0h3m2 0h8M292 338h3m11 0h4m38 0h4m26 0h3m27 0h8M293 339h3m9 0h4m38 0h4m27 0h3m28 0h6M294 340h3m7 0h4m38 0h4m28 0h3m29 0h4M295 341h3m5 0h4m40 0h2m29 0h3m30 0h3M296 342h10m72 0h3m30 0h3M296 343h9m72 0h3m31 0h3M295 344h11m71 0h3m31 0h3M294 345h4m6 0h3m70 0h3m31 0h3M293 346h4m8 0h3m32 0h1m36 0h3m31 0h3M292 347h4m10 0h3m30 0h3m35 0h3m31 0h3M291 348h4m12 0h3m28 0h4m35 0h3m31 0h3M290 349h4m14 0h3m26 0h4m36 0h3m31 0h3M290 350h3m16 0h3m24 0h4m37 0h3m31 0h3M289 351h3m18 0h3m22 0h4m38 0h3m31 0h3M289 352h3m19 0h3m20 0h4m38 0h3m32 0h3M288 353h3m21 0h3m18 0h4m39 0h3m32 0h3M287 354h4m22 0h3m16 0h4m40 0h3m32 0h3M287 355h3m24 0h4m13 0h4m41 0h3m32 0h3M286 356h3m26 0h4m10 0h4m42 0h3m33 0h3M286 357h3m27 0h4m8 0h4m42 0h3m34 0h3M285 358h3m30 0h3m6 0h4m42 0h3m35 0h3M285 359h3m31 0h3m4 0h4m42 0h3m36 0h3M285 360h3m32 0h3m2 0h4m42 0h3m37 0h3M285 361h3m33 0h7m42 0h3m38 0h3M285 362h3m34 0h5m42 0h3m39 0h3M285 363h3m35 0h3m44 0h1m40 0h3M285 364h3m35 0h3m85 0h3M285 365h3m34 0h4m86 0h3M285 366h3m33 0h6m85 0h3M285 367h3m32 0h3m2 0h3m84 0h3M285 368h3m31 0h3m4 0h3m83 0h3M285 369h3m30 0h3m6 0h3m32 0h1m49 0h3M286 370h3m28 0h3m8 0h3m30 0h3m48 0h3M286 371h3m27 0h3m10 0h3m28 0h3m49 0h3M286 372h3m26 0h3m12 0h3m26 0h3m50 0h3M286 373h3m25 0h3m13 0h3m25 0h3m51 0h3M287 374h3m23 0h3m15 0h3m23 0h3m51 0h4M288 375h3m21 0h3m16 0h3m22 0h3m51 0h6M288 376h3m20 0h4m17 0h3m17 0h6m50 0h4m2 0h3M288 377h19m3 0h4m18 0h3m8 0h14m50 0h4m4 0h3M288 378h25m20 0h23m49 0h5m6 0h5M288 379h23m23 0h18m52 0h4m9 0h8m65 0h7M288 380h3m16 0h4m24 0h8m60 0h4m11 0h8m63 0h11M288 381h3m17 0h3m23 0h3m65 0h3m16 0h6m61 0h15M289 382h1m18 0h3m23 0h3m64 0h3m21 0h3m59 0h3m7 0h8M308 383h3m23 0h3m62 0h4m23 0h3m57 0h3m11 0h6M308 384h3m22 0h3m62 0h4m25 0h3m56 0h3m14 0h4M308 385h3m22 0h3m61 0h4m26 0h3m55 0h3m17 0h3M309 386h1m23 0h3m60 0h4m28 0h3m54 0h3m18 0h3M333 387h3m59 0h4m29 0h3m54 0h3m19 0h1M333 388h3m58 0h4m30 0h3m54 0h3M333 389h3m59 0h2m31 0h3m53 0h3M333 390h3m92 0h3m53 0h3M333 391h3m92 0h3m53 0h3M309 392h1m23 0h3m92 0h3m53 0h3M308 393h3m22 0h3m92 0h3m53 0h3M308 394h3m22 0h3m52 0h1m39 0h3m53 0h3M290 395h1m17 0h3m22 0h3m51 0h3m38 0h3m53 0h3M289 396h3m16 0h3m22 0h3m50 0h4m38 0h3m53 0h3m21 0h1M289 397h3m16 0h3m22 0h3m49 0h4m39 0h3m53 0h3m20 0h3M290 398h4m14 0h3m22 0h3m48 0h4m40 0h3m53 0h3m20 0h3M291 399h4m13 0h3m22 0h3m47 0h4m41 0h3m54 0h3m19 0h4M292 400h5m11 0h3m22 0h3m47 0h3m41 0h3m55 0h3m19 0h5M294 401h7m7 0h3m22 0h3m46 0h3m42 0h3m55 0h3m17 0h6M295 402h16m22 0h3m45 0h3m43 0h3m56 0h3m15 0h4m17 0h1M297 403h19m17 0h3m44 0h3m43 0h3m58 0h3m1 0h16m17 0h3M301 404h23m9 0h3m43 0h3m43 0h3m60 0h18m18 0h3M310 405h20m3 0h3m42 0h3m43 0h3m62 0h18m18 0h3M316 406h20m42 0h3m42 0h3m63 0h3m13 0h3m17 0h3M324 407h12m41 0h3m42 0h3m64 0h3m14 0h3m16 0h3M330 408h9m37 0h3m42 0h3m66 0h3m13 0h3m16 0h3M335 409h5m36 0h3m41 0h3m67 0h3m13 0h3m16 0h3M336 410h5m34 0h3m41 0h3m68 0h3m13 0h3m16 0h3M338 411h27m9 0h3m41 0h3m69 0h3m14 0h1m17 0h3M338 412h38m43 0h1m70 0h3m32 0h3M337 413h39m114 0h3m32 0h3M336 414h4m25 0h12m113 0h3m32 0h3M335 415h4m36 0h3m112 0h3m32 0h3M335 416h3m38 0h3m111 0h3m15 0h1m16 0h3M335 417h3m39 0h3m110 0h3m14 0h3m15 0h3M335 418h3m40 0h3m30 0h1m78 0h3m14 0h3m14 0h3M335 419h3m40 0h3m29 0h3m77 0h3m14 0h3m14 0h3M335 420h3m40 0h3m28 0h3m78 0h3m14 0h3m14 0h3M334 421h3m42 0h3m26 0h3m79 0h3m15 0h3m13 0h3M335 422h1m43 0h3m25 0h3m80 0h3m15 0h3m12 0h3M379 423h3m24 0h3m81 0h3m16 0h3m10 0h3M379 424h3m23 0h3m82 0h3m17 0h3m8 0h3M380 425h3m21 0h3m83 0h3m18 0h3m6 0h3M381 426h3m19 0h3m84 0h3m19 0h10M382 427h4m14 0h5m85 0h31M383 428h21m85 0h31M384 429h19m84 0h27M386 430h14m85 0h6M484 431h5M483 432h4M484 433h1M432 483h1m92 0h1M389 484h10m32 0h3m90 0h3M385 485h17m28 0h3m91 0h3M383 486h20m27 0h3m86 0h8M382 487h7m10 0h5m25 0h3m81 0h15M381 488h4m17 0h3m24 0h3m78 0h19m103 0h1M380 489h3m20 0h5m20 0h3m77 0h11m7 0h3m102 0h3M379 490h3m22 0h27m76 0h6m13 0h3m30 0h1m72 0h1M379 491h3m21 0h27m76 0h4m16 0h3m29 0h3M379 492h3m21 0h3m2 0h22m75 0h4m18 0h3m27 0h3M379 493h3m21 0h3m21 0h3m74 0h4m19 0h3m27 0h3M379 494h3m21 0h3m21 0h3m73 0h4m20 0h3m27 0h3M379 495h3m21 0h3m21 0h3m72 0h4m21 0h3m27 0h3M379 496h3m21 0h3m21 0h3m72 0h3m22 0h3m27 0h3M380 497h3m20 0h3m21 0h3m73 0h1m23 0h3m27 0h3M380 498h3m20 0h3m21 0h3m96 0h3m28 0h3M380 499h3m20 0h3m21 0h3m96 0h3m28 0h3M381 500h3m19 0h3m21 0h3m96 0h3m28 0h3M381 501h3m19 0h3m21 0h3m96 0h3m28 0h3M381 502h3m19 0h3m21 0h3m65 0h2m29 0h3m28 0h3M382 503h3m18 0h3m21 0h3m64 0h4m28 0h3m28 0h3M382 504h3m17 0h4m21 0h3m63 0h4m28 0h3m29 0h3M383 505h3m15 0h6m20 0h3m62 0h4m29 0h3m30 0h3M384 506h3m14 0h3m1 0h6m16 0h3m61 0h4m28 0h4m31 0h3M385 507h3m9 0h6m3 0h6m5 0h4m6 0h3m60 0h4m28 0h4m32 0h3M386 508h1m9 0h6m5 0h4m5 0h7m4 0h3m59 0h4m28 0h4m33 0h3M397 509h5m15 0h7m3 0h3m59 0h3m28 0h4m34 0h3m71 0h1M399 510h3m19 0h4m2 0h3m58 0h3m28 0h4m35 0h3m70 0h3M400 511h1m22 0h3m1 0h3m58 0h3m27 0h4m36 0h3m69 0h3M424 512h6m58 0h3m27 0h3m37 0h3m69 0h3M425 513h5m57 0h3m29 0h1m38 0h3m69 0h3M426 514h3m58 0h3m68 0h3m69 0h3M426 515h3m58 0h3m68 0h3m69 0h3M426 516h3m58 0h3m68 0h3m68 0h3M426 517h3m58 0h3m68 0h3m68 0h3M426 518h3m58 0h3m21 0h2m45 0h3m68 0h3M426 519h3m57 0h3m21 0h4m44 0h3m68 0h3M425 520h3m58 0h3m20 0h4m45 0h3m68 0h3M424 521h3m59 0h3m19 0h4m46 0h3m69 0h3M423 522h3m60 0h3m18 0h4m47 0h3m69 0h3M422 523h3m61 0h3m17 0h4m47 0h3m70 0h3M403 524h2m13 0h6m60 0h5m17 0h3m48 0h3m71 0h3M402 525h21m60 0h6m15 0h4m49 0h3m72 0h4m8 0h1M403 526h19m62 0h8m6 0h9m51 0h1m74 0h5m2 0h6M405 527h13m69 0h19m128 0h11M488 528h16m132 0h8M492 529h6m139 0h3M636 530h3M636 531h3M636 532h3M636 533h3M635 534h3M635 535h3M635 536h3M636 537h1M636 545h1M635 546h3M635 547h3M635 548h3M635 549h3M635 550h3M636 551h3M637 552h3M638 553h3M639 554h3M640 555h3M638 556h9M492 557h13m18 0h3m110 0h38M491 558h36m106 0h8m2 0h32M490 559h36m105 0h7m9 0h27M491 560h1m13 0h18m107 0h6M631 561h2M663 627h2M656 628h13m44 0h1M516 629h5m132 0h20m27 0h3m9 0h3M511 630h13m36 0h1m91 0h11m2 0h10m23 0h6m9 0h3M489 631h1m20 0h15m34 0h3m87 0h7m13 0h7m20 0h7m11 0h3M488 632h3m18 0h7m5 0h5m33 0h3m86 0h5m20 0h5m17 0h5m15 0h3M489 633h1m20 0h1m13 0h3m31 0h3m86 0h5m23 0h4m15 0h4m18 0h3M525 634h3m30 0h3m85 0h4m26 0h4m13 0h4m19 0h3M525 635h3m6 0h3m9 0h5m7 0h3m84 0h4m29 0h3m11 0h4m20 0h3M526 636h3m1 0h8m7 0h7m5 0h3m84 0h4m31 0h3m9 0h4m22 0h3M526 637h11m9 0h7m4 0h3m83 0h4m32 0h3m8 0h4m23 0h3M527 638h7m17 0h3m2 0h3m85 0h2m34 0h3m6 0h4m24 0h3M527 639h3m22 0h3m1 0h3m122 0h3m4 0h4m25 0h3M526 640h3m24 0h6m123 0h3m2 0h4m26 0h3M526 641h3m25 0h4m125 0h7m28 0h3M526 642h3m26 0h3m126 0h5m29 0h3M526 643h3m27 0h3m78 0h1m46 0h4m30 0h3M525 644h3m28 0h3m77 0h3m44 0h6m29 0h3M526 645h1m29 0h3m76 0h4m43 0h3m2 0h3m28 0h3M556 646h3m75 0h4m43 0h3m4 0h3m27 0h3M557 647h3m73 0h4m43 0h3m6 0h3m26 0h3M557 648h3m72 0h4m43 0h3m8 0h3m25 0h3M557 649h3m71 0h4m43 0h3m10 0h3m24 0h3M557 650h3m71 0h3m43 0h3m12 0h3m23 0h3M557 651h3m71 0h3m42 0h3m14 0h3m22 0h3M557 652h3m70 0h3m41 0h4m16 0h3m21 0h3M557 653h3m69 0h3m41 0h4m18 0h3m20 0h5M557 654h3m69 0h3m40 0h4m20 0h30m30 0h5M557 655h3m69 0h3m39 0h3m23 0h30m28 0h7M557 656h3m68 0h3m39 0h3m23 0h24m3 0h3m30 0h5M557 657h3m68 0h3m38 0h3m24 0h3m18 0h3M557 658h3m68 0h3m37 0h3m25 0h3m18 0h3M557 659h3m68 0h3m36 0h3m26 0h3m18 0h3M557 660h3m68 0h3m35 0h3m27 0h3m18 0h3M557 661h3m68 0h3m36 0h1m28 0h3m18 0h3M557 662h3m68 0h3m65 0h3m18 0h3M557 663h3m67 0h3m66 0h3m18 0h3M557 664h3m67 0h3m66 0h3m18 0h3M557 665h3m68 0h3m65 0h3m17 0h5M557 666h3m68 0h3m29 0h1m35 0h3m16 0h7M557 667h3m68 0h3m28 0h3m34 0h3m16 0h3m2 0h3M557 668h3m68 0h3m27 0h3m35 0h3m17 0h1m4 0h1M557 669h3m69 0h3m25 0h3m36 0h3M557 670h3m69 0h3m24 0h3m37 0h3M557 671h3m69 0h3m23 0h3m38 0h3M557 672h3m69 0h3m22 0h3m39 0h8M557 673h3m70 0h3m20 0h3m39 0h10M558 674h1m71 0h3m19 0h3m39 0h10M631 675h3m18 0h3m38 0h4M632 676h3m16 0h3m38 0h4M632 677h3m15 0h3m38 0h4m33 0h1M633 678h3m13 0h3m38 0h4m33 0h3M634 679h4m10 0h3m38 0h4m34 0h3M635 680h4m8 0h3m38 0h4m26 0h1m8 0h3M636 681h4m6 0h3m38 0h4m26 0h3m7 0h3M638 682h3m4 0h3m40 0h2m28 0h3m5 0h3M639 683h3m2 0h3m72 0h3m3 0h3M640 684h6m74 0h3m1 0h3M641 685h4m76 0h5M641 686h4m77 0h3M640 687h6m35 0h1m40 0h3M639 688h4m1 0h3m33 0h3m39 0h3M638 689h4m3 0h3m31 0h4m40 0h3M637 690h4m5 0h3m29 0h4m41 0h3M636 691h4m7 0h3m27 0h4m42 0h3m36 0h1M635 692h4m9 0h3m25 0h4m43 0h3m35 0h3M634 693h4m11 0h3m23 0h4m44 0h3m35 0h3M633 694h4m13 0h3m21 0h4m46 0h3m34 0h3M632 695h4m15 0h3m19 0h4m46 0h7m30 0h3M215 696h2m414 0h4m17 0h3m1 0h20m45 0h11m28 0h3M214 697h4m413 0h3m19 0h22m45 0h4m3 0h8m25 0h3M215 698h2m413 0h3m21 0h21m43 0h5m7 0h6m24 0h3M630 699h3m21 0h3m15 0h3m41 0h5m11 0h5m5 0h20M629 700h3m22 0h3m15 0h3m40 0h5m15 0h26M629 701h3m22 0h3m15 0h3m39 0h4m18 0h25M629 702h3m22 0h3m15 0h3m38 0h4m20 0h5m16 0h3M630 703h1m23 0h3m15 0h3m37 0h4m21 0h3m18 0h3M654 704h3m16 0h1m37 0h4m22 0h3m18 0h3M654 705h3m54 0h3m23 0h3m18 0h3M654 706h3m55 0h1m24 0h3m18 0h3M654 707h3m80 0h3m18 0h3M654 708h3m80 0h3m18 0h3M654 709h3m80 0h3m18 0h3M654 710h3m80 0h3m18 0h3M654 711h3m47 0h2m31 0h3m18 0h3M629 712h1m24 0h3m46 0h4m30 0h3m18 0h3M628 713h3m23 0h3m45 0h4m31 0h3m18 0h3M629 714h3m22 0h3m44 0h4m32 0h3m18 0h3M630 715h3m21 0h3m9 0h2m32 0h4m32 0h25M631 716h5m18 0h3m8 0h4m30 0h4m33 0h25M632 717h9m13 0h14m13 0h1m17 0h3m34 0h26M633 718h34m13 0h3m15 0h3m35 0h3m20 0h3M636 719h31m14 0h3m14 0h3m34 0h3m21 0h3M641 720h15m9 0h3m14 0h3m12 0h3m34 0h3m23 0h3M653 721h3m10 0h3m14 0h3m10 0h3m34 0h3m24 0h3M653 722h3m11 0h1m16 0h5m7 0h3m33 0h3m25 0h3m99 0h1M654 723h3m28 0h9m1 0h3m33 0h3m26 0h3m98 0h3M654 724h3m27 0h13m33 0h3m28 0h3m96 0h3M654 725h3m26 0h3m3 0h8m34 0h1m29 0h3m96 0h3M655 726h1m26 0h3m9 0h3m64 0h3m96 0h3M678 727h6m11 0h3m63 0h3m96 0h3M677 728h6m12 0h3m63 0h3m96 0h3M678 729h4m13 0h3m63 0h3m96 0h3M696 730h3m25 0h1m36 0h3m96 0h3M696 731h3m24 0h3m35 0h3m96 0h3M697 732h3m22 0h3m36 0h3m96 0h3M697 733h3m21 0h3m37 0h3m96 0h3M697 734h3m20 0h3m37 0h3m97 0h3M698 735h3m18 0h3m38 0h3m98 0h3M699 736h3m13 0h6m39 0h3m98 0h3m28 0h1M700 737h20m40 0h3m99 0h3m25 0h4M700 738h19m40 0h3m101 0h3m23 0h4M700 739h18m41 0h3m101 0h3m22 0h4M700 740h3m12 0h3m40 0h3m103 0h3m20 0h3M700 741h3m12 0h3m39 0h3m104 0h3m19 0h3M699 742h3m13 0h3m38 0h3m106 0h3m17 0h3M699 743h3m13 0h3m37 0h3m107 0h3m16 0h3M699 744h3m13 0h3m36 0h3m109 0h3m14 0h3M699 745h3m13 0h3m35 0h3m110 0h3m13 0h3M699 746h3m13 0h3m34 0h3m112 0h3m11 0h3M699 747h3m13 0h3m35 0h1m114 0h3m9 0h3M699 748h3m13 0h3m151 0h3m7 0h3M83 749h1m615 0h3m13 0h3m152 0h3m5 0h3M82 750h3m614 0h3m13 0h3m153 0h3m3 0h3M82 751h3m614 0h3m13 0h3m154 0h7M83 752h1m615 0h3m13 0h3m28 0h1m125 0h7M699 753h3m13 0h3m27 0h3m123 0h9M699 754h3m13 0h3m26 0h3m123 0h4m4 0h3M655 755h1m43 0h3m13 0h3m25 0h3m123 0h4m6 0h3M654 756h3m42 0h3m13 0h3m24 0h3m123 0h4m8 0h3M654 757h3m42 0h3m13 0h3m23 0h3m123 0h4m10 0h3M654 758h3m42 0h19m22 0h3m123 0h4m12 0h4M654 759h3m42 0h21m18 0h4m123 0h4m14 0h6M654 760h3m38 0h29m10 0h7m124 0h3m16 0h7M655 761h1m36 0h8m17 0h23m124 0h3m19 0h6M691 762h8m21 0h18m125 0h3m23 0h6M692 763h3m29 0h10m128 0h3m26 0h5M861 764h3m28 0h4M862 765h1m31 0h1M724 860h11M723 861h14m27 0h1m133 0h5M722 862h16m25 0h3m129 0h10M723 863h1m11 0h5m22 0h3m126 0h16M737 864h5m19 0h3m125 0h9m5 0h6M738 865h6m15 0h4m124 0h8m10 0h5m22 0h8M740 866h6m12 0h4m122 0h7m16 0h4m20 0h14M742 867h5m10 0h4m122 0h6m20 0h4m15 0h21M744 868h4m8 0h4m122 0h5m23 0h4m12 0h6m8 0h10M746 869h3m6 0h4m122 0h4m26 0h4m10 0h6m14 0h6M747 870h3m4 0h4m122 0h4m29 0h3m8 0h4m21 0h3M748 871h3m2 0h4m122 0h4m31 0h3m6 0h4m22 0h3M749 872h7m122 0h4m33 0h3m4 0h4m24 0h3M750 873h5m124 0h2m35 0h3m2 0h4m26 0h3M751 874h3m163 0h7m27 0h3M751 875h3m164 0h5m28 0h3M751 876h3m165 0h3m29 0h3M750 877h4m164 0h4m29 0h3M749 878h6m117 0h1m44 0h6m28 0h3M748 879h3m2 0h3m115 0h3m42 0h4m1 0h3m27 0h3M747 880h3m4 0h3m113 0h4m41 0h4m3 0h3m26 0h3M746 881h3m6 0h3m111 0h4m41 0h4m5 0h3m25 0h3M745 882h3m8 0h3m109 0h4m41 0h4m7 0h3m24 0h3M744 883h3m10 0h3m107 0h4m41 0h4m9 0h3m23 0h3M743 884h3m12 0h3m105 0h4m41 0h4m11 0h3m22 0h3M742 885h3m13 0h3m105 0h3m42 0h3m13 0h3m20 0h3M741 886h3m15 0h3m104 0h3m41 0h3m15 0h3m19 0h3M740 887h3m16 0h3m103 0h3m42 0h3m16 0h3m16 0h4M739 888h3m17 0h3m103 0h3m41 0h3m18 0h3m14 0h4M738 889h3m19 0h3m101 0h3m40 0h4m20 0h3m12 0h4M737 890h3m20 0h3m101 0h3m39 0h4m22 0h3m10 0h4M737 891h3m21 0h3m99 0h3m39 0h4m24 0h3m8 0h4M736 892h3m23 0h3m98 0h3m38 0h4m26 0h3m6 0h4M737 893h1m24 0h3m98 0h3m37 0h4m28 0h3m4 0h4M762 894h4m97 0h3m36 0h4m30 0h3m2 0h4M763 895h2m97 0h3m36 0h4m32 0h7M862 896h3m37 0h2m34 0h5M862 897h3m74 0h3M861 898h3m75 0h3M861 899h3m75 0h3M861 900h3m75 0h3M861 901h3m31 0h1m43 0h3M861 902h3m30 0h3m42 0h3M862 903h3m28 0h4m42 0h3M862 904h3m27 0h4m43 0h3M863 905h3m25 0h4m43 0h4m51 0h1M863 906h3m24 0h4m43 0h6m49 0h3M864 907h3m22 0h4m43 0h3m2 0h3m48 0h3M864 908h3m22 0h3m43 0h3m4 0h3m48 0h3M865 909h3m20 0h3m43 0h3m6 0h4m45 0h7M866 910h3m17 0h4m41 0h5m8 0h5m42 0h12M867 911h3m14 0h5m40 0h6m10 0h5m39 0h5m1 0h10M867 912h3m13 0h5m40 0h6m13 0h4m37 0h4m7 0h7M868 913h3m11 0h4m41 0h4m18 0h3m35 0h4m12 0h4M869 914h3m9 0h4m41 0h4m19 0h3m34 0h4m15 0h3M870 915h3m7 0h4m41 0h4m20 0h3m34 0h3m17 0h3M871 916h3m5 0h4m41 0h4m21 0h3m33 0h3m18 0h3M872 917h3m3 0h4m41 0h4m23 0h3m32 0h3m19 0h3M873 918h3m1 0h4m43 0h2m24 0h3m32 0h3m19 0h3M874 919h6m70 0h3m32 0h3m19 0h3M874 920h5m72 0h3m30 0h3m20 0h3M873 921h7m71 0h3m30 0h3m20 0h3M872 922h4m2 0h3m70 0h3m30 0h3m20 0h3M871 923h4m4 0h3m35 0h1m33 0h3m30 0h3m20 0h3M870 924h4m6 0h3m33 0h3m32 0h3m30 0h3m21 0h3M869 925h4m8 0h3m31 0h4m32 0h3m30 0h3m21 0h3M868 926h4m10 0h3m29 0h4m33 0h3m30 0h3m21 0h3M868 927h3m12 0h3m27 0h4m33 0h3m31 0h3m21 0h16M867 928h3m14 0h3m25 0h4m34 0h3m31 0h3m22 0h17M867 929h3m15 0h3m23 0h4m35 0h3m31 0h3m22 0h19M867 930h3m16 0h3m22 0h3m36 0h3m31 0h3m21 0h3m13 0h5M866 931h3m18 0h3m20 0h3m37 0h3m32 0h3m19 0h3m16 0h4M865 932h3m20 0h3m19 0h3m37 0h3m32 0h3m17 0h4m18 0h3M865 933h3m21 0h3m18 0h3m36 0h3m34 0h3m15 0h4m20 0h3M865 934h3m22 0h3m16 0h3m36 0h3m35 0h3m14 0h4m22 0h3M865 935h3m23 0h3m14 0h3m36 0h3m37 0h3m12 0h4m23 0h3M865 936h3m24 0h3m12 0h3m36 0h3m38 0h3m11 0h4m24 0h3M865 937h3m25 0h3m10 0h3m36 0h3m40 0h3m9 0h4m26 0h3M865 938h3m26 0h3m8 0h3m36 0h3m42 0h3m7 0h4m27 0h3M865 939h3m27 0h12m38 0h1m44 0h3m5 0h4m28 0h3M866 940h3m26 0h12m84 0h3m3 0h4m29 0h3M866 941h3m25 0h14m84 0h3m1 0h4m31 0h3M866 942h3m24 0h4m9 0h3m84 0h6m32 0h3M866 943h3m23 0h4m11 0h3m84 0h4m33 0h3M866 944h3m22 0h4m13 0h3m27 0h1m55 0h3m35 0h3M867 945h3m20 0h4m15 0h3m25 0h3m54 0h3m35 0h3M867 946h3m19 0h4m16 0h3m24 0h3m55 0h3m35 0h3M867 947h3m18 0h4m18 0h3m22 0h3m56 0h3m36 0h3M867 948h3m17 0h4m19 0h3m21 0h3m57 0h4m35 0h3M868 949h4m15 0h3m21 0h6m16 0h3m57 0h6m34 0h3M869 950h4m12 0h4m23 0h8m7 0h8m58 0h3m1 0h3m33 0h3M870 951h18m25 0h21m58 0h3m3 0h3m33 0h3M872 952h15m30 0h16m59 0h3m4 0h3m31 0h5M873 953h12m35 0h7m64 0h3m6 0h3m29 0h5M990 954h3m8 0h4m25 0h4M989 955h3m10 0h7m19 0h5M988 956h3m12 0h10m14 0h5M987 957h3m15 0h25M985 958h4m20 0h19M983 959h5m25 0h14M982 960h5M981 961h4M980 962h3M980 963h3M980 964h1m1 0h1M980 965h3M980 966h3M980 967h3M980 968h3M980 969h3M980 970h3M980 971h3M979 972h3M980 973h1M972 979h1M962 980h12M961 981h3m1 0h8M98 982h2m860 0h12M97 983h4m858 0h3m57 0h5M98 984h2m820 0h11m28 0h3m54 0h13M916 985h17m25 0h3m52 0h19M914 986h21m23 0h3m48 0h10m5 0h11M913 987h7m11 0h6m20 0h3m46 0h10m13 0h7M912 988h4m17 0h5m18 0h3m46 0h8m19 0h5M911 989h4m20 0h4m16 0h3m46 0h5m25 0h3M911 990h3m23 0h3m14 0h3m46 0h4m28 0h3M910 991h3m25 0h3m12 0h3m46 0h4m29 0h3M906 992h2m1 0h3m27 0h3m9 0h4m46 0h4m31 0h3M905 993h7m28 0h3m6 0h5m46 0h4m32 0h3M906 994h5m30 0h12m47 0h3m33 0h3M908 995h4m30 0h9m50 0h1m35 0h3M909 996h3m29 0h9m87 0h3M909 997h3m28 0h4m4 0h3m86 0h3M909 998h3m27 0h4m6 0h3m85 0h3M910 999h3m25 0h4m8 0h3m84 0h3M910 1000h3m24 0h4m10 0h3m39 0h2m42 0h3M910 1001h3m23 0h4m12 0h3m37 0h4m41 0h3M910 1002h3m22 0h4m14 0h3m35 0h4m42 0h3M314 1003h1m596 0h3m20 0h4m16 0h3m33 0h4m43 0h3M313 1004h3m595 0h3m19 0h4m17 0h3m32 0h4m44 0h3M314 1005h1m597 0h3m17 0h4m19 0h3m30 0h4m45 0h3M15 1006h2m896 0h4m15 0h3m20 0h3m29 0h4m46 0h3m41 0h1M14 1007h4m896 0h10m7 0h3m21 0h3m29 0h3m47 0h3m40 0h3M14 1008h3m898 0h13m2 0h3m22 0h3m29 0h3m47 0h3m39 0h3M15 1009h1m901 0h15m24 0h3m27 0h3m48 0h3m39 0h3M924 1010h7m25 0h3m27 0h3m48 0h3m39 0h3M927 1011h3m26 0h3m27 0h3m48 0h3m39 0h3M927 1012h3m26 0h3m27 0h3m48 0h3m39 0h3M927 1013h3m27 0h3m25 0h3m48 0h3m40 0h3M927 1014h3m27 0h3m25 0h3m48 0h3m40 0h3M927 1015h3m27 0h3m25 0h3m48 0h3m39 0h3M927 1016h3m27 0h3m24 0h3m48 0h3m40 0h3M927 1017h3m27 0h3m24 0h3m47 0h3m41 0h3M927 1018h3m27 0h3m24 0h3m46 0h3m42 0h3M927 1019h3m27 0h3m23 0h3m46 0h3m43 0h3M927 1020h3m27 0h3m23 0h3m45 0h3m44 0h3M927 1021h3m27 0h3m23 0h3m44 0h3m45 0h3M927 1022h3m27 0h3m23 0h3m43 0h3m47 0h3M927 1023h3m27 0h3m23 0h3m44 0h1m48 0h3M928 1024h3m26 0h3m24 0h3m92 0h3M928 1025h3m26 0h3m24 0h3m92 0h3M929 1026h3m25 0h3m24 0h3m92 0h3M929 1027h4m23 0h3m25 0h3m92 0h3M930 1028h4m21 0h3m26 0h3m92 0h3M931 1029h6m18 0h3m27 0h3m34 0h1m56 0h3M933 1030h8m13 0h3m28 0h3m33 0h3m55 0h3M934 1031h10m10 0h3m28 0h3m32 0h3m56 0h3M937 1032h10m6 0h3m30 0h3m30 0h3m57 0h3M941 1033h10m1 0h3m31 0h3m29 0h3m58 0h3M944 1034h10m32 0h4m27 0h3m59 0h3M947 1035h7m33 0h5m24 0h3m60 0h3M951 1036h3m34 0h7m18 0h5m61 0h3M952 1037h1m37 0h27m62 0h3M992 1038h24m63 0h3M995 1039h18m66 0h3M1079 1040h3M1079 1041h3M1079 1042h3M1079 1043h3M1079 1044h3M1079 1045h3M1080 1046h3M1080 1047h3M1081 1048h1M1015 1078h7M33 1079h2m973 0h38M32 1080h4m971 0h41M33 1081h2m971 0h9m7 0h27M1007 1082h1m38 0h2"/>
<path stroke="rgb(240,150,40)" d="M54 5h1M79 8h1M50 9h1m29 0h1M48 11h1m34 0h1M28 12h1m2 0h1m3 0h1m2 0h1m1 0h1m1 0h1m2 0h1m1 0h1m32 0h1m3 0h1M88 13h1M26 14h1m64 0h1M25 15h1m67 0h1M24 16h1M77 17h1M98 19h1M53 20h1M121 22h1M55 23h1m43 0h1M16 24h1m39 0h1m4 0h1m6 0h1m1 0h1M15 25h1m39 0h1M14 26h1m39 0h1m18 0h1m48 0h1M53 27h1m20 0h1M12 28h1m62 0h1M53 29h1m69 0h1M52 30h1m46 0h1M12 31h1M76 32h1m22 0h1m2 0h1m13 0h1m1 0h1m1 0h1M77 33h1m20 0h1m25 0h1M51 34h1m1028 0h1M12 35h1m111 0h1M95 36h1M94 37h1M12 38h1m80 0h1m30 0h1M78 39h1m13 0h1M12 40h1m78 0h1m32 0h1M12 42h1m76 0h1m34 0h1M88 43h1M83 44h1M12 45h1m111 0h1M12 47h1m69 0h1m4 0h1M11 48h1M80 49h1m8 0h1m34 0h1M9 50h1m69 0h1M34 51h1m43 0h1M30 52h1m93 0h1M20 53h1m6 0h1m1 0h1M5 54h1m20 0h1M23 55h1m1 0h1m48 0h1m48 0h1M24 56h1m92 0h1m4 0h1M72 57h1m27 0h1M71 58h1m27 0h1m22 0h1M70 59h1M69 60h1m29 0h1M24 61h1m43 0h1M122 63h1M122 65h1M99 67h1M24 68h1m36 0h1m60 0h1M60 69h1M24 70h1m34 0h1m62 0h1M58 71h1M57 72h1m64 0h1M26 73h1m73 0h1M27 74h1m27 0h1m104 0h1m1 0h1m2 0h1m1 0h1M28 75h1m76 0h1m4 0h1m1 0h1m2 0h1m6 0h1m48 0h1M32 76h1m123 0h1m15 0h1M17 77h1m15 0h1m64 0h1m25 0h1m50 0h1M39 78h1m11 0h1M8 79h1m41 0h1m125 0h1M9 80h1m2 0h1m36 0h1m127 0h1M127 81h1M47 82h1m130 0h1M11 83h1m32 0h1m706 0h1M12 84h1M178 86h1M47 87h1m85 0h1M13 88h1m29 0h1m93 0h1m1 0h1m4 0h1M42 89h1m6 0h1m97 0h1m30 0h1M14 91h1m25 0h1m90 0h1m46 0h1M39 92h1m90 0h1M15 93h1m22 0h1m90 0h1m48 0h1M37 94h1m90 0h1m23 0h1M36 95h1m90 0h1M19 98h1m13 0h1m43 0h1m48 0h1m856 0h1M23 99h1m6 0h1m1 0h1m25 0h1m1 0h1m6 0h1m111 0h1M57 100h1m15 0h1m86 0h1m3 0h1m2 0h1m1 0h1m1 0h1m6 0h1M156 101h1m16 0h1m1 0h1M32 102h1m90 0h1M121 104h1m34 0h1m20 0h1M75 105h1M156 106h1M117 108h1m38 0h1M116 109h1m59 0h1M75 110h1M156 111h1M75 112h1M156 113h1M75 115h1m80 0h1M32 116h1m76 0h1M56 117h1m51 0h1M32 118h1M157 119h1M32 120h1M22 121h1m81 0h1M26 122h1m29 0h1m1 0h1m4 0h1m1 0h1m2 0h1m1 0h1m1 0h1m2 0h1m83 0h1m1 0h1m1 0h1m2 0h1m3 0h1m2 0h1m1 0h1M29 123h1m25 0h1m46 0h1m55 0h1M33 124h1m1 0h1m2 0h1m1 0h1m1 0h1m2 0h1m3 0h1m2 0h1m24 0h1M98 126h1M81 127h1m13 0h1m81 0h1m6 0h1M94 128h1M93 129h1m83 0h1M92 130h1m107 0h1M91 131h1m109 0h1m1 0h1M177 132h1M87 133h1M178 135h1M203 136h1M88 137h1m115 0h1M88 139h1M178 142h1m25 0h1M88 144h1m115 0h1M178 145h1M89 147h1M179 148h1M241 149h1M205 150h1M179 151h1m22 0h1m1 0h1M94 152h1m85 0h1m4 0h1m1 0h1m4 0h1m3 0h1m2 0h1m6 0h1M207 153h1M208 154h1M76 156h1m24 0h1m2 0h1m1 0h1m1 0h1m2 0h1m1 0h1m1 0h1m121 0h1M119 157h1m116 0h1M123 158h1m50 0h1M122 159h1m50 0h1m39 0h1M74 160h1m25 0h1M122 161h1m48 0h1m59 0h1M74 162h1M122 163h1m93 0h1M100 164h1m116 0h1M74 165h1m143 0h1M122 166h1m97 0h1m1 0h1m1 0h1M74 167h1m25 0h1m118 0h1m6 0h1M227 168h1M100 169h1M122 170h1m93 0h1M75 171h1m24 0h1m60 0h1m53 0h1M76 172h1m137 0h1M101 173h1m20 0h1m36 0h1M158 174h1m53 0h1m20 0h1M77 175h1m23 0h1m20 0h1m111 0h1M79 176h1m29 0h1m125 0h1M80 177h1m23 0h1m22 0h1m1 0h1m2 0h1m78 0h1M82 178h1m3 0h1m2 0h1m1 0h1m1 0h1m6 0h1m34 0h1m6 0h1m2 0h1m64 0h1M99 179h1m48 0h1m2 0h1m57 0h1m76 0h1M152 180h1m88 0h1M127 184h1M152 185h1M202 186h1M152 187h1M199 189h1M198 190h1M152 192h1M152 196h1M190 198h1M152 199h1m36 0h1M130 200h1M131 201h1M151 202h1m34 0h1M131 203h1m4 0h1M137 204h1m4 0h1m1 0h1m6 0h1M150 205h1m93 0h1M152 206h1M153 207h1M154 208h1m90 0h1M179 209h1M178 210h1m66 0h1m72 0h1M177 211h1M174 212h1M159 213h1m153 0h1M172 214h1m66 0h1M171 215h1m66 0h1m90 0h1M163 216h1m6 0h1m120 0h1m39 0h1m365 0h1M164 217h1m71 0h1M165 218h1m69 0h1m69 0h1M167 219h1m66 0h1m60 0h1m8 0h1M166 220h1m129 0h1m6 0h1M302 221h1m30 0h1M166 222h1m64 0h1m69 0h1M166 224h1M167 226h1M168 227h1m130 0h1M161 231h1m60 0h1M333 232h1M174 233h1M175 234h1m43 0h1M176 235h1m41 0h1M157 236h1m59 0h1m114 0h1M156 237h1m146 0h1M215 238h1m78 0h1m9 0h1M214 239h1M311 240h1m13 0h1M149 241h1m30 0h1m134 0h1m8 0h1M319 242h1m1 0h1M205 244h1M208 245h1m1 0h1M282 246h1M246 282h1M179 286h1m181 0h1m6 0h1M357 287h1m13 0h1M326 288h1m27 0h1M318 289h1m9 0h1m24 0h1m25 0h1m1 0h1M310 290h1m2 0h1m1 0h1m15 0h1m20 0h1m25 0h1m18 0h1M216 291h1m92 0h1m25 0h1m13 0h1m48 0h1M306 292h1m41 0h1m29 0h1m20 0h1M305 293h1m41 0h1M238 294h1m65 0h1m34 0h1m6 0h1m31 0h1M219 295h1m125 0h1M220 296h1m123 0h1M343 297h1M227 299h1m150 0h1M222 301h1m120 0h1m34 0h1M221 302h1m181 0h1M220 303h1m16 0h1M219 304h1m18 0h1m55 0h1m46 0h1m36 0h1M218 305h1m74 0h1m46 0h1m62 0h1M292 306h1m53 0h1M347 307h1M348 308h1M291 309h1m102 0h1m1 0h1m4 0h1m1 0h1M290 310h1M240 311h1M377 312h1M213 313h1m76 0h1m62 0h1m22 0h1m27 0h1M354 314h1M241 315h1m48 0h1m64 0h1m48 0h1M356 317h1M210 318h1m78 0h1m67 0h1M242 319h1m115 0h1m46 0h1M242 321h1M241 324h1m123 0h1M240 325h1m121 0h1m3 0h1m39 0h1M288 326h1m72 0h1M360 327h1M289 328h1m69 0h1M215 329h1m141 0h1m48 0h1M216 331h1m73 0h1m65 0h1m50 0h1M236 332h1m118 0h1M221 333h1m10 0h1m144 0h1m29 0h1M378 334h1m6 0h1m2 0h1m8 0h1m4 0h1m1 0h1m1 0h1M291 335h1m60 0h1m29 0h1m25 0h1M416 336h1m3 0h1M415 337h1M349 338h1m29 0h1m29 0h1m4 0h1M294 339h1m53 0h1m64 0h1M305 340h1m41 0h1m31 0h1m32 0h1M304 341h1M297 343h1m3 0h1m76 0h1M296 344h1M295 345h1M294 346h1m11 0h1m71 0h1M293 347h1m13 0h1m32 0h1m71 0h1M292 348h1m15 0h1m30 0h1m38 0h1M291 349h1m46 0h1M378 350h1M290 352h1m44 0h1m41 0h1m34 0h1M289 353h1m23 0h1M288 354h1m25 0h1M315 355h1m16 0h1M317 356h1m13 0h1M287 357h1m30 0h1m10 0h1M319 358h1M328 359h1M327 360h1M286 361h1m39 0h1m85 0h1M325 362h1M324 365h1M325 366h1M413 367h1M286 368h1M287 371h1m125 0h1M313 376h1M312 377h1m20 0h1m18 0h1m55 0h1M290 378h1m1 0h1m1 0h1m4 0h1m1 0h1m2 0h1m29 0h1m8 0h1m2 0h1m1 0h1m1 0h1M289 379h1m48 0h1m1 0h1M421 380h1m69 0h1m1 0h1m2 0h1M289 381h1m135 0h1m71 0h1m1 0h1M335 382h1m90 0h1m74 0h1M427 383h1m76 0h1M487 384h1M334 385h1m64 0h1m86 0h1M429 386h1M486 387h1M334 388h1m94 0h1M429 391h1m55 0h1M429 393h1m55 0h1M309 394h1M429 395h1M309 396h1M290 397h1m43 0h1M291 398h1m137 0h1m55 0h1m22 0h1M292 399h1m92 0h1M309 401h1m118 0h1m57 0h1m20 0h1M334 402h1M302 403h1m2 0h1m3 0h1m195 0h1M313 404h1m1 0h1m18 0h1m158 0h1m1 0h1m1 0h1m2 0h1m1 0h1M319 405h1M325 406h1m3 0h1m4 0h1M331 407h1m1 0h1M335 408h1m41 0h1m113 0h1m34 0h1M338 409h1M340 412h1m6 0h1m4 0h1m8 0h1M339 413h1m27 0h1m3 0h1M338 414h1M337 415h1m153 0h1M336 416h1M491 417h1m16 0h1M508 419h1M336 420h1m188 0h1M380 421h1M491 424h1m30 0h1M381 425h1m139 0h1M382 426h1m130 0h1m6 0h1M383 427h1m130 0h1m1 0h1m1 0h1M401 428h1m90 0h1m6 0h1m1 0h1m4 0h1m1 0h1m4 0h1M386 429h1m1 0h1m2 0h1m1 0h1m1 0h1m2 0h1M488 430h1M391 485h1m1 0h1m4 0h1M385 486h1m1 0h1m13 0h1m123 0h1M384 487h1m134 0h1m2 0h1m1 0h1M430 488h1m83 0h1M527 489h1M380 491h1m27 0h1m6 0h1m1 0h1m6 0h1m83 0h1m18 0h1M428 492h1M380 493h1m23 0h1m101 0h1m51 0h1M505 494h1M404 495h1m99 0h1m23 0h1M380 496h1M381 497h1m22 0h1m123 0h1M381 499h1m46 0h1M404 500h1m153 0h1M382 501h1m45 0h1M404 502h1M527 503h1M383 504h1m111 0h1m62 0h1M403 505h1m90 0h1M428 506h1m64 0h1M401 507h1m121 0h1M398 508h1m18 0h1m1 0h1m8 0h1m62 0h1m30 0h1m36 0h1M521 509h1M520 510h1m111 0h1M426 513h1m1 0h1m130 0h1m71 0h1M427 514h1m60 0h1M559 515h1m71 0h1M427 516h1m202 0h1M427 518h1m202 0h1M487 519h1M426 520h1m83 0h1M425 521h1m83 0h1M424 522h1m62 0h1m20 0h1m50 0h1m71 0h1M507 523h1M487 524h1M420 525h1m65 0h1m71 0h1m74 0h1M408 526h1M489 527h1m1 0h1m11 0h1m132 0h1m3 0h1M495 528h1m1 0h1M638 529h1M637 530h1M637 532h1M636 534h1M636 550h1M637 551h1M642 556h1M643 557h1m1 0h1M493 558h1m6 0h1m3 0h1m20 0h1m111 0h1m9 0h1m1 0h1m1 0h1m2 0h1m1 0h1m6 0h1m6 0h1M508 559h1m4 0h1m1 0h1m6 0h1m111 0h1M663 628h1M660 629h1m1 0h1M516 630h1m1 0h1m135 0h1m45 0h1m13 0h1M513 631h1m1 0h1m6 0h1m151 0h1M510 632h1m139 0h1m24 0h1m20 0h1M525 633h1m123 0h1m27 0h1m17 0h1M559 634h1m88 0h1m29 0h1m15 0h1M647 635h1m45 0h1m23 0h1M527 636h1m6 0h1m15 0h1m95 0h1m71 0h1M530 637h1m1 0h1m18 0h1m6 0h1m85 0h1M529 638h1m151 0h1m8 0h1m27 0h1M682 639h1m6 0h1M527 640h1m160 0h1M687 641h1M556 642h1m129 0h1m32 0h1M557 643h1M637 644h1m46 0h1M557 645h1m125 0h1m4 0h1M636 646h1m52 0h1M558 647h1m76 0h1m45 0h1m37 0h1M634 648h1m45 0h1M558 649h1m74 0h1m45 0h1m39 0h1M632 650h1M558 651h1m118 0h1m41 0h1M695 652h1M675 653h1M558 654h1m71 0h1m90 0h1M699 655h1m1 0h1m2 0h1m1 0h1m4 0h1m1 0h1m1 0h1m9 0h1m31 0h1m2 0h1M558 656h1M697 657h1m20 0h1M697 659h1M629 660h1M629 662h1m88 0h1M558 663h1m69 0h1M697 664h1m20 0h1M717 665h1m1 0h1M697 666h1M697 669h1M558 670h1M697 673h1m4 0h1M631 674h1M632 675h1m20 0h1m41 0h1M694 676h1M633 677h1m17 0h1m41 0h1M634 678h1M649 679h1m41 0h1m36 0h1M648 680h1m41 0h1M638 681h1m8 0h1m41 0h1M639 682h1M645 683h1m74 0h1M644 684h1m76 0h1M642 686h1M641 687h1m81 0h1M640 688h1m4 0h1M639 689h1m6 0h1m34 0h1M638 690h1m41 0h1M679 691h1M635 693h1m41 0h1m46 0h1M634 694h1m41 0h1m48 0h1M633 695h1m18 0h1m22 0h1m48 0h1M632 696h1m95 0h1m32 0h1M216 697h1m440 0h1m1 0h1m4 0h1m1 0h1m2 0h1m3 0h1M733 698h1m27 0h1M655 699h1m62 0h1M630 700h1m86 0h1m27 0h1m1 0h1m4 0h1m1 0h1m1 0h1M655 701h1m60 0h1m22 0h1M673 702h1m41 0h1m22 0h1m20 0h1M655 704h1m57 0h1M738 705h1m20 0h1M655 706h1M738 707h1M738 709h1M655 711h1M759 712h1M655 713h1m48 0h1M630 714h1m107 0h1m20 0h1M655 715h1m46 0h1M701 716h1m39 0h1m1 0h1m6 0h1m1 0h1m2 0h1m1 0h1M635 717h1m29 0h1m34 0h1M636 718h1m1 0h1m18 0h1m4 0h1m1 0h1m34 0h1m60 0h1M642 719h1m4 0h1m1 0h1m1 0h1m13 0h1M683 720h1M654 721h1m29 0h1m76 0h1M687 723h1M693 724h1m1 0h1M655 725h1m38 0h1m67 0h1M679 728h1m16 0h1M861 731h1M762 732h1M698 733h1m162 0h1M761 735h1M892 737h1M702 738h1m2 0h1m1 0h1m1 0h1m4 0h1m176 0h1M701 739h1m58 0h1M759 740h1M716 741h1m41 0h1m106 0h1M866 742h1M716 743h1M755 744h1m111 0h1M700 745h1m53 0h1M753 746h1M700 747h1M870 748h1M871 749h1M716 750h1m155 0h1M83 751h1M700 752h1m15 0h1m156 0h1m1 0h1m1 0h1M746 753h1m125 0h1M700 754h1m44 0h1m125 0h1M716 755h1m27 0h1m125 0h1M700 756h1M655 757h1m60 0h1M741 758h1m125 0h1M702 759h1m2 0h1m6 0h1m1 0h1m25 0h1m125 0h1m17 0h1M655 760h1m62 0h1m20 0h1m146 0h1M696 761h1m1 0h1m22 0h1m13 0h1m153 0h1M725 762h1m6 0h1m158 0h1M892 763h1m1 0h1M731 861h1m1 0h1M898 862h1m1 0h1M904 863h1M894 864h1m10 0h1M741 865h1m148 0h1M742 866h1m16 0h1m127 0h1m46 0h1m3 0h1M744 867h1m13 0h1m125 0h1m1 0h1m53 0h1m1 0h1M929 868h1m15 0h1m2 0h1M926 869h1m22 0h1M748 870h1m6 0h1M749 871h1m4 0h1m160 0h1m8 0h1m25 0h1M750 872h1m2 0h1m125 0h1m36 0h1m6 0h1m27 0h1M752 873h1m169 0h1M921 874h1M752 875h1m167 0h1m31 0h1M752 877h1m167 0h1M919 878h1m32 0h1M872 879h1m45 0h1M917 880h1m34 0h1M915 882h1m36 0h1M914 883h1m11 0h1M759 884h1m107 0h1m45 0h1m13 0h1M912 885h1M760 886h1m106 0h1m43 0h1m39 0h1M866 887h1M761 889h1m186 0h1M865 890h1m41 0h1m39 0h1M738 891h1m23 0h1m143 0h1m27 0h1m11 0h1M737 892h1m25 0h1m181 0h1M904 893h1m39 0h1M763 894h1m100 0h1m38 0h1m39 0h1M942 895h1M940 897h1M862 898h1M940 899h1M862 900h1M940 902h1M894 903h1M863 904h1m29 0h1m46 0h1M864 905h1m74 0h1M891 906h1m46 0h1M890 907h1m46 0h1m4 0h1m50 0h1M936 908h1m6 0h1m50 0h1M935 909h1M934 910h1m10 0h1m46 0h1m4 0h1M886 911h1M885 912h1m104 0h1M884 913h1m44 0h1m20 0h1m38 0h1M883 914h1M871 915h1m10 0h1m67 0h1m36 0h1M872 916h1m53 0h1M880 917h1m43 0h1m83 0h1M879 918h1M878 919h1M875 920h1m1 0h1m74 0h1m55 0h1M874 921h1M873 922h1m78 0h1m32 0h1m22 0h1M872 923h1M871 924h1m45 0h1m67 0h1M869 926h1m13 0h1m32 0h1m92 0h1M884 927h1M951 928h1m60 0h1m3 0h1m2 0h1m1 0h1m1 0h1M868 929h1m44 0h1m111 0h1M1026 930h1M1008 931h1M866 934h1m24 0h1m18 0h1m76 0h1M909 935h1m120 0h1M908 936h1M907 937h1m81 0h1m41 0h1M866 938h1m39 0h1m38 0h1m44 0h1m10 0h1M905 939h1m125 0h1M867 940h1m29 0h1m1 0h1m2 0h1m1 0h1M867 942h1m27 0h1m11 0h1M894 943h1m13 0h1m123 0h1M893 944h1m139 0h1M868 945h1m23 0h1m17 0h1m27 0h1M891 946h1m141 0h1M890 947h1m104 0h1M868 948h1m20 0h1m106 0h1m37 0h1M869 949h1M871 950h1m41 0h1m1 0h1m118 0h1M872 951h1m13 0h1m41 0h1M875 952h1m2 0h1m1 0h1m1 0h1m37 0h1m1 0h1m111 0h1m1 0h1M1033 953h1M1002 954h1m29 0h1M1003 955h1m27 0h1M1005 956h1m1 0h1m20 0h1M1027 957h1M1019 958h1m4 0h1m1 0h1M985 959h1M984 960h1M981 963h1M981 968h1M981 970h1M963 981h1m4 0h1m1 0h1M98 983h1M960 984h1m58 0h1m1 0h1m1 0h1M922 985h1m1 0h1m34 0h1m58 0h1m8 0h1M1031 986h1M915 987h1m18 0h1m76 0h1m20 0h1M913 989h1m23 0h1M912 990h1m25 0h1m97 0h1M910 992h1M907 993h1M908 994h1m92 0h1M947 995h1M948 996h1M910 997h1m127 0h1M1038 1000h1M938 1001h1m55 0h1M954 1002h1M955 1003h1M1038 1004h1M956 1005h1M956 1007h1m81 0h1M917 1008h1m2 0h1m1 0h1m8 0h1M926 1009h1m111 0h1m41 0h1M987 1011h1m50 0h1M928 1012h1M928 1016h1M1035 1017h1m43 0h1M985 1018h1m48 0h1M928 1019h1m29 0h1m25 0h1m48 0h1M1032 1020h1M928 1021h1m55 0h1M928 1023h1m55 0h1m95 0h1M958 1024h1M929 1025h1m150 0h1M930 1026h1m27 0h1M957 1027h1m27 0h1M956 1028h1m123 0h1M935 1030h1m144 0h1M937 1031h1m1 0h1m15 0h1m30 0h1M943 1032h1m10 0h1m32 0h1m32 0h1m59 0h1M944 1033h1m1 0h1m6 0h1m65 0h1M948 1034h1m1 0h1m1 0h1m65 0h1M1017 1035h1M952 1036h1m37 0h1M997 1038h1m2 0h1m3 0h1m2 0h1m1 0h1m1 0h1M1080 1039h1M1017 1079h1M34 1080h1m974 0h1m13 0h1m1 0h1m2 0h1m1 0h1m1 0h1m6 0h1"/>
</g>
<path stroke="rgb(150,180,140)" stroke-width="4" stroke-opacity="0.55" stroke-linecap="round" stroke-linejoin="round" d=""/>
<path stroke="rgb(235,160,40)" stroke-width="2" stroke-dasharray="2 4" d=""/>
<path stroke="rgb(125,172,170)" stroke-width="17" d="M237 1751.25L1864 124.25"/>
<path stroke="rgb(178,202,125)" stroke-width="12" d="M237 1751.25L1864 124.25"/>
<path stroke="rgb(255,150,0)" stroke-width="7" d="M237 1751.25L1864 124.25"/>
<path stroke="rgb(255,10,0)" stroke-width="4" d="M237 1751.25L1864 124.25"/>
<path stroke="rgb(240,244,255)" stroke-width="1.1" d="M600.5 120V1756M1325.5 120V1756M230 393.5H1870M230 1118.5H1870"/>
</g>
<rect x="235" y="122.5" width="1631.25" height="1630.75" fill="none" stroke="#000" stroke-width="5.5" stroke-linejoin="round"/>
<rect x="1889" y="122.5" width="12.3" height="102" fill="rgb(0,0,255)"/><rect x="1889" y="224" width="12.3" height="102.45" fill="rgb(70,130,180)"/><rect x="1889" y="325.95" width="12.3" height="102.45" fill="rgb(82,138,173)"/><rect x="1889" y="427.9" width="12.3" height="102.45" fill="rgb(95,146,166)"/><rect x="1889" y="529.85" width="12.3" height="102.45" fill="rgb(108,154,159)"/><rect x="1889" y="631.8" width="12.3" height="102.45" fill="rgb(120,162,152)"/><rect x="1889" y="733.75" width="12.3" height="102.45" fill="rgb(132,171,146)"/><rect x="1889" y="835.7" width="12.3" height="102.45" fill="rgb(145,179,139)"/><rect x="1889" y="937.65" width="12.3" height="102.45" fill="rgb(158,187,132)"/><rect x="1889" y="1039.6" width="12.3" height="102.45" fill="rgb(170,195,125)"/><rect x="1889" y="1141.55" width="12.3" height="102.45" fill="rgb(255,165,0)"/><rect x="1889" y="1243.5" width="12.3" height="102.45" fill="rgb(255,132,0)"/><rect x="1889" y="1345.45" width="12.3" height="102.45" fill="rgb(255,99,0)"/><rect x="1889" y="1447.4" width="12.3" height="102.45" fill="rgb(255,66,0)"/><rect x="1889" y="1549.35" width="12.3" height="102.45" fill="rgb(255,33,0)"/><rect x="1889" y="1651.3" width="12.3" height="102.45" fill="rgb(255,0,0)"/>
<rect x="1889" y="122.5" width="12.3" height="1630.75" fill="none" stroke="#000" stroke-width="5.5" stroke-linejoin="round"/>
<g stroke="#000" stroke-width="5.5" stroke-linecap="round" fill="none"><path d="M235 1454.75h-5.5M1866.25 1454.75h5.5M533.5 1753.25v5.5M533.5 122.5v-5.5"/><path d="M235 1154.75h-5.5M1866.25 1154.75h5.5M833.5 1753.25v5.5M833.5 122.5v-5.5"/><path d="M235 854.75h-5.5M1866.25 854.75h5.5M1133.5 1753.25v5.5M1133.5 122.5v-5.5"/><path d="M235 554.75h-5.5M1866.25 554.75h5.5M1433.5 1753.25v5.5M1433.5 122.5v-5.5"/><path d="M235 254.75h-5.5M1866.25 254.75h5.5M1733.5 1753.25v5.5M1733.5 122.5v-5.5"/><path d="M1901.3 222.5h4.7"/><path d="M1901.3 619.7h4.7"/><path d="M1901.3 1016.9h4.7"/><path d="M1901.3 1414.1h4.7"/></g>
<g font-size="63.5"><text transform="translate(224.3 1478.05) scale(0.945 1)" text-anchor="end">200</text><text transform="translate(533.5 1810.3) scale(0.945 1)" text-anchor="middle">200</text><text transform="translate(224.3 1178.05) scale(0.945 1)" text-anchor="end">400</text><text transform="translate(833.5 1810.3) scale(0.945 1)" text-anchor="middle">400</text><text transform="translate(224.3 878.05) scale(0.945 1)" text-anchor="end">600</text><text transform="translate(1133.5 1810.3) scale(0.945 1)" text-anchor="middle">600</text><text transform="translate(224.3 578.05) scale(0.945 1)" text-anchor="end">800</text><text transform="translate(1433.5 1810.3) scale(0.945 1)" text-anchor="middle">800</text><text transform="translate(224.3 278.05) scale(0.945 1)" text-anchor="end">1000</text><text transform="translate(1733.5 1810.3) scale(0.945 1)" text-anchor="middle">1000</text></g>
<g font-size="61">
<text transform="translate(1050.9 1865.2) scale(0.98 1)" text-anchor="middle">Residue index</text>
<text transform="translate(80.7 938.2) rotate(-90) scale(0.98 1)" text-anchor="middle">Residue index</text>
</g>
<g font-size="50"><text transform="translate(1909.6 240.2) scale(0.96 1)">20</text><text transform="translate(1909.6 637.4) scale(0.96 1)">15</text><text transform="translate(1909.6 1034.6) scale(0.96 1)">10</text><text transform="translate(1909.6 1431.8) scale(0.96 1)">5</text></g>
</svg>
</body></html>
